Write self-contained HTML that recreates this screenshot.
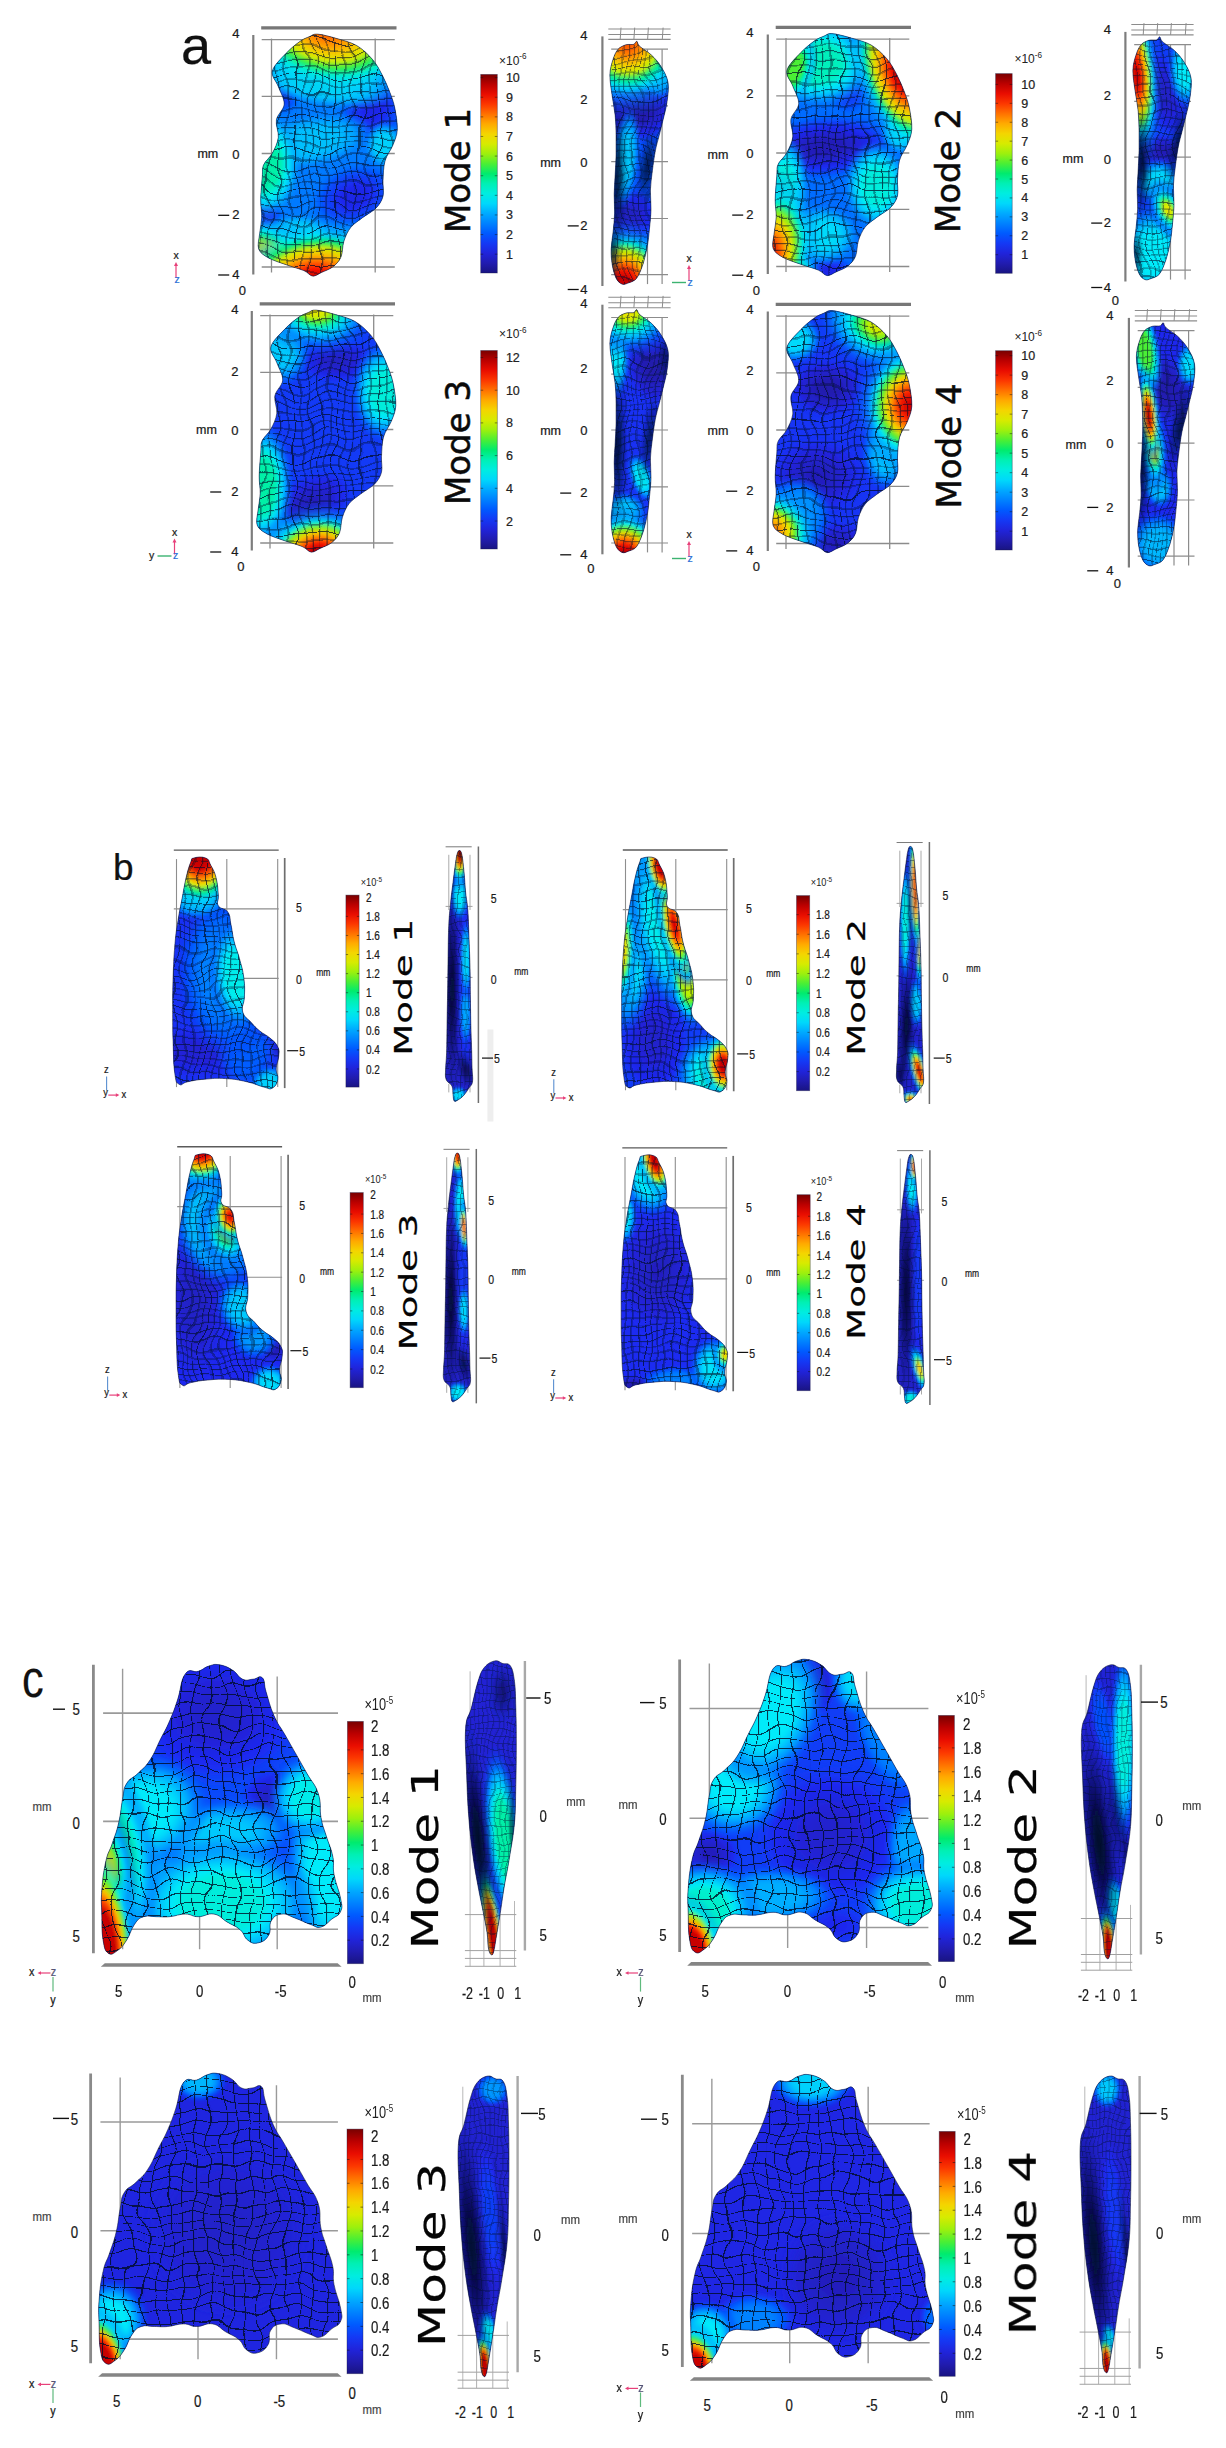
<!DOCTYPE html>
<html><head><meta charset="utf-8"><title>Mode shapes</title>
<style>
html,body{margin:0;padding:0;background:#fff}
svg{display:block}
.ls{font-family:"Liberation Sans",sans-serif}
.dv{font-family:"DejaVu Sans","Liberation Sans",sans-serif}
</style></head><body>
<svg width="1226" height="2448" viewBox="0 0 1226 2448">
<defs>
<linearGradient id="jet" x1="0" y1="0" x2="0" y2="1"><stop offset="0.000" stop-color="#780000"/><stop offset="0.050" stop-color="#bb0000"/><stop offset="0.100" stop-color="#e90d00"/><stop offset="0.150" stop-color="#fc3700"/><stop offset="0.200" stop-color="#ff7100"/><stop offset="0.250" stop-color="#ffaa00"/><stop offset="0.300" stop-color="#f4d500"/><stop offset="0.350" stop-color="#d7eb00"/><stop offset="0.400" stop-color="#9df00d"/><stop offset="0.450" stop-color="#4bef34"/><stop offset="0.500" stop-color="#00eb6e"/><stop offset="0.550" stop-color="#00f0b4"/><stop offset="0.600" stop-color="#00ede0"/><stop offset="0.650" stop-color="#00d8fb"/><stop offset="0.700" stop-color="#00aaff"/><stop offset="0.750" stop-color="#0082ff"/><stop offset="0.800" stop-color="#005aff"/><stop offset="0.850" stop-color="#1439f5"/><stop offset="0.900" stop-color="#2024db"/><stop offset="0.950" stop-color="#211cb0"/><stop offset="1.000" stop-color="#191482"/></linearGradient>
<pattern id="m1" width="8.4" height="7.6" patternUnits="userSpaceOnUse"><path d="M0 0.5H8.4M0.5 0V7.6" stroke="#050c28" stroke-width="1.0" fill="none"/></pattern>
<pattern id="m2" width="5.6" height="6.6" patternUnits="userSpaceOnUse"><path d="M0 0.5H5.6M0.5 0V6.6" stroke="#06102c" stroke-width="0.8" fill="none"/></pattern>
<pattern id="m3" width="13" height="11" patternUnits="userSpaceOnUse"><path d="M0 0.5H13M0.5 0V11" stroke="#050c28" stroke-width="1.1" fill="none"/></pattern>
<filter id="wf" x="-5%" y="-5%" width="110%" height="110%"><feTurbulence type="fractalNoise" baseFrequency="0.022" numOctaves="2" seed="7" result="n"/><feDisplacementMap in="SourceGraphic" in2="n" scale="26" xChannelSelector="R" yChannelSelector="G"/><feGaussianBlur stdDeviation="0.35"/></filter>
<pattern id="m5" width="6.8" height="7.2" patternUnits="userSpaceOnUse"><path d="M0 0.5H6.8M0.5 0V7.2" stroke="#050c28" stroke-width="0.9" fill="none"/></pattern>
<pattern id="m4" width="4.6" height="7" patternUnits="userSpaceOnUse"><path d="M0 0.5H4.6M0.5 0V7" stroke="#06102c" stroke-width="0.7" fill="none"/></pattern>
<filter id="wf2" x="-5%" y="-5%" width="110%" height="110%"><feTurbulence type="fractalNoise" baseFrequency="0.03" numOctaves="2" seed="3" result="n"/><feDisplacementMap in="SourceGraphic" in2="n" scale="16" xChannelSelector="R" yChannelSelector="G"/><feGaussianBlur stdDeviation="0.35"/></filter>
<filter id="bl" x="-10%" y="-10%" width="120%" height="120%"><feGaussianBlur stdDeviation="1.5"/></filter>
<clipPath id="c1"><path d="M317.5 34.1C322.1 34.4 330.5 36.7 337.0 38.6C343.5 40.5 350.7 42.1 356.6 45.5C362.5 48.9 368.1 54.3 372.3 59.2C376.6 64.1 379.2 69.3 382.1 74.8C385.0 80.3 387.8 86.9 389.9 92.4C392.0 98.0 393.6 101.9 394.8 108.1C396.0 114.3 397.6 123.4 397.3 129.6C397.0 135.8 394.9 140.1 392.8 145.3C390.8 150.5 386.6 155.1 385.0 161.0C383.4 166.9 383.3 174.6 383.0 180.5C382.7 186.4 384.1 191.6 383.0 196.2C381.9 200.8 379.6 204.3 376.2 207.9C372.8 211.5 366.8 214.4 362.5 217.7C358.2 221.0 353.8 223.6 350.7 227.5C347.6 231.4 345.5 236.3 343.9 241.2C342.3 246.1 342.8 252.6 341.0 256.9C339.2 261.1 336.4 264.1 333.1 266.7C329.8 269.3 324.8 270.9 321.4 272.5C318.0 274.1 315.5 276.4 312.6 276.1C309.7 275.8 308.2 272.5 303.8 270.6C299.4 268.7 292.0 266.8 286.1 264.7C280.2 262.6 273.1 260.5 268.5 257.9C263.9 255.3 260.2 253.2 258.7 249.1C257.2 245.0 259.2 238.6 259.7 233.4C260.2 228.2 261.5 223.2 261.7 217.7C261.9 212.1 260.6 206.9 260.7 200.1C260.8 193.2 261.8 182.5 262.3 176.6C262.8 170.7 261.9 168.8 263.6 164.9C265.3 161.0 269.9 157.7 272.4 153.1C274.8 148.5 277.6 143.1 278.3 137.5C279.0 131.9 275.4 125.3 276.4 119.8C277.4 114.2 283.9 109.7 284.2 104.2C284.5 98.7 280.3 92.1 278.3 86.6C276.3 81.0 271.1 76.5 272.4 70.9C273.7 65.4 281.5 58.2 286.1 53.3C290.7 48.4 295.9 44.3 299.8 41.5C303.7 38.7 306.7 37.8 309.6 36.6C312.6 35.4 312.9 33.8 317.5 34.1Z"/></clipPath>
<radialGradient id="g2"><stop offset="0.00" stop-color="#1f26e4" stop-opacity="1.00"/><stop offset="0.10" stop-color="#1f26e4" stop-opacity="1.00"/><stop offset="0.20" stop-color="#1f26e7" stop-opacity="1.00"/><stop offset="0.30" stop-color="#1e28ee" stop-opacity="1.00"/><stop offset="0.40" stop-color="#1a2ff2" stop-opacity="1.00"/><stop offset="0.50" stop-color="#133af5" stop-opacity="1.00"/><stop offset="0.60" stop-color="#0d45f9" stop-opacity="1.00"/><stop offset="0.70" stop-color="#0650fc" stop-opacity="1.00"/><stop offset="0.80" stop-color="#005aff" stop-opacity="0.71"/><stop offset="0.90" stop-color="#0063ff" stop-opacity="0.36"/><stop offset="1.00" stop-color="#006bff" stop-opacity="0.00"/></radialGradient>
<radialGradient id="g3"><stop offset="0.00" stop-color="#00c0fd" stop-opacity="1.00"/><stop offset="0.10" stop-color="#00c0fd" stop-opacity="1.00"/><stop offset="0.20" stop-color="#00c0fd" stop-opacity="1.00"/><stop offset="0.30" stop-color="#00c0fd" stop-opacity="1.00"/><stop offset="0.40" stop-color="#00bffd" stop-opacity="1.00"/><stop offset="0.50" stop-color="#00b9fe" stop-opacity="1.00"/><stop offset="0.60" stop-color="#00adff" stop-opacity="1.00"/><stop offset="0.70" stop-color="#00a1ff" stop-opacity="1.00"/><stop offset="0.80" stop-color="#0095ff" stop-opacity="0.71"/><stop offset="0.90" stop-color="#008bff" stop-opacity="0.36"/><stop offset="1.00" stop-color="#0084ff" stop-opacity="0.00"/></radialGradient>
<radialGradient id="g4"><stop offset="0.00" stop-color="#00d1fc" stop-opacity="1.00"/><stop offset="0.10" stop-color="#00d1fc" stop-opacity="1.00"/><stop offset="0.20" stop-color="#00d1fc" stop-opacity="1.00"/><stop offset="0.30" stop-color="#00d1fc" stop-opacity="1.00"/><stop offset="0.40" stop-color="#00d0fc" stop-opacity="1.00"/><stop offset="0.50" stop-color="#00c8fd" stop-opacity="1.00"/><stop offset="0.60" stop-color="#00bafe" stop-opacity="1.00"/><stop offset="0.70" stop-color="#00a9ff" stop-opacity="1.00"/><stop offset="0.80" stop-color="#009bff" stop-opacity="0.71"/><stop offset="0.90" stop-color="#008fff" stop-opacity="0.36"/><stop offset="1.00" stop-color="#0087ff" stop-opacity="0.00"/></radialGradient>
<radialGradient id="g5"><stop offset="0.00" stop-color="#00dafb" stop-opacity="1.00"/><stop offset="0.10" stop-color="#00dafb" stop-opacity="1.00"/><stop offset="0.20" stop-color="#00dafb" stop-opacity="1.00"/><stop offset="0.30" stop-color="#00dafb" stop-opacity="1.00"/><stop offset="0.40" stop-color="#00d9fb" stop-opacity="1.00"/><stop offset="0.50" stop-color="#00d0fc" stop-opacity="1.00"/><stop offset="0.60" stop-color="#00c1fd" stop-opacity="1.00"/><stop offset="0.70" stop-color="#00aeff" stop-opacity="1.00"/><stop offset="0.80" stop-color="#009eff" stop-opacity="0.71"/><stop offset="0.90" stop-color="#0091ff" stop-opacity="0.36"/><stop offset="1.00" stop-color="#0088ff" stop-opacity="0.00"/></radialGradient>
<radialGradient id="g6"><stop offset="0.00" stop-color="#00ecea" stop-opacity="1.00"/><stop offset="0.10" stop-color="#00ecea" stop-opacity="1.00"/><stop offset="0.20" stop-color="#00ecea" stop-opacity="1.00"/><stop offset="0.30" stop-color="#00ecea" stop-opacity="1.00"/><stop offset="0.40" stop-color="#00eced" stop-opacity="1.00"/><stop offset="0.50" stop-color="#00e7fa" stop-opacity="1.00"/><stop offset="0.60" stop-color="#00d4fc" stop-opacity="1.00"/><stop offset="0.70" stop-color="#00bdfe" stop-opacity="1.00"/><stop offset="0.80" stop-color="#00a7ff" stop-opacity="0.71"/><stop offset="0.90" stop-color="#0097ff" stop-opacity="0.36"/><stop offset="1.00" stop-color="#008bff" stop-opacity="0.00"/></radialGradient>
<radialGradient id="g7"><stop offset="0.00" stop-color="#00efa6" stop-opacity="1.00"/><stop offset="0.10" stop-color="#00efa6" stop-opacity="1.00"/><stop offset="0.20" stop-color="#00efa6" stop-opacity="1.00"/><stop offset="0.30" stop-color="#00efa6" stop-opacity="1.00"/><stop offset="0.40" stop-color="#00efab" stop-opacity="1.00"/><stop offset="0.50" stop-color="#00efc8" stop-opacity="1.00"/><stop offset="0.60" stop-color="#00ebf5" stop-opacity="1.00"/><stop offset="0.70" stop-color="#00d1fc" stop-opacity="1.00"/><stop offset="0.80" stop-color="#00b4fe" stop-opacity="0.71"/><stop offset="0.90" stop-color="#009eff" stop-opacity="0.36"/><stop offset="1.00" stop-color="#008fff" stop-opacity="0.00"/></radialGradient>
<radialGradient id="g8"><stop offset="0.00" stop-color="#ff9f00" stop-opacity="1.00"/><stop offset="0.10" stop-color="#ffab00" stop-opacity="1.00"/><stop offset="0.20" stop-color="#f8c600" stop-opacity="1.00"/><stop offset="0.30" stop-color="#e9e700" stop-opacity="1.00"/><stop offset="0.40" stop-color="#90f012" stop-opacity="1.00"/><stop offset="0.50" stop-color="#00ee93" stop-opacity="1.00"/><stop offset="0.60" stop-color="#00eafa" stop-opacity="0.99"/><stop offset="0.70" stop-color="#00c2fd" stop-opacity="0.65"/><stop offset="0.80" stop-color="#00a4ff" stop-opacity="0.40"/><stop offset="0.90" stop-color="#0093ff" stop-opacity="0.16"/><stop offset="1.00" stop-color="#0088ff" stop-opacity="0.00"/></radialGradient>
<radialGradient id="g9"><stop offset="0.00" stop-color="#ff5f00" stop-opacity="1.00"/><stop offset="0.10" stop-color="#ff6d00" stop-opacity="1.00"/><stop offset="0.20" stop-color="#ff9700" stop-opacity="1.00"/><stop offset="0.30" stop-color="#f7c900" stop-opacity="1.00"/><stop offset="0.40" stop-color="#d9eb00" stop-opacity="1.00"/><stop offset="0.50" stop-color="#2eee4a" stop-opacity="1.00"/><stop offset="0.60" stop-color="#00edd9" stop-opacity="0.99"/><stop offset="0.70" stop-color="#00cefc" stop-opacity="0.65"/><stop offset="0.80" stop-color="#00abff" stop-opacity="0.40"/><stop offset="0.90" stop-color="#0097ff" stop-opacity="0.16"/><stop offset="1.00" stop-color="#008aff" stop-opacity="0.00"/></radialGradient>
<radialGradient id="g10"><stop offset="0.00" stop-color="#c80000" stop-opacity="1.00"/><stop offset="0.10" stop-color="#d30400" stop-opacity="1.00"/><stop offset="0.20" stop-color="#fa1400" stop-opacity="1.00"/><stop offset="0.30" stop-color="#ff6600" stop-opacity="1.00"/><stop offset="0.40" stop-color="#fbbc00" stop-opacity="1.00"/><stop offset="0.50" stop-color="#d6eb00" stop-opacity="1.00"/><stop offset="0.60" stop-color="#00eb6f" stop-opacity="0.99"/><stop offset="0.70" stop-color="#00ebfa" stop-opacity="0.65"/><stop offset="0.80" stop-color="#00bdfe" stop-opacity="0.40"/><stop offset="0.90" stop-color="#00a0ff" stop-opacity="0.16"/><stop offset="1.00" stop-color="#008fff" stop-opacity="0.00"/></radialGradient>
<clipPath id="c11"><path d="M832.0 33.6C836.6 33.9 845.0 36.2 851.5 38.1C858.0 40.0 865.2 41.6 871.1 45.0C877.0 48.4 882.5 53.8 886.8 58.7C891.0 63.6 893.7 68.8 896.6 74.3C899.5 79.8 902.3 86.4 904.4 91.9C906.5 97.5 908.1 101.4 909.3 107.6C910.5 113.8 912.1 122.9 911.8 129.1C911.5 135.3 909.3 139.6 907.3 144.8C905.2 150.0 901.1 154.6 899.5 160.5C897.9 166.4 897.8 174.1 897.5 180.0C897.2 185.9 898.6 191.1 897.5 195.7C896.4 200.3 894.1 203.8 890.7 207.4C887.3 211.0 881.2 213.9 877.0 217.2C872.8 220.5 868.3 223.1 865.2 227.0C862.1 230.9 860.0 235.8 858.4 240.7C856.8 245.6 857.3 252.1 855.5 256.4C853.7 260.6 850.9 263.6 847.6 266.2C844.3 268.8 839.3 270.4 835.9 272.0C832.5 273.6 830.0 275.9 827.1 275.6C824.2 275.3 822.7 272.0 818.3 270.1C813.9 268.2 806.5 266.3 800.6 264.2C794.7 262.1 787.6 260.0 783.0 257.4C778.4 254.8 774.7 252.7 773.2 248.6C771.7 244.5 773.7 238.1 774.2 232.9C774.7 227.7 776.0 222.8 776.2 217.2C776.4 211.6 775.1 206.4 775.2 199.6C775.3 192.8 776.3 182.0 776.8 176.1C777.3 170.2 776.4 168.3 778.1 164.4C779.8 160.5 784.5 157.2 786.9 152.6C789.3 148.0 792.1 142.6 792.8 137.0C793.5 131.4 789.9 124.8 790.9 119.3C791.9 113.8 798.4 109.2 798.7 103.7C799.0 98.2 794.8 91.6 792.8 86.1C790.8 80.5 785.6 76.0 786.9 70.4C788.2 64.9 796.0 57.7 800.6 52.8C805.2 47.9 810.4 43.8 814.3 41.0C818.2 38.2 821.1 37.3 824.1 36.1C827.1 34.9 827.4 33.3 832.0 33.6Z"/></clipPath>
<radialGradient id="g12"><stop offset="0.00" stop-color="#221db5" stop-opacity="1.00"/><stop offset="0.10" stop-color="#221db5" stop-opacity="1.00"/><stop offset="0.20" stop-color="#231eb8" stop-opacity="1.00"/><stop offset="0.30" stop-color="#2220c2" stop-opacity="1.00"/><stop offset="0.40" stop-color="#2122d0" stop-opacity="1.00"/><stop offset="0.50" stop-color="#1f25e1" stop-opacity="1.00"/><stop offset="0.60" stop-color="#1c2bf1" stop-opacity="1.00"/><stop offset="0.70" stop-color="#1439f5" stop-opacity="1.00"/><stop offset="0.80" stop-color="#0c45f9" stop-opacity="0.71"/><stop offset="0.90" stop-color="#0650fc" stop-opacity="0.36"/><stop offset="1.00" stop-color="#0158fe" stop-opacity="0.00"/></radialGradient>
<radialGradient id="g13"><stop offset="0.00" stop-color="#1f26e4" stop-opacity="1.00"/><stop offset="0.10" stop-color="#1f26e4" stop-opacity="1.00"/><stop offset="0.20" stop-color="#1f26e6" stop-opacity="1.00"/><stop offset="0.30" stop-color="#1e27ed" stop-opacity="1.00"/><stop offset="0.40" stop-color="#1b2df1" stop-opacity="1.00"/><stop offset="0.50" stop-color="#1636f4" stop-opacity="1.00"/><stop offset="0.60" stop-color="#103ff7" stop-opacity="1.00"/><stop offset="0.70" stop-color="#0a49fa" stop-opacity="1.00"/><stop offset="0.80" stop-color="#0551fc" stop-opacity="0.71"/><stop offset="0.90" stop-color="#0158fe" stop-opacity="0.36"/><stop offset="1.00" stop-color="#005eff" stop-opacity="0.00"/></radialGradient>
<radialGradient id="g14"><stop offset="0.00" stop-color="#1537f5" stop-opacity="1.00"/><stop offset="0.10" stop-color="#1537f5" stop-opacity="1.00"/><stop offset="0.20" stop-color="#1438f5" stop-opacity="1.00"/><stop offset="0.30" stop-color="#123cf6" stop-opacity="1.00"/><stop offset="0.40" stop-color="#0f41f7" stop-opacity="1.00"/><stop offset="0.50" stop-color="#0c47f9" stop-opacity="1.00"/><stop offset="0.60" stop-color="#084dfb" stop-opacity="1.00"/><stop offset="0.70" stop-color="#0453fd" stop-opacity="1.00"/><stop offset="0.80" stop-color="#0159ff" stop-opacity="0.71"/><stop offset="0.90" stop-color="#005eff" stop-opacity="0.36"/><stop offset="1.00" stop-color="#0063ff" stop-opacity="0.00"/></radialGradient>
<radialGradient id="g15"><stop offset="0.00" stop-color="#00dafb" stop-opacity="1.00"/><stop offset="0.10" stop-color="#00dafb" stop-opacity="1.00"/><stop offset="0.20" stop-color="#00dafb" stop-opacity="1.00"/><stop offset="0.30" stop-color="#00dafb" stop-opacity="1.00"/><stop offset="0.40" stop-color="#00d8fb" stop-opacity="1.00"/><stop offset="0.50" stop-color="#00cefc" stop-opacity="1.00"/><stop offset="0.60" stop-color="#00bcfe" stop-opacity="1.00"/><stop offset="0.70" stop-color="#00a7ff" stop-opacity="1.00"/><stop offset="0.80" stop-color="#0095ff" stop-opacity="0.71"/><stop offset="0.90" stop-color="#0086ff" stop-opacity="0.36"/><stop offset="1.00" stop-color="#007bff" stop-opacity="0.00"/></radialGradient>
<radialGradient id="g16"><stop offset="0.00" stop-color="#00ebfa" stop-opacity="1.00"/><stop offset="0.10" stop-color="#00ebfa" stop-opacity="1.00"/><stop offset="0.20" stop-color="#00ebfa" stop-opacity="1.00"/><stop offset="0.30" stop-color="#00ebfa" stop-opacity="1.00"/><stop offset="0.40" stop-color="#00e9fa" stop-opacity="1.00"/><stop offset="0.50" stop-color="#00defb" stop-opacity="1.00"/><stop offset="0.60" stop-color="#00c9fd" stop-opacity="1.00"/><stop offset="0.70" stop-color="#00b1fe" stop-opacity="1.00"/><stop offset="0.80" stop-color="#009bff" stop-opacity="0.71"/><stop offset="0.90" stop-color="#008aff" stop-opacity="0.36"/><stop offset="1.00" stop-color="#007dff" stop-opacity="0.00"/></radialGradient>
<radialGradient id="g17"><stop offset="0.00" stop-color="#00eddb" stop-opacity="1.00"/><stop offset="0.10" stop-color="#00eddb" stop-opacity="1.00"/><stop offset="0.20" stop-color="#00eddb" stop-opacity="1.00"/><stop offset="0.30" stop-color="#00eddb" stop-opacity="1.00"/><stop offset="0.40" stop-color="#00edde" stop-opacity="1.00"/><stop offset="0.50" stop-color="#00ebf6" stop-opacity="1.00"/><stop offset="0.60" stop-color="#00d6fc" stop-opacity="1.00"/><stop offset="0.70" stop-color="#00bbfe" stop-opacity="1.00"/><stop offset="0.80" stop-color="#00a1ff" stop-opacity="0.71"/><stop offset="0.90" stop-color="#008eff" stop-opacity="0.36"/><stop offset="1.00" stop-color="#0080ff" stop-opacity="0.00"/></radialGradient>
<radialGradient id="g18"><stop offset="0.00" stop-color="#00f0bb" stop-opacity="1.00"/><stop offset="0.10" stop-color="#00f0bb" stop-opacity="1.00"/><stop offset="0.20" stop-color="#00f0bb" stop-opacity="1.00"/><stop offset="0.30" stop-color="#00f0bb" stop-opacity="1.00"/><stop offset="0.40" stop-color="#00efbf" stop-opacity="1.00"/><stop offset="0.50" stop-color="#00edd9" stop-opacity="1.00"/><stop offset="0.60" stop-color="#00e3fb" stop-opacity="1.00"/><stop offset="0.70" stop-color="#00c5fd" stop-opacity="1.00"/><stop offset="0.80" stop-color="#00a7ff" stop-opacity="0.71"/><stop offset="0.90" stop-color="#0092ff" stop-opacity="0.36"/><stop offset="1.00" stop-color="#0082ff" stop-opacity="0.00"/></radialGradient>
<radialGradient id="g19"><stop offset="0.00" stop-color="#4bef34" stop-opacity="1.00"/><stop offset="0.10" stop-color="#4bef34" stop-opacity="1.00"/><stop offset="0.20" stop-color="#4bef34" stop-opacity="1.00"/><stop offset="0.30" stop-color="#4bef34" stop-opacity="1.00"/><stop offset="0.40" stop-color="#43ef3a" stop-opacity="1.00"/><stop offset="0.50" stop-color="#07eb68" stop-opacity="1.00"/><stop offset="0.60" stop-color="#00efc1" stop-opacity="1.00"/><stop offset="0.70" stop-color="#00e2fb" stop-opacity="1.00"/><stop offset="0.80" stop-color="#00bbfe" stop-opacity="0.71"/><stop offset="0.90" stop-color="#009dff" stop-opacity="0.36"/><stop offset="1.00" stop-color="#0088ff" stop-opacity="0.00"/></radialGradient>
<radialGradient id="g20"><stop offset="0.00" stop-color="#f3d800" stop-opacity="1.00"/><stop offset="0.10" stop-color="#f1e000" stop-opacity="1.00"/><stop offset="0.20" stop-color="#dfe900" stop-opacity="1.00"/><stop offset="0.30" stop-color="#94f011" stop-opacity="1.00"/><stop offset="0.40" stop-color="#00ec79" stop-opacity="1.00"/><stop offset="0.50" stop-color="#00ece9" stop-opacity="1.00"/><stop offset="0.60" stop-color="#00c9fd" stop-opacity="0.99"/><stop offset="0.70" stop-color="#00a6ff" stop-opacity="0.65"/><stop offset="0.80" stop-color="#0090ff" stop-opacity="0.40"/><stop offset="0.90" stop-color="#0081ff" stop-opacity="0.16"/><stop offset="1.00" stop-color="#0077ff" stop-opacity="0.00"/></radialGradient>
<radialGradient id="g21"><stop offset="0.00" stop-color="#f31100" stop-opacity="1.00"/><stop offset="0.10" stop-color="#fb1d00" stop-opacity="1.00"/><stop offset="0.20" stop-color="#fe5000" stop-opacity="1.00"/><stop offset="0.30" stop-color="#ff9a00" stop-opacity="1.00"/><stop offset="0.40" stop-color="#f2de00" stop-opacity="1.00"/><stop offset="0.50" stop-color="#81f018" stop-opacity="1.00"/><stop offset="0.60" stop-color="#00efc1" stop-opacity="0.99"/><stop offset="0.70" stop-color="#00d1fc" stop-opacity="0.65"/><stop offset="0.80" stop-color="#00a7ff" stop-opacity="0.40"/><stop offset="0.90" stop-color="#008eff" stop-opacity="0.16"/><stop offset="1.00" stop-color="#007eff" stop-opacity="0.00"/></radialGradient>
<radialGradient id="g22"><stop offset="0.00" stop-color="#c80000" stop-opacity="1.00"/><stop offset="0.10" stop-color="#d30400" stop-opacity="1.00"/><stop offset="0.20" stop-color="#fa1700" stop-opacity="1.00"/><stop offset="0.30" stop-color="#ff6a00" stop-opacity="1.00"/><stop offset="0.40" stop-color="#f9c100" stop-opacity="1.00"/><stop offset="0.50" stop-color="#cfed00" stop-opacity="1.00"/><stop offset="0.60" stop-color="#00ee92" stop-opacity="0.99"/><stop offset="0.70" stop-color="#00ddfb" stop-opacity="0.65"/><stop offset="0.80" stop-color="#00aeff" stop-opacity="0.40"/><stop offset="0.90" stop-color="#0092ff" stop-opacity="0.16"/><stop offset="1.00" stop-color="#0080ff" stop-opacity="0.00"/></radialGradient>
<clipPath id="c23"><path d="M316.0 310.1C320.6 310.4 329.0 312.7 335.5 314.6C342.0 316.5 349.2 318.1 355.1 321.5C361.0 324.9 366.6 330.3 370.8 335.2C375.1 340.1 377.7 345.3 380.6 350.8C383.5 356.3 386.3 362.8 388.4 368.4C390.5 373.9 392.1 377.9 393.3 384.1C394.5 390.3 396.1 399.4 395.8 405.6C395.5 411.8 393.4 416.1 391.3 421.3C389.2 426.5 385.1 431.1 383.5 437.0C381.9 442.9 381.8 450.6 381.5 456.5C381.2 462.4 382.6 467.6 381.5 472.2C380.4 476.8 378.1 480.3 374.7 483.9C371.3 487.5 365.2 490.4 361.0 493.7C356.8 497.0 352.3 499.6 349.2 503.5C346.1 507.4 344.0 512.3 342.4 517.2C340.8 522.1 341.3 528.6 339.5 532.9C337.7 537.1 334.9 540.1 331.6 542.7C328.3 545.3 323.3 546.9 319.9 548.5C316.5 550.1 314.0 552.4 311.1 552.1C308.2 551.8 306.7 548.5 302.3 546.6C297.9 544.7 290.5 542.8 284.6 540.7C278.7 538.6 271.6 536.5 267.0 533.9C262.4 531.3 258.7 529.2 257.2 525.1C255.7 521.0 257.7 514.6 258.2 509.4C258.7 504.2 260.0 499.2 260.2 493.7C260.4 488.1 259.1 483.0 259.2 476.1C259.3 469.2 260.3 458.5 260.8 452.6C261.3 446.7 260.4 444.8 262.1 440.9C263.8 437.0 268.4 433.7 270.9 429.1C273.3 424.5 276.1 419.1 276.8 413.5C277.5 407.9 273.9 401.4 274.9 395.8C275.9 390.2 282.4 385.7 282.7 380.2C283.0 374.7 278.8 368.2 276.8 362.6C274.8 357.1 269.6 352.4 270.9 346.9C272.2 341.3 280.0 334.2 284.6 329.3C289.2 324.4 294.4 320.3 298.3 317.5C302.2 314.7 305.2 313.8 308.1 312.6C311.1 311.4 311.4 309.8 316.0 310.1Z"/></clipPath>
<radialGradient id="g24"><stop offset="0.00" stop-color="#231fbd" stop-opacity="1.00"/><stop offset="0.10" stop-color="#231fbd" stop-opacity="1.00"/><stop offset="0.20" stop-color="#221fbf" stop-opacity="1.00"/><stop offset="0.30" stop-color="#2220c4" stop-opacity="1.00"/><stop offset="0.40" stop-color="#2121cb" stop-opacity="1.00"/><stop offset="0.50" stop-color="#2123d4" stop-opacity="1.00"/><stop offset="0.60" stop-color="#2025de" stop-opacity="1.00"/><stop offset="0.70" stop-color="#1f26e7" stop-opacity="1.00"/><stop offset="0.80" stop-color="#1e28f0" stop-opacity="0.71"/><stop offset="0.90" stop-color="#1b2df2" stop-opacity="0.36"/><stop offset="1.00" stop-color="#1832f3" stop-opacity="0.00"/></radialGradient>
<radialGradient id="g25"><stop offset="0.00" stop-color="#2220c5" stop-opacity="1.00"/><stop offset="0.10" stop-color="#2220c5" stop-opacity="1.00"/><stop offset="0.20" stop-color="#2220c6" stop-opacity="1.00"/><stop offset="0.30" stop-color="#2121cb" stop-opacity="1.00"/><stop offset="0.40" stop-color="#2122d2" stop-opacity="1.00"/><stop offset="0.50" stop-color="#2024da" stop-opacity="1.00"/><stop offset="0.60" stop-color="#1f26e2" stop-opacity="1.00"/><stop offset="0.70" stop-color="#1e27eb" stop-opacity="1.00"/><stop offset="0.80" stop-color="#1d2af1" stop-opacity="0.71"/><stop offset="0.90" stop-color="#1a2ff2" stop-opacity="0.36"/><stop offset="1.00" stop-color="#1833f3" stop-opacity="0.00"/></radialGradient>
<radialGradient id="g26"><stop offset="0.00" stop-color="#00c9fd" stop-opacity="1.00"/><stop offset="0.10" stop-color="#00c9fd" stop-opacity="1.00"/><stop offset="0.20" stop-color="#00c9fd" stop-opacity="1.00"/><stop offset="0.30" stop-color="#00c9fd" stop-opacity="1.00"/><stop offset="0.40" stop-color="#00c7fd" stop-opacity="1.00"/><stop offset="0.50" stop-color="#00b9fe" stop-opacity="1.00"/><stop offset="0.60" stop-color="#00a1ff" stop-opacity="1.00"/><stop offset="0.70" stop-color="#0087ff" stop-opacity="1.00"/><stop offset="0.80" stop-color="#006eff" stop-opacity="0.71"/><stop offset="0.90" stop-color="#0059ff" stop-opacity="0.36"/><stop offset="1.00" stop-color="#084cfb" stop-opacity="0.00"/></radialGradient>
<radialGradient id="g27"><stop offset="0.00" stop-color="#00ebfa" stop-opacity="1.00"/><stop offset="0.10" stop-color="#00ebfa" stop-opacity="1.00"/><stop offset="0.20" stop-color="#00ebfa" stop-opacity="1.00"/><stop offset="0.30" stop-color="#00ebfa" stop-opacity="1.00"/><stop offset="0.40" stop-color="#00e9fa" stop-opacity="1.00"/><stop offset="0.50" stop-color="#00d8fb" stop-opacity="1.00"/><stop offset="0.60" stop-color="#00bafe" stop-opacity="1.00"/><stop offset="0.70" stop-color="#0098ff" stop-opacity="1.00"/><stop offset="0.80" stop-color="#007aff" stop-opacity="0.71"/><stop offset="0.90" stop-color="#0061ff" stop-opacity="0.36"/><stop offset="1.00" stop-color="#0650fc" stop-opacity="0.00"/></radialGradient>
<radialGradient id="g28"><stop offset="0.00" stop-color="#00edda" stop-opacity="1.00"/><stop offset="0.10" stop-color="#00edda" stop-opacity="1.00"/><stop offset="0.20" stop-color="#00edda" stop-opacity="1.00"/><stop offset="0.30" stop-color="#00edda" stop-opacity="1.00"/><stop offset="0.40" stop-color="#00eddf" stop-opacity="1.00"/><stop offset="0.50" stop-color="#00e7fa" stop-opacity="1.00"/><stop offset="0.60" stop-color="#00c7fd" stop-opacity="1.00"/><stop offset="0.70" stop-color="#00a1ff" stop-opacity="1.00"/><stop offset="0.80" stop-color="#0080ff" stop-opacity="0.71"/><stop offset="0.90" stop-color="#0065ff" stop-opacity="0.36"/><stop offset="1.00" stop-color="#0552fd" stop-opacity="0.00"/></radialGradient>
<radialGradient id="g29"><stop offset="0.00" stop-color="#00efa6" stop-opacity="1.00"/><stop offset="0.10" stop-color="#00efa6" stop-opacity="1.00"/><stop offset="0.20" stop-color="#00efa6" stop-opacity="1.00"/><stop offset="0.30" stop-color="#00efa6" stop-opacity="1.00"/><stop offset="0.40" stop-color="#00f0ae" stop-opacity="1.00"/><stop offset="0.50" stop-color="#00eed6" stop-opacity="1.00"/><stop offset="0.60" stop-color="#00dafb" stop-opacity="1.00"/><stop offset="0.70" stop-color="#00aeff" stop-opacity="1.00"/><stop offset="0.80" stop-color="#0089ff" stop-opacity="0.71"/><stop offset="0.90" stop-color="#006aff" stop-opacity="0.36"/><stop offset="1.00" stop-color="#0355fd" stop-opacity="0.00"/></radialGradient>
<radialGradient id="g30"><stop offset="0.00" stop-color="#f0e600" stop-opacity="1.00"/><stop offset="0.10" stop-color="#e7e800" stop-opacity="1.00"/><stop offset="0.20" stop-color="#cbed00" stop-opacity="1.00"/><stop offset="0.30" stop-color="#33ee46" stop-opacity="1.00"/><stop offset="0.40" stop-color="#00eed2" stop-opacity="1.00"/><stop offset="0.50" stop-color="#00c9fd" stop-opacity="1.00"/><stop offset="0.60" stop-color="#009aff" stop-opacity="0.99"/><stop offset="0.70" stop-color="#0077ff" stop-opacity="0.65"/><stop offset="0.80" stop-color="#005eff" stop-opacity="0.40"/><stop offset="0.90" stop-color="#074ffc" stop-opacity="0.16"/><stop offset="1.00" stop-color="#0c45f9" stop-opacity="0.00"/></radialGradient>
<radialGradient id="g31"><stop offset="0.00" stop-color="#c80000" stop-opacity="1.00"/><stop offset="0.10" stop-color="#c80000" stop-opacity="1.00"/><stop offset="0.20" stop-color="#f61200" stop-opacity="1.00"/><stop offset="0.30" stop-color="#ff6e00" stop-opacity="1.00"/><stop offset="0.40" stop-color="#f6ce00" stop-opacity="1.00"/><stop offset="0.50" stop-color="#7ff019" stop-opacity="1.00"/><stop offset="0.60" stop-color="#00ece5" stop-opacity="0.99"/><stop offset="0.70" stop-color="#00aeff" stop-opacity="0.65"/><stop offset="0.80" stop-color="#007fff" stop-opacity="0.40"/><stop offset="0.90" stop-color="#0060ff" stop-opacity="0.16"/><stop offset="1.00" stop-color="#074efb" stop-opacity="0.00"/></radialGradient>
<clipPath id="c32"><path d="M832.0 310.6C836.6 310.9 845.0 313.2 851.5 315.1C858.0 317.0 865.2 318.6 871.1 322.0C877.0 325.4 882.5 330.8 886.8 335.7C891.0 340.6 893.7 345.8 896.6 351.3C899.5 356.8 902.3 363.3 904.4 368.9C906.5 374.4 908.1 378.4 909.3 384.6C910.5 390.8 912.1 399.9 911.8 406.1C911.5 412.3 909.3 416.6 907.3 421.8C905.2 427.0 901.1 431.6 899.5 437.5C897.9 443.4 897.8 451.1 897.5 457.0C897.2 462.9 898.6 468.1 897.5 472.7C896.4 477.3 894.1 480.8 890.7 484.4C887.3 488.0 881.2 490.9 877.0 494.2C872.8 497.5 868.3 500.1 865.2 504.0C862.1 507.9 860.0 512.8 858.4 517.7C856.8 522.6 857.3 529.1 855.5 533.4C853.7 537.6 850.9 540.6 847.6 543.2C844.3 545.8 839.3 547.4 835.9 549.0C832.5 550.6 830.0 552.9 827.1 552.6C824.2 552.3 822.7 549.0 818.3 547.1C813.9 545.2 806.5 543.3 800.6 541.2C794.7 539.1 787.6 537.0 783.0 534.4C778.4 531.8 774.7 529.7 773.2 525.6C771.7 521.5 773.7 515.1 774.2 509.9C774.7 504.7 776.0 499.8 776.2 494.2C776.4 488.6 775.1 483.5 775.2 476.6C775.3 469.8 776.3 459.0 776.8 453.1C777.3 447.2 776.4 445.3 778.1 441.4C779.8 437.5 784.5 434.2 786.9 429.6C789.3 425.0 792.1 419.6 792.8 414.0C793.5 408.4 789.9 401.9 790.9 396.3C791.9 390.8 798.4 386.2 798.7 380.7C799.0 375.2 794.8 368.7 792.8 363.1C790.8 357.6 785.6 352.9 786.9 347.4C788.2 341.8 796.0 334.7 800.6 329.8C805.2 324.9 810.4 320.8 814.3 318.0C818.2 315.2 821.1 314.3 824.1 313.1C827.1 311.9 827.4 310.3 832.0 310.6Z"/></clipPath>
<radialGradient id="g33"><stop offset="0.00" stop-color="#211cac" stop-opacity="1.00"/><stop offset="0.10" stop-color="#211cac" stop-opacity="1.00"/><stop offset="0.20" stop-color="#211cae" stop-opacity="1.00"/><stop offset="0.30" stop-color="#221db4" stop-opacity="1.00"/><stop offset="0.40" stop-color="#231fbd" stop-opacity="1.00"/><stop offset="0.50" stop-color="#2221c7" stop-opacity="1.00"/><stop offset="0.60" stop-color="#2123d2" stop-opacity="1.00"/><stop offset="0.70" stop-color="#2024dc" stop-opacity="1.00"/><stop offset="0.80" stop-color="#1f26e6" stop-opacity="0.71"/><stop offset="0.90" stop-color="#1e27ed" stop-opacity="0.36"/><stop offset="1.00" stop-color="#1c2bf1" stop-opacity="0.00"/></radialGradient>
<radialGradient id="g34"><stop offset="0.00" stop-color="#231fbd" stop-opacity="1.00"/><stop offset="0.10" stop-color="#231fbd" stop-opacity="1.00"/><stop offset="0.20" stop-color="#221fbf" stop-opacity="1.00"/><stop offset="0.30" stop-color="#2220c3" stop-opacity="1.00"/><stop offset="0.40" stop-color="#2121ca" stop-opacity="1.00"/><stop offset="0.50" stop-color="#2123d2" stop-opacity="1.00"/><stop offset="0.60" stop-color="#2024db" stop-opacity="1.00"/><stop offset="0.70" stop-color="#1f26e3" stop-opacity="1.00"/><stop offset="0.80" stop-color="#1f27ea" stop-opacity="0.71"/><stop offset="0.90" stop-color="#1e29f0" stop-opacity="0.36"/><stop offset="1.00" stop-color="#1b2cf1" stop-opacity="0.00"/></radialGradient>
<radialGradient id="g35"><stop offset="0.00" stop-color="#00afff" stop-opacity="1.00"/><stop offset="0.10" stop-color="#00afff" stop-opacity="1.00"/><stop offset="0.20" stop-color="#00afff" stop-opacity="1.00"/><stop offset="0.30" stop-color="#00afff" stop-opacity="1.00"/><stop offset="0.40" stop-color="#00adff" stop-opacity="1.00"/><stop offset="0.50" stop-color="#00a2ff" stop-opacity="1.00"/><stop offset="0.60" stop-color="#008eff" stop-opacity="1.00"/><stop offset="0.70" stop-color="#0077ff" stop-opacity="1.00"/><stop offset="0.80" stop-color="#0061ff" stop-opacity="0.71"/><stop offset="0.90" stop-color="#0650fc" stop-opacity="0.36"/><stop offset="1.00" stop-color="#0d44f9" stop-opacity="0.00"/></radialGradient>
<radialGradient id="g36"><stop offset="0.00" stop-color="#00c9fd" stop-opacity="1.00"/><stop offset="0.10" stop-color="#00c9fd" stop-opacity="1.00"/><stop offset="0.20" stop-color="#00c9fd" stop-opacity="1.00"/><stop offset="0.30" stop-color="#00c9fd" stop-opacity="1.00"/><stop offset="0.40" stop-color="#00c7fd" stop-opacity="1.00"/><stop offset="0.50" stop-color="#00b8fe" stop-opacity="1.00"/><stop offset="0.60" stop-color="#009fff" stop-opacity="1.00"/><stop offset="0.70" stop-color="#0084ff" stop-opacity="1.00"/><stop offset="0.80" stop-color="#006aff" stop-opacity="0.71"/><stop offset="0.90" stop-color="#0355fd" stop-opacity="0.36"/><stop offset="1.00" stop-color="#0b47f9" stop-opacity="0.00"/></radialGradient>
<radialGradient id="g37"><stop offset="0.00" stop-color="#00dafb" stop-opacity="1.00"/><stop offset="0.10" stop-color="#00dafb" stop-opacity="1.00"/><stop offset="0.20" stop-color="#00dafb" stop-opacity="1.00"/><stop offset="0.30" stop-color="#00dafb" stop-opacity="1.00"/><stop offset="0.40" stop-color="#00d8fb" stop-opacity="1.00"/><stop offset="0.50" stop-color="#00c7fd" stop-opacity="1.00"/><stop offset="0.60" stop-color="#00aaff" stop-opacity="1.00"/><stop offset="0.70" stop-color="#008dff" stop-opacity="1.00"/><stop offset="0.80" stop-color="#0070ff" stop-opacity="0.71"/><stop offset="0.90" stop-color="#0158fe" stop-opacity="0.36"/><stop offset="1.00" stop-color="#0a49fa" stop-opacity="0.00"/></radialGradient>
<radialGradient id="g38"><stop offset="0.00" stop-color="#d5eb00" stop-opacity="1.00"/><stop offset="0.10" stop-color="#cbed00" stop-opacity="1.00"/><stop offset="0.20" stop-color="#6bf021" stop-opacity="1.00"/><stop offset="0.30" stop-color="#00ed90" stop-opacity="1.00"/><stop offset="0.40" stop-color="#00e9fa" stop-opacity="1.00"/><stop offset="0.50" stop-color="#00b5fe" stop-opacity="1.00"/><stop offset="0.60" stop-color="#008bff" stop-opacity="0.99"/><stop offset="0.70" stop-color="#006bff" stop-opacity="0.65"/><stop offset="0.80" stop-color="#0354fd" stop-opacity="0.40"/><stop offset="0.90" stop-color="#0b47f9" stop-opacity="0.16"/><stop offset="1.00" stop-color="#113ef7" stop-opacity="0.00"/></radialGradient>
<radialGradient id="g39"><stop offset="0.00" stop-color="#ff7a00" stop-opacity="1.00"/><stop offset="0.10" stop-color="#ff8b00" stop-opacity="1.00"/><stop offset="0.20" stop-color="#fcb600" stop-opacity="1.00"/><stop offset="0.30" stop-color="#ece700" stop-opacity="1.00"/><stop offset="0.40" stop-color="#5af028" stop-opacity="1.00"/><stop offset="0.50" stop-color="#00edde" stop-opacity="1.00"/><stop offset="0.60" stop-color="#00b7fe" stop-opacity="0.99"/><stop offset="0.70" stop-color="#0087ff" stop-opacity="0.65"/><stop offset="0.80" stop-color="#0065ff" stop-opacity="0.40"/><stop offset="0.90" stop-color="#064ffc" stop-opacity="0.16"/><stop offset="1.00" stop-color="#0e43f8" stop-opacity="0.00"/></radialGradient>
<radialGradient id="g40"><stop offset="0.00" stop-color="#cb0100" stop-opacity="1.00"/><stop offset="0.10" stop-color="#db0800" stop-opacity="1.00"/><stop offset="0.20" stop-color="#fb2800" stop-opacity="1.00"/><stop offset="0.30" stop-color="#ff8400" stop-opacity="1.00"/><stop offset="0.40" stop-color="#f2dd00" stop-opacity="1.00"/><stop offset="0.50" stop-color="#48ef36" stop-opacity="1.00"/><stop offset="0.60" stop-color="#00e8fa" stop-opacity="0.99"/><stop offset="0.70" stop-color="#00a3ff" stop-opacity="0.65"/><stop offset="0.80" stop-color="#0076ff" stop-opacity="0.40"/><stop offset="0.90" stop-color="#0158fe" stop-opacity="0.16"/><stop offset="1.00" stop-color="#0b47f9" stop-opacity="0.00"/></radialGradient>
<clipPath id="c41"><path d="M636.7 41.3C637.7 41.6 637.2 43.9 639.6 46.2C642.0 48.5 647.8 51.6 651.4 55.0C655.0 58.4 658.4 62.2 661.2 66.8C664.0 71.4 667.0 76.5 668.0 82.4C669.0 88.3 667.8 95.8 667.0 102.0C666.2 108.2 664.4 114.0 663.1 119.6C661.8 125.1 660.5 130.1 659.2 135.3C657.9 140.5 656.4 145.1 655.3 151.0C654.2 156.9 653.2 164.0 652.4 170.5C651.6 177.0 650.6 183.6 650.4 190.1C650.2 196.6 651.2 203.2 651.0 209.7C650.8 216.2 650.0 223.4 649.4 229.3C648.8 235.2 648.5 239.4 647.5 244.9C646.5 250.4 645.3 256.9 643.5 262.5C641.7 268.1 639.3 274.8 636.7 278.2C634.1 281.6 630.4 282.1 627.9 283.1C625.4 284.1 624.0 284.9 622.0 284.1C620.0 283.3 617.7 281.5 616.1 278.2C614.5 274.9 613.0 269.4 612.2 264.5C611.4 259.6 611.0 254.4 611.2 248.8C611.4 243.2 612.6 237.1 613.2 231.2C613.8 225.3 614.4 219.8 614.6 213.6C614.8 207.4 614.1 200.5 614.2 194.0C614.3 187.5 614.9 180.9 615.2 174.4C615.5 167.9 616.0 161.4 616.1 154.9C616.2 148.4 616.2 141.8 616.1 135.3C616.0 128.8 615.9 122.2 615.2 115.7C614.6 109.2 613.1 102.9 612.2 96.1C611.3 89.2 609.7 80.8 609.9 74.6C610.1 68.4 611.8 63.1 613.2 58.9C614.6 54.7 616.0 51.6 618.1 49.2C620.2 46.9 623.3 45.6 625.9 44.8C628.5 44.0 632.0 44.9 633.8 44.3C635.6 43.7 635.7 41.0 636.7 41.3Z"/></clipPath>
<radialGradient id="g42"><stop offset="0.00" stop-color="#211cac" stop-opacity="1.00"/><stop offset="0.10" stop-color="#211cac" stop-opacity="1.00"/><stop offset="0.20" stop-color="#211caf" stop-opacity="1.00"/><stop offset="0.30" stop-color="#231eb8" stop-opacity="1.00"/><stop offset="0.40" stop-color="#2220c4" stop-opacity="1.00"/><stop offset="0.50" stop-color="#2123d2" stop-opacity="1.00"/><stop offset="0.60" stop-color="#1f25e1" stop-opacity="1.00"/><stop offset="0.70" stop-color="#1e28f0" stop-opacity="1.00"/><stop offset="0.80" stop-color="#1833f3" stop-opacity="0.71"/><stop offset="0.90" stop-color="#123bf6" stop-opacity="0.36"/><stop offset="1.00" stop-color="#0e42f8" stop-opacity="0.00"/></radialGradient>
<radialGradient id="g43"><stop offset="0.00" stop-color="#2220c5" stop-opacity="1.00"/><stop offset="0.10" stop-color="#2220c5" stop-opacity="1.00"/><stop offset="0.20" stop-color="#2221c7" stop-opacity="1.00"/><stop offset="0.30" stop-color="#2122cd" stop-opacity="1.00"/><stop offset="0.40" stop-color="#2023d7" stop-opacity="1.00"/><stop offset="0.50" stop-color="#1f25e2" stop-opacity="1.00"/><stop offset="0.60" stop-color="#1e28ef" stop-opacity="1.00"/><stop offset="0.70" stop-color="#1930f2" stop-opacity="1.00"/><stop offset="0.80" stop-color="#1439f5" stop-opacity="0.71"/><stop offset="0.90" stop-color="#1040f7" stop-opacity="0.36"/><stop offset="1.00" stop-color="#0d45f9" stop-opacity="0.00"/></radialGradient>
<radialGradient id="g44"><stop offset="0.00" stop-color="#00c9fd" stop-opacity="1.00"/><stop offset="0.10" stop-color="#00c9fd" stop-opacity="1.00"/><stop offset="0.20" stop-color="#00c9fd" stop-opacity="1.00"/><stop offset="0.30" stop-color="#00c9fd" stop-opacity="1.00"/><stop offset="0.40" stop-color="#00c7fd" stop-opacity="1.00"/><stop offset="0.50" stop-color="#00bbfe" stop-opacity="1.00"/><stop offset="0.60" stop-color="#00a7ff" stop-opacity="1.00"/><stop offset="0.70" stop-color="#0092ff" stop-opacity="1.00"/><stop offset="0.80" stop-color="#007eff" stop-opacity="0.71"/><stop offset="0.90" stop-color="#006cff" stop-opacity="0.36"/><stop offset="1.00" stop-color="#0060ff" stop-opacity="0.00"/></radialGradient>
<radialGradient id="g45"><stop offset="0.00" stop-color="#00d1fc" stop-opacity="1.00"/><stop offset="0.10" stop-color="#00d1fc" stop-opacity="1.00"/><stop offset="0.20" stop-color="#00d1fc" stop-opacity="1.00"/><stop offset="0.30" stop-color="#00d1fc" stop-opacity="1.00"/><stop offset="0.40" stop-color="#00d0fc" stop-opacity="1.00"/><stop offset="0.50" stop-color="#00c3fd" stop-opacity="1.00"/><stop offset="0.60" stop-color="#00adff" stop-opacity="1.00"/><stop offset="0.70" stop-color="#0097ff" stop-opacity="1.00"/><stop offset="0.80" stop-color="#0081ff" stop-opacity="0.71"/><stop offset="0.90" stop-color="#006eff" stop-opacity="0.36"/><stop offset="1.00" stop-color="#0061ff" stop-opacity="0.00"/></radialGradient>
<radialGradient id="g46"><stop offset="0.00" stop-color="#ff5500" stop-opacity="1.00"/><stop offset="0.10" stop-color="#ff6600" stop-opacity="1.00"/><stop offset="0.20" stop-color="#ff9500" stop-opacity="1.00"/><stop offset="0.30" stop-color="#f6ce00" stop-opacity="1.00"/><stop offset="0.40" stop-color="#cbed00" stop-opacity="1.00"/><stop offset="0.50" stop-color="#00ed8b" stop-opacity="1.00"/><stop offset="0.60" stop-color="#00ddfb" stop-opacity="0.99"/><stop offset="0.70" stop-color="#00a7ff" stop-opacity="0.65"/><stop offset="0.80" stop-color="#0085ff" stop-opacity="0.40"/><stop offset="0.90" stop-color="#006eff" stop-opacity="0.16"/><stop offset="1.00" stop-color="#005fff" stop-opacity="0.00"/></radialGradient>
<radialGradient id="g47"><stop offset="0.00" stop-color="#c80000" stop-opacity="1.00"/><stop offset="0.10" stop-color="#c80000" stop-opacity="1.00"/><stop offset="0.20" stop-color="#f31100" stop-opacity="1.00"/><stop offset="0.30" stop-color="#ff6600" stop-opacity="1.00"/><stop offset="0.40" stop-color="#f8c400" stop-opacity="1.00"/><stop offset="0.50" stop-color="#b8f002" stop-opacity="1.00"/><stop offset="0.60" stop-color="#00efc0" stop-opacity="0.99"/><stop offset="0.70" stop-color="#00c6fd" stop-opacity="0.65"/><stop offset="0.80" stop-color="#0096ff" stop-opacity="0.40"/><stop offset="0.90" stop-color="#0078ff" stop-opacity="0.16"/><stop offset="1.00" stop-color="#0065ff" stop-opacity="0.00"/></radialGradient>
<radialGradient id="g48"><stop offset="0.00" stop-color="#04103a" stop-opacity="0.95"/><stop offset="0.20" stop-color="#04103a" stop-opacity="0.84"/><stop offset="0.40" stop-color="#04103a" stop-opacity="0.59"/><stop offset="0.60" stop-color="#04103a" stop-opacity="0.32"/><stop offset="0.80" stop-color="#04103a" stop-opacity="0.09"/><stop offset="1.00" stop-color="#04103a" stop-opacity="0.00"/></radialGradient>
<radialGradient id="g49"><stop offset="0.00" stop-color="#04103a" stop-opacity="0.85"/><stop offset="0.20" stop-color="#04103a" stop-opacity="0.75"/><stop offset="0.40" stop-color="#04103a" stop-opacity="0.53"/><stop offset="0.60" stop-color="#04103a" stop-opacity="0.29"/><stop offset="0.80" stop-color="#04103a" stop-opacity="0.08"/><stop offset="1.00" stop-color="#04103a" stop-opacity="0.00"/></radialGradient>
<radialGradient id="g50"><stop offset="0.00" stop-color="#04103a" stop-opacity="0.80"/><stop offset="0.20" stop-color="#04103a" stop-opacity="0.71"/><stop offset="0.40" stop-color="#04103a" stop-opacity="0.50"/><stop offset="0.60" stop-color="#04103a" stop-opacity="0.27"/><stop offset="0.80" stop-color="#04103a" stop-opacity="0.08"/><stop offset="1.00" stop-color="#04103a" stop-opacity="0.00"/></radialGradient>
<clipPath id="c51"><path d="M1159.7 36.8C1160.7 37.1 1160.1 39.4 1162.6 41.7C1165.0 44.0 1170.8 47.1 1174.4 50.5C1178.0 53.9 1181.4 57.7 1184.2 62.3C1187.0 66.9 1190.0 72.0 1191.0 77.9C1192.0 83.8 1190.8 91.3 1190.0 97.5C1189.2 103.7 1187.4 109.5 1186.1 115.1C1184.8 120.6 1183.5 125.6 1182.2 130.8C1180.9 136.0 1179.4 140.6 1178.3 146.5C1177.2 152.4 1176.2 159.5 1175.4 166.0C1174.6 172.5 1173.6 179.1 1173.4 185.6C1173.2 192.1 1174.2 198.7 1174.0 205.2C1173.8 211.7 1173.0 218.9 1172.4 224.8C1171.8 230.7 1171.5 234.9 1170.5 240.4C1169.5 245.9 1168.3 252.4 1166.5 258.0C1164.7 263.6 1162.3 270.3 1159.7 273.7C1157.1 277.1 1153.4 277.6 1150.9 278.6C1148.5 279.6 1147.0 280.4 1145.0 279.6C1143.0 278.8 1140.7 277.0 1139.1 273.7C1137.5 270.4 1136.0 264.9 1135.2 260.0C1134.4 255.1 1134.0 249.9 1134.2 244.3C1134.4 238.8 1135.6 232.6 1136.2 226.7C1136.8 220.8 1137.4 215.3 1137.6 209.1C1137.8 202.9 1137.1 196.0 1137.2 189.5C1137.3 183.0 1137.9 176.4 1138.2 169.9C1138.5 163.4 1138.9 156.9 1139.1 150.4C1139.2 143.9 1139.2 137.3 1139.1 130.8C1138.9 124.3 1138.8 117.7 1138.2 111.2C1137.6 104.7 1136.1 98.4 1135.2 91.6C1134.3 84.8 1132.7 76.3 1132.9 70.1C1133.1 63.9 1134.8 58.6 1136.2 54.4C1137.6 50.2 1139.0 47.1 1141.1 44.7C1143.2 42.4 1146.3 41.1 1148.9 40.3C1151.5 39.5 1155.0 40.4 1156.8 39.8C1158.6 39.2 1158.7 36.5 1159.7 36.8Z"/></clipPath>
<radialGradient id="g52"><stop offset="0.00" stop-color="#221db5" stop-opacity="1.00"/><stop offset="0.10" stop-color="#221db5" stop-opacity="1.00"/><stop offset="0.20" stop-color="#231eb7" stop-opacity="1.00"/><stop offset="0.30" stop-color="#231fbd" stop-opacity="1.00"/><stop offset="0.40" stop-color="#2220c6" stop-opacity="1.00"/><stop offset="0.50" stop-color="#2122d0" stop-opacity="1.00"/><stop offset="0.60" stop-color="#2024db" stop-opacity="1.00"/><stop offset="0.70" stop-color="#1f26e6" stop-opacity="1.00"/><stop offset="0.80" stop-color="#1e28f0" stop-opacity="0.71"/><stop offset="0.90" stop-color="#1a2ef2" stop-opacity="0.36"/><stop offset="1.00" stop-color="#1733f3" stop-opacity="0.00"/></radialGradient>
<radialGradient id="g53"><stop offset="0.00" stop-color="#00dafb" stop-opacity="1.00"/><stop offset="0.10" stop-color="#00dafb" stop-opacity="1.00"/><stop offset="0.20" stop-color="#00dafb" stop-opacity="1.00"/><stop offset="0.30" stop-color="#00dafb" stop-opacity="1.00"/><stop offset="0.40" stop-color="#00d8fb" stop-opacity="1.00"/><stop offset="0.50" stop-color="#00c8fd" stop-opacity="1.00"/><stop offset="0.60" stop-color="#00aeff" stop-opacity="1.00"/><stop offset="0.70" stop-color="#0091ff" stop-opacity="1.00"/><stop offset="0.80" stop-color="#0076ff" stop-opacity="0.71"/><stop offset="0.90" stop-color="#0060ff" stop-opacity="0.36"/><stop offset="1.00" stop-color="#0551fc" stop-opacity="0.00"/></radialGradient>
<radialGradient id="g54"><stop offset="0.00" stop-color="#c80000" stop-opacity="1.00"/><stop offset="0.10" stop-color="#d50500" stop-opacity="1.00"/><stop offset="0.20" stop-color="#fb1f00" stop-opacity="1.00"/><stop offset="0.30" stop-color="#ff7a00" stop-opacity="1.00"/><stop offset="0.40" stop-color="#f4d500" stop-opacity="1.00"/><stop offset="0.50" stop-color="#6cf021" stop-opacity="1.00"/><stop offset="0.60" stop-color="#00ecea" stop-opacity="0.99"/><stop offset="0.70" stop-color="#00aeff" stop-opacity="0.65"/><stop offset="0.80" stop-color="#0080ff" stop-opacity="0.40"/><stop offset="0.90" stop-color="#0062ff" stop-opacity="0.16"/><stop offset="1.00" stop-color="#0651fc" stop-opacity="0.00"/></radialGradient>
<radialGradient id="g55"><stop offset="0.00" stop-color="#04103a" stop-opacity="0.90"/><stop offset="0.20" stop-color="#04103a" stop-opacity="0.80"/><stop offset="0.40" stop-color="#04103a" stop-opacity="0.56"/><stop offset="0.60" stop-color="#04103a" stop-opacity="0.31"/><stop offset="0.80" stop-color="#04103a" stop-opacity="0.09"/><stop offset="1.00" stop-color="#04103a" stop-opacity="0.00"/></radialGradient>
<clipPath id="c56"><path d="M636.7 309.6C637.7 309.9 637.2 312.2 639.6 314.5C642.0 316.8 647.8 319.9 651.4 323.3C655.0 326.7 658.4 330.5 661.2 335.1C664.0 339.7 667.0 344.8 668.0 350.7C669.0 356.6 667.8 364.1 667.0 370.3C666.2 376.5 664.4 382.3 663.1 387.9C661.8 393.4 660.5 398.4 659.2 403.6C657.9 408.8 656.4 413.4 655.3 419.3C654.2 425.2 653.2 432.3 652.4 438.8C651.6 445.3 650.6 451.9 650.4 458.4C650.2 464.9 651.2 471.5 651.0 478.0C650.8 484.5 650.0 491.7 649.4 497.6C648.8 503.5 648.5 507.7 647.5 513.2C646.5 518.7 645.3 525.2 643.5 530.8C641.7 536.3 639.3 543.1 636.7 546.5C634.1 549.9 630.4 550.4 627.9 551.4C625.4 552.4 624.0 553.2 622.0 552.4C620.0 551.6 617.7 549.8 616.1 546.5C614.5 543.2 613.0 537.7 612.2 532.8C611.4 527.9 611.0 522.6 611.2 517.1C611.4 511.6 612.6 505.4 613.2 499.5C613.8 493.6 614.4 488.1 614.6 481.9C614.8 475.7 614.1 468.8 614.2 462.3C614.3 455.8 614.9 449.2 615.2 442.7C615.5 436.2 616.0 429.7 616.1 423.2C616.2 416.7 616.2 410.1 616.1 403.6C616.0 397.1 615.9 390.5 615.2 384.0C614.6 377.5 613.1 371.2 612.2 364.4C611.3 357.5 609.7 349.1 609.9 342.9C610.1 336.7 611.8 331.4 613.2 327.2C614.6 323.0 616.0 319.9 618.1 317.5C620.2 315.1 623.3 313.9 625.9 313.1C628.5 312.3 632.0 313.2 633.8 312.6C635.6 312.0 635.7 309.3 636.7 309.6Z"/></clipPath>
<radialGradient id="g57"><stop offset="0.00" stop-color="#00ebfa" stop-opacity="1.00"/><stop offset="0.10" stop-color="#00ebfa" stop-opacity="1.00"/><stop offset="0.20" stop-color="#00ebfa" stop-opacity="1.00"/><stop offset="0.30" stop-color="#00ebfa" stop-opacity="1.00"/><stop offset="0.40" stop-color="#00e9fa" stop-opacity="1.00"/><stop offset="0.50" stop-color="#00d6fc" stop-opacity="1.00"/><stop offset="0.60" stop-color="#00b6fe" stop-opacity="1.00"/><stop offset="0.70" stop-color="#0094ff" stop-opacity="1.00"/><stop offset="0.80" stop-color="#0073ff" stop-opacity="0.71"/><stop offset="0.90" stop-color="#0159ff" stop-opacity="0.36"/><stop offset="1.00" stop-color="#0b48fa" stop-opacity="0.00"/></radialGradient>
<radialGradient id="g58"><stop offset="0.00" stop-color="#f0e600" stop-opacity="1.00"/><stop offset="0.10" stop-color="#e7e800" stop-opacity="1.00"/><stop offset="0.20" stop-color="#c9ee00" stop-opacity="1.00"/><stop offset="0.30" stop-color="#29ed4e" stop-opacity="1.00"/><stop offset="0.40" stop-color="#00eddb" stop-opacity="1.00"/><stop offset="0.50" stop-color="#00c2fd" stop-opacity="1.00"/><stop offset="0.60" stop-color="#0092ff" stop-opacity="0.99"/><stop offset="0.70" stop-color="#006eff" stop-opacity="0.65"/><stop offset="0.80" stop-color="#0355fd" stop-opacity="0.40"/><stop offset="0.90" stop-color="#0c46f9" stop-opacity="0.16"/><stop offset="1.00" stop-color="#123cf6" stop-opacity="0.00"/></radialGradient>
<radialGradient id="g59"><stop offset="0.00" stop-color="#c80000" stop-opacity="1.00"/><stop offset="0.10" stop-color="#c80000" stop-opacity="1.00"/><stop offset="0.20" stop-color="#f71300" stop-opacity="1.00"/><stop offset="0.30" stop-color="#ff7100" stop-opacity="1.00"/><stop offset="0.40" stop-color="#f5d200" stop-opacity="1.00"/><stop offset="0.50" stop-color="#66f023" stop-opacity="1.00"/><stop offset="0.60" stop-color="#00ebf6" stop-opacity="0.99"/><stop offset="0.70" stop-color="#00a4ff" stop-opacity="0.65"/><stop offset="0.80" stop-color="#0075ff" stop-opacity="0.40"/><stop offset="0.90" stop-color="#0256fe" stop-opacity="0.16"/><stop offset="1.00" stop-color="#0c45f9" stop-opacity="0.00"/></radialGradient>
<radialGradient id="g60"><stop offset="0.00" stop-color="#04103a" stop-opacity="0.70"/><stop offset="0.20" stop-color="#04103a" stop-opacity="0.62"/><stop offset="0.40" stop-color="#04103a" stop-opacity="0.43"/><stop offset="0.60" stop-color="#04103a" stop-opacity="0.24"/><stop offset="0.80" stop-color="#04103a" stop-opacity="0.07"/><stop offset="1.00" stop-color="#04103a" stop-opacity="0.00"/></radialGradient>
<radialGradient id="g61"><stop offset="0.00" stop-color="#04103a" stop-opacity="0.75"/><stop offset="0.20" stop-color="#04103a" stop-opacity="0.67"/><stop offset="0.40" stop-color="#04103a" stop-opacity="0.46"/><stop offset="0.60" stop-color="#04103a" stop-opacity="0.25"/><stop offset="0.80" stop-color="#04103a" stop-opacity="0.07"/><stop offset="1.00" stop-color="#04103a" stop-opacity="0.00"/></radialGradient>
<clipPath id="c62"><path d="M1163.2 322.8C1164.2 323.1 1163.6 325.4 1166.1 327.7C1168.5 330.0 1174.3 333.1 1177.9 336.5C1181.5 339.9 1184.9 343.7 1187.7 348.3C1190.5 352.9 1193.5 358.0 1194.5 363.9C1195.5 369.8 1194.3 377.3 1193.5 383.5C1192.7 389.7 1190.9 395.6 1189.6 401.1C1188.3 406.7 1187.0 411.6 1185.7 416.8C1184.4 422.0 1182.9 426.6 1181.8 432.5C1180.7 438.4 1179.7 445.5 1178.9 452.0C1178.1 458.5 1177.1 465.1 1176.9 471.6C1176.7 478.1 1177.7 484.7 1177.5 491.2C1177.3 497.7 1176.5 504.9 1175.9 510.8C1175.3 516.7 1175.0 520.9 1174.0 526.4C1173.0 531.9 1171.8 538.5 1170.0 544.0C1168.2 549.5 1165.8 556.3 1163.2 559.7C1160.6 563.1 1156.9 563.6 1154.4 564.6C1152.0 565.6 1150.5 566.4 1148.5 565.6C1146.5 564.8 1144.2 563.0 1142.6 559.7C1141.0 556.4 1139.5 550.9 1138.7 546.0C1137.9 541.1 1137.5 535.8 1137.7 530.3C1137.9 524.8 1139.1 518.6 1139.7 512.7C1140.3 506.8 1140.9 501.3 1141.1 495.1C1141.3 488.9 1140.6 482.0 1140.7 475.5C1140.8 469.0 1141.4 462.4 1141.7 455.9C1142.0 449.4 1142.4 442.9 1142.6 436.4C1142.8 429.9 1142.8 423.3 1142.6 416.8C1142.4 410.3 1142.3 403.7 1141.7 397.2C1141.1 390.7 1139.6 384.5 1138.7 377.6C1137.8 370.8 1136.2 362.3 1136.4 356.1C1136.6 349.9 1138.3 344.6 1139.7 340.4C1141.1 336.2 1142.5 333.0 1144.6 330.7C1146.7 328.4 1149.8 327.1 1152.4 326.3C1155.0 325.5 1158.5 326.4 1160.3 325.8C1162.1 325.2 1162.2 322.5 1163.2 322.8Z"/></clipPath>
<radialGradient id="g63"><stop offset="0.00" stop-color="#211cac" stop-opacity="1.00"/><stop offset="0.10" stop-color="#211cac" stop-opacity="1.00"/><stop offset="0.20" stop-color="#211cae" stop-opacity="1.00"/><stop offset="0.30" stop-color="#221db2" stop-opacity="1.00"/><stop offset="0.40" stop-color="#231eb9" stop-opacity="1.00"/><stop offset="0.50" stop-color="#221fc1" stop-opacity="1.00"/><stop offset="0.60" stop-color="#2221c9" stop-opacity="1.00"/><stop offset="0.70" stop-color="#2122d1" stop-opacity="1.00"/><stop offset="0.80" stop-color="#2024d8" stop-opacity="0.71"/><stop offset="0.90" stop-color="#2025de" stop-opacity="0.36"/><stop offset="1.00" stop-color="#1f26e3" stop-opacity="0.00"/></radialGradient>
<radialGradient id="g64"><stop offset="0.00" stop-color="#00b7fe" stop-opacity="1.00"/><stop offset="0.10" stop-color="#00b7fe" stop-opacity="1.00"/><stop offset="0.20" stop-color="#00b7fe" stop-opacity="1.00"/><stop offset="0.30" stop-color="#00b7fe" stop-opacity="1.00"/><stop offset="0.40" stop-color="#00b5fe" stop-opacity="1.00"/><stop offset="0.50" stop-color="#00a7ff" stop-opacity="1.00"/><stop offset="0.60" stop-color="#0090ff" stop-opacity="1.00"/><stop offset="0.70" stop-color="#0074ff" stop-opacity="1.00"/><stop offset="0.80" stop-color="#0159ff" stop-opacity="0.71"/><stop offset="0.90" stop-color="#0c46f9" stop-opacity="0.36"/><stop offset="1.00" stop-color="#1438f5" stop-opacity="0.00"/></radialGradient>
<radialGradient id="g65"><stop offset="0.00" stop-color="#00c9fd" stop-opacity="1.00"/><stop offset="0.10" stop-color="#00c9fd" stop-opacity="1.00"/><stop offset="0.20" stop-color="#00c9fd" stop-opacity="1.00"/><stop offset="0.30" stop-color="#00c9fd" stop-opacity="1.00"/><stop offset="0.40" stop-color="#00c6fd" stop-opacity="1.00"/><stop offset="0.50" stop-color="#00b6fe" stop-opacity="1.00"/><stop offset="0.60" stop-color="#009bff" stop-opacity="1.00"/><stop offset="0.70" stop-color="#007cff" stop-opacity="1.00"/><stop offset="0.80" stop-color="#005fff" stop-opacity="0.71"/><stop offset="0.90" stop-color="#0a49fa" stop-opacity="0.36"/><stop offset="1.00" stop-color="#133af5" stop-opacity="0.00"/></radialGradient>
<radialGradient id="g66"><stop offset="0.00" stop-color="#00dafb" stop-opacity="1.00"/><stop offset="0.10" stop-color="#00dafb" stop-opacity="1.00"/><stop offset="0.20" stop-color="#00dafb" stop-opacity="1.00"/><stop offset="0.30" stop-color="#00dafb" stop-opacity="1.00"/><stop offset="0.40" stop-color="#00d7fc" stop-opacity="1.00"/><stop offset="0.50" stop-color="#00c5fd" stop-opacity="1.00"/><stop offset="0.60" stop-color="#00a6ff" stop-opacity="1.00"/><stop offset="0.70" stop-color="#0085ff" stop-opacity="1.00"/><stop offset="0.80" stop-color="#0065ff" stop-opacity="0.71"/><stop offset="0.90" stop-color="#084cfb" stop-opacity="0.36"/><stop offset="1.00" stop-color="#123cf6" stop-opacity="0.00"/></radialGradient>
<radialGradient id="g67"><stop offset="0.00" stop-color="#4bef34" stop-opacity="1.00"/><stop offset="0.10" stop-color="#4bef34" stop-opacity="1.00"/><stop offset="0.20" stop-color="#4bef34" stop-opacity="1.00"/><stop offset="0.30" stop-color="#4bef34" stop-opacity="1.00"/><stop offset="0.40" stop-color="#40ef3c" stop-opacity="1.00"/><stop offset="0.50" stop-color="#00ec82" stop-opacity="1.00"/><stop offset="0.60" stop-color="#00eceb" stop-opacity="1.00"/><stop offset="0.70" stop-color="#00bafe" stop-opacity="1.00"/><stop offset="0.80" stop-color="#0088ff" stop-opacity="0.71"/><stop offset="0.90" stop-color="#0060ff" stop-opacity="0.36"/><stop offset="1.00" stop-color="#0b47f9" stop-opacity="0.00"/></radialGradient>
<radialGradient id="g68"><stop offset="0.00" stop-color="#fabd00" stop-opacity="1.00"/><stop offset="0.10" stop-color="#f7c800" stop-opacity="1.00"/><stop offset="0.20" stop-color="#eee600" stop-opacity="1.00"/><stop offset="0.30" stop-color="#9bf00e" stop-opacity="1.00"/><stop offset="0.40" stop-color="#00efac" stop-opacity="1.00"/><stop offset="0.50" stop-color="#00d0fc" stop-opacity="1.00"/><stop offset="0.60" stop-color="#0096ff" stop-opacity="0.99"/><stop offset="0.70" stop-color="#006cff" stop-opacity="0.65"/><stop offset="0.80" stop-color="#074ffc" stop-opacity="0.40"/><stop offset="0.90" stop-color="#113df6" stop-opacity="0.16"/><stop offset="1.00" stop-color="#1832f3" stop-opacity="0.00"/></radialGradient>
<radialGradient id="g69"><stop offset="0.00" stop-color="#c80000" stop-opacity="1.00"/><stop offset="0.10" stop-color="#c80000" stop-opacity="1.00"/><stop offset="0.20" stop-color="#ed0f00" stop-opacity="1.00"/><stop offset="0.30" stop-color="#ff6800" stop-opacity="1.00"/><stop offset="0.40" stop-color="#f6cf00" stop-opacity="1.00"/><stop offset="0.50" stop-color="#60f026" stop-opacity="1.00"/><stop offset="0.60" stop-color="#00e7fa" stop-opacity="0.99"/><stop offset="0.70" stop-color="#009cff" stop-opacity="0.65"/><stop offset="0.80" stop-color="#006aff" stop-opacity="0.40"/><stop offset="0.90" stop-color="#094cfb" stop-opacity="0.16"/><stop offset="1.00" stop-color="#133af5" stop-opacity="0.00"/></radialGradient>
<clipPath id="c70"><path d="M193.9 858.0C197.4 857.0 201.6 856.3 205.6 858.0C209.6 859.7 208.4 860.7 210.9 865.4C213.4 870.1 214.5 871.3 216.2 878.2C217.9 885.1 217.8 888.7 218.3 895.1C218.8 901.5 216.1 901.7 218.3 905.7C220.5 909.7 224.8 907.6 227.8 912.1C230.8 916.6 229.5 917.9 231.0 924.8C232.5 931.7 232.2 933.9 234.2 941.8C236.2 949.7 237.3 950.4 239.5 958.8C241.7 967.2 242.7 968.9 243.8 977.8C244.9 986.7 244.7 989.0 244.4 996.9C244.1 1004.8 241.1 1005.8 242.7 1011.8C244.3 1017.8 247.2 1017.9 251.2 1022.4C255.2 1026.9 255.2 1027.2 259.7 1030.9C264.2 1034.6 266.1 1034.6 270.3 1038.3C274.5 1042.0 275.7 1042.6 277.7 1046.8C279.7 1051.0 279.1 1051.1 278.7 1056.3C278.3 1061.5 276.4 1063.6 276.2 1069.0C276.0 1074.4 278.6 1075.1 277.7 1079.6C276.8 1084.1 275.6 1086.3 272.4 1088.1C269.2 1089.8 269.8 1088.6 263.9 1087.1C257.9 1085.6 255.8 1083.8 246.9 1081.8C238.0 1079.8 235.6 1079.2 225.7 1078.6C215.8 1078.0 213.4 1078.5 204.5 1079.2C195.6 1079.9 193.5 1080.6 187.6 1081.8C181.7 1083.0 182.1 1086.3 179.1 1084.3C176.1 1082.3 176.2 1083.3 174.8 1073.3C173.4 1063.3 173.6 1056.3 173.1 1041.5C172.6 1026.7 172.7 1024.6 172.7 1009.7C172.7 994.8 172.6 992.7 173.1 977.8C173.6 962.9 173.7 959.3 174.8 946.0C175.9 932.7 176.2 932.0 178.0 920.6C179.8 909.2 180.3 907.7 182.3 897.3C184.3 886.9 184.5 884.3 186.5 876.1C188.5 867.9 189.0 866.5 190.7 862.3C192.4 858.1 190.4 859.0 193.9 858.0Z"/></clipPath>
<radialGradient id="g71"><stop offset="0.00" stop-color="#221db5" stop-opacity="1.00"/><stop offset="0.10" stop-color="#221db5" stop-opacity="1.00"/><stop offset="0.20" stop-color="#231eb7" stop-opacity="1.00"/><stop offset="0.30" stop-color="#231ebc" stop-opacity="1.00"/><stop offset="0.40" stop-color="#2220c3" stop-opacity="1.00"/><stop offset="0.50" stop-color="#2121cb" stop-opacity="1.00"/><stop offset="0.60" stop-color="#2123d4" stop-opacity="1.00"/><stop offset="0.70" stop-color="#2025dd" stop-opacity="1.00"/><stop offset="0.80" stop-color="#1f26e5" stop-opacity="0.71"/><stop offset="0.90" stop-color="#1e27ec" stop-opacity="0.36"/><stop offset="1.00" stop-color="#1d29f0" stop-opacity="0.00"/></radialGradient>
<radialGradient id="g72"><stop offset="0.00" stop-color="#2023d4" stop-opacity="1.00"/><stop offset="0.10" stop-color="#2023d4" stop-opacity="1.00"/><stop offset="0.20" stop-color="#2023d5" stop-opacity="1.00"/><stop offset="0.30" stop-color="#2024d8" stop-opacity="1.00"/><stop offset="0.40" stop-color="#2024dc" stop-opacity="1.00"/><stop offset="0.50" stop-color="#1f25e1" stop-opacity="1.00"/><stop offset="0.60" stop-color="#1f26e6" stop-opacity="1.00"/><stop offset="0.70" stop-color="#1e27eb" stop-opacity="1.00"/><stop offset="0.80" stop-color="#1e28ef" stop-opacity="0.71"/><stop offset="0.90" stop-color="#1d2af1" stop-opacity="0.36"/><stop offset="1.00" stop-color="#1b2df1" stop-opacity="0.00"/></radialGradient>
<radialGradient id="g73"><stop offset="0.00" stop-color="#005dff" stop-opacity="1.00"/><stop offset="0.10" stop-color="#005dff" stop-opacity="1.00"/><stop offset="0.20" stop-color="#005dff" stop-opacity="1.00"/><stop offset="0.30" stop-color="#005dff" stop-opacity="1.00"/><stop offset="0.40" stop-color="#005cff" stop-opacity="1.00"/><stop offset="0.50" stop-color="#0158fe" stop-opacity="1.00"/><stop offset="0.60" stop-color="#0552fd" stop-opacity="1.00"/><stop offset="0.70" stop-color="#0a4afa" stop-opacity="1.00"/><stop offset="0.80" stop-color="#0e43f8" stop-opacity="0.71"/><stop offset="0.90" stop-color="#123cf6" stop-opacity="0.36"/><stop offset="1.00" stop-color="#1538f5" stop-opacity="0.00"/></radialGradient>
<radialGradient id="g74"><stop offset="0.00" stop-color="#0082ff" stop-opacity="1.00"/><stop offset="0.10" stop-color="#0082ff" stop-opacity="1.00"/><stop offset="0.20" stop-color="#0082ff" stop-opacity="1.00"/><stop offset="0.30" stop-color="#0082ff" stop-opacity="1.00"/><stop offset="0.40" stop-color="#0081ff" stop-opacity="1.00"/><stop offset="0.50" stop-color="#0079ff" stop-opacity="1.00"/><stop offset="0.60" stop-color="#006cff" stop-opacity="1.00"/><stop offset="0.70" stop-color="#005cff" stop-opacity="1.00"/><stop offset="0.80" stop-color="#074ffc" stop-opacity="0.71"/><stop offset="0.90" stop-color="#0d44f8" stop-opacity="0.36"/><stop offset="1.00" stop-color="#123cf6" stop-opacity="0.00"/></radialGradient>
<radialGradient id="g75"><stop offset="0.00" stop-color="#00d1fc" stop-opacity="1.00"/><stop offset="0.10" stop-color="#00d1fc" stop-opacity="1.00"/><stop offset="0.20" stop-color="#00d1fc" stop-opacity="1.00"/><stop offset="0.30" stop-color="#00d1fc" stop-opacity="1.00"/><stop offset="0.40" stop-color="#00cffc" stop-opacity="1.00"/><stop offset="0.50" stop-color="#00bffd" stop-opacity="1.00"/><stop offset="0.60" stop-color="#00a4ff" stop-opacity="1.00"/><stop offset="0.70" stop-color="#0087ff" stop-opacity="1.00"/><stop offset="0.80" stop-color="#006aff" stop-opacity="0.71"/><stop offset="0.90" stop-color="#0454fd" stop-opacity="0.36"/><stop offset="1.00" stop-color="#0c45f9" stop-opacity="0.00"/></radialGradient>
<radialGradient id="g76"><stop offset="0.00" stop-color="#00ecea" stop-opacity="1.00"/><stop offset="0.10" stop-color="#00ecea" stop-opacity="1.00"/><stop offset="0.20" stop-color="#00ecea" stop-opacity="1.00"/><stop offset="0.30" stop-color="#00ecea" stop-opacity="1.00"/><stop offset="0.40" stop-color="#00ecef" stop-opacity="1.00"/><stop offset="0.50" stop-color="#00defb" stop-opacity="1.00"/><stop offset="0.60" stop-color="#00bdfe" stop-opacity="1.00"/><stop offset="0.70" stop-color="#0098ff" stop-opacity="1.00"/><stop offset="0.80" stop-color="#0076ff" stop-opacity="0.71"/><stop offset="0.90" stop-color="#005aff" stop-opacity="0.36"/><stop offset="1.00" stop-color="#0a49fa" stop-opacity="0.00"/></radialGradient>
<radialGradient id="g77"><stop offset="0.00" stop-color="#c80000" stop-opacity="1.00"/><stop offset="0.10" stop-color="#c80000" stop-opacity="1.00"/><stop offset="0.20" stop-color="#c80000" stop-opacity="1.00"/><stop offset="0.30" stop-color="#d90700" stop-opacity="1.00"/><stop offset="0.40" stop-color="#ff7200" stop-opacity="1.00"/><stop offset="0.50" stop-color="#f0e600" stop-opacity="1.00"/><stop offset="0.60" stop-color="#00ec7e" stop-opacity="0.99"/><stop offset="0.70" stop-color="#00c7fd" stop-opacity="0.65"/><stop offset="0.80" stop-color="#0088ff" stop-opacity="0.40"/><stop offset="0.90" stop-color="#0060ff" stop-opacity="0.16"/><stop offset="1.00" stop-color="#094afa" stop-opacity="0.00"/></radialGradient>
<clipPath id="c78"><path d="M642.9 858.0C646.4 857.0 650.6 856.2 654.6 858.0C658.6 859.8 657.4 860.7 659.9 865.5C662.4 870.3 663.5 871.5 665.2 878.5C666.9 885.5 666.8 889.1 667.3 895.6C667.8 902.1 665.1 902.4 667.3 906.4C669.5 910.4 673.8 908.3 676.8 912.8C679.8 917.3 678.5 918.7 680.0 925.7C681.5 932.7 681.2 935.0 683.2 943.0C685.2 951.0 686.3 951.7 688.5 960.2C690.7 968.7 691.7 970.5 692.8 979.5C693.9 988.5 693.7 990.8 693.4 998.8C693.1 1006.8 690.1 1007.9 691.7 1013.9C693.3 1019.9 696.2 1020.2 700.2 1024.7C704.2 1029.2 704.2 1029.5 708.7 1033.3C713.2 1037.1 715.1 1037.0 719.3 1040.8C723.5 1044.6 724.7 1045.2 726.7 1049.4C728.7 1053.6 728.1 1053.8 727.7 1059.0C727.4 1064.2 725.4 1066.4 725.2 1071.9C725.0 1077.4 727.6 1078.2 726.7 1082.7C725.8 1087.2 724.6 1089.5 721.4 1091.3C718.2 1093.1 718.9 1091.8 712.9 1090.3C706.9 1088.8 704.8 1086.9 695.9 1084.9C687.0 1082.9 684.6 1082.2 674.7 1081.6C664.8 1081.0 662.4 1081.5 653.5 1082.3C644.6 1083.1 642.5 1083.7 636.6 1084.9C630.7 1086.1 631.1 1089.4 628.1 1087.4C625.1 1085.4 625.2 1086.4 623.8 1076.3C622.4 1066.2 622.6 1059.0 622.1 1044.0C621.6 1029.0 621.7 1026.8 621.7 1011.8C621.7 996.8 621.6 994.6 622.1 979.5C622.6 964.4 622.7 960.7 623.8 947.2C624.9 933.7 625.2 933.0 627.0 921.5C628.8 910.0 629.3 908.3 631.3 897.8C633.3 887.3 633.5 884.6 635.5 876.3C637.5 868.0 638.0 866.7 639.7 862.4C641.4 858.1 639.4 859.0 642.9 858.0Z"/></clipPath>
<radialGradient id="g79"><stop offset="0.00" stop-color="#2122cd" stop-opacity="1.00"/><stop offset="0.10" stop-color="#2122cd" stop-opacity="1.00"/><stop offset="0.20" stop-color="#2122ce" stop-opacity="1.00"/><stop offset="0.30" stop-color="#2123d2" stop-opacity="1.00"/><stop offset="0.40" stop-color="#2024d9" stop-opacity="1.00"/><stop offset="0.50" stop-color="#1f25e0" stop-opacity="1.00"/><stop offset="0.60" stop-color="#1f27e8" stop-opacity="1.00"/><stop offset="0.70" stop-color="#1e28f0" stop-opacity="1.00"/><stop offset="0.80" stop-color="#1a2ef2" stop-opacity="0.71"/><stop offset="0.90" stop-color="#1833f3" stop-opacity="0.36"/><stop offset="1.00" stop-color="#1636f4" stop-opacity="0.00"/></radialGradient>
<radialGradient id="g80"><stop offset="0.00" stop-color="#00ecea" stop-opacity="1.00"/><stop offset="0.10" stop-color="#00ecea" stop-opacity="1.00"/><stop offset="0.20" stop-color="#00ecea" stop-opacity="1.00"/><stop offset="0.30" stop-color="#00ecea" stop-opacity="1.00"/><stop offset="0.40" stop-color="#00ecee" stop-opacity="1.00"/><stop offset="0.50" stop-color="#00e0fb" stop-opacity="1.00"/><stop offset="0.60" stop-color="#00c1fd" stop-opacity="1.00"/><stop offset="0.70" stop-color="#009eff" stop-opacity="1.00"/><stop offset="0.80" stop-color="#007fff" stop-opacity="0.71"/><stop offset="0.90" stop-color="#0065ff" stop-opacity="0.36"/><stop offset="1.00" stop-color="#0454fd" stop-opacity="0.00"/></radialGradient>
<radialGradient id="g81"><stop offset="0.00" stop-color="#c0f000" stop-opacity="1.00"/><stop offset="0.10" stop-color="#c0f000" stop-opacity="1.00"/><stop offset="0.20" stop-color="#c0f000" stop-opacity="1.00"/><stop offset="0.30" stop-color="#c0f000" stop-opacity="1.00"/><stop offset="0.40" stop-color="#b5f004" stop-opacity="1.00"/><stop offset="0.50" stop-color="#57f02a" stop-opacity="1.00"/><stop offset="0.60" stop-color="#00efa8" stop-opacity="1.00"/><stop offset="0.70" stop-color="#00ddfb" stop-opacity="1.00"/><stop offset="0.80" stop-color="#00a6ff" stop-opacity="0.71"/><stop offset="0.90" stop-color="#007eff" stop-opacity="0.36"/><stop offset="1.00" stop-color="#0061ff" stop-opacity="0.00"/></radialGradient>
<radialGradient id="g82"><stop offset="0.00" stop-color="#f7cb00" stop-opacity="1.00"/><stop offset="0.10" stop-color="#f4d500" stop-opacity="1.00"/><stop offset="0.20" stop-color="#e5e800" stop-opacity="1.00"/><stop offset="0.30" stop-color="#8cf014" stop-opacity="1.00"/><stop offset="0.40" stop-color="#00efa2" stop-opacity="1.00"/><stop offset="0.50" stop-color="#00dbfb" stop-opacity="1.00"/><stop offset="0.60" stop-color="#00a6ff" stop-opacity="0.99"/><stop offset="0.70" stop-color="#0080ff" stop-opacity="0.65"/><stop offset="0.80" stop-color="#0065ff" stop-opacity="0.40"/><stop offset="0.90" stop-color="#0453fd" stop-opacity="0.16"/><stop offset="1.00" stop-color="#0a49fa" stop-opacity="0.00"/></radialGradient>
<radialGradient id="g83"><stop offset="0.00" stop-color="#ff7a00" stop-opacity="1.00"/><stop offset="0.10" stop-color="#ff8a00" stop-opacity="1.00"/><stop offset="0.20" stop-color="#fcb500" stop-opacity="1.00"/><stop offset="0.30" stop-color="#eee600" stop-opacity="1.00"/><stop offset="0.40" stop-color="#6cf021" stop-opacity="1.00"/><stop offset="0.50" stop-color="#00eed1" stop-opacity="1.00"/><stop offset="0.60" stop-color="#00c0fd" stop-opacity="0.99"/><stop offset="0.70" stop-color="#0090ff" stop-opacity="0.65"/><stop offset="0.80" stop-color="#006eff" stop-opacity="0.40"/><stop offset="0.90" stop-color="#0158fe" stop-opacity="0.16"/><stop offset="1.00" stop-color="#094cfb" stop-opacity="0.00"/></radialGradient>
<radialGradient id="g84"><stop offset="0.00" stop-color="#e60c00" stop-opacity="1.00"/><stop offset="0.10" stop-color="#f51200" stop-opacity="1.00"/><stop offset="0.20" stop-color="#fe4800" stop-opacity="1.00"/><stop offset="0.30" stop-color="#ff9c00" stop-opacity="1.00"/><stop offset="0.40" stop-color="#ede700" stop-opacity="1.00"/><stop offset="0.50" stop-color="#2dee4b" stop-opacity="1.00"/><stop offset="0.60" stop-color="#00e6fa" stop-opacity="0.99"/><stop offset="0.70" stop-color="#00a5ff" stop-opacity="0.65"/><stop offset="0.80" stop-color="#007cff" stop-opacity="0.40"/><stop offset="0.90" stop-color="#005fff" stop-opacity="0.16"/><stop offset="1.00" stop-color="#064ffc" stop-opacity="0.00"/></radialGradient>
<radialGradient id="g85"><stop offset="0.00" stop-color="#cb0100" stop-opacity="1.00"/><stop offset="0.10" stop-color="#db0800" stop-opacity="1.00"/><stop offset="0.20" stop-color="#fb2700" stop-opacity="1.00"/><stop offset="0.30" stop-color="#ff8100" stop-opacity="1.00"/><stop offset="0.40" stop-color="#f3d900" stop-opacity="1.00"/><stop offset="0.50" stop-color="#5ef026" stop-opacity="1.00"/><stop offset="0.60" stop-color="#00ecef" stop-opacity="0.99"/><stop offset="0.70" stop-color="#00acff" stop-opacity="0.65"/><stop offset="0.80" stop-color="#007fff" stop-opacity="0.40"/><stop offset="0.90" stop-color="#0061ff" stop-opacity="0.16"/><stop offset="1.00" stop-color="#0650fc" stop-opacity="0.00"/></radialGradient>
<radialGradient id="g86"><stop offset="0.00" stop-color="#c80000" stop-opacity="1.00"/><stop offset="0.10" stop-color="#c80000" stop-opacity="1.00"/><stop offset="0.20" stop-color="#d80700" stop-opacity="1.00"/><stop offset="0.30" stop-color="#fe4a00" stop-opacity="1.00"/><stop offset="0.40" stop-color="#fcb800" stop-opacity="1.00"/><stop offset="0.50" stop-color="#c4ef00" stop-opacity="1.00"/><stop offset="0.60" stop-color="#00efc7" stop-opacity="0.99"/><stop offset="0.70" stop-color="#00bafe" stop-opacity="0.65"/><stop offset="0.80" stop-color="#0087ff" stop-opacity="0.40"/><stop offset="0.90" stop-color="#0066ff" stop-opacity="0.16"/><stop offset="1.00" stop-color="#0552fd" stop-opacity="0.00"/></radialGradient>
<clipPath id="c87"><path d="M197.3 1154.8C200.8 1153.8 205.0 1153.0 209.0 1154.8C213.0 1156.5 211.8 1157.5 214.3 1162.3C216.8 1167.1 217.9 1168.3 219.6 1175.4C221.3 1182.5 221.2 1186.1 221.7 1192.6C222.2 1199.1 219.5 1199.4 221.7 1203.4C223.9 1207.4 228.2 1205.4 231.2 1209.9C234.2 1214.4 232.9 1215.8 234.4 1222.8C235.9 1229.8 235.6 1232.0 237.6 1240.1C239.6 1248.2 240.7 1248.8 242.9 1257.4C245.1 1266.0 246.1 1267.7 247.2 1276.8C248.3 1285.9 248.1 1288.1 247.8 1296.2C247.5 1304.3 244.5 1305.3 246.1 1311.4C247.7 1317.5 250.6 1317.7 254.6 1322.2C258.6 1326.7 258.6 1327.0 263.1 1330.8C267.6 1334.6 269.5 1334.5 273.7 1338.3C277.9 1342.1 279.1 1342.7 281.1 1347.0C283.1 1351.3 282.5 1351.4 282.1 1356.7C281.8 1362.0 279.8 1364.1 279.6 1369.6C279.4 1375.1 282.0 1375.9 281.1 1380.4C280.2 1384.9 279.0 1387.2 275.8 1389.0C272.6 1390.8 273.2 1389.5 267.3 1388.0C261.4 1386.5 259.2 1384.6 250.3 1382.6C241.4 1380.6 239.0 1380.0 229.1 1379.4C219.2 1378.8 216.8 1379.3 207.9 1380.0C199.0 1380.7 196.9 1381.4 191.0 1382.6C185.1 1383.8 185.5 1387.2 182.5 1385.2C179.5 1383.2 179.6 1384.2 178.2 1374.0C176.8 1363.8 177.0 1356.7 176.5 1341.6C176.0 1326.5 176.1 1324.3 176.1 1309.2C176.1 1294.1 176.0 1291.9 176.5 1276.8C177.0 1261.7 177.1 1258.0 178.2 1244.4C179.3 1230.8 179.7 1230.1 181.4 1218.5C183.2 1206.9 183.7 1205.4 185.7 1194.8C187.7 1184.2 187.9 1181.5 189.9 1173.2C191.9 1164.9 192.4 1163.5 194.1 1159.2C195.8 1154.9 193.8 1155.8 197.3 1154.8Z"/></clipPath>
<radialGradient id="g88"><stop offset="0.00" stop-color="#221db5" stop-opacity="1.00"/><stop offset="0.10" stop-color="#221db5" stop-opacity="1.00"/><stop offset="0.20" stop-color="#231eb6" stop-opacity="1.00"/><stop offset="0.30" stop-color="#231eba" stop-opacity="1.00"/><stop offset="0.40" stop-color="#221fc0" stop-opacity="1.00"/><stop offset="0.50" stop-color="#2221c8" stop-opacity="1.00"/><stop offset="0.60" stop-color="#2122cf" stop-opacity="1.00"/><stop offset="0.70" stop-color="#2023d7" stop-opacity="1.00"/><stop offset="0.80" stop-color="#2025dd" stop-opacity="0.71"/><stop offset="0.90" stop-color="#1f26e3" stop-opacity="0.36"/><stop offset="1.00" stop-color="#1f26e7" stop-opacity="0.00"/></radialGradient>
<radialGradient id="g89"><stop offset="0.00" stop-color="#2220c5" stop-opacity="1.00"/><stop offset="0.10" stop-color="#2220c5" stop-opacity="1.00"/><stop offset="0.20" stop-color="#2220c6" stop-opacity="1.00"/><stop offset="0.30" stop-color="#2221c9" stop-opacity="1.00"/><stop offset="0.40" stop-color="#2122cd" stop-opacity="1.00"/><stop offset="0.50" stop-color="#2123d2" stop-opacity="1.00"/><stop offset="0.60" stop-color="#2024d8" stop-opacity="1.00"/><stop offset="0.70" stop-color="#2025dd" stop-opacity="1.00"/><stop offset="0.80" stop-color="#1f26e2" stop-opacity="0.71"/><stop offset="0.90" stop-color="#1f26e6" stop-opacity="0.36"/><stop offset="1.00" stop-color="#1f27e9" stop-opacity="0.00"/></radialGradient>
<radialGradient id="g90"><stop offset="0.00" stop-color="#0098ff" stop-opacity="1.00"/><stop offset="0.10" stop-color="#0098ff" stop-opacity="1.00"/><stop offset="0.20" stop-color="#0098ff" stop-opacity="1.00"/><stop offset="0.30" stop-color="#0098ff" stop-opacity="1.00"/><stop offset="0.40" stop-color="#0097ff" stop-opacity="1.00"/><stop offset="0.50" stop-color="#008cff" stop-opacity="1.00"/><stop offset="0.60" stop-color="#007aff" stop-opacity="1.00"/><stop offset="0.70" stop-color="#0064ff" stop-opacity="1.00"/><stop offset="0.80" stop-color="#0551fc" stop-opacity="0.71"/><stop offset="0.90" stop-color="#0e42f8" stop-opacity="0.36"/><stop offset="1.00" stop-color="#1537f5" stop-opacity="0.00"/></radialGradient>
<radialGradient id="g91"><stop offset="0.00" stop-color="#00c9fd" stop-opacity="1.00"/><stop offset="0.10" stop-color="#00c9fd" stop-opacity="1.00"/><stop offset="0.20" stop-color="#00c9fd" stop-opacity="1.00"/><stop offset="0.30" stop-color="#00c9fd" stop-opacity="1.00"/><stop offset="0.40" stop-color="#00c6fd" stop-opacity="1.00"/><stop offset="0.50" stop-color="#00b6fe" stop-opacity="1.00"/><stop offset="0.60" stop-color="#009cff" stop-opacity="1.00"/><stop offset="0.70" stop-color="#007eff" stop-opacity="1.00"/><stop offset="0.80" stop-color="#0061ff" stop-opacity="0.71"/><stop offset="0.90" stop-color="#094cfb" stop-opacity="0.36"/><stop offset="1.00" stop-color="#123df6" stop-opacity="0.00"/></radialGradient>
<radialGradient id="g92"><stop offset="0.00" stop-color="#00dafb" stop-opacity="1.00"/><stop offset="0.10" stop-color="#00dafb" stop-opacity="1.00"/><stop offset="0.20" stop-color="#00dafb" stop-opacity="1.00"/><stop offset="0.30" stop-color="#00dafb" stop-opacity="1.00"/><stop offset="0.40" stop-color="#00d7fc" stop-opacity="1.00"/><stop offset="0.50" stop-color="#00c6fd" stop-opacity="1.00"/><stop offset="0.60" stop-color="#00a7ff" stop-opacity="1.00"/><stop offset="0.70" stop-color="#0086ff" stop-opacity="1.00"/><stop offset="0.80" stop-color="#0067ff" stop-opacity="0.71"/><stop offset="0.90" stop-color="#074ffc" stop-opacity="0.36"/><stop offset="1.00" stop-color="#103ff7" stop-opacity="0.00"/></radialGradient>
<radialGradient id="g93"><stop offset="0.00" stop-color="#00ebfa" stop-opacity="1.00"/><stop offset="0.10" stop-color="#00ebfa" stop-opacity="1.00"/><stop offset="0.20" stop-color="#00ebfa" stop-opacity="1.00"/><stop offset="0.30" stop-color="#00ebfa" stop-opacity="1.00"/><stop offset="0.40" stop-color="#00e8fa" stop-opacity="1.00"/><stop offset="0.50" stop-color="#00d5fc" stop-opacity="1.00"/><stop offset="0.60" stop-color="#00b3fe" stop-opacity="1.00"/><stop offset="0.70" stop-color="#008fff" stop-opacity="1.00"/><stop offset="0.80" stop-color="#006dff" stop-opacity="0.71"/><stop offset="0.90" stop-color="#0552fd" stop-opacity="0.36"/><stop offset="1.00" stop-color="#0f40f7" stop-opacity="0.00"/></radialGradient>
<radialGradient id="g94"><stop offset="0.00" stop-color="#cfed00" stop-opacity="1.00"/><stop offset="0.10" stop-color="#b8f002" stop-opacity="1.00"/><stop offset="0.20" stop-color="#4bef33" stop-opacity="1.00"/><stop offset="0.30" stop-color="#00f0b0" stop-opacity="1.00"/><stop offset="0.40" stop-color="#00ddfb" stop-opacity="1.00"/><stop offset="0.50" stop-color="#00a8ff" stop-opacity="1.00"/><stop offset="0.60" stop-color="#007fff" stop-opacity="0.99"/><stop offset="0.70" stop-color="#005eff" stop-opacity="0.65"/><stop offset="0.80" stop-color="#0a49fa" stop-opacity="0.40"/><stop offset="0.90" stop-color="#133bf6" stop-opacity="0.16"/><stop offset="1.00" stop-color="#1832f3" stop-opacity="0.00"/></radialGradient>
<radialGradient id="g95"><stop offset="0.00" stop-color="#d90700" stop-opacity="1.00"/><stop offset="0.10" stop-color="#e90d00" stop-opacity="1.00"/><stop offset="0.20" stop-color="#fd3b00" stop-opacity="1.00"/><stop offset="0.30" stop-color="#ff9700" stop-opacity="1.00"/><stop offset="0.40" stop-color="#ece700" stop-opacity="1.00"/><stop offset="0.50" stop-color="#12ec60" stop-opacity="1.00"/><stop offset="0.60" stop-color="#00d7fc" stop-opacity="0.99"/><stop offset="0.70" stop-color="#0094ff" stop-opacity="0.65"/><stop offset="0.80" stop-color="#0067ff" stop-opacity="0.40"/><stop offset="0.90" stop-color="#094bfb" stop-opacity="0.16"/><stop offset="1.00" stop-color="#133bf6" stop-opacity="0.00"/></radialGradient>
<radialGradient id="g96"><stop offset="0.00" stop-color="#c80000" stop-opacity="1.00"/><stop offset="0.10" stop-color="#c80000" stop-opacity="1.00"/><stop offset="0.20" stop-color="#c80000" stop-opacity="1.00"/><stop offset="0.30" stop-color="#f41200" stop-opacity="1.00"/><stop offset="0.40" stop-color="#ff9200" stop-opacity="1.00"/><stop offset="0.50" stop-color="#dbea00" stop-opacity="1.00"/><stop offset="0.60" stop-color="#00efbb" stop-opacity="0.99"/><stop offset="0.70" stop-color="#00b4fe" stop-opacity="0.65"/><stop offset="0.80" stop-color="#007aff" stop-opacity="0.40"/><stop offset="0.90" stop-color="#0354fd" stop-opacity="0.16"/><stop offset="1.00" stop-color="#0f40f7" stop-opacity="0.00"/></radialGradient>
<clipPath id="c97"><path d="M642.4 1155.9C645.9 1154.9 650.1 1154.1 654.1 1155.9C658.1 1157.7 656.9 1158.7 659.4 1163.5C661.9 1168.3 663.0 1169.5 664.7 1176.6C666.4 1183.7 666.3 1187.3 666.8 1193.9C667.3 1200.5 664.6 1200.7 666.8 1204.7C669.0 1208.7 673.3 1206.7 676.3 1211.2C679.3 1215.8 678.0 1217.1 679.5 1224.2C681.0 1231.3 680.7 1233.5 682.7 1241.6C684.7 1249.7 685.8 1250.4 688.0 1259.0C690.2 1267.6 691.2 1269.4 692.3 1278.5C693.4 1287.6 693.2 1289.9 692.9 1298.0C692.6 1306.1 689.6 1307.1 691.2 1313.2C692.8 1319.3 695.7 1319.5 699.7 1324.1C703.7 1328.7 703.7 1329.0 708.2 1332.8C712.7 1336.6 714.6 1336.5 718.8 1340.3C723.0 1344.1 724.2 1344.7 726.2 1349.0C728.2 1353.3 727.6 1353.5 727.2 1358.8C726.9 1364.1 724.9 1366.2 724.7 1371.8C724.5 1377.4 727.1 1378.0 726.2 1382.6C725.3 1387.1 724.1 1389.5 720.9 1391.3C717.7 1393.1 718.4 1391.8 712.4 1390.3C706.4 1388.8 704.3 1386.8 695.4 1384.8C686.5 1382.8 684.1 1382.2 674.2 1381.6C664.3 1381.0 661.9 1381.5 653.0 1382.2C644.1 1382.9 642.0 1383.6 636.1 1384.8C630.2 1386.0 630.6 1389.4 627.6 1387.4C624.6 1385.4 624.7 1386.4 623.3 1376.2C621.9 1366.0 622.1 1358.8 621.6 1343.6C621.1 1328.4 621.2 1326.3 621.2 1311.1C621.2 1295.9 621.1 1293.7 621.6 1278.5C622.1 1263.3 622.2 1259.6 623.3 1245.9C624.4 1232.2 624.8 1231.5 626.5 1219.9C628.2 1208.3 628.8 1206.7 630.8 1196.1C632.8 1185.5 633.0 1182.8 635.0 1174.4C637.0 1166.0 637.5 1164.6 639.2 1160.3C640.9 1156.0 638.9 1156.9 642.4 1155.9Z"/></clipPath>
<radialGradient id="g98"><stop offset="0.00" stop-color="#211cac" stop-opacity="1.00"/><stop offset="0.10" stop-color="#211cac" stop-opacity="1.00"/><stop offset="0.20" stop-color="#211cae" stop-opacity="1.00"/><stop offset="0.30" stop-color="#221db3" stop-opacity="1.00"/><stop offset="0.40" stop-color="#231ebb" stop-opacity="1.00"/><stop offset="0.50" stop-color="#2220c3" stop-opacity="1.00"/><stop offset="0.60" stop-color="#2122cd" stop-opacity="1.00"/><stop offset="0.70" stop-color="#2023d6" stop-opacity="1.00"/><stop offset="0.80" stop-color="#2025dd" stop-opacity="0.71"/><stop offset="0.90" stop-color="#1f26e4" stop-opacity="0.36"/><stop offset="1.00" stop-color="#1f27e9" stop-opacity="0.00"/></radialGradient>
<radialGradient id="g99"><stop offset="0.00" stop-color="#221fc1" stop-opacity="1.00"/><stop offset="0.10" stop-color="#221fc1" stop-opacity="1.00"/><stop offset="0.20" stop-color="#2220c2" stop-opacity="1.00"/><stop offset="0.30" stop-color="#2220c5" stop-opacity="1.00"/><stop offset="0.40" stop-color="#2121cb" stop-opacity="1.00"/><stop offset="0.50" stop-color="#2122d1" stop-opacity="1.00"/><stop offset="0.60" stop-color="#2024d8" stop-opacity="1.00"/><stop offset="0.70" stop-color="#2025de" stop-opacity="1.00"/><stop offset="0.80" stop-color="#1f26e4" stop-opacity="0.71"/><stop offset="0.90" stop-color="#1f27e8" stop-opacity="0.36"/><stop offset="1.00" stop-color="#1e27ec" stop-opacity="0.00"/></radialGradient>
<radialGradient id="g100"><stop offset="0.00" stop-color="#0082ff" stop-opacity="1.00"/><stop offset="0.10" stop-color="#0082ff" stop-opacity="1.00"/><stop offset="0.20" stop-color="#0082ff" stop-opacity="1.00"/><stop offset="0.30" stop-color="#0082ff" stop-opacity="1.00"/><stop offset="0.40" stop-color="#0081ff" stop-opacity="1.00"/><stop offset="0.50" stop-color="#0079ff" stop-opacity="1.00"/><stop offset="0.60" stop-color="#006aff" stop-opacity="1.00"/><stop offset="0.70" stop-color="#0059ff" stop-opacity="1.00"/><stop offset="0.80" stop-color="#094bfb" stop-opacity="0.71"/><stop offset="0.90" stop-color="#1040f7" stop-opacity="0.36"/><stop offset="1.00" stop-color="#1537f4" stop-opacity="0.00"/></radialGradient>
<radialGradient id="g101"><stop offset="0.00" stop-color="#00e2fb" stop-opacity="1.00"/><stop offset="0.10" stop-color="#00e2fb" stop-opacity="1.00"/><stop offset="0.20" stop-color="#00e2fb" stop-opacity="1.00"/><stop offset="0.30" stop-color="#00e2fb" stop-opacity="1.00"/><stop offset="0.40" stop-color="#00e0fb" stop-opacity="1.00"/><stop offset="0.50" stop-color="#00cefc" stop-opacity="1.00"/><stop offset="0.60" stop-color="#00aeff" stop-opacity="1.00"/><stop offset="0.70" stop-color="#008cff" stop-opacity="1.00"/><stop offset="0.80" stop-color="#006cff" stop-opacity="0.71"/><stop offset="0.90" stop-color="#0453fd" stop-opacity="0.36"/><stop offset="1.00" stop-color="#0e42f8" stop-opacity="0.00"/></radialGradient>
<radialGradient id="g102"><stop offset="0.00" stop-color="#f7cb00" stop-opacity="1.00"/><stop offset="0.10" stop-color="#f4d500" stop-opacity="1.00"/><stop offset="0.20" stop-color="#e3e900" stop-opacity="1.00"/><stop offset="0.30" stop-color="#76f01d" stop-opacity="1.00"/><stop offset="0.40" stop-color="#00efbc" stop-opacity="1.00"/><stop offset="0.50" stop-color="#00cdfc" stop-opacity="1.00"/><stop offset="0.60" stop-color="#0097ff" stop-opacity="0.99"/><stop offset="0.70" stop-color="#006fff" stop-opacity="0.65"/><stop offset="0.80" stop-color="#0453fd" stop-opacity="0.40"/><stop offset="0.90" stop-color="#0e42f8" stop-opacity="0.16"/><stop offset="1.00" stop-color="#1538f5" stop-opacity="0.00"/></radialGradient>
<radialGradient id="g103"><stop offset="0.00" stop-color="#c80000" stop-opacity="1.00"/><stop offset="0.10" stop-color="#c80000" stop-opacity="1.00"/><stop offset="0.20" stop-color="#db0800" stop-opacity="1.00"/><stop offset="0.30" stop-color="#fe5100" stop-opacity="1.00"/><stop offset="0.40" stop-color="#f9c000" stop-opacity="1.00"/><stop offset="0.50" stop-color="#99f00f" stop-opacity="1.00"/><stop offset="0.60" stop-color="#00ece7" stop-opacity="0.99"/><stop offset="0.70" stop-color="#00a6ff" stop-opacity="0.65"/><stop offset="0.80" stop-color="#0074ff" stop-opacity="0.40"/><stop offset="0.90" stop-color="#0453fd" stop-opacity="0.16"/><stop offset="1.00" stop-color="#0f41f7" stop-opacity="0.00"/></radialGradient>
<clipPath id="c104"><path d="M459.4 850.6C460.3 850.8 461.0 850.6 461.9 854.8C462.8 859.0 463.2 864.2 464.0 871.8C464.8 879.4 464.9 885.4 465.7 893.0C466.5 900.6 467.2 901.5 467.8 910.0C468.4 918.5 468.5 924.0 468.9 935.4C469.3 946.8 469.7 954.5 470.0 967.2C470.3 979.9 470.2 986.4 470.4 999.1C470.6 1011.8 470.7 1020.3 471.0 1030.9C471.3 1041.5 471.5 1044.5 471.7 1052.1C471.9 1059.7 471.9 1063.1 472.1 1069.0C472.3 1074.9 473.1 1078.0 472.5 1081.8C471.9 1085.6 470.7 1085.4 468.9 1088.1C467.1 1090.8 465.9 1093.0 463.6 1095.5C461.3 1098.0 459.1 1099.3 457.2 1100.4C455.3 1101.5 454.9 1102.0 454.1 1100.8C453.3 1099.6 453.4 1097.5 453.0 1094.5C452.6 1091.5 453.3 1089.0 451.9 1086.0C450.5 1083.0 447.5 1083.0 446.2 1079.6C444.9 1076.2 445.5 1074.5 445.6 1069.0C445.7 1063.5 446.3 1061.8 446.6 1052.1C446.9 1042.4 446.9 1033.0 447.1 1020.3C447.3 1007.6 447.5 1001.1 447.7 988.4C447.9 975.7 447.9 969.3 448.1 956.6C448.3 943.9 448.3 935.4 448.8 924.8C449.3 914.2 449.7 912.1 450.5 903.6C451.3 895.1 452.0 890.5 453.0 882.4C454.0 874.3 454.7 869.0 455.5 863.3C456.3 857.6 456.4 856.3 457.2 853.8C458.0 851.3 458.5 850.4 459.4 850.6Z"/></clipPath>
<radialGradient id="g105"><stop offset="0.00" stop-color="#113df6" stop-opacity="1.00"/><stop offset="0.10" stop-color="#113df6" stop-opacity="1.00"/><stop offset="0.20" stop-color="#113df6" stop-opacity="1.00"/><stop offset="0.30" stop-color="#113df6" stop-opacity="1.00"/><stop offset="0.40" stop-color="#113df6" stop-opacity="1.00"/><stop offset="0.50" stop-color="#1438f5" stop-opacity="1.00"/><stop offset="0.60" stop-color="#1931f3" stop-opacity="1.00"/><stop offset="0.70" stop-color="#1e28ef" stop-opacity="1.00"/><stop offset="0.80" stop-color="#1f26e4" stop-opacity="0.71"/><stop offset="0.90" stop-color="#2024da" stop-opacity="0.36"/><stop offset="1.00" stop-color="#2123d3" stop-opacity="0.00"/></radialGradient>
<radialGradient id="g106"><stop offset="0.00" stop-color="#00a7ff" stop-opacity="1.00"/><stop offset="0.10" stop-color="#00a7ff" stop-opacity="1.00"/><stop offset="0.20" stop-color="#00a7ff" stop-opacity="1.00"/><stop offset="0.30" stop-color="#00a7ff" stop-opacity="1.00"/><stop offset="0.40" stop-color="#00a5ff" stop-opacity="1.00"/><stop offset="0.50" stop-color="#0096ff" stop-opacity="1.00"/><stop offset="0.60" stop-color="#007cff" stop-opacity="1.00"/><stop offset="0.70" stop-color="#005dff" stop-opacity="1.00"/><stop offset="0.80" stop-color="#0e43f8" stop-opacity="0.71"/><stop offset="0.90" stop-color="#1a2ef2" stop-opacity="0.36"/><stop offset="1.00" stop-color="#1f26e4" stop-opacity="0.00"/></radialGradient>
<radialGradient id="g107"><stop offset="0.00" stop-color="#00dafb" stop-opacity="1.00"/><stop offset="0.10" stop-color="#00dafb" stop-opacity="1.00"/><stop offset="0.20" stop-color="#00dafb" stop-opacity="1.00"/><stop offset="0.30" stop-color="#00dafb" stop-opacity="1.00"/><stop offset="0.40" stop-color="#00d7fc" stop-opacity="1.00"/><stop offset="0.50" stop-color="#00c1fd" stop-opacity="1.00"/><stop offset="0.60" stop-color="#009eff" stop-opacity="1.00"/><stop offset="0.70" stop-color="#0077ff" stop-opacity="1.00"/><stop offset="0.80" stop-color="#0552fd" stop-opacity="0.71"/><stop offset="0.90" stop-color="#1538f5" stop-opacity="0.36"/><stop offset="1.00" stop-color="#1e27eb" stop-opacity="0.00"/></radialGradient>
<radialGradient id="g108"><stop offset="0.00" stop-color="#00ebfa" stop-opacity="1.00"/><stop offset="0.10" stop-color="#00ebfa" stop-opacity="1.00"/><stop offset="0.20" stop-color="#00ebfa" stop-opacity="1.00"/><stop offset="0.30" stop-color="#00ebfa" stop-opacity="1.00"/><stop offset="0.40" stop-color="#00e8fa" stop-opacity="1.00"/><stop offset="0.50" stop-color="#00d1fc" stop-opacity="1.00"/><stop offset="0.60" stop-color="#00a9ff" stop-opacity="1.00"/><stop offset="0.70" stop-color="#007fff" stop-opacity="1.00"/><stop offset="0.80" stop-color="#0257fe" stop-opacity="0.71"/><stop offset="0.90" stop-color="#133bf6" stop-opacity="0.36"/><stop offset="1.00" stop-color="#1e28ee" stop-opacity="0.00"/></radialGradient>
<radialGradient id="g109"><stop offset="0.00" stop-color="#c80000" stop-opacity="1.00"/><stop offset="0.10" stop-color="#c80000" stop-opacity="1.00"/><stop offset="0.20" stop-color="#f11000" stop-opacity="1.00"/><stop offset="0.30" stop-color="#ff7200" stop-opacity="1.00"/><stop offset="0.40" stop-color="#f3db00" stop-opacity="1.00"/><stop offset="0.50" stop-color="#1ced58" stop-opacity="1.00"/><stop offset="0.60" stop-color="#00cdfc" stop-opacity="0.99"/><stop offset="0.70" stop-color="#0081ff" stop-opacity="0.65"/><stop offset="0.80" stop-color="#064ffc" stop-opacity="0.40"/><stop offset="0.90" stop-color="#1832f3" stop-opacity="0.16"/><stop offset="1.00" stop-color="#1f26e5" stop-opacity="0.00"/></radialGradient>
<radialGradient id="g110"><stop offset="0.00" stop-color="#030828" stop-opacity="0.90"/><stop offset="0.20" stop-color="#030828" stop-opacity="0.80"/><stop offset="0.40" stop-color="#030828" stop-opacity="0.56"/><stop offset="0.60" stop-color="#030828" stop-opacity="0.31"/><stop offset="0.80" stop-color="#030828" stop-opacity="0.09"/><stop offset="1.00" stop-color="#030828" stop-opacity="0.00"/></radialGradient>
<radialGradient id="g111"><stop offset="0.00" stop-color="#030828" stop-opacity="0.75"/><stop offset="0.20" stop-color="#030828" stop-opacity="0.67"/><stop offset="0.40" stop-color="#030828" stop-opacity="0.46"/><stop offset="0.60" stop-color="#030828" stop-opacity="0.25"/><stop offset="0.80" stop-color="#030828" stop-opacity="0.07"/><stop offset="1.00" stop-color="#030828" stop-opacity="0.00"/></radialGradient>
<radialGradient id="g112"><stop offset="0.00" stop-color="#300000" stop-opacity="0.45"/><stop offset="0.20" stop-color="#300000" stop-opacity="0.40"/><stop offset="0.40" stop-color="#300000" stop-opacity="0.28"/><stop offset="0.60" stop-color="#300000" stop-opacity="0.15"/><stop offset="0.80" stop-color="#300000" stop-opacity="0.04"/><stop offset="1.00" stop-color="#300000" stop-opacity="0.00"/></radialGradient>
<clipPath id="c113"><path d="M910.4 846.4C911.3 846.6 912.0 846.4 912.9 850.7C913.8 855.0 914.2 860.2 915.0 868.0C915.8 875.8 915.9 881.9 916.7 889.7C917.5 897.5 918.2 898.3 918.8 907.0C919.4 915.7 919.5 921.3 919.9 933.0C920.3 944.7 920.7 952.4 921.0 965.4C921.3 978.4 921.2 985.0 921.4 998.0C921.6 1011.0 921.7 1019.7 922.0 1030.5C922.3 1041.3 922.5 1044.3 922.7 1052.1C922.9 1059.9 922.9 1063.3 923.1 1069.4C923.3 1075.5 924.1 1078.6 923.5 1082.5C922.9 1086.4 921.7 1086.1 919.9 1088.9C918.1 1091.7 916.9 1093.9 914.6 1096.4C912.3 1098.9 910.1 1100.3 908.2 1101.4C906.3 1102.5 905.9 1103.1 905.1 1101.9C904.3 1100.7 904.4 1098.4 904.0 1095.4C903.6 1092.4 904.3 1089.7 902.9 1086.7C901.5 1083.7 898.5 1083.7 897.2 1080.2C895.9 1076.7 896.5 1075.0 896.6 1069.4C896.7 1063.8 897.3 1062.0 897.6 1052.1C897.9 1042.2 897.9 1032.7 898.1 1019.7C898.3 1006.7 898.5 1000.1 898.7 987.1C898.9 974.1 898.9 967.6 899.1 954.6C899.3 941.6 899.3 933.0 899.8 922.2C900.3 911.4 900.7 909.2 901.5 900.5C902.3 891.8 903.0 887.1 904.0 878.9C905.0 870.7 905.7 865.2 906.5 859.4C907.3 853.6 907.4 852.3 908.2 849.7C909.0 847.1 909.5 846.2 910.4 846.4Z"/></clipPath>
<radialGradient id="g114"><stop offset="0.00" stop-color="#00c9fd" stop-opacity="1.00"/><stop offset="0.10" stop-color="#00c9fd" stop-opacity="1.00"/><stop offset="0.20" stop-color="#00c9fd" stop-opacity="1.00"/><stop offset="0.30" stop-color="#00c9fd" stop-opacity="1.00"/><stop offset="0.40" stop-color="#00c6fd" stop-opacity="1.00"/><stop offset="0.50" stop-color="#00b2fe" stop-opacity="1.00"/><stop offset="0.60" stop-color="#0093ff" stop-opacity="1.00"/><stop offset="0.70" stop-color="#0070ff" stop-opacity="1.00"/><stop offset="0.80" stop-color="#074ffc" stop-opacity="0.71"/><stop offset="0.90" stop-color="#1537f4" stop-opacity="0.36"/><stop offset="1.00" stop-color="#1e27ec" stop-opacity="0.00"/></radialGradient>
<radialGradient id="g115"><stop offset="0.00" stop-color="#00eddb" stop-opacity="1.00"/><stop offset="0.10" stop-color="#00eddb" stop-opacity="1.00"/><stop offset="0.20" stop-color="#00eddb" stop-opacity="1.00"/><stop offset="0.30" stop-color="#00eddb" stop-opacity="1.00"/><stop offset="0.40" stop-color="#00ede0" stop-opacity="1.00"/><stop offset="0.50" stop-color="#00e1fb" stop-opacity="1.00"/><stop offset="0.60" stop-color="#00b7fe" stop-opacity="1.00"/><stop offset="0.70" stop-color="#0089ff" stop-opacity="1.00"/><stop offset="0.80" stop-color="#005fff" stop-opacity="0.71"/><stop offset="0.90" stop-color="#0f40f7" stop-opacity="0.36"/><stop offset="1.00" stop-color="#1c2bf1" stop-opacity="0.00"/></radialGradient>
<radialGradient id="g116"><stop offset="0.00" stop-color="#ff8c00" stop-opacity="1.00"/><stop offset="0.10" stop-color="#ff9e00" stop-opacity="1.00"/><stop offset="0.20" stop-color="#f8c800" stop-opacity="1.00"/><stop offset="0.30" stop-color="#d7eb00" stop-opacity="1.00"/><stop offset="0.40" stop-color="#00ec7a" stop-opacity="1.00"/><stop offset="0.50" stop-color="#00d4fc" stop-opacity="1.00"/><stop offset="0.60" stop-color="#0090ff" stop-opacity="0.99"/><stop offset="0.70" stop-color="#005eff" stop-opacity="0.65"/><stop offset="0.80" stop-color="#113ef7" stop-opacity="0.40"/><stop offset="0.90" stop-color="#1d29f0" stop-opacity="0.16"/><stop offset="1.00" stop-color="#1f25e1" stop-opacity="0.00"/></radialGradient>
<radialGradient id="g117"><stop offset="0.00" stop-color="#ff5500" stop-opacity="1.00"/><stop offset="0.10" stop-color="#ff6900" stop-opacity="1.00"/><stop offset="0.20" stop-color="#ffa100" stop-opacity="1.00"/><stop offset="0.30" stop-color="#f1e100" stop-opacity="1.00"/><stop offset="0.40" stop-color="#54f02c" stop-opacity="1.00"/><stop offset="0.50" stop-color="#00ebfa" stop-opacity="1.00"/><stop offset="0.60" stop-color="#009eff" stop-opacity="0.99"/><stop offset="0.70" stop-color="#0067ff" stop-opacity="0.65"/><stop offset="0.80" stop-color="#0e43f8" stop-opacity="0.40"/><stop offset="0.90" stop-color="#1c2cf1" stop-opacity="0.16"/><stop offset="1.00" stop-color="#1f26e3" stop-opacity="0.00"/></radialGradient>
<radialGradient id="g118"><stop offset="0.00" stop-color="#c80000" stop-opacity="1.00"/><stop offset="0.10" stop-color="#c90100" stop-opacity="1.00"/><stop offset="0.20" stop-color="#fa1700" stop-opacity="1.00"/><stop offset="0.30" stop-color="#ff7f00" stop-opacity="1.00"/><stop offset="0.40" stop-color="#f1e200" stop-opacity="1.00"/><stop offset="0.50" stop-color="#0bec65" stop-opacity="1.00"/><stop offset="0.60" stop-color="#00cafd" stop-opacity="0.99"/><stop offset="0.70" stop-color="#0081ff" stop-opacity="0.65"/><stop offset="0.80" stop-color="#0651fc" stop-opacity="0.40"/><stop offset="0.90" stop-color="#1734f4" stop-opacity="0.16"/><stop offset="1.00" stop-color="#1f27e8" stop-opacity="0.00"/></radialGradient>
<radialGradient id="g119"><stop offset="0.00" stop-color="#030828" stop-opacity="0.70"/><stop offset="0.20" stop-color="#030828" stop-opacity="0.62"/><stop offset="0.40" stop-color="#030828" stop-opacity="0.43"/><stop offset="0.60" stop-color="#030828" stop-opacity="0.24"/><stop offset="0.80" stop-color="#030828" stop-opacity="0.07"/><stop offset="1.00" stop-color="#030828" stop-opacity="0.00"/></radialGradient>
<clipPath id="c120"><path d="M457.3 1153.1C458.2 1153.3 458.9 1153.1 459.8 1157.3C460.7 1161.5 461.1 1166.5 461.9 1174.1C462.7 1181.7 462.8 1187.5 463.6 1195.1C464.4 1202.7 465.1 1203.6 465.7 1212.0C466.3 1220.4 466.4 1225.9 466.8 1237.2C467.2 1248.5 467.6 1256.1 467.9 1268.7C468.2 1281.3 468.1 1287.7 468.3 1300.3C468.5 1312.9 468.6 1321.4 468.9 1331.9C469.2 1342.4 469.4 1345.4 469.6 1352.9C469.8 1360.4 469.8 1363.7 470.0 1369.6C470.2 1375.5 471.0 1378.5 470.4 1382.3C469.8 1386.1 468.6 1385.9 466.8 1388.6C465.0 1391.3 463.8 1393.5 461.5 1395.9C459.2 1398.3 457.0 1399.7 455.1 1400.8C453.2 1401.9 452.8 1402.4 452.0 1401.2C451.2 1400.0 451.3 1397.8 450.9 1394.9C450.5 1392.0 451.2 1389.4 449.8 1386.5C448.4 1383.6 445.4 1383.6 444.1 1380.2C442.8 1376.8 443.4 1375.1 443.5 1369.6C443.6 1364.1 444.2 1362.5 444.5 1352.9C444.8 1343.3 444.8 1334.0 445.0 1321.4C445.2 1308.8 445.4 1302.3 445.6 1289.7C445.8 1277.1 445.8 1270.8 446.0 1258.2C446.2 1245.6 446.2 1237.2 446.7 1226.7C447.2 1216.2 447.6 1214.0 448.4 1205.6C449.2 1197.2 449.9 1192.6 450.9 1184.6C451.9 1176.6 452.6 1171.4 453.4 1165.7C454.2 1160.0 454.3 1158.8 455.1 1156.3C455.9 1153.8 456.4 1152.9 457.3 1153.1Z"/></clipPath>
<radialGradient id="g121"><stop offset="0.00" stop-color="#1537f5" stop-opacity="1.00"/><stop offset="0.10" stop-color="#1537f5" stop-opacity="1.00"/><stop offset="0.20" stop-color="#1537f5" stop-opacity="1.00"/><stop offset="0.30" stop-color="#1537f5" stop-opacity="1.00"/><stop offset="0.40" stop-color="#1537f4" stop-opacity="1.00"/><stop offset="0.50" stop-color="#1733f3" stop-opacity="1.00"/><stop offset="0.60" stop-color="#1c2cf1" stop-opacity="1.00"/><stop offset="0.70" stop-color="#1e27eb" stop-opacity="1.00"/><stop offset="0.80" stop-color="#1f25e0" stop-opacity="0.71"/><stop offset="0.90" stop-color="#2024d8" stop-opacity="0.36"/><stop offset="1.00" stop-color="#2122d2" stop-opacity="0.00"/></radialGradient>
<radialGradient id="g122"><stop offset="0.00" stop-color="#e60c00" stop-opacity="1.00"/><stop offset="0.10" stop-color="#f71300" stop-opacity="1.00"/><stop offset="0.20" stop-color="#fe5100" stop-opacity="1.00"/><stop offset="0.30" stop-color="#feae00" stop-opacity="1.00"/><stop offset="0.40" stop-color="#d6eb00" stop-opacity="1.00"/><stop offset="0.50" stop-color="#00f0b8" stop-opacity="1.00"/><stop offset="0.60" stop-color="#00b4fe" stop-opacity="0.99"/><stop offset="0.70" stop-color="#0074ff" stop-opacity="0.65"/><stop offset="0.80" stop-color="#0b48fa" stop-opacity="0.40"/><stop offset="0.90" stop-color="#1b2ef2" stop-opacity="0.16"/><stop offset="1.00" stop-color="#1f25e2" stop-opacity="0.00"/></radialGradient>
<clipPath id="c123"><path d="M910.9 1154.4C911.8 1154.6 912.5 1154.4 913.4 1158.6C914.3 1162.8 914.7 1167.9 915.5 1175.5C916.3 1183.1 916.4 1188.9 917.2 1196.5C918.0 1204.1 918.7 1205.0 919.3 1213.4C919.9 1221.8 920.0 1227.2 920.4 1238.6C920.8 1250.0 921.2 1257.5 921.5 1270.2C921.8 1282.9 921.7 1289.3 921.9 1301.9C922.1 1314.5 922.2 1322.9 922.5 1333.4C922.8 1343.9 923.0 1346.9 923.2 1354.5C923.4 1362.1 923.4 1365.4 923.6 1371.3C923.8 1377.2 924.6 1380.2 924.0 1384.0C923.4 1387.8 922.2 1387.5 920.4 1390.2C918.6 1392.9 917.4 1395.1 915.1 1397.6C912.8 1400.1 910.6 1401.5 908.7 1402.5C906.8 1403.5 906.4 1404.0 905.6 1402.8C904.8 1401.6 904.9 1399.5 904.5 1396.6C904.1 1393.7 904.8 1391.2 903.4 1388.2C902.0 1385.2 899.0 1385.2 897.7 1381.8C896.4 1378.4 897.0 1376.8 897.1 1371.3C897.2 1365.8 897.8 1364.2 898.1 1354.5C898.4 1344.8 898.4 1335.6 898.6 1322.9C898.8 1310.2 899.0 1303.8 899.2 1291.2C899.4 1278.6 899.4 1272.3 899.6 1259.7C899.8 1247.1 899.8 1238.6 900.3 1228.1C900.8 1217.6 901.2 1215.4 902.0 1207.0C902.8 1198.6 903.5 1194.0 904.5 1186.0C905.5 1178.0 906.2 1172.7 907.0 1167.0C907.8 1161.3 907.9 1160.1 908.7 1157.6C909.5 1155.1 910.0 1154.2 910.9 1154.4Z"/></clipPath>
<radialGradient id="g124"><stop offset="0.00" stop-color="#feaf00" stop-opacity="1.00"/><stop offset="0.10" stop-color="#fbbc00" stop-opacity="1.00"/><stop offset="0.20" stop-color="#f1e000" stop-opacity="1.00"/><stop offset="0.30" stop-color="#a7f009" stop-opacity="1.00"/><stop offset="0.40" stop-color="#00f0b9" stop-opacity="1.00"/><stop offset="0.50" stop-color="#00c2fd" stop-opacity="1.00"/><stop offset="0.60" stop-color="#0084ff" stop-opacity="0.99"/><stop offset="0.70" stop-color="#0356fe" stop-opacity="0.65"/><stop offset="0.80" stop-color="#1438f5" stop-opacity="0.40"/><stop offset="0.90" stop-color="#1e27ec" stop-opacity="0.16"/><stop offset="1.00" stop-color="#2024dc" stop-opacity="0.00"/></radialGradient>
<radialGradient id="g125"><stop offset="0.00" stop-color="#cb0100" stop-opacity="1.00"/><stop offset="0.10" stop-color="#dd0800" stop-opacity="1.00"/><stop offset="0.20" stop-color="#fc3000" stop-opacity="1.00"/><stop offset="0.30" stop-color="#ff9400" stop-opacity="1.00"/><stop offset="0.40" stop-color="#e6e800" stop-opacity="1.00"/><stop offset="0.50" stop-color="#00ed8c" stop-opacity="1.00"/><stop offset="0.60" stop-color="#00bffd" stop-opacity="0.99"/><stop offset="0.70" stop-color="#007aff" stop-opacity="0.65"/><stop offset="0.80" stop-color="#094cfb" stop-opacity="0.40"/><stop offset="0.90" stop-color="#1930f2" stop-opacity="0.16"/><stop offset="1.00" stop-color="#1f26e3" stop-opacity="0.00"/></radialGradient>
<radialGradient id="g126"><stop offset="0.00" stop-color="#030828" stop-opacity="0.85"/><stop offset="0.20" stop-color="#030828" stop-opacity="0.75"/><stop offset="0.40" stop-color="#030828" stop-opacity="0.53"/><stop offset="0.60" stop-color="#030828" stop-opacity="0.29"/><stop offset="0.80" stop-color="#030828" stop-opacity="0.08"/><stop offset="1.00" stop-color="#030828" stop-opacity="0.00"/></radialGradient>
<clipPath id="c127"><path d="M219.2 1664.8C224.7 1665.7 226.8 1666.6 232.3 1670.0C237.8 1673.4 237.8 1677.1 242.7 1679.2C247.6 1681.3 248.5 1679.5 253.1 1679.2C257.7 1678.9 259.2 1674.8 262.3 1677.8C265.4 1680.8 263.5 1683.4 266.2 1692.2C268.9 1701.0 269.7 1705.9 274.0 1715.7C278.3 1725.5 279.6 1725.5 284.5 1734.0C289.4 1742.5 289.7 1743.1 294.9 1752.2C300.1 1761.3 301.2 1763.3 306.7 1773.1C312.2 1782.9 315.1 1783.6 318.4 1794.0C321.7 1804.4 319.2 1807.7 321.0 1817.5C322.8 1827.3 323.4 1826.7 326.2 1835.8C329.0 1844.9 331.0 1847.5 332.8 1856.6C334.6 1865.7 332.3 1865.1 334.1 1874.9C335.9 1884.7 339.1 1889.9 340.6 1898.4C342.1 1906.9 342.7 1906.6 340.6 1911.5C338.5 1916.4 336.1 1915.7 331.5 1919.3C326.9 1922.9 325.9 1925.9 321.0 1927.1C316.1 1928.3 316.7 1926.6 310.6 1924.5C304.5 1922.4 301.6 1920.4 294.9 1918.0C288.2 1915.6 287.4 1913.5 281.9 1914.1C276.4 1914.7 274.5 1915.7 271.4 1920.6C268.3 1925.5 271.8 1929.7 268.8 1934.9C265.8 1940.1 263.3 1941.6 258.4 1942.8C253.5 1944.0 252.2 1943.3 247.9 1940.2C243.6 1937.1 245.0 1934.0 240.1 1929.7C235.2 1925.4 233.1 1925.5 227.0 1921.9C220.9 1918.3 220.7 1915.3 214.0 1914.1C207.3 1912.9 205.0 1916.7 198.3 1916.7C191.6 1916.7 192.0 1914.1 185.3 1914.1C178.6 1914.1 176.3 1916.1 169.6 1916.7C162.9 1917.3 162.7 1916.7 156.6 1916.7C150.5 1916.7 148.7 1914.9 143.5 1916.7C138.3 1918.5 138.3 1919.0 134.4 1924.5C130.5 1930.0 130.6 1934.1 126.6 1940.2C122.6 1946.3 121.7 1947.6 117.4 1950.6C113.1 1953.6 111.6 1955.6 108.3 1953.2C105.0 1950.8 104.6 1949.3 103.1 1940.2C101.6 1931.1 102.1 1925.7 101.8 1914.1C101.5 1902.5 100.9 1902.8 101.8 1890.6C102.7 1878.4 103.3 1872.9 105.7 1861.9C108.1 1850.9 109.2 1852.7 112.2 1843.6C115.2 1834.5 116.3 1833.1 118.7 1822.7C121.1 1812.3 120.8 1808.3 122.6 1799.2C124.4 1790.1 122.9 1789.7 126.6 1783.6C130.3 1777.5 132.8 1778.6 138.3 1773.1C143.8 1767.6 144.8 1768.0 150.0 1760.1C155.2 1752.2 155.9 1748.3 160.5 1739.2C165.1 1730.1 165.6 1730.0 169.6 1720.9C173.6 1711.8 173.8 1711.0 177.5 1700.0C181.2 1689.0 180.4 1680.6 185.3 1673.9C190.2 1667.2 192.8 1673.1 198.3 1671.3C203.8 1669.5 203.9 1667.6 208.8 1666.1C213.7 1664.6 213.7 1663.9 219.2 1664.8Z"/></clipPath>
<radialGradient id="g128"><stop offset="0.00" stop-color="#2220c5" stop-opacity="1.00"/><stop offset="0.10" stop-color="#2220c5" stop-opacity="1.00"/><stop offset="0.20" stop-color="#2221c7" stop-opacity="1.00"/><stop offset="0.30" stop-color="#2122cd" stop-opacity="1.00"/><stop offset="0.40" stop-color="#2023d5" stop-opacity="1.00"/><stop offset="0.50" stop-color="#1f25e0" stop-opacity="1.00"/><stop offset="0.60" stop-color="#1e27eb" stop-opacity="1.00"/><stop offset="0.70" stop-color="#1b2df1" stop-opacity="1.00"/><stop offset="0.80" stop-color="#1734f4" stop-opacity="0.71"/><stop offset="0.90" stop-color="#133bf6" stop-opacity="0.36"/><stop offset="1.00" stop-color="#1040f7" stop-opacity="0.00"/></radialGradient>
<radialGradient id="g129"><stop offset="0.00" stop-color="#2122cd" stop-opacity="1.00"/><stop offset="0.10" stop-color="#2122cd" stop-opacity="1.00"/><stop offset="0.20" stop-color="#2122ce" stop-opacity="1.00"/><stop offset="0.30" stop-color="#2123d4" stop-opacity="1.00"/><stop offset="0.40" stop-color="#2024dc" stop-opacity="1.00"/><stop offset="0.50" stop-color="#1f26e5" stop-opacity="1.00"/><stop offset="0.60" stop-color="#1e28ef" stop-opacity="1.00"/><stop offset="0.70" stop-color="#1a2ff2" stop-opacity="1.00"/><stop offset="0.80" stop-color="#1536f4" stop-opacity="0.71"/><stop offset="0.90" stop-color="#123cf6" stop-opacity="0.36"/><stop offset="1.00" stop-color="#0f41f7" stop-opacity="0.00"/></radialGradient>
<radialGradient id="g130"><stop offset="0.00" stop-color="#1e27ec" stop-opacity="1.00"/><stop offset="0.10" stop-color="#1e27ec" stop-opacity="1.00"/><stop offset="0.20" stop-color="#1e27ed" stop-opacity="1.00"/><stop offset="0.30" stop-color="#1e28f0" stop-opacity="1.00"/><stop offset="0.40" stop-color="#1c2cf1" stop-opacity="1.00"/><stop offset="0.50" stop-color="#1930f3" stop-opacity="1.00"/><stop offset="0.60" stop-color="#1635f4" stop-opacity="1.00"/><stop offset="0.70" stop-color="#133af5" stop-opacity="1.00"/><stop offset="0.80" stop-color="#113ef7" stop-opacity="0.71"/><stop offset="0.90" stop-color="#0f42f8" stop-opacity="0.36"/><stop offset="1.00" stop-color="#0d44f8" stop-opacity="0.00"/></radialGradient>
<radialGradient id="g131"><stop offset="0.00" stop-color="#1c2bf1" stop-opacity="1.00"/><stop offset="0.10" stop-color="#1c2bf1" stop-opacity="1.00"/><stop offset="0.20" stop-color="#1c2cf1" stop-opacity="1.00"/><stop offset="0.30" stop-color="#1b2ef2" stop-opacity="1.00"/><stop offset="0.40" stop-color="#1931f3" stop-opacity="1.00"/><stop offset="0.50" stop-color="#1635f4" stop-opacity="1.00"/><stop offset="0.60" stop-color="#1439f5" stop-opacity="1.00"/><stop offset="0.70" stop-color="#123df6" stop-opacity="1.00"/><stop offset="0.80" stop-color="#1040f7" stop-opacity="0.71"/><stop offset="0.90" stop-color="#0e43f8" stop-opacity="0.36"/><stop offset="1.00" stop-color="#0c45f9" stop-opacity="0.00"/></radialGradient>
<radialGradient id="g132"><stop offset="0.00" stop-color="#00c9fd" stop-opacity="1.00"/><stop offset="0.10" stop-color="#00c9fd" stop-opacity="1.00"/><stop offset="0.20" stop-color="#00c9fd" stop-opacity="1.00"/><stop offset="0.30" stop-color="#00c9fd" stop-opacity="1.00"/><stop offset="0.40" stop-color="#00c7fd" stop-opacity="1.00"/><stop offset="0.50" stop-color="#00bbfe" stop-opacity="1.00"/><stop offset="0.60" stop-color="#00a6ff" stop-opacity="1.00"/><stop offset="0.70" stop-color="#008fff" stop-opacity="1.00"/><stop offset="0.80" stop-color="#0079ff" stop-opacity="0.71"/><stop offset="0.90" stop-color="#0067ff" stop-opacity="0.36"/><stop offset="1.00" stop-color="#005aff" stop-opacity="0.00"/></radialGradient>
<radialGradient id="g133"><stop offset="0.00" stop-color="#00dafb" stop-opacity="1.00"/><stop offset="0.10" stop-color="#00dafb" stop-opacity="1.00"/><stop offset="0.20" stop-color="#00dafb" stop-opacity="1.00"/><stop offset="0.30" stop-color="#00dafb" stop-opacity="1.00"/><stop offset="0.40" stop-color="#00d8fb" stop-opacity="1.00"/><stop offset="0.50" stop-color="#00cafd" stop-opacity="1.00"/><stop offset="0.60" stop-color="#00b2fe" stop-opacity="1.00"/><stop offset="0.70" stop-color="#0098ff" stop-opacity="1.00"/><stop offset="0.80" stop-color="#007fff" stop-opacity="0.71"/><stop offset="0.90" stop-color="#006bff" stop-opacity="0.36"/><stop offset="1.00" stop-color="#005cff" stop-opacity="0.00"/></radialGradient>
<radialGradient id="g134"><stop offset="0.00" stop-color="#00ebfa" stop-opacity="1.00"/><stop offset="0.10" stop-color="#00ebfa" stop-opacity="1.00"/><stop offset="0.20" stop-color="#00ebfa" stop-opacity="1.00"/><stop offset="0.30" stop-color="#00ebfa" stop-opacity="1.00"/><stop offset="0.40" stop-color="#00e9fa" stop-opacity="1.00"/><stop offset="0.50" stop-color="#00dafb" stop-opacity="1.00"/><stop offset="0.60" stop-color="#00bffd" stop-opacity="1.00"/><stop offset="0.70" stop-color="#00a0ff" stop-opacity="1.00"/><stop offset="0.80" stop-color="#0085ff" stop-opacity="0.71"/><stop offset="0.90" stop-color="#006eff" stop-opacity="0.36"/><stop offset="1.00" stop-color="#005eff" stop-opacity="0.00"/></radialGradient>
<radialGradient id="g135"><stop offset="0.00" stop-color="#00ecea" stop-opacity="1.00"/><stop offset="0.10" stop-color="#00ecea" stop-opacity="1.00"/><stop offset="0.20" stop-color="#00ecea" stop-opacity="1.00"/><stop offset="0.30" stop-color="#00ecea" stop-opacity="1.00"/><stop offset="0.40" stop-color="#00ecee" stop-opacity="1.00"/><stop offset="0.50" stop-color="#00e1fb" stop-opacity="1.00"/><stop offset="0.60" stop-color="#00c5fd" stop-opacity="1.00"/><stop offset="0.70" stop-color="#00a4ff" stop-opacity="1.00"/><stop offset="0.80" stop-color="#0088ff" stop-opacity="0.71"/><stop offset="0.90" stop-color="#0070ff" stop-opacity="0.36"/><stop offset="1.00" stop-color="#005fff" stop-opacity="0.00"/></radialGradient>
<radialGradient id="g136"><stop offset="0.00" stop-color="#00eddb" stop-opacity="1.00"/><stop offset="0.10" stop-color="#00eddb" stop-opacity="1.00"/><stop offset="0.20" stop-color="#00eddb" stop-opacity="1.00"/><stop offset="0.30" stop-color="#00eddb" stop-opacity="1.00"/><stop offset="0.40" stop-color="#00eddf" stop-opacity="1.00"/><stop offset="0.50" stop-color="#00e9fa" stop-opacity="1.00"/><stop offset="0.60" stop-color="#00ccfc" stop-opacity="1.00"/><stop offset="0.70" stop-color="#00a9ff" stop-opacity="1.00"/><stop offset="0.80" stop-color="#008bff" stop-opacity="0.71"/><stop offset="0.90" stop-color="#0072ff" stop-opacity="0.36"/><stop offset="1.00" stop-color="#0060ff" stop-opacity="0.00"/></radialGradient>
<radialGradient id="g137"><stop offset="0.00" stop-color="#00ed8d" stop-opacity="1.00"/><stop offset="0.10" stop-color="#00ed8d" stop-opacity="1.00"/><stop offset="0.20" stop-color="#00ed8d" stop-opacity="1.00"/><stop offset="0.30" stop-color="#00ed8d" stop-opacity="1.00"/><stop offset="0.40" stop-color="#00ee94" stop-opacity="1.00"/><stop offset="0.50" stop-color="#00efc4" stop-opacity="1.00"/><stop offset="0.60" stop-color="#00e6fa" stop-opacity="1.00"/><stop offset="0.70" stop-color="#00bcfe" stop-opacity="1.00"/><stop offset="0.80" stop-color="#0097ff" stop-opacity="0.71"/><stop offset="0.90" stop-color="#007aff" stop-opacity="0.36"/><stop offset="1.00" stop-color="#0064ff" stop-opacity="0.00"/></radialGradient>
<radialGradient id="g138"><stop offset="0.00" stop-color="#e3e900" stop-opacity="1.00"/><stop offset="0.10" stop-color="#daea00" stop-opacity="1.00"/><stop offset="0.20" stop-color="#adf007" stop-opacity="1.00"/><stop offset="0.30" stop-color="#1bed59" stop-opacity="1.00"/><stop offset="0.40" stop-color="#00eed5" stop-opacity="1.00"/><stop offset="0.50" stop-color="#00cdfc" stop-opacity="1.00"/><stop offset="0.60" stop-color="#00a2ff" stop-opacity="0.99"/><stop offset="0.70" stop-color="#0083ff" stop-opacity="0.65"/><stop offset="0.80" stop-color="#006cff" stop-opacity="0.40"/><stop offset="0.90" stop-color="#005cff" stop-opacity="0.16"/><stop offset="1.00" stop-color="#0454fd" stop-opacity="0.00"/></radialGradient>
<radialGradient id="g139"><stop offset="0.00" stop-color="#c80000" stop-opacity="1.00"/><stop offset="0.10" stop-color="#c80000" stop-opacity="1.00"/><stop offset="0.20" stop-color="#c80000" stop-opacity="1.00"/><stop offset="0.30" stop-color="#c80000" stop-opacity="1.00"/><stop offset="0.40" stop-color="#fe4700" stop-opacity="1.00"/><stop offset="0.50" stop-color="#f8c800" stop-opacity="1.00"/><stop offset="0.60" stop-color="#65f024" stop-opacity="0.99"/><stop offset="0.70" stop-color="#00ebf9" stop-opacity="0.65"/><stop offset="0.80" stop-color="#00a7ff" stop-opacity="0.40"/><stop offset="0.90" stop-color="#007fff" stop-opacity="0.16"/><stop offset="1.00" stop-color="#0065ff" stop-opacity="0.00"/></radialGradient>
<clipPath id="c140"><path d="M807.6 1659.6C813.2 1660.5 815.3 1661.4 820.9 1664.8C826.5 1668.2 826.6 1672.0 831.5 1674.2C836.4 1676.4 837.5 1674.5 842.1 1674.2C846.7 1673.9 848.3 1669.7 851.4 1672.8C854.5 1675.9 852.6 1678.4 855.4 1687.4C858.2 1696.4 859.0 1701.3 863.3 1711.2C867.6 1721.1 869.0 1721.1 874.0 1729.7C879.0 1738.3 879.3 1738.9 884.6 1748.2C889.9 1757.5 891.0 1759.5 896.6 1769.4C902.2 1779.3 905.1 1780.0 908.5 1790.5C911.9 1801.0 909.3 1804.5 911.1 1814.4C912.9 1824.3 913.6 1823.7 916.4 1832.9C919.2 1842.1 921.2 1844.8 923.1 1854.0C925.0 1863.2 922.6 1862.6 924.4 1872.5C926.2 1882.4 929.5 1887.7 931.0 1896.4C932.5 1905.1 933.1 1904.7 931.0 1909.6C928.9 1914.5 926.4 1913.8 921.8 1917.5C917.2 1921.2 916.1 1924.2 911.1 1925.4C906.1 1926.6 906.7 1924.9 900.5 1922.8C894.3 1920.7 891.4 1918.7 884.6 1916.2C877.8 1913.8 877.0 1911.7 871.4 1912.3C865.8 1912.9 863.8 1914.0 860.7 1918.9C857.6 1923.8 861.1 1928.2 858.0 1933.4C854.9 1938.7 852.4 1940.2 847.5 1941.4C842.6 1942.6 841.2 1941.8 836.8 1938.7C832.4 1935.6 833.8 1932.4 828.8 1928.1C823.8 1923.8 821.7 1923.9 815.5 1920.2C809.3 1916.5 809.1 1913.5 802.3 1912.3C795.5 1911.1 793.1 1914.9 786.3 1914.9C779.5 1914.9 779.9 1912.3 773.1 1912.3C766.3 1912.3 763.9 1914.3 757.1 1914.9C750.3 1915.5 750.1 1914.9 743.9 1914.9C737.7 1914.9 735.9 1913.1 730.6 1914.9C725.3 1916.7 725.3 1917.2 721.3 1922.8C717.3 1928.4 717.4 1932.5 713.4 1938.7C709.4 1944.9 708.4 1946.2 704.1 1949.3C699.8 1952.4 698.2 1954.4 694.8 1951.9C691.4 1949.4 691.0 1947.9 689.5 1938.7C688.0 1929.5 688.5 1924.0 688.2 1912.3C687.9 1900.6 687.3 1900.7 688.2 1888.4C689.1 1876.1 689.7 1870.5 692.2 1859.4C694.7 1848.3 695.7 1850.1 698.8 1840.8C701.9 1831.5 702.9 1830.1 705.4 1819.6C707.9 1809.1 707.4 1805.0 709.3 1795.8C711.2 1786.6 709.7 1786.2 713.4 1780.0C717.1 1773.8 719.7 1775.0 725.3 1769.4C730.9 1763.8 731.9 1764.2 737.2 1756.2C742.5 1748.2 743.3 1744.3 747.9 1735.0C752.5 1725.7 753.1 1725.7 757.1 1716.4C761.1 1707.1 761.5 1706.4 765.2 1695.3C768.9 1684.2 768.2 1675.6 773.1 1668.8C778.0 1662.0 780.7 1668.0 786.3 1666.2C791.9 1664.4 792.0 1662.4 797.0 1660.9C802.0 1659.4 802.0 1658.7 807.6 1659.6Z"/></clipPath>
<radialGradient id="g141"><stop offset="0.00" stop-color="#1e27ec" stop-opacity="1.00"/><stop offset="0.10" stop-color="#1e27ec" stop-opacity="1.00"/><stop offset="0.20" stop-color="#1e27ed" stop-opacity="1.00"/><stop offset="0.30" stop-color="#1e28ef" stop-opacity="1.00"/><stop offset="0.40" stop-color="#1d2af0" stop-opacity="1.00"/><stop offset="0.50" stop-color="#1b2df1" stop-opacity="1.00"/><stop offset="0.60" stop-color="#1930f2" stop-opacity="1.00"/><stop offset="0.70" stop-color="#1733f3" stop-opacity="1.00"/><stop offset="0.80" stop-color="#1636f4" stop-opacity="0.71"/><stop offset="0.90" stop-color="#1438f5" stop-opacity="0.36"/><stop offset="1.00" stop-color="#133af5" stop-opacity="0.00"/></radialGradient>
<radialGradient id="g142"><stop offset="0.00" stop-color="#0082ff" stop-opacity="1.00"/><stop offset="0.10" stop-color="#0082ff" stop-opacity="1.00"/><stop offset="0.20" stop-color="#0082ff" stop-opacity="1.00"/><stop offset="0.30" stop-color="#0082ff" stop-opacity="1.00"/><stop offset="0.40" stop-color="#0081ff" stop-opacity="1.00"/><stop offset="0.50" stop-color="#007bff" stop-opacity="1.00"/><stop offset="0.60" stop-color="#0070ff" stop-opacity="1.00"/><stop offset="0.70" stop-color="#0062ff" stop-opacity="1.00"/><stop offset="0.80" stop-color="#0256fe" stop-opacity="0.71"/><stop offset="0.90" stop-color="#084dfb" stop-opacity="0.36"/><stop offset="1.00" stop-color="#0c47f9" stop-opacity="0.00"/></radialGradient>
<radialGradient id="g143"><stop offset="0.00" stop-color="#00a7ff" stop-opacity="1.00"/><stop offset="0.10" stop-color="#00a7ff" stop-opacity="1.00"/><stop offset="0.20" stop-color="#00a7ff" stop-opacity="1.00"/><stop offset="0.30" stop-color="#00a7ff" stop-opacity="1.00"/><stop offset="0.40" stop-color="#00a6ff" stop-opacity="1.00"/><stop offset="0.50" stop-color="#009cff" stop-opacity="1.00"/><stop offset="0.60" stop-color="#008cff" stop-opacity="1.00"/><stop offset="0.70" stop-color="#0078ff" stop-opacity="1.00"/><stop offset="0.80" stop-color="#0064ff" stop-opacity="0.71"/><stop offset="0.90" stop-color="#0355fe" stop-opacity="0.36"/><stop offset="1.00" stop-color="#094bfb" stop-opacity="0.00"/></radialGradient>
<radialGradient id="g144"><stop offset="0.00" stop-color="#00afff" stop-opacity="1.00"/><stop offset="0.10" stop-color="#00afff" stop-opacity="1.00"/><stop offset="0.20" stop-color="#00afff" stop-opacity="1.00"/><stop offset="0.30" stop-color="#00afff" stop-opacity="1.00"/><stop offset="0.40" stop-color="#00adff" stop-opacity="1.00"/><stop offset="0.50" stop-color="#00a3ff" stop-opacity="1.00"/><stop offset="0.60" stop-color="#0091ff" stop-opacity="1.00"/><stop offset="0.70" stop-color="#007cff" stop-opacity="1.00"/><stop offset="0.80" stop-color="#0067ff" stop-opacity="0.71"/><stop offset="0.90" stop-color="#0257fe" stop-opacity="0.36"/><stop offset="1.00" stop-color="#084cfb" stop-opacity="0.00"/></radialGradient>
<radialGradient id="g145"><stop offset="0.00" stop-color="#00eecb" stop-opacity="1.00"/><stop offset="0.10" stop-color="#00eecb" stop-opacity="1.00"/><stop offset="0.20" stop-color="#00eecb" stop-opacity="1.00"/><stop offset="0.30" stop-color="#00eecb" stop-opacity="1.00"/><stop offset="0.40" stop-color="#00eecf" stop-opacity="1.00"/><stop offset="0.50" stop-color="#00ecf2" stop-opacity="1.00"/><stop offset="0.60" stop-color="#00cefc" stop-opacity="1.00"/><stop offset="0.70" stop-color="#00a7ff" stop-opacity="1.00"/><stop offset="0.80" stop-color="#0085ff" stop-opacity="0.71"/><stop offset="0.90" stop-color="#0069ff" stop-opacity="0.36"/><stop offset="1.00" stop-color="#0355fe" stop-opacity="0.00"/></radialGradient>
<radialGradient id="g146"><stop offset="0.00" stop-color="#c80000" stop-opacity="1.00"/><stop offset="0.10" stop-color="#c80000" stop-opacity="1.00"/><stop offset="0.20" stop-color="#c80000" stop-opacity="1.00"/><stop offset="0.30" stop-color="#c80000" stop-opacity="1.00"/><stop offset="0.40" stop-color="#fa1700" stop-opacity="1.00"/><stop offset="0.50" stop-color="#fdb100" stop-opacity="1.00"/><stop offset="0.60" stop-color="#9bf00e" stop-opacity="0.99"/><stop offset="0.70" stop-color="#00ecf1" stop-opacity="0.65"/><stop offset="0.80" stop-color="#00a4ff" stop-opacity="0.40"/><stop offset="0.90" stop-color="#0076ff" stop-opacity="0.16"/><stop offset="1.00" stop-color="#005aff" stop-opacity="0.00"/></radialGradient>
<clipPath id="c147"><path d="M217.8 2073.5C223.4 2074.4 225.5 2075.3 231.1 2078.7C236.7 2082.1 236.7 2085.8 241.6 2088.0C246.5 2090.2 247.5 2088.3 252.1 2088.0C256.7 2087.7 258.3 2083.6 261.4 2086.6C264.5 2089.6 262.5 2092.1 265.3 2101.0C268.1 2109.9 268.9 2114.8 273.2 2124.6C277.5 2134.4 278.9 2134.4 283.8 2143.0C288.7 2151.6 289.1 2152.1 294.4 2161.3C299.6 2170.5 300.8 2172.5 306.3 2182.3C311.8 2192.1 314.7 2192.9 318.1 2203.3C321.5 2213.7 318.9 2217.1 320.7 2226.9C322.5 2236.7 323.2 2236.1 326.0 2245.3C328.8 2254.5 330.8 2257.1 332.7 2266.2C334.6 2275.3 332.2 2274.7 334.0 2284.5C335.8 2294.3 339.1 2299.6 340.6 2308.2C342.1 2316.8 342.7 2316.4 340.6 2321.3C338.5 2326.2 336.0 2325.4 331.4 2329.1C326.8 2332.8 325.6 2335.8 320.7 2337.0C315.8 2338.2 316.3 2336.5 310.2 2334.4C304.1 2332.3 301.2 2330.2 294.4 2327.8C287.6 2325.4 286.8 2323.3 281.2 2323.9C275.6 2324.5 273.7 2325.6 270.6 2330.5C267.5 2335.4 271.1 2339.6 268.0 2344.8C264.9 2350.0 262.4 2351.6 257.5 2352.8C252.6 2354.0 251.1 2353.2 246.8 2350.1C242.5 2347.0 243.8 2343.9 238.9 2339.6C234.0 2335.3 231.8 2335.5 225.7 2331.8C219.6 2328.1 219.4 2325.1 212.6 2323.9C205.8 2322.7 203.5 2326.5 196.7 2326.5C189.9 2326.5 190.3 2323.9 183.5 2323.9C176.7 2323.9 174.5 2325.9 167.7 2326.5C160.9 2327.1 160.7 2326.5 154.5 2326.5C148.3 2326.5 146.5 2324.7 141.3 2326.5C136.1 2328.3 136.1 2328.9 132.1 2334.4C128.1 2339.9 128.2 2344.0 124.2 2350.1C120.2 2356.2 119.2 2357.5 114.9 2360.6C110.6 2363.7 109.1 2365.6 105.7 2363.2C102.3 2360.8 101.9 2359.3 100.4 2350.1C98.9 2340.9 99.4 2335.5 99.1 2323.9C98.8 2312.3 98.2 2312.5 99.1 2300.3C100.0 2288.1 100.6 2282.5 103.1 2271.5C105.5 2260.5 106.5 2262.3 109.6 2253.1C112.7 2243.9 113.7 2242.5 116.2 2232.1C118.7 2221.7 118.3 2217.7 120.2 2208.5C122.1 2199.3 120.5 2198.9 124.2 2192.8C127.9 2186.7 130.5 2187.8 136.0 2182.3C141.5 2176.8 142.7 2177.2 147.9 2169.2C153.2 2161.2 153.9 2157.4 158.5 2148.2C163.1 2139.0 163.7 2139.1 167.7 2129.9C171.7 2120.7 172.0 2119.9 175.7 2108.9C179.4 2097.9 178.6 2089.3 183.5 2082.6C188.4 2075.9 191.1 2081.8 196.7 2080.0C202.3 2078.2 202.4 2076.3 207.3 2074.8C212.2 2073.3 212.2 2072.6 217.8 2073.5Z"/></clipPath>
<radialGradient id="g148"><stop offset="0.00" stop-color="#2221c9" stop-opacity="1.00"/><stop offset="0.10" stop-color="#2221c9" stop-opacity="1.00"/><stop offset="0.20" stop-color="#2221c9" stop-opacity="1.00"/><stop offset="0.30" stop-color="#2121cb" stop-opacity="1.00"/><stop offset="0.40" stop-color="#2122cd" stop-opacity="1.00"/><stop offset="0.50" stop-color="#2122d0" stop-opacity="1.00"/><stop offset="0.60" stop-color="#2123d3" stop-opacity="1.00"/><stop offset="0.70" stop-color="#2023d6" stop-opacity="1.00"/><stop offset="0.80" stop-color="#2024d9" stop-opacity="0.71"/><stop offset="0.90" stop-color="#2024db" stop-opacity="0.36"/><stop offset="1.00" stop-color="#2024dd" stop-opacity="0.00"/></radialGradient>
<radialGradient id="g149"><stop offset="0.00" stop-color="#00b7fe" stop-opacity="1.00"/><stop offset="0.10" stop-color="#00b7fe" stop-opacity="1.00"/><stop offset="0.20" stop-color="#00b7fe" stop-opacity="1.00"/><stop offset="0.30" stop-color="#00b7fe" stop-opacity="1.00"/><stop offset="0.40" stop-color="#00b5fe" stop-opacity="1.00"/><stop offset="0.50" stop-color="#00a6ff" stop-opacity="1.00"/><stop offset="0.60" stop-color="#008dff" stop-opacity="1.00"/><stop offset="0.70" stop-color="#006fff" stop-opacity="1.00"/><stop offset="0.80" stop-color="#0453fd" stop-opacity="0.71"/><stop offset="0.90" stop-color="#103ff7" stop-opacity="0.36"/><stop offset="1.00" stop-color="#1930f3" stop-opacity="0.00"/></radialGradient>
<radialGradient id="g150"><stop offset="0.00" stop-color="#00ebfa" stop-opacity="1.00"/><stop offset="0.10" stop-color="#00ebfa" stop-opacity="1.00"/><stop offset="0.20" stop-color="#00ebfa" stop-opacity="1.00"/><stop offset="0.30" stop-color="#00ebfa" stop-opacity="1.00"/><stop offset="0.40" stop-color="#00e8fa" stop-opacity="1.00"/><stop offset="0.50" stop-color="#00d3fc" stop-opacity="1.00"/><stop offset="0.60" stop-color="#00afff" stop-opacity="1.00"/><stop offset="0.70" stop-color="#0089ff" stop-opacity="1.00"/><stop offset="0.80" stop-color="#0064ff" stop-opacity="0.71"/><stop offset="0.90" stop-color="#0a49fa" stop-opacity="0.36"/><stop offset="1.00" stop-color="#1636f4" stop-opacity="0.00"/></radialGradient>
<radialGradient id="g151"><stop offset="0.00" stop-color="#c80000" stop-opacity="1.00"/><stop offset="0.10" stop-color="#c80000" stop-opacity="1.00"/><stop offset="0.20" stop-color="#c80000" stop-opacity="1.00"/><stop offset="0.30" stop-color="#c80000" stop-opacity="1.00"/><stop offset="0.40" stop-color="#fc2b00" stop-opacity="1.00"/><stop offset="0.50" stop-color="#f8c500" stop-opacity="1.00"/><stop offset="0.60" stop-color="#2fee4a" stop-opacity="0.99"/><stop offset="0.70" stop-color="#00cafd" stop-opacity="0.65"/><stop offset="0.80" stop-color="#0080ff" stop-opacity="0.40"/><stop offset="0.90" stop-color="#0552fd" stop-opacity="0.16"/><stop offset="1.00" stop-color="#1439f5" stop-opacity="0.00"/></radialGradient>
<clipPath id="c152"><path d="M809.5 2074.8C815.1 2075.7 817.2 2076.6 822.8 2080.0C828.4 2083.4 828.4 2087.2 833.3 2089.4C838.2 2091.6 839.2 2089.7 843.8 2089.4C848.4 2089.1 850.0 2084.9 853.1 2088.0C856.2 2091.1 854.2 2093.6 857.0 2102.6C859.8 2111.6 860.6 2116.5 864.9 2126.4C869.2 2136.3 870.6 2136.3 875.5 2144.9C880.4 2153.5 880.9 2154.1 886.1 2163.4C891.4 2172.7 892.5 2174.7 898.0 2184.6C903.5 2194.5 906.4 2195.2 909.8 2205.7C913.2 2216.2 910.6 2219.7 912.4 2229.6C914.2 2239.5 914.9 2238.9 917.7 2248.1C920.5 2257.3 922.5 2260.0 924.4 2269.2C926.3 2278.4 923.9 2277.8 925.7 2287.7C927.5 2297.6 930.8 2302.9 932.3 2311.6C933.8 2320.3 934.4 2319.9 932.3 2324.8C930.2 2329.7 927.7 2329.0 923.1 2332.7C918.5 2336.4 917.3 2339.4 912.4 2340.6C907.5 2341.8 908.0 2340.1 901.9 2338.0C895.8 2335.9 892.9 2333.8 886.1 2331.4C879.3 2329.0 878.5 2326.9 872.9 2327.5C867.3 2328.1 865.4 2329.2 862.3 2334.1C859.2 2339.0 862.8 2343.3 859.7 2348.6C856.6 2353.8 854.1 2355.4 849.2 2356.6C844.3 2357.8 842.8 2357.0 838.5 2353.9C834.2 2350.8 835.5 2347.6 830.6 2343.3C825.7 2339.0 823.5 2339.1 817.4 2335.4C811.3 2331.7 811.1 2328.7 804.3 2327.5C797.5 2326.3 795.2 2330.1 788.4 2330.1C781.6 2330.1 782.0 2327.5 775.2 2327.5C768.4 2327.5 766.2 2329.5 759.4 2330.1C752.6 2330.7 752.4 2330.1 746.2 2330.1C740.0 2330.1 738.2 2328.3 733.0 2330.1C727.8 2331.9 727.8 2332.4 723.8 2338.0C719.8 2343.6 719.9 2347.7 715.9 2353.9C711.9 2360.1 710.9 2361.4 706.6 2364.5C702.3 2367.6 700.8 2369.6 697.4 2367.1C694.0 2364.6 693.6 2363.1 692.1 2353.9C690.6 2344.7 691.1 2339.2 690.8 2327.5C690.5 2315.8 689.9 2315.9 690.8 2303.6C691.7 2291.3 692.3 2285.7 694.8 2274.6C697.2 2263.5 698.2 2265.3 701.3 2256.0C704.4 2246.7 705.4 2245.3 707.9 2234.8C710.4 2224.3 710.0 2220.2 711.9 2211.0C713.8 2201.8 712.2 2201.4 715.9 2195.2C719.6 2189.0 722.2 2190.2 727.7 2184.6C733.2 2179.0 734.4 2179.4 739.6 2171.4C744.9 2163.4 745.6 2159.5 750.2 2150.2C754.8 2140.9 755.4 2140.9 759.4 2131.6C763.4 2122.3 763.7 2121.6 767.4 2110.5C771.1 2099.4 770.3 2090.8 775.2 2084.0C780.1 2077.2 782.8 2083.2 788.4 2081.4C794.0 2079.6 794.1 2077.6 799.0 2076.1C803.9 2074.6 803.9 2073.9 809.5 2074.8Z"/></clipPath>
<radialGradient id="g153"><stop offset="0.00" stop-color="#231fbd" stop-opacity="1.00"/><stop offset="0.10" stop-color="#231fbd" stop-opacity="1.00"/><stop offset="0.20" stop-color="#231fbe" stop-opacity="1.00"/><stop offset="0.30" stop-color="#221fc1" stop-opacity="1.00"/><stop offset="0.40" stop-color="#2220c4" stop-opacity="1.00"/><stop offset="0.50" stop-color="#2221c9" stop-opacity="1.00"/><stop offset="0.60" stop-color="#2122ce" stop-opacity="1.00"/><stop offset="0.70" stop-color="#2123d3" stop-opacity="1.00"/><stop offset="0.80" stop-color="#2024d8" stop-opacity="0.71"/><stop offset="0.90" stop-color="#2024db" stop-opacity="0.36"/><stop offset="1.00" stop-color="#2025de" stop-opacity="0.00"/></radialGradient>
<radialGradient id="g154"><stop offset="0.00" stop-color="#006cff" stop-opacity="1.00"/><stop offset="0.10" stop-color="#006cff" stop-opacity="1.00"/><stop offset="0.20" stop-color="#006cff" stop-opacity="1.00"/><stop offset="0.30" stop-color="#006cff" stop-opacity="1.00"/><stop offset="0.40" stop-color="#006bff" stop-opacity="1.00"/><stop offset="0.50" stop-color="#0063ff" stop-opacity="1.00"/><stop offset="0.60" stop-color="#0257fe" stop-opacity="1.00"/><stop offset="0.70" stop-color="#0a49fa" stop-opacity="1.00"/><stop offset="0.80" stop-color="#123cf6" stop-opacity="0.71"/><stop offset="0.90" stop-color="#1832f3" stop-opacity="0.36"/><stop offset="1.00" stop-color="#1d2af1" stop-opacity="0.00"/></radialGradient>
<radialGradient id="g155"><stop offset="0.00" stop-color="#0082ff" stop-opacity="1.00"/><stop offset="0.10" stop-color="#0082ff" stop-opacity="1.00"/><stop offset="0.20" stop-color="#0082ff" stop-opacity="1.00"/><stop offset="0.30" stop-color="#0082ff" stop-opacity="1.00"/><stop offset="0.40" stop-color="#0081ff" stop-opacity="1.00"/><stop offset="0.50" stop-color="#0077ff" stop-opacity="1.00"/><stop offset="0.60" stop-color="#0067ff" stop-opacity="1.00"/><stop offset="0.70" stop-color="#0454fd" stop-opacity="1.00"/><stop offset="0.80" stop-color="#0d44f8" stop-opacity="0.71"/><stop offset="0.90" stop-color="#1536f4" stop-opacity="0.36"/><stop offset="1.00" stop-color="#1b2df1" stop-opacity="0.00"/></radialGradient>
<radialGradient id="g156"><stop offset="0.00" stop-color="#00d1fc" stop-opacity="1.00"/><stop offset="0.10" stop-color="#00d1fc" stop-opacity="1.00"/><stop offset="0.20" stop-color="#00d1fc" stop-opacity="1.00"/><stop offset="0.30" stop-color="#00d1fc" stop-opacity="1.00"/><stop offset="0.40" stop-color="#00cffc" stop-opacity="1.00"/><stop offset="0.50" stop-color="#00bdfe" stop-opacity="1.00"/><stop offset="0.60" stop-color="#009eff" stop-opacity="1.00"/><stop offset="0.70" stop-color="#007dff" stop-opacity="1.00"/><stop offset="0.80" stop-color="#005dff" stop-opacity="0.71"/><stop offset="0.90" stop-color="#0c46f9" stop-opacity="0.36"/><stop offset="1.00" stop-color="#1636f4" stop-opacity="0.00"/></radialGradient>
<clipPath id="c157"><path d="M494.9 1660.9C498.6 1660.1 499.6 1662.5 502.7 1663.5C505.8 1664.5 508.1 1662.4 510.5 1666.1C512.9 1669.8 513.4 1673.4 514.5 1681.8C515.6 1690.2 515.4 1695.4 515.8 1707.9C516.2 1720.4 516.3 1728.7 516.3 1744.4C516.3 1760.1 516.2 1770.5 515.8 1786.2C515.4 1801.9 515.8 1808.1 514.5 1822.7C513.2 1837.3 511.3 1846.1 509.2 1859.2C507.1 1872.3 505.8 1877.0 504.0 1888.0C502.2 1899.0 501.7 1904.2 500.1 1914.1C498.5 1924.0 497.5 1930.0 496.2 1937.6C494.9 1945.2 494.6 1948.5 493.6 1951.9C492.6 1955.3 492.0 1955.3 491.0 1954.5C490.0 1953.7 489.2 1952.4 488.4 1948.0C487.6 1943.6 488.1 1939.6 487.0 1932.3C485.9 1925.0 484.9 1920.9 483.1 1911.5C481.3 1902.1 480.0 1896.9 477.9 1885.4C475.8 1873.9 474.5 1867.6 472.7 1854.0C470.9 1840.4 470.0 1833.2 468.8 1817.5C467.6 1801.8 467.3 1793.5 466.7 1775.7C466.1 1757.9 464.7 1742.3 465.6 1728.7C466.5 1715.1 468.9 1717.3 471.4 1707.9C473.9 1698.5 475.3 1689.9 477.9 1681.8C480.5 1673.7 481.0 1671.6 484.4 1667.4C487.8 1663.2 491.2 1661.7 494.9 1660.9Z"/></clipPath>
<radialGradient id="g158"><stop offset="0.00" stop-color="#2023d4" stop-opacity="1.00"/><stop offset="0.10" stop-color="#2023d4" stop-opacity="1.00"/><stop offset="0.20" stop-color="#2023d4" stop-opacity="1.00"/><stop offset="0.30" stop-color="#2023d4" stop-opacity="1.00"/><stop offset="0.40" stop-color="#2023d4" stop-opacity="1.00"/><stop offset="0.50" stop-color="#2023d4" stop-opacity="1.00"/><stop offset="0.60" stop-color="#2023d4" stop-opacity="1.00"/><stop offset="0.70" stop-color="#2023d4" stop-opacity="1.00"/><stop offset="0.80" stop-color="#2023d4" stop-opacity="0.71"/><stop offset="0.90" stop-color="#2023d4" stop-opacity="0.36"/><stop offset="1.00" stop-color="#2023d4" stop-opacity="0.00"/></radialGradient>
<radialGradient id="g159"><stop offset="0.00" stop-color="#00efa6" stop-opacity="1.00"/><stop offset="0.10" stop-color="#00efa6" stop-opacity="1.00"/><stop offset="0.20" stop-color="#00efa6" stop-opacity="1.00"/><stop offset="0.30" stop-color="#00efa6" stop-opacity="1.00"/><stop offset="0.40" stop-color="#00f0b0" stop-opacity="1.00"/><stop offset="0.50" stop-color="#00ede0" stop-opacity="1.00"/><stop offset="0.60" stop-color="#00ccfc" stop-opacity="1.00"/><stop offset="0.70" stop-color="#0099ff" stop-opacity="1.00"/><stop offset="0.80" stop-color="#006cff" stop-opacity="0.71"/><stop offset="0.90" stop-color="#0a4afa" stop-opacity="0.36"/><stop offset="1.00" stop-color="#1833f3" stop-opacity="0.00"/></radialGradient>
<radialGradient id="g160"><stop offset="0.00" stop-color="#c80000" stop-opacity="1.00"/><stop offset="0.10" stop-color="#c80000" stop-opacity="1.00"/><stop offset="0.20" stop-color="#c80000" stop-opacity="1.00"/><stop offset="0.30" stop-color="#c80000" stop-opacity="1.00"/><stop offset="0.40" stop-color="#fe4d00" stop-opacity="1.00"/><stop offset="0.50" stop-color="#f3db00" stop-opacity="1.00"/><stop offset="0.60" stop-color="#00ed84" stop-opacity="0.99"/><stop offset="0.70" stop-color="#00b7fe" stop-opacity="0.65"/><stop offset="0.80" stop-color="#0072ff" stop-opacity="0.40"/><stop offset="0.90" stop-color="#0b47f9" stop-opacity="0.16"/><stop offset="1.00" stop-color="#1a2ff2" stop-opacity="0.00"/></radialGradient>
<radialGradient id="g161"><stop offset="0.00" stop-color="#030828" stop-opacity="1.00"/><stop offset="0.20" stop-color="#030828" stop-opacity="0.89"/><stop offset="0.40" stop-color="#030828" stop-opacity="0.62"/><stop offset="0.60" stop-color="#030828" stop-opacity="0.34"/><stop offset="0.80" stop-color="#030828" stop-opacity="0.10"/><stop offset="1.00" stop-color="#030828" stop-opacity="0.00"/></radialGradient>
<radialGradient id="g162"><stop offset="0.00" stop-color="#030828" stop-opacity="0.50"/><stop offset="0.20" stop-color="#030828" stop-opacity="0.44"/><stop offset="0.40" stop-color="#030828" stop-opacity="0.31"/><stop offset="0.60" stop-color="#030828" stop-opacity="0.17"/><stop offset="0.80" stop-color="#030828" stop-opacity="0.05"/><stop offset="1.00" stop-color="#030828" stop-opacity="0.00"/></radialGradient>
<clipPath id="c163"><path d="M1110.9 1664.8C1114.6 1664.0 1115.6 1666.4 1118.7 1667.4C1121.8 1668.4 1124.1 1666.3 1126.5 1670.0C1128.9 1673.7 1129.4 1677.3 1130.5 1685.7C1131.6 1694.1 1131.4 1699.3 1131.8 1711.8C1132.2 1724.3 1132.3 1732.6 1132.3 1748.3C1132.3 1764.0 1132.2 1774.4 1131.8 1790.1C1131.4 1805.8 1131.8 1812.0 1130.5 1826.6C1129.2 1841.2 1127.3 1850.0 1125.2 1863.1C1123.1 1876.2 1121.8 1880.9 1120.0 1891.9C1118.2 1902.9 1117.7 1908.1 1116.1 1918.0C1114.5 1927.9 1113.5 1933.9 1112.2 1941.5C1110.9 1949.1 1110.6 1952.4 1109.6 1955.8C1108.6 1959.2 1108.0 1959.2 1107.0 1958.4C1106.0 1957.6 1105.2 1956.3 1104.4 1951.9C1103.6 1947.5 1104.1 1943.5 1103.0 1936.2C1101.9 1928.9 1100.9 1924.8 1099.1 1915.4C1097.3 1906.0 1096.0 1900.8 1093.9 1889.3C1091.8 1877.8 1090.5 1871.5 1088.7 1857.9C1086.9 1844.3 1086.0 1837.1 1084.8 1821.4C1083.6 1805.7 1083.3 1797.4 1082.7 1779.6C1082.1 1761.8 1080.7 1746.2 1081.6 1732.6C1082.5 1719.0 1084.9 1721.2 1087.4 1711.8C1089.9 1702.4 1091.3 1693.8 1093.9 1685.7C1096.5 1677.6 1097.0 1675.5 1100.4 1671.3C1103.8 1667.1 1107.2 1665.6 1110.9 1664.8Z"/></clipPath>
<radialGradient id="g164"><stop offset="0.00" stop-color="#0650fc" stop-opacity="1.00"/><stop offset="0.10" stop-color="#0650fc" stop-opacity="1.00"/><stop offset="0.20" stop-color="#0650fc" stop-opacity="1.00"/><stop offset="0.30" stop-color="#0650fc" stop-opacity="1.00"/><stop offset="0.40" stop-color="#064ffc" stop-opacity="1.00"/><stop offset="0.50" stop-color="#0a4afa" stop-opacity="1.00"/><stop offset="0.60" stop-color="#0f41f7" stop-opacity="1.00"/><stop offset="0.70" stop-color="#1636f4" stop-opacity="1.00"/><stop offset="0.80" stop-color="#1c2bf1" stop-opacity="0.71"/><stop offset="0.90" stop-color="#1f27e9" stop-opacity="0.36"/><stop offset="1.00" stop-color="#1f25e0" stop-opacity="0.00"/></radialGradient>
<radialGradient id="g165"><stop offset="0.00" stop-color="#00dafb" stop-opacity="1.00"/><stop offset="0.10" stop-color="#00dafb" stop-opacity="1.00"/><stop offset="0.20" stop-color="#00dafb" stop-opacity="1.00"/><stop offset="0.30" stop-color="#00dafb" stop-opacity="1.00"/><stop offset="0.40" stop-color="#00d7fc" stop-opacity="1.00"/><stop offset="0.50" stop-color="#00c3fd" stop-opacity="1.00"/><stop offset="0.60" stop-color="#00a0ff" stop-opacity="1.00"/><stop offset="0.70" stop-color="#007bff" stop-opacity="1.00"/><stop offset="0.80" stop-color="#0158fe" stop-opacity="0.71"/><stop offset="0.90" stop-color="#103ff7" stop-opacity="0.36"/><stop offset="1.00" stop-color="#1c2cf1" stop-opacity="0.00"/></radialGradient>
<radialGradient id="g166"><stop offset="0.00" stop-color="#00eddb" stop-opacity="1.00"/><stop offset="0.10" stop-color="#00eddb" stop-opacity="1.00"/><stop offset="0.20" stop-color="#00eddb" stop-opacity="1.00"/><stop offset="0.30" stop-color="#00eddb" stop-opacity="1.00"/><stop offset="0.40" stop-color="#00ede0" stop-opacity="1.00"/><stop offset="0.50" stop-color="#00e2fb" stop-opacity="1.00"/><stop offset="0.60" stop-color="#00b9fe" stop-opacity="1.00"/><stop offset="0.70" stop-color="#008dff" stop-opacity="1.00"/><stop offset="0.80" stop-color="#0063ff" stop-opacity="0.71"/><stop offset="0.90" stop-color="#0d45f9" stop-opacity="0.36"/><stop offset="1.00" stop-color="#1930f2" stop-opacity="0.00"/></radialGradient>
<radialGradient id="g167"><stop offset="0.00" stop-color="#c80000" stop-opacity="1.00"/><stop offset="0.10" stop-color="#c80000" stop-opacity="1.00"/><stop offset="0.20" stop-color="#c80000" stop-opacity="1.00"/><stop offset="0.30" stop-color="#c80000" stop-opacity="1.00"/><stop offset="0.40" stop-color="#fc3100" stop-opacity="1.00"/><stop offset="0.50" stop-color="#f7cb00" stop-opacity="1.00"/><stop offset="0.60" stop-color="#13ec5f" stop-opacity="0.99"/><stop offset="0.70" stop-color="#00c0fd" stop-opacity="0.65"/><stop offset="0.80" stop-color="#0077ff" stop-opacity="0.40"/><stop offset="0.90" stop-color="#0a4afa" stop-opacity="0.16"/><stop offset="1.00" stop-color="#1930f3" stop-opacity="0.00"/></radialGradient>
<clipPath id="c168"><path d="M487.6 2076.1C491.3 2075.3 492.3 2077.7 495.4 2078.8C498.5 2079.9 500.8 2077.7 503.2 2081.4C505.6 2085.1 506.1 2089.0 507.2 2097.5C508.3 2106.0 508.1 2111.3 508.5 2124.1C508.9 2136.9 509.0 2145.4 509.0 2161.4C509.0 2177.4 508.9 2188.2 508.5 2204.2C508.1 2220.2 508.5 2226.6 507.2 2241.5C505.9 2256.4 504.0 2265.5 501.9 2278.8C499.8 2292.1 498.5 2297.0 496.7 2308.2C494.9 2319.4 494.4 2324.8 492.8 2334.9C491.2 2345.0 490.2 2351.2 488.9 2358.9C487.6 2366.6 487.3 2370.0 486.3 2373.5C485.3 2377.0 484.7 2377.0 483.7 2376.2C482.7 2375.4 481.9 2374.0 481.1 2369.5C480.3 2365.0 480.8 2361.0 479.7 2353.5C478.6 2346.0 477.6 2341.8 475.8 2332.2C474.0 2322.6 472.7 2317.3 470.6 2305.5C468.5 2293.7 467.2 2287.3 465.4 2273.4C463.6 2259.5 462.7 2252.1 461.5 2236.1C460.3 2220.1 460.0 2211.5 459.4 2193.4C458.8 2175.3 457.4 2159.3 458.3 2145.4C459.2 2131.5 461.6 2133.7 464.1 2124.1C466.6 2114.5 468.0 2105.8 470.6 2097.5C473.2 2089.2 473.7 2087.0 477.1 2082.7C480.5 2078.4 483.9 2076.9 487.6 2076.1Z"/></clipPath>
<radialGradient id="g169"><stop offset="0.00" stop-color="#113df6" stop-opacity="1.00"/><stop offset="0.10" stop-color="#113df6" stop-opacity="1.00"/><stop offset="0.20" stop-color="#113df6" stop-opacity="1.00"/><stop offset="0.30" stop-color="#113df6" stop-opacity="1.00"/><stop offset="0.40" stop-color="#113df6" stop-opacity="1.00"/><stop offset="0.50" stop-color="#1439f5" stop-opacity="1.00"/><stop offset="0.60" stop-color="#1832f3" stop-opacity="1.00"/><stop offset="0.70" stop-color="#1d2af1" stop-opacity="1.00"/><stop offset="0.80" stop-color="#1f27e8" stop-opacity="0.71"/><stop offset="0.90" stop-color="#1f25e0" stop-opacity="0.36"/><stop offset="1.00" stop-color="#2024d9" stop-opacity="0.00"/></radialGradient>
<radialGradient id="g170"><stop offset="0.00" stop-color="#0098ff" stop-opacity="1.00"/><stop offset="0.10" stop-color="#0098ff" stop-opacity="1.00"/><stop offset="0.20" stop-color="#0098ff" stop-opacity="1.00"/><stop offset="0.30" stop-color="#0098ff" stop-opacity="1.00"/><stop offset="0.40" stop-color="#0096ff" stop-opacity="1.00"/><stop offset="0.50" stop-color="#0089ff" stop-opacity="1.00"/><stop offset="0.60" stop-color="#0073ff" stop-opacity="1.00"/><stop offset="0.70" stop-color="#0158fe" stop-opacity="1.00"/><stop offset="0.80" stop-color="#0e42f8" stop-opacity="0.71"/><stop offset="0.90" stop-color="#1930f2" stop-opacity="0.36"/><stop offset="1.00" stop-color="#1f27e9" stop-opacity="0.00"/></radialGradient>
<radialGradient id="g171"><stop offset="0.00" stop-color="#00ebfa" stop-opacity="1.00"/><stop offset="0.10" stop-color="#00ebfa" stop-opacity="1.00"/><stop offset="0.20" stop-color="#00ebfa" stop-opacity="1.00"/><stop offset="0.30" stop-color="#00ebfa" stop-opacity="1.00"/><stop offset="0.40" stop-color="#00e8fa" stop-opacity="1.00"/><stop offset="0.50" stop-color="#00d2fc" stop-opacity="1.00"/><stop offset="0.60" stop-color="#00abff" stop-opacity="1.00"/><stop offset="0.70" stop-color="#0082ff" stop-opacity="1.00"/><stop offset="0.80" stop-color="#005bff" stop-opacity="0.71"/><stop offset="0.90" stop-color="#1040f7" stop-opacity="0.36"/><stop offset="1.00" stop-color="#1c2bf1" stop-opacity="0.00"/></radialGradient>
<radialGradient id="g172"><stop offset="0.00" stop-color="#030828" stop-opacity="0.95"/><stop offset="0.20" stop-color="#030828" stop-opacity="0.84"/><stop offset="0.40" stop-color="#030828" stop-opacity="0.59"/><stop offset="0.60" stop-color="#030828" stop-opacity="0.32"/><stop offset="0.80" stop-color="#030828" stop-opacity="0.09"/><stop offset="1.00" stop-color="#030828" stop-opacity="0.00"/></radialGradient>
<radialGradient id="g173"><stop offset="0.00" stop-color="#030828" stop-opacity="0.80"/><stop offset="0.20" stop-color="#030828" stop-opacity="0.71"/><stop offset="0.40" stop-color="#030828" stop-opacity="0.50"/><stop offset="0.60" stop-color="#030828" stop-opacity="0.27"/><stop offset="0.80" stop-color="#030828" stop-opacity="0.08"/><stop offset="1.00" stop-color="#030828" stop-opacity="0.00"/></radialGradient>
<clipPath id="c174"><path d="M1109.6 2076.1C1113.3 2075.3 1114.3 2077.7 1117.4 2078.7C1120.5 2079.7 1122.8 2077.6 1125.2 2081.3C1127.6 2085.0 1128.1 2088.8 1129.2 2097.2C1130.3 2105.6 1130.1 2110.9 1130.5 2123.5C1130.9 2136.1 1131.0 2144.6 1131.0 2160.4C1131.0 2176.2 1130.9 2186.7 1130.5 2202.5C1130.1 2218.3 1130.5 2224.7 1129.2 2239.4C1127.9 2254.1 1126.0 2263.0 1123.9 2276.2C1121.8 2289.4 1120.5 2294.1 1118.7 2305.2C1116.9 2316.3 1116.4 2321.6 1114.8 2331.6C1113.2 2341.6 1112.2 2347.7 1110.9 2355.3C1109.6 2362.9 1109.3 2366.3 1108.3 2369.7C1107.3 2373.1 1106.7 2373.1 1105.7 2372.3C1104.7 2371.5 1103.9 2370.3 1103.1 2365.8C1102.3 2361.3 1102.8 2357.3 1101.7 2349.9C1100.6 2342.5 1099.6 2338.5 1097.8 2329.0C1096.0 2319.5 1094.7 2314.2 1092.6 2302.6C1090.5 2291.0 1089.2 2284.6 1087.4 2270.9C1085.6 2257.2 1084.7 2249.9 1083.5 2234.1C1082.3 2218.3 1082.0 2209.8 1081.4 2191.9C1080.8 2174.0 1079.4 2158.2 1080.3 2144.5C1081.2 2130.8 1083.6 2133.0 1086.1 2123.5C1088.6 2114.0 1090.0 2105.4 1092.6 2097.2C1095.2 2089.0 1095.7 2086.9 1099.1 2082.7C1102.5 2078.5 1105.9 2076.9 1109.6 2076.1Z"/></clipPath>
<radialGradient id="g175"><stop offset="0.00" stop-color="#1537f5" stop-opacity="1.00"/><stop offset="0.10" stop-color="#1537f5" stop-opacity="1.00"/><stop offset="0.20" stop-color="#1537f5" stop-opacity="1.00"/><stop offset="0.30" stop-color="#1537f5" stop-opacity="1.00"/><stop offset="0.40" stop-color="#1537f4" stop-opacity="1.00"/><stop offset="0.50" stop-color="#1733f3" stop-opacity="1.00"/><stop offset="0.60" stop-color="#1b2ef2" stop-opacity="1.00"/><stop offset="0.70" stop-color="#1e28ee" stop-opacity="1.00"/><stop offset="0.80" stop-color="#1f26e5" stop-opacity="0.71"/><stop offset="0.90" stop-color="#2025de" stop-opacity="0.36"/><stop offset="1.00" stop-color="#2024d8" stop-opacity="0.00"/></radialGradient>
<radialGradient id="g176"><stop offset="0.00" stop-color="#00c9fd" stop-opacity="1.00"/><stop offset="0.10" stop-color="#00c9fd" stop-opacity="1.00"/><stop offset="0.20" stop-color="#00c9fd" stop-opacity="1.00"/><stop offset="0.30" stop-color="#00c9fd" stop-opacity="1.00"/><stop offset="0.40" stop-color="#00c6fd" stop-opacity="1.00"/><stop offset="0.50" stop-color="#00b3fe" stop-opacity="1.00"/><stop offset="0.60" stop-color="#0094ff" stop-opacity="1.00"/><stop offset="0.70" stop-color="#0071ff" stop-opacity="1.00"/><stop offset="0.80" stop-color="#0551fc" stop-opacity="0.71"/><stop offset="0.90" stop-color="#1439f5" stop-opacity="0.36"/><stop offset="1.00" stop-color="#1e28f0" stop-opacity="0.00"/></radialGradient>
</defs>
<rect width="1226" height="2448" fill="#fff"/>
<text x="181" y="64" font-size="54" text-anchor="start" class="ls" fill="#111" stroke="#111" stroke-width="0.22">a</text>
<line x1="261.2" y1="27.8" x2="396.5" y2="27.8" stroke="#777777" stroke-width="3.2"/>
<line x1="253.3" y1="35" x2="253.3" y2="274.5" stroke="#7d7d7d" stroke-width="2.2"/>
<line x1="261.7" y1="39.6" x2="394.8" y2="39.6" stroke="#8c8c8c" stroke-width="1.3"/>
<line x1="261.7" y1="96.4" x2="394.8" y2="96.4" stroke="#8c8c8c" stroke-width="1.3"/>
<line x1="261.7" y1="153.5" x2="394.8" y2="153.5" stroke="#8c8c8c" stroke-width="1.3"/>
<line x1="261.7" y1="209.9" x2="394.8" y2="209.9" stroke="#8c8c8c" stroke-width="1.3"/>
<line x1="261.7" y1="267" x2="394.8" y2="267" stroke="#8c8c8c" stroke-width="1.3"/>
<line x1="271.5" y1="38.6" x2="271.5" y2="272.5" stroke="#8c8c8c" stroke-width="1.3"/>
<line x1="375.2" y1="38.6" x2="375.2" y2="272.5" stroke="#8c8c8c" stroke-width="1.3"/>
<g clip-path="url(#c1)"><rect x="252.7" y="28.1" width="150.6" height="254" fill="#007aff"/><g filter="url(#bl)"><ellipse cx="372.3" cy="106.1" rx="37.2" ry="43.1" fill="url(#g2)"/><ellipse cx="278.3" cy="84.6" rx="23.5" ry="33.3" transform="rotate(-20 278.3 84.6)" fill="url(#g2)"/><ellipse cx="354.7" cy="196.2" rx="47" ry="33.3" transform="rotate(-20 354.7 196.2)" fill="url(#g2)"/><ellipse cx="264.6" cy="213.8" rx="19.6" ry="23.5" fill="url(#g2)"/><ellipse cx="309.6" cy="141.4" rx="64.6" ry="27.4" transform="rotate(-10 309.6 141.4)" fill="url(#g3)"/><ellipse cx="384" cy="145.3" rx="19.6" ry="23.5" fill="url(#g4)"/><ellipse cx="297.9" cy="233.4" rx="35.2" ry="19.6" fill="url(#g5)"/><ellipse cx="321.4" cy="76.8" rx="78.3" ry="31.3" transform="rotate(10 321.4 76.8)" fill="url(#g6)"/><ellipse cx="264.6" cy="164.9" rx="37.2" ry="54.8" fill="url(#g7)"/><ellipse cx="264.6" cy="260.8" rx="67" ry="49.1" transform="rotate(20 264.6 260.8)" fill="url(#g8)"/><ellipse cx="325.3" cy="29.8" rx="116.1" ry="73.7" transform="rotate(15 325.3 29.8)" fill="url(#g9)"/><ellipse cx="312.6" cy="282.3" rx="98.2" ry="67" transform="rotate(-10 312.6 282.3)" fill="url(#g10)"/></g><g filter="url(#wf)" opacity="0.75"><rect x="242.7" y="18.1" width="170.6" height="274" fill="url(#m1)"/></g></g><path d="M317.5 34.1C322.1 34.4 330.5 36.7 337.0 38.6C343.5 40.5 350.7 42.1 356.6 45.5C362.5 48.9 368.1 54.3 372.3 59.2C376.6 64.1 379.2 69.3 382.1 74.8C385.0 80.3 387.8 86.9 389.9 92.4C392.0 98.0 393.6 101.9 394.8 108.1C396.0 114.3 397.6 123.4 397.3 129.6C397.0 135.8 394.9 140.1 392.8 145.3C390.8 150.5 386.6 155.1 385.0 161.0C383.4 166.9 383.3 174.6 383.0 180.5C382.7 186.4 384.1 191.6 383.0 196.2C381.9 200.8 379.6 204.3 376.2 207.9C372.8 211.5 366.8 214.4 362.5 217.7C358.2 221.0 353.8 223.6 350.7 227.5C347.6 231.4 345.5 236.3 343.9 241.2C342.3 246.1 342.8 252.6 341.0 256.9C339.2 261.1 336.4 264.1 333.1 266.7C329.8 269.3 324.8 270.9 321.4 272.5C318.0 274.1 315.5 276.4 312.6 276.1C309.7 275.8 308.2 272.5 303.8 270.6C299.4 268.7 292.0 266.8 286.1 264.7C280.2 262.6 273.1 260.5 268.5 257.9C263.9 255.3 260.2 253.2 258.7 249.1C257.2 245.0 259.2 238.6 259.7 233.4C260.2 228.2 261.5 223.2 261.7 217.7C261.9 212.1 260.6 206.9 260.7 200.1C260.8 193.2 261.8 182.5 262.3 176.6C262.8 170.7 261.9 168.8 263.6 164.9C265.3 161.0 269.9 157.7 272.4 153.1C274.8 148.5 277.6 143.1 278.3 137.5C279.0 131.9 275.4 125.3 276.4 119.8C277.4 114.2 283.9 109.7 284.2 104.2C284.5 98.7 280.3 92.1 278.3 86.6C276.3 81.0 271.1 76.5 272.4 70.9C273.7 65.4 281.5 58.2 286.1 53.3C290.7 48.4 295.9 44.3 299.8 41.5C303.7 38.7 306.7 37.8 309.6 36.6C312.6 35.4 312.9 33.8 317.5 34.1Z" fill="none" stroke="#0a1430" stroke-width="0.8" stroke-opacity="0.7"/>
<line x1="775.7" y1="27.3" x2="911" y2="27.3" stroke="#777777" stroke-width="3.2"/>
<line x1="767.8" y1="34.5" x2="767.8" y2="274" stroke="#7d7d7d" stroke-width="2.2"/>
<line x1="776.2" y1="39.1" x2="909.3" y2="39.1" stroke="#8c8c8c" stroke-width="1.3"/>
<line x1="776.2" y1="95.9" x2="909.3" y2="95.9" stroke="#8c8c8c" stroke-width="1.3"/>
<line x1="776.2" y1="153" x2="909.3" y2="153" stroke="#8c8c8c" stroke-width="1.3"/>
<line x1="776.2" y1="209.4" x2="909.3" y2="209.4" stroke="#8c8c8c" stroke-width="1.3"/>
<line x1="776.2" y1="266.5" x2="909.3" y2="266.5" stroke="#8c8c8c" stroke-width="1.3"/>
<line x1="786" y1="38.1" x2="786" y2="272" stroke="#8c8c8c" stroke-width="1.3"/>
<line x1="889.7" y1="38.1" x2="889.7" y2="272" stroke="#8c8c8c" stroke-width="1.3"/>
<g clip-path="url(#c11)"><rect x="767.2" y="27.6" width="150.6" height="254" fill="#006cff"/><g filter="url(#bl)"><ellipse cx="825.3" cy="147" rx="74.4" ry="33.3" transform="rotate(-5 825.3 147)" fill="url(#g12)"/><ellipse cx="827.3" cy="270.4" rx="29.4" ry="15.7" fill="url(#g13)"/><ellipse cx="848.8" cy="92.2" rx="21.5" ry="23.5" fill="url(#g14)"/><ellipse cx="821.4" cy="235.1" rx="39.2" ry="31.3" fill="url(#g15)"/><ellipse cx="901.6" cy="131.4" rx="21.5" ry="23.5" fill="url(#g16)"/><ellipse cx="784.2" cy="186.2" rx="25.5" ry="50.9" fill="url(#g17)"/><ellipse cx="876.2" cy="186.2" rx="33.3" ry="45" fill="url(#g17)"/><ellipse cx="817.5" cy="62.9" rx="58.7" ry="45" fill="url(#g18)"/><ellipse cx="792" cy="68.7" rx="23.5" ry="39.2" transform="rotate(20 792 68.7)" fill="url(#g19)"/><ellipse cx="792" cy="266.5" rx="33.5" ry="20.1" transform="rotate(20 792 266.5)" fill="url(#g20)"/><ellipse cx="768.5" cy="256.7" rx="51.3" ry="89.3" transform="rotate(12 768.5 256.7)" fill="url(#g21)"/><ellipse cx="901.6" cy="74.6" rx="51.3" ry="98.2" transform="rotate(-22 901.6 74.6)" fill="url(#g22)"/></g><g filter="url(#wf)" opacity="0.75"><rect x="757.2" y="17.6" width="170.6" height="274" fill="url(#m1)"/></g></g><path d="M832.0 33.6C836.6 33.9 845.0 36.2 851.5 38.1C858.0 40.0 865.2 41.6 871.1 45.0C877.0 48.4 882.5 53.8 886.8 58.7C891.0 63.6 893.7 68.8 896.6 74.3C899.5 79.8 902.3 86.4 904.4 91.9C906.5 97.5 908.1 101.4 909.3 107.6C910.5 113.8 912.1 122.9 911.8 129.1C911.5 135.3 909.3 139.6 907.3 144.8C905.2 150.0 901.1 154.6 899.5 160.5C897.9 166.4 897.8 174.1 897.5 180.0C897.2 185.9 898.6 191.1 897.5 195.7C896.4 200.3 894.1 203.8 890.7 207.4C887.3 211.0 881.2 213.9 877.0 217.2C872.8 220.5 868.3 223.1 865.2 227.0C862.1 230.9 860.0 235.8 858.4 240.7C856.8 245.6 857.3 252.1 855.5 256.4C853.7 260.6 850.9 263.6 847.6 266.2C844.3 268.8 839.3 270.4 835.9 272.0C832.5 273.6 830.0 275.9 827.1 275.6C824.2 275.3 822.7 272.0 818.3 270.1C813.9 268.2 806.5 266.3 800.6 264.2C794.7 262.1 787.6 260.0 783.0 257.4C778.4 254.8 774.7 252.7 773.2 248.6C771.7 244.5 773.7 238.1 774.2 232.9C774.7 227.7 776.0 222.8 776.2 217.2C776.4 211.6 775.1 206.4 775.2 199.6C775.3 192.8 776.3 182.0 776.8 176.1C777.3 170.2 776.4 168.3 778.1 164.4C779.8 160.5 784.5 157.2 786.9 152.6C789.3 148.0 792.1 142.6 792.8 137.0C793.5 131.4 789.9 124.8 790.9 119.3C791.9 113.8 798.4 109.2 798.7 103.7C799.0 98.2 794.8 91.6 792.8 86.1C790.8 80.5 785.6 76.0 786.9 70.4C788.2 64.9 796.0 57.7 800.6 52.8C805.2 47.9 810.4 43.8 814.3 41.0C818.2 38.2 821.1 37.3 824.1 36.1C827.1 34.9 827.4 33.3 832.0 33.6Z" fill="none" stroke="#0a1430" stroke-width="0.8" stroke-opacity="0.7"/>
<line x1="259.7" y1="303.8" x2="395" y2="303.8" stroke="#777777" stroke-width="3.2"/>
<line x1="251.8" y1="311" x2="251.8" y2="550.5" stroke="#7d7d7d" stroke-width="2.2"/>
<line x1="260.2" y1="315.6" x2="393.3" y2="315.6" stroke="#8c8c8c" stroke-width="1.3"/>
<line x1="260.2" y1="372.4" x2="393.3" y2="372.4" stroke="#8c8c8c" stroke-width="1.3"/>
<line x1="260.2" y1="429.5" x2="393.3" y2="429.5" stroke="#8c8c8c" stroke-width="1.3"/>
<line x1="260.2" y1="485.9" x2="393.3" y2="485.9" stroke="#8c8c8c" stroke-width="1.3"/>
<line x1="260.2" y1="543" x2="393.3" y2="543" stroke="#8c8c8c" stroke-width="1.3"/>
<line x1="270" y1="314.6" x2="270" y2="548.5" stroke="#8c8c8c" stroke-width="1.3"/>
<line x1="373.7" y1="314.6" x2="373.7" y2="548.5" stroke="#8c8c8c" stroke-width="1.3"/>
<g clip-path="url(#c23)"><rect x="251.2" y="304.1" width="150.6" height="254" fill="#133af6"/><g filter="url(#bl)"><ellipse cx="309.6" cy="505.3" rx="49" ry="29.4" transform="rotate(-30 309.6 505.3)" fill="url(#g24)"/><ellipse cx="337" cy="360.5" rx="39.2" ry="23.5" fill="url(#g25)"/><ellipse cx="282.2" cy="348.7" rx="29.4" ry="39.2" fill="url(#g26)"/><ellipse cx="264.6" cy="530.8" rx="35.2" ry="25.5" fill="url(#g27)"/><ellipse cx="384" cy="391.8" rx="33.3" ry="50.9" fill="url(#g28)"/><ellipse cx="262.6" cy="485.8" rx="31.3" ry="64.6" fill="url(#g29)"/><ellipse cx="315.5" cy="307.6" rx="67" ry="51.3" transform="rotate(10 315.5 307.6)" fill="url(#g30)"/><ellipse cx="317.5" cy="554.3" rx="67" ry="53.6" transform="rotate(-10 317.5 554.3)" fill="url(#g31)"/></g><g filter="url(#wf)" opacity="0.75"><rect x="241.2" y="294.1" width="170.6" height="274" fill="url(#m1)"/></g></g><path d="M316.0 310.1C320.6 310.4 329.0 312.7 335.5 314.6C342.0 316.5 349.2 318.1 355.1 321.5C361.0 324.9 366.6 330.3 370.8 335.2C375.1 340.1 377.7 345.3 380.6 350.8C383.5 356.3 386.3 362.8 388.4 368.4C390.5 373.9 392.1 377.9 393.3 384.1C394.5 390.3 396.1 399.4 395.8 405.6C395.5 411.8 393.4 416.1 391.3 421.3C389.2 426.5 385.1 431.1 383.5 437.0C381.9 442.9 381.8 450.6 381.5 456.5C381.2 462.4 382.6 467.6 381.5 472.2C380.4 476.8 378.1 480.3 374.7 483.9C371.3 487.5 365.2 490.4 361.0 493.7C356.8 497.0 352.3 499.6 349.2 503.5C346.1 507.4 344.0 512.3 342.4 517.2C340.8 522.1 341.3 528.6 339.5 532.9C337.7 537.1 334.9 540.1 331.6 542.7C328.3 545.3 323.3 546.9 319.9 548.5C316.5 550.1 314.0 552.4 311.1 552.1C308.2 551.8 306.7 548.5 302.3 546.6C297.9 544.7 290.5 542.8 284.6 540.7C278.7 538.6 271.6 536.5 267.0 533.9C262.4 531.3 258.7 529.2 257.2 525.1C255.7 521.0 257.7 514.6 258.2 509.4C258.7 504.2 260.0 499.2 260.2 493.7C260.4 488.1 259.1 483.0 259.2 476.1C259.3 469.2 260.3 458.5 260.8 452.6C261.3 446.7 260.4 444.8 262.1 440.9C263.8 437.0 268.4 433.7 270.9 429.1C273.3 424.5 276.1 419.1 276.8 413.5C277.5 407.9 273.9 401.4 274.9 395.8C275.9 390.2 282.4 385.7 282.7 380.2C283.0 374.7 278.8 368.2 276.8 362.6C274.8 357.1 269.6 352.4 270.9 346.9C272.2 341.3 280.0 334.2 284.6 329.3C289.2 324.4 294.4 320.3 298.3 317.5C302.2 314.7 305.2 313.8 308.1 312.6C311.1 311.4 311.4 309.8 316.0 310.1Z" fill="none" stroke="#0a1430" stroke-width="0.8" stroke-opacity="0.7"/>
<line x1="775.7" y1="304.3" x2="911" y2="304.3" stroke="#777777" stroke-width="3.2"/>
<line x1="767.8" y1="311.5" x2="767.8" y2="551" stroke="#7d7d7d" stroke-width="2.2"/>
<line x1="776.2" y1="316.1" x2="909.3" y2="316.1" stroke="#8c8c8c" stroke-width="1.3"/>
<line x1="776.2" y1="372.9" x2="909.3" y2="372.9" stroke="#8c8c8c" stroke-width="1.3"/>
<line x1="776.2" y1="430" x2="909.3" y2="430" stroke="#8c8c8c" stroke-width="1.3"/>
<line x1="776.2" y1="486.4" x2="909.3" y2="486.4" stroke="#8c8c8c" stroke-width="1.3"/>
<line x1="776.2" y1="543.5" x2="909.3" y2="543.5" stroke="#8c8c8c" stroke-width="1.3"/>
<line x1="786" y1="315.1" x2="786" y2="549" stroke="#8c8c8c" stroke-width="1.3"/>
<line x1="889.7" y1="315.1" x2="889.7" y2="549" stroke="#8c8c8c" stroke-width="1.3"/>
<g clip-path="url(#c32)"><rect x="767.2" y="304.6" width="150.6" height="254" fill="#1734f4"/><g filter="url(#bl)"><ellipse cx="827.3" cy="387.9" rx="39.2" ry="29.4" fill="url(#g33)"/><ellipse cx="817.5" cy="476" rx="49" ry="39.2" fill="url(#g34)"/><ellipse cx="837" cy="544.5" rx="39.2" ry="23.5" fill="url(#g34)"/><ellipse cx="794" cy="515.1" rx="39.2" ry="39.2" fill="url(#g35)"/><ellipse cx="886" cy="452.5" rx="25.5" ry="39.2" fill="url(#g36)"/><ellipse cx="794" cy="338.9" rx="29.4" ry="25.5" fill="url(#g37)"/><ellipse cx="876.2" cy="327.2" rx="73.7" ry="49.1" transform="rotate(28 876.2 327.2)" fill="url(#g38)"/><ellipse cx="772.4" cy="530.8" rx="58" ry="51.3" transform="rotate(25 772.4 530.8)" fill="url(#g39)"/><ellipse cx="911.4" cy="405.5" rx="62.5" ry="73.7" fill="url(#g40)"/></g><g filter="url(#wf)" opacity="0.75"><rect x="757.2" y="294.6" width="170.6" height="274" fill="url(#m1)"/></g></g><path d="M832.0 310.6C836.6 310.9 845.0 313.2 851.5 315.1C858.0 317.0 865.2 318.6 871.1 322.0C877.0 325.4 882.5 330.8 886.8 335.7C891.0 340.6 893.7 345.8 896.6 351.3C899.5 356.8 902.3 363.3 904.4 368.9C906.5 374.4 908.1 378.4 909.3 384.6C910.5 390.8 912.1 399.9 911.8 406.1C911.5 412.3 909.3 416.6 907.3 421.8C905.2 427.0 901.1 431.6 899.5 437.5C897.9 443.4 897.8 451.1 897.5 457.0C897.2 462.9 898.6 468.1 897.5 472.7C896.4 477.3 894.1 480.8 890.7 484.4C887.3 488.0 881.2 490.9 877.0 494.2C872.8 497.5 868.3 500.1 865.2 504.0C862.1 507.9 860.0 512.8 858.4 517.7C856.8 522.6 857.3 529.1 855.5 533.4C853.7 537.6 850.9 540.6 847.6 543.2C844.3 545.8 839.3 547.4 835.9 549.0C832.5 550.6 830.0 552.9 827.1 552.6C824.2 552.3 822.7 549.0 818.3 547.1C813.9 545.2 806.5 543.3 800.6 541.2C794.7 539.1 787.6 537.0 783.0 534.4C778.4 531.8 774.7 529.7 773.2 525.6C771.7 521.5 773.7 515.1 774.2 509.9C774.7 504.7 776.0 499.8 776.2 494.2C776.4 488.6 775.1 483.5 775.2 476.6C775.3 469.8 776.3 459.0 776.8 453.1C777.3 447.2 776.4 445.3 778.1 441.4C779.8 437.5 784.5 434.2 786.9 429.6C789.3 425.0 792.1 419.6 792.8 414.0C793.5 408.4 789.9 401.9 790.9 396.3C791.9 390.8 798.4 386.2 798.7 380.7C799.0 375.2 794.8 368.7 792.8 363.1C790.8 357.6 785.6 352.9 786.9 347.4C788.2 341.8 796.0 334.7 800.6 329.8C805.2 324.9 810.4 320.8 814.3 318.0C818.2 315.2 821.1 314.3 824.1 313.1C827.1 311.9 827.4 310.3 832.0 310.6Z" fill="none" stroke="#0a1430" stroke-width="0.8" stroke-opacity="0.7"/>
<line x1="602.4" y1="36.4" x2="602.4" y2="286" stroke="#7d7d7d" stroke-width="2.2"/>
<line x1="608.3" y1="29" x2="670.6" y2="29" stroke="#8c8c8c" stroke-width="1.1"/>
<line x1="608.3" y1="34.5" x2="670.6" y2="34.5" stroke="#8c8c8c" stroke-width="1.1"/>
<line x1="608.3" y1="39.4" x2="670.6" y2="39.4" stroke="#8c8c8c" stroke-width="1.1"/>
<line x1="621" y1="27.6" x2="620.2" y2="39.4" stroke="#8c8c8c" stroke-width="1"/>
<line x1="634.7" y1="27.6" x2="633.9" y2="39.4" stroke="#8c8c8c" stroke-width="1"/>
<line x1="648.4" y1="27.6" x2="647.6" y2="39.4" stroke="#8c8c8c" stroke-width="1"/>
<line x1="663.1" y1="27.6" x2="662.3" y2="39.4" stroke="#8c8c8c" stroke-width="1"/>
<line x1="611.2" y1="49.2" x2="668" y2="49.2" stroke="#8c8c8c" stroke-width="1.2"/>
<line x1="611.2" y1="105.9" x2="668" y2="105.9" stroke="#8c8c8c" stroke-width="1.2"/>
<line x1="611.2" y1="161.7" x2="668" y2="161.7" stroke="#8c8c8c" stroke-width="1.2"/>
<line x1="611.2" y1="218.5" x2="668" y2="218.5" stroke="#8c8c8c" stroke-width="1.2"/>
<line x1="611.2" y1="274.7" x2="668" y2="274.7" stroke="#8c8c8c" stroke-width="1.2"/>
<line x1="647.5" y1="49.2" x2="647.5" y2="284.1" stroke="#8c8c8c" stroke-width="1.2"/>
<line x1="662.1" y1="49.2" x2="662.1" y2="284.1" stroke="#8c8c8c" stroke-width="1.2"/>
<g clip-path="url(#c41)"><rect x="603.9" y="35.3" width="70.1" height="254.8" fill="#0650fc"/><g filter="url(#bl)"><ellipse cx="639.6" cy="111.8" rx="45" ry="33.3" transform="rotate(-20 639.6 111.8)" fill="url(#g42)"/><ellipse cx="631.8" cy="215.6" rx="29.4" ry="29.4" fill="url(#g43)"/><ellipse cx="625.9" cy="158.8" rx="13.7" ry="50.9" transform="rotate(5 625.9 158.8)" fill="url(#g44)"/><ellipse cx="659.2" cy="74.6" rx="17.6" ry="23.5" fill="url(#g45)"/><ellipse cx="627.9" cy="43.3" rx="73.7" ry="73.7" transform="rotate(10 627.9 43.3)" fill="url(#g46)"/><ellipse cx="624" cy="284.1" rx="58" ry="67" fill="url(#g47)"/><ellipse cx="617.1" cy="176.4" rx="11.7" ry="88.1" fill="url(#g48)"/><ellipse cx="647.5" cy="166.6" rx="10.8" ry="45" transform="rotate(8 647.5 166.6)" fill="url(#g49)"/><ellipse cx="613.2" cy="254.7" rx="8.8" ry="39.2" fill="url(#g50)"/></g><g filter="url(#wf)" opacity="0.7"><rect x="593.9" y="25.3" width="90.1" height="274.8" fill="url(#m2)"/></g></g><path d="M636.7 41.3C637.7 41.6 637.2 43.9 639.6 46.2C642.0 48.5 647.8 51.6 651.4 55.0C655.0 58.4 658.4 62.2 661.2 66.8C664.0 71.4 667.0 76.5 668.0 82.4C669.0 88.3 667.8 95.8 667.0 102.0C666.2 108.2 664.4 114.0 663.1 119.6C661.8 125.1 660.5 130.1 659.2 135.3C657.9 140.5 656.4 145.1 655.3 151.0C654.2 156.9 653.2 164.0 652.4 170.5C651.6 177.0 650.6 183.6 650.4 190.1C650.2 196.6 651.2 203.2 651.0 209.7C650.8 216.2 650.0 223.4 649.4 229.3C648.8 235.2 648.5 239.4 647.5 244.9C646.5 250.4 645.3 256.9 643.5 262.5C641.7 268.1 639.3 274.8 636.7 278.2C634.1 281.6 630.4 282.1 627.9 283.1C625.4 284.1 624.0 284.9 622.0 284.1C620.0 283.3 617.7 281.5 616.1 278.2C614.5 274.9 613.0 269.4 612.2 264.5C611.4 259.6 611.0 254.4 611.2 248.8C611.4 243.2 612.6 237.1 613.2 231.2C613.8 225.3 614.4 219.8 614.6 213.6C614.8 207.4 614.1 200.5 614.2 194.0C614.3 187.5 614.9 180.9 615.2 174.4C615.5 167.9 616.0 161.4 616.1 154.9C616.2 148.4 616.2 141.8 616.1 135.3C616.0 128.8 615.9 122.2 615.2 115.7C614.6 109.2 613.1 102.9 612.2 96.1C611.3 89.2 609.7 80.8 609.9 74.6C610.1 68.4 611.8 63.1 613.2 58.9C614.6 54.7 616.0 51.6 618.1 49.2C620.2 46.9 623.3 45.6 625.9 44.8C628.5 44.0 632.0 44.9 633.8 44.3C635.6 43.7 635.7 41.0 636.7 41.3Z" fill="none" stroke="#0a1430" stroke-width="0.8" stroke-opacity="0.7"/>
<line x1="1125.4" y1="31.9" x2="1125.4" y2="281.5" stroke="#7d7d7d" stroke-width="2.2"/>
<line x1="1131.3" y1="24.5" x2="1193.6" y2="24.5" stroke="#8c8c8c" stroke-width="1.1"/>
<line x1="1131.3" y1="30" x2="1193.6" y2="30" stroke="#8c8c8c" stroke-width="1.1"/>
<line x1="1131.3" y1="34.9" x2="1193.6" y2="34.9" stroke="#8c8c8c" stroke-width="1.1"/>
<line x1="1144" y1="23.1" x2="1143.2" y2="34.9" stroke="#8c8c8c" stroke-width="1"/>
<line x1="1157.7" y1="23.1" x2="1156.9" y2="34.9" stroke="#8c8c8c" stroke-width="1"/>
<line x1="1171.4" y1="23.1" x2="1170.6" y2="34.9" stroke="#8c8c8c" stroke-width="1"/>
<line x1="1186.1" y1="23.1" x2="1185.3" y2="34.9" stroke="#8c8c8c" stroke-width="1"/>
<line x1="1134.2" y1="44.7" x2="1191" y2="44.7" stroke="#8c8c8c" stroke-width="1.2"/>
<line x1="1134.2" y1="101.4" x2="1191" y2="101.4" stroke="#8c8c8c" stroke-width="1.2"/>
<line x1="1134.2" y1="157.2" x2="1191" y2="157.2" stroke="#8c8c8c" stroke-width="1.2"/>
<line x1="1134.2" y1="214" x2="1191" y2="214" stroke="#8c8c8c" stroke-width="1.2"/>
<line x1="1134.2" y1="270.2" x2="1191" y2="270.2" stroke="#8c8c8c" stroke-width="1.2"/>
<line x1="1170.5" y1="44.7" x2="1170.5" y2="279.6" stroke="#8c8c8c" stroke-width="1.2"/>
<line x1="1185.1" y1="44.7" x2="1185.1" y2="279.6" stroke="#8c8c8c" stroke-width="1.2"/>
<g clip-path="url(#c51)"><rect x="1126.9" y="30.8" width="70.1" height="254.8" fill="#113df6"/><g filter="url(#bl)"><ellipse cx="1160.2" cy="151" rx="23.5" ry="17.6" fill="url(#g52)"/><ellipse cx="1162.2" cy="92.2" rx="23.5" ry="48.9" transform="rotate(-20 1162.2 92.2)" fill="url(#g25)"/><ellipse cx="1158.3" cy="182.3" rx="23.5" ry="23.5" fill="url(#g53)"/><ellipse cx="1152.4" cy="254.7" rx="39.2" ry="50.9" fill="url(#g27)"/><ellipse cx="1185.7" cy="68.7" rx="17.6" ry="39.2" fill="url(#g27)"/><ellipse cx="1168.1" cy="209.7" rx="20.1" ry="35.7" transform="rotate(-25 1168.1 209.7)" fill="url(#g30)"/><ellipse cx="1136.7" cy="74.6" rx="24.6" ry="93.7" transform="rotate(-5 1136.7 74.6)" fill="url(#g54)"/><ellipse cx="1141.6" cy="162.7" rx="11.7" ry="64.6" fill="url(#g48)"/><ellipse cx="1178.8" cy="143.1" rx="11.7" ry="48.9" transform="rotate(12 1178.8 143.1)" fill="url(#g55)"/><ellipse cx="1136.7" cy="254.7" rx="7.8" ry="29.4" fill="url(#g50)"/></g><g filter="url(#wf)" opacity="0.7"><rect x="1116.9" y="20.8" width="90.1" height="274.8" fill="url(#m2)"/></g></g><path d="M1159.7 36.8C1160.7 37.1 1160.1 39.4 1162.6 41.7C1165.0 44.0 1170.8 47.1 1174.4 50.5C1178.0 53.9 1181.4 57.7 1184.2 62.3C1187.0 66.9 1190.0 72.0 1191.0 77.9C1192.0 83.8 1190.8 91.3 1190.0 97.5C1189.2 103.7 1187.4 109.5 1186.1 115.1C1184.8 120.6 1183.5 125.6 1182.2 130.8C1180.9 136.0 1179.4 140.6 1178.3 146.5C1177.2 152.4 1176.2 159.5 1175.4 166.0C1174.6 172.5 1173.6 179.1 1173.4 185.6C1173.2 192.1 1174.2 198.7 1174.0 205.2C1173.8 211.7 1173.0 218.9 1172.4 224.8C1171.8 230.7 1171.5 234.9 1170.5 240.4C1169.5 245.9 1168.3 252.4 1166.5 258.0C1164.7 263.6 1162.3 270.3 1159.7 273.7C1157.1 277.1 1153.4 277.6 1150.9 278.6C1148.5 279.6 1147.0 280.4 1145.0 279.6C1143.0 278.8 1140.7 277.0 1139.1 273.7C1137.5 270.4 1136.0 264.9 1135.2 260.0C1134.4 255.1 1134.0 249.9 1134.2 244.3C1134.4 238.8 1135.6 232.6 1136.2 226.7C1136.8 220.8 1137.4 215.3 1137.6 209.1C1137.8 202.9 1137.1 196.0 1137.2 189.5C1137.3 183.0 1137.9 176.4 1138.2 169.9C1138.5 163.4 1138.9 156.9 1139.1 150.4C1139.2 143.9 1139.2 137.3 1139.1 130.8C1138.9 124.3 1138.8 117.7 1138.2 111.2C1137.6 104.7 1136.1 98.4 1135.2 91.6C1134.3 84.8 1132.7 76.3 1132.9 70.1C1133.1 63.9 1134.8 58.6 1136.2 54.4C1137.6 50.2 1139.0 47.1 1141.1 44.7C1143.2 42.4 1146.3 41.1 1148.9 40.3C1151.5 39.5 1155.0 40.4 1156.8 39.8C1158.6 39.2 1158.7 36.5 1159.7 36.8Z" fill="none" stroke="#0a1430" stroke-width="0.8" stroke-opacity="0.7"/>
<line x1="602.4" y1="304.7" x2="602.4" y2="554.3" stroke="#7d7d7d" stroke-width="2.2"/>
<line x1="608.3" y1="297.3" x2="670.6" y2="297.3" stroke="#8c8c8c" stroke-width="1.1"/>
<line x1="608.3" y1="302.8" x2="670.6" y2="302.8" stroke="#8c8c8c" stroke-width="1.1"/>
<line x1="608.3" y1="307.7" x2="670.6" y2="307.7" stroke="#8c8c8c" stroke-width="1.1"/>
<line x1="621" y1="295.9" x2="620.2" y2="307.7" stroke="#8c8c8c" stroke-width="1"/>
<line x1="634.7" y1="295.9" x2="633.9" y2="307.7" stroke="#8c8c8c" stroke-width="1"/>
<line x1="648.4" y1="295.9" x2="647.6" y2="307.7" stroke="#8c8c8c" stroke-width="1"/>
<line x1="663.1" y1="295.9" x2="662.3" y2="307.7" stroke="#8c8c8c" stroke-width="1"/>
<line x1="611.2" y1="317.5" x2="668" y2="317.5" stroke="#8c8c8c" stroke-width="1.2"/>
<line x1="611.2" y1="374.2" x2="668" y2="374.2" stroke="#8c8c8c" stroke-width="1.2"/>
<line x1="611.2" y1="430" x2="668" y2="430" stroke="#8c8c8c" stroke-width="1.2"/>
<line x1="611.2" y1="486.8" x2="668" y2="486.8" stroke="#8c8c8c" stroke-width="1.2"/>
<line x1="611.2" y1="543" x2="668" y2="543" stroke="#8c8c8c" stroke-width="1.2"/>
<line x1="647.5" y1="317.5" x2="647.5" y2="552.4" stroke="#8c8c8c" stroke-width="1.2"/>
<line x1="662.1" y1="317.5" x2="662.1" y2="552.4" stroke="#8c8c8c" stroke-width="1.2"/>
<g clip-path="url(#c56)"><rect x="603.9" y="303.6" width="70.1" height="254.8" fill="#1931f3"/><g filter="url(#bl)"><ellipse cx="651.4" cy="368.3" rx="25.5" ry="39.2" transform="rotate(-15 651.4 368.3)" fill="url(#g33)"/><ellipse cx="624" cy="511.2" rx="23.5" ry="19.6" fill="url(#g36)"/><ellipse cx="616.1" cy="354.6" rx="13.7" ry="45" fill="url(#g57)"/><ellipse cx="641.6" cy="477.9" rx="11.7" ry="25.5" transform="rotate(-20 641.6 477.9)" fill="url(#g57)"/><ellipse cx="627.9" cy="311.5" rx="55.8" ry="49.1" fill="url(#g58)"/><ellipse cx="624" cy="554.3" rx="51.3" ry="51.3" fill="url(#g59)"/><ellipse cx="617.1" cy="446.6" rx="11.7" ry="88.1" fill="url(#g48)"/><ellipse cx="665.1" cy="358.5" rx="9.8" ry="31.3" fill="url(#g60)"/><ellipse cx="649.4" cy="438.8" rx="9.8" ry="50.9" transform="rotate(8 649.4 438.8)" fill="url(#g61)"/></g><g filter="url(#wf)" opacity="0.7"><rect x="593.9" y="293.6" width="90.1" height="274.8" fill="url(#m2)"/></g></g><path d="M636.7 309.6C637.7 309.9 637.2 312.2 639.6 314.5C642.0 316.8 647.8 319.9 651.4 323.3C655.0 326.7 658.4 330.5 661.2 335.1C664.0 339.7 667.0 344.8 668.0 350.7C669.0 356.6 667.8 364.1 667.0 370.3C666.2 376.5 664.4 382.3 663.1 387.9C661.8 393.4 660.5 398.4 659.2 403.6C657.9 408.8 656.4 413.4 655.3 419.3C654.2 425.2 653.2 432.3 652.4 438.8C651.6 445.3 650.6 451.9 650.4 458.4C650.2 464.9 651.2 471.5 651.0 478.0C650.8 484.5 650.0 491.7 649.4 497.6C648.8 503.5 648.5 507.7 647.5 513.2C646.5 518.7 645.3 525.2 643.5 530.8C641.7 536.3 639.3 543.1 636.7 546.5C634.1 549.9 630.4 550.4 627.9 551.4C625.4 552.4 624.0 553.2 622.0 552.4C620.0 551.6 617.7 549.8 616.1 546.5C614.5 543.2 613.0 537.7 612.2 532.8C611.4 527.9 611.0 522.6 611.2 517.1C611.4 511.6 612.6 505.4 613.2 499.5C613.8 493.6 614.4 488.1 614.6 481.9C614.8 475.7 614.1 468.8 614.2 462.3C614.3 455.8 614.9 449.2 615.2 442.7C615.5 436.2 616.0 429.7 616.1 423.2C616.2 416.7 616.2 410.1 616.1 403.6C616.0 397.1 615.9 390.5 615.2 384.0C614.6 377.5 613.1 371.2 612.2 364.4C611.3 357.5 609.7 349.1 609.9 342.9C610.1 336.7 611.8 331.4 613.2 327.2C614.6 323.0 616.0 319.9 618.1 317.5C620.2 315.1 623.3 313.9 625.9 313.1C628.5 312.3 632.0 313.2 633.8 312.6C635.6 312.0 635.7 309.3 636.7 309.6Z" fill="none" stroke="#0a1430" stroke-width="0.8" stroke-opacity="0.7"/>
<line x1="1128.9" y1="317.9" x2="1128.9" y2="567.5" stroke="#7d7d7d" stroke-width="2.2"/>
<line x1="1134.8" y1="310.5" x2="1197.1" y2="310.5" stroke="#8c8c8c" stroke-width="1.1"/>
<line x1="1134.8" y1="316" x2="1197.1" y2="316" stroke="#8c8c8c" stroke-width="1.1"/>
<line x1="1134.8" y1="320.9" x2="1197.1" y2="320.9" stroke="#8c8c8c" stroke-width="1.1"/>
<line x1="1147.5" y1="309.1" x2="1146.7" y2="320.9" stroke="#8c8c8c" stroke-width="1"/>
<line x1="1161.2" y1="309.1" x2="1160.4" y2="320.9" stroke="#8c8c8c" stroke-width="1"/>
<line x1="1174.9" y1="309.1" x2="1174.1" y2="320.9" stroke="#8c8c8c" stroke-width="1"/>
<line x1="1189.6" y1="309.1" x2="1188.8" y2="320.9" stroke="#8c8c8c" stroke-width="1"/>
<line x1="1137.7" y1="330.7" x2="1194.5" y2="330.7" stroke="#8c8c8c" stroke-width="1.2"/>
<line x1="1137.7" y1="387.4" x2="1194.5" y2="387.4" stroke="#8c8c8c" stroke-width="1.2"/>
<line x1="1137.7" y1="443.2" x2="1194.5" y2="443.2" stroke="#8c8c8c" stroke-width="1.2"/>
<line x1="1137.7" y1="500" x2="1194.5" y2="500" stroke="#8c8c8c" stroke-width="1.2"/>
<line x1="1137.7" y1="556.2" x2="1194.5" y2="556.2" stroke="#8c8c8c" stroke-width="1.2"/>
<line x1="1174" y1="330.7" x2="1174" y2="565.6" stroke="#8c8c8c" stroke-width="1.2"/>
<line x1="1188.6" y1="330.7" x2="1188.6" y2="565.6" stroke="#8c8c8c" stroke-width="1.2"/>
<g clip-path="url(#c62)"><rect x="1130.4" y="316.8" width="70.1" height="254.8" fill="#1e27ec"/><g filter="url(#bl)"><ellipse cx="1166.1" cy="387.9" rx="25.5" ry="39.2" transform="rotate(-20 1166.1 387.9)" fill="url(#g63)"/><ellipse cx="1158.3" cy="544.5" rx="31.3" ry="33.3" fill="url(#g64)"/><ellipse cx="1158.3" cy="485.8" rx="15.7" ry="23.5" transform="rotate(-10 1158.3 485.8)" fill="url(#g65)"/><ellipse cx="1189.6" cy="364.4" rx="13.7" ry="23.5" fill="url(#g66)"/><ellipse cx="1144.6" cy="348.7" rx="15.7" ry="48.9" transform="rotate(-10 1144.6 348.7)" fill="url(#g67)"/><ellipse cx="1153.4" cy="446.6" rx="15.6" ry="51.3" transform="rotate(-5 1153.4 446.6)" fill="url(#g68)"/><ellipse cx="1148.9" cy="415.3" rx="12.3" ry="53.6" transform="rotate(-6 1148.9 415.3)" fill="url(#g69)"/><ellipse cx="1141.6" cy="462.3" rx="10.8" ry="82.2" fill="url(#g48)"/><ellipse cx="1179.8" cy="427" rx="11.7" ry="50.9" transform="rotate(12 1179.8 427)" fill="url(#g49)"/></g><g filter="url(#wf)" opacity="0.7"><rect x="1120.4" y="306.8" width="90.1" height="274.8" fill="url(#m2)"/></g></g><path d="M1163.2 322.8C1164.2 323.1 1163.6 325.4 1166.1 327.7C1168.5 330.0 1174.3 333.1 1177.9 336.5C1181.5 339.9 1184.9 343.7 1187.7 348.3C1190.5 352.9 1193.5 358.0 1194.5 363.9C1195.5 369.8 1194.3 377.3 1193.5 383.5C1192.7 389.7 1190.9 395.6 1189.6 401.1C1188.3 406.7 1187.0 411.6 1185.7 416.8C1184.4 422.0 1182.9 426.6 1181.8 432.5C1180.7 438.4 1179.7 445.5 1178.9 452.0C1178.1 458.5 1177.1 465.1 1176.9 471.6C1176.7 478.1 1177.7 484.7 1177.5 491.2C1177.3 497.7 1176.5 504.9 1175.9 510.8C1175.3 516.7 1175.0 520.9 1174.0 526.4C1173.0 531.9 1171.8 538.5 1170.0 544.0C1168.2 549.5 1165.8 556.3 1163.2 559.7C1160.6 563.1 1156.9 563.6 1154.4 564.6C1152.0 565.6 1150.5 566.4 1148.5 565.6C1146.5 564.8 1144.2 563.0 1142.6 559.7C1141.0 556.4 1139.5 550.9 1138.7 546.0C1137.9 541.1 1137.5 535.8 1137.7 530.3C1137.9 524.8 1139.1 518.6 1139.7 512.7C1140.3 506.8 1140.9 501.3 1141.1 495.1C1141.3 488.9 1140.6 482.0 1140.7 475.5C1140.8 469.0 1141.4 462.4 1141.7 455.9C1142.0 449.4 1142.4 442.9 1142.6 436.4C1142.8 429.9 1142.8 423.3 1142.6 416.8C1142.4 410.3 1142.3 403.7 1141.7 397.2C1141.1 390.7 1139.6 384.5 1138.7 377.6C1137.8 370.8 1136.2 362.3 1136.4 356.1C1136.6 349.9 1138.3 344.6 1139.7 340.4C1141.1 336.2 1142.5 333.0 1144.6 330.7C1146.7 328.4 1149.8 327.1 1152.4 326.3C1155.0 325.5 1158.5 326.4 1160.3 325.8C1162.1 325.2 1162.2 322.5 1163.2 322.8Z" fill="none" stroke="#0a1430" stroke-width="0.8" stroke-opacity="0.7"/>
<text x="239.5" y="37.98" font-size="13" text-anchor="end" class="ls" fill="#1a1a1a" stroke="#1a1a1a" stroke-width="0.22">4</text>
<text x="239.5" y="98.68" font-size="13" text-anchor="end" class="ls" fill="#1a1a1a" stroke="#1a1a1a" stroke-width="0.22">2</text>
<text x="239.5" y="158.68" font-size="13" text-anchor="end" class="ls" fill="#1a1a1a" stroke="#1a1a1a" stroke-width="0.22">0</text>
<text x="239.5" y="219.48" font-size="13" text-anchor="end" class="ls" fill="#1a1a1a" stroke="#1a1a1a" stroke-width="0.22">2</text>
<line x1="218.22" y1="215.3" x2="229.22" y2="215.3" stroke="#111" stroke-width="1.3"/>
<text x="239.5" y="279.18" font-size="13" text-anchor="end" class="ls" fill="#1a1a1a" stroke="#1a1a1a" stroke-width="0.22">4</text>
<line x1="218.22" y1="275" x2="229.22" y2="275" stroke="#111" stroke-width="1.3"/>
<text x="246" y="294.68" font-size="13" text-anchor="end" class="ls" fill="#1a1a1a" stroke="#1a1a1a" stroke-width="0.22">0</text>
<text x="207.8" y="158" font-size="12.5" text-anchor="middle" class="ls" fill="#1a1a1a" stroke="#1a1a1a" stroke-width="0.22">mm</text>
<text x="176" y="259" font-size="10.5" text-anchor="middle" class="ls" fill="#222" stroke="#222" stroke-width="0.22">x</text>
<line x1="176" y1="278" x2="176" y2="265" stroke="#e8407a" stroke-width="1.2"/>
<path d="M176 262 l-2 4h4z" fill="#e8407a"/>
<text x="177" y="282.5" font-size="10.5" text-anchor="middle" class="ls" fill="#2a6fd6" stroke="#2a6fd6" stroke-width="0.22">z</text>
<text x="587.5" y="40.08" font-size="13" text-anchor="end" class="ls" fill="#1a1a1a" stroke="#1a1a1a" stroke-width="0.22">4</text>
<text x="587.5" y="104.38" font-size="13" text-anchor="end" class="ls" fill="#1a1a1a" stroke="#1a1a1a" stroke-width="0.22">2</text>
<text x="587.5" y="167.38" font-size="13" text-anchor="end" class="ls" fill="#1a1a1a" stroke="#1a1a1a" stroke-width="0.22">0</text>
<text x="587.5" y="230.08" font-size="13" text-anchor="end" class="ls" fill="#1a1a1a" stroke="#1a1a1a" stroke-width="0.22">2</text>
<line x1="567.72" y1="225.9" x2="578.72" y2="225.9" stroke="#111" stroke-width="1.3"/>
<text x="587.5" y="293.68" font-size="13" text-anchor="end" class="ls" fill="#1a1a1a" stroke="#1a1a1a" stroke-width="0.22">4</text>
<line x1="567.72" y1="289.5" x2="578.72" y2="289.5" stroke="#111" stroke-width="1.3"/>
<text x="550.6" y="167" font-size="12.5" text-anchor="middle" class="ls" fill="#1a1a1a" stroke="#1a1a1a" stroke-width="0.22">mm</text>
<text x="689" y="262" font-size="10.5" text-anchor="middle" class="ls" fill="#222" stroke="#222" stroke-width="0.22">x</text>
<line x1="689" y1="281" x2="689" y2="268" stroke="#e8407a" stroke-width="1.2"/>
<path d="M689 265 l-2 4h4z" fill="#e8407a"/>
<line x1="672" y1="282.5" x2="686" y2="282.5" stroke="#3cb371" stroke-width="1.4"/>
<text x="690" y="285.5" font-size="10.5" text-anchor="middle" class="ls" fill="#2a6fd6" stroke="#2a6fd6" stroke-width="0.22">z</text>
<text x="753.5" y="36.78" font-size="13" text-anchor="end" class="ls" fill="#1a1a1a" stroke="#1a1a1a" stroke-width="0.22">4</text>
<text x="753.5" y="97.88" font-size="13" text-anchor="end" class="ls" fill="#1a1a1a" stroke="#1a1a1a" stroke-width="0.22">2</text>
<text x="753.5" y="157.98" font-size="13" text-anchor="end" class="ls" fill="#1a1a1a" stroke="#1a1a1a" stroke-width="0.22">0</text>
<text x="753.5" y="219.28" font-size="13" text-anchor="end" class="ls" fill="#1a1a1a" stroke="#1a1a1a" stroke-width="0.22">2</text>
<line x1="732.22" y1="215.1" x2="743.22" y2="215.1" stroke="#111" stroke-width="1.3"/>
<text x="753.5" y="279.38" font-size="13" text-anchor="end" class="ls" fill="#1a1a1a" stroke="#1a1a1a" stroke-width="0.22">4</text>
<line x1="732.22" y1="275.2" x2="743.22" y2="275.2" stroke="#111" stroke-width="1.3"/>
<text x="760" y="294.68" font-size="13" text-anchor="end" class="ls" fill="#1a1a1a" stroke="#1a1a1a" stroke-width="0.22">0</text>
<text x="718" y="158.5" font-size="12.5" text-anchor="middle" class="ls" fill="#1a1a1a" stroke="#1a1a1a" stroke-width="0.22">mm</text>
<text x="1111" y="34.28" font-size="13" text-anchor="end" class="ls" fill="#1a1a1a" stroke="#1a1a1a" stroke-width="0.22">4</text>
<text x="1111" y="99.68" font-size="13" text-anchor="end" class="ls" fill="#1a1a1a" stroke="#1a1a1a" stroke-width="0.22">2</text>
<text x="1111" y="163.68" font-size="13" text-anchor="end" class="ls" fill="#1a1a1a" stroke="#1a1a1a" stroke-width="0.22">0</text>
<text x="1111" y="227.28" font-size="13" text-anchor="end" class="ls" fill="#1a1a1a" stroke="#1a1a1a" stroke-width="0.22">2</text>
<line x1="1091.22" y1="223.1" x2="1102.22" y2="223.1" stroke="#111" stroke-width="1.3"/>
<text x="1111" y="291.68" font-size="13" text-anchor="end" class="ls" fill="#1a1a1a" stroke="#1a1a1a" stroke-width="0.22">4</text>
<line x1="1091.22" y1="287.5" x2="1102.22" y2="287.5" stroke="#111" stroke-width="1.3"/>
<text x="1119" y="304.68" font-size="13" text-anchor="end" class="ls" fill="#1a1a1a" stroke="#1a1a1a" stroke-width="0.22">0</text>
<text x="1073" y="163" font-size="12.5" text-anchor="middle" class="ls" fill="#1a1a1a" stroke="#1a1a1a" stroke-width="0.22">mm</text>
<text x="238.5" y="314.28" font-size="13" text-anchor="end" class="ls" fill="#1a1a1a" stroke="#1a1a1a" stroke-width="0.22">4</text>
<text x="238.5" y="375.68" font-size="13" text-anchor="end" class="ls" fill="#1a1a1a" stroke="#1a1a1a" stroke-width="0.22">2</text>
<text x="238.5" y="435.18" font-size="13" text-anchor="end" class="ls" fill="#1a1a1a" stroke="#1a1a1a" stroke-width="0.22">0</text>
<text x="238.5" y="496.18" font-size="13" text-anchor="end" class="ls" fill="#1a1a1a" stroke="#1a1a1a" stroke-width="0.22">2</text>
<line x1="210.22" y1="492" x2="221.22" y2="492" stroke="#111" stroke-width="1.3"/>
<text x="238.5" y="556.18" font-size="13" text-anchor="end" class="ls" fill="#1a1a1a" stroke="#1a1a1a" stroke-width="0.22">4</text>
<line x1="210.22" y1="552" x2="221.22" y2="552" stroke="#111" stroke-width="1.3"/>
<text x="244.5" y="571.18" font-size="13" text-anchor="end" class="ls" fill="#1a1a1a" stroke="#1a1a1a" stroke-width="0.22">0</text>
<text x="206.5" y="434" font-size="12.5" text-anchor="middle" class="ls" fill="#1a1a1a" stroke="#1a1a1a" stroke-width="0.22">mm</text>
<text x="174.5" y="535.5" font-size="10.5" text-anchor="middle" class="ls" fill="#222" stroke="#222" stroke-width="0.22">x</text>
<line x1="174.5" y1="554.5" x2="174.5" y2="541.5" stroke="#e8407a" stroke-width="1.2"/>
<path d="M174.5 538.5 l-2 4h4z" fill="#e8407a"/>
<line x1="157.5" y1="556" x2="171.5" y2="556" stroke="#3cb371" stroke-width="1.4"/>
<text x="175.5" y="559" font-size="10.5" text-anchor="middle" class="ls" fill="#2a6fd6" stroke="#2a6fd6" stroke-width="0.22">z</text>
<text x="151.5" y="558.5" font-size="10.5" text-anchor="middle" class="ls" fill="#222" stroke="#222" stroke-width="0.22">y</text>
<text x="587.5" y="308.38" font-size="13" text-anchor="end" class="ls" fill="#1a1a1a" stroke="#1a1a1a" stroke-width="0.22">4</text>
<text x="587.5" y="372.58" font-size="13" text-anchor="end" class="ls" fill="#1a1a1a" stroke="#1a1a1a" stroke-width="0.22">2</text>
<text x="587.5" y="435.28" font-size="13" text-anchor="end" class="ls" fill="#1a1a1a" stroke="#1a1a1a" stroke-width="0.22">0</text>
<text x="587.5" y="497.28" font-size="13" text-anchor="end" class="ls" fill="#1a1a1a" stroke="#1a1a1a" stroke-width="0.22">2</text>
<line x1="560.22" y1="493.1" x2="571.22" y2="493.1" stroke="#111" stroke-width="1.3"/>
<text x="587.5" y="558.98" font-size="13" text-anchor="end" class="ls" fill="#1a1a1a" stroke="#1a1a1a" stroke-width="0.22">4</text>
<line x1="560.22" y1="554.8" x2="571.22" y2="554.8" stroke="#111" stroke-width="1.3"/>
<text x="594.5" y="572.68" font-size="13" text-anchor="end" class="ls" fill="#1a1a1a" stroke="#1a1a1a" stroke-width="0.22">0</text>
<text x="550.6" y="435" font-size="12.5" text-anchor="middle" class="ls" fill="#1a1a1a" stroke="#1a1a1a" stroke-width="0.22">mm</text>
<text x="689" y="538" font-size="10.5" text-anchor="middle" class="ls" fill="#222" stroke="#222" stroke-width="0.22">x</text>
<line x1="689" y1="557" x2="689" y2="544" stroke="#e8407a" stroke-width="1.2"/>
<path d="M689 541 l-2 4h4z" fill="#e8407a"/>
<line x1="672" y1="558.5" x2="686" y2="558.5" stroke="#3cb371" stroke-width="1.4"/>
<text x="690" y="561.5" font-size="10.5" text-anchor="middle" class="ls" fill="#2a6fd6" stroke="#2a6fd6" stroke-width="0.22">z</text>
<text x="753.5" y="314.28" font-size="13" text-anchor="end" class="ls" fill="#1a1a1a" stroke="#1a1a1a" stroke-width="0.22">4</text>
<text x="753.5" y="374.98" font-size="13" text-anchor="end" class="ls" fill="#1a1a1a" stroke="#1a1a1a" stroke-width="0.22">2</text>
<text x="753.5" y="434.68" font-size="13" text-anchor="end" class="ls" fill="#1a1a1a" stroke="#1a1a1a" stroke-width="0.22">0</text>
<text x="753.5" y="495.38" font-size="13" text-anchor="end" class="ls" fill="#1a1a1a" stroke="#1a1a1a" stroke-width="0.22">2</text>
<line x1="726.22" y1="491.2" x2="737.22" y2="491.2" stroke="#111" stroke-width="1.3"/>
<text x="753.5" y="555.08" font-size="13" text-anchor="end" class="ls" fill="#1a1a1a" stroke="#1a1a1a" stroke-width="0.22">4</text>
<line x1="726.22" y1="550.9" x2="737.22" y2="550.9" stroke="#111" stroke-width="1.3"/>
<text x="760" y="571.08" font-size="13" text-anchor="end" class="ls" fill="#1a1a1a" stroke="#1a1a1a" stroke-width="0.22">0</text>
<text x="718" y="434.5" font-size="12.5" text-anchor="middle" class="ls" fill="#1a1a1a" stroke="#1a1a1a" stroke-width="0.22">mm</text>
<text x="1113.5" y="320.18" font-size="13" text-anchor="end" class="ls" fill="#1a1a1a" stroke="#1a1a1a" stroke-width="0.22">4</text>
<text x="1113.5" y="384.68" font-size="13" text-anchor="end" class="ls" fill="#1a1a1a" stroke="#1a1a1a" stroke-width="0.22">2</text>
<text x="1113.5" y="448.38" font-size="13" text-anchor="end" class="ls" fill="#1a1a1a" stroke="#1a1a1a" stroke-width="0.22">0</text>
<text x="1113.5" y="511.58" font-size="13" text-anchor="end" class="ls" fill="#1a1a1a" stroke="#1a1a1a" stroke-width="0.22">2</text>
<line x1="1087.22" y1="507.4" x2="1098.22" y2="507.4" stroke="#111" stroke-width="1.3"/>
<text x="1113.5" y="574.98" font-size="13" text-anchor="end" class="ls" fill="#1a1a1a" stroke="#1a1a1a" stroke-width="0.22">4</text>
<line x1="1087.22" y1="570.8" x2="1098.22" y2="570.8" stroke="#111" stroke-width="1.3"/>
<text x="1121" y="587.68" font-size="13" text-anchor="end" class="ls" fill="#1a1a1a" stroke="#1a1a1a" stroke-width="0.22">0</text>
<text x="1076" y="448.5" font-size="12.5" text-anchor="middle" class="ls" fill="#1a1a1a" stroke="#1a1a1a" stroke-width="0.22">mm</text>
<rect x="480.7" y="74.4" width="16.6" height="198.6" fill="url(#jet)" stroke="#1a1a40" stroke-opacity="0.45" stroke-width="0.8"/>
<text x="505.9" y="82.1" font-size="12.5" text-anchor="start" class="ls" fill="#222" stroke="#222" stroke-width="0.22">10</text>
<line x1="494.8" y1="77.6" x2="497.3" y2="77.6" stroke="#111" stroke-width="0.8" stroke-opacity="0.6"/>
<line x1="480.7" y1="77.6" x2="483.2" y2="77.6" stroke="#111" stroke-width="0.8" stroke-opacity="0.6"/>
<text x="505.9" y="101.722" font-size="12.5" text-anchor="start" class="ls" fill="#222" stroke="#222" stroke-width="0.22">9</text>
<line x1="494.8" y1="97.2222" x2="497.3" y2="97.2222" stroke="#111" stroke-width="0.8" stroke-opacity="0.6"/>
<line x1="480.7" y1="97.2222" x2="483.2" y2="97.2222" stroke="#111" stroke-width="0.8" stroke-opacity="0.6"/>
<text x="505.9" y="121.344" font-size="12.5" text-anchor="start" class="ls" fill="#222" stroke="#222" stroke-width="0.22">8</text>
<line x1="494.8" y1="116.844" x2="497.3" y2="116.844" stroke="#111" stroke-width="0.8" stroke-opacity="0.6"/>
<line x1="480.7" y1="116.844" x2="483.2" y2="116.844" stroke="#111" stroke-width="0.8" stroke-opacity="0.6"/>
<text x="505.9" y="140.967" font-size="12.5" text-anchor="start" class="ls" fill="#222" stroke="#222" stroke-width="0.22">7</text>
<line x1="494.8" y1="136.467" x2="497.3" y2="136.467" stroke="#111" stroke-width="0.8" stroke-opacity="0.6"/>
<line x1="480.7" y1="136.467" x2="483.2" y2="136.467" stroke="#111" stroke-width="0.8" stroke-opacity="0.6"/>
<text x="505.9" y="160.589" font-size="12.5" text-anchor="start" class="ls" fill="#222" stroke="#222" stroke-width="0.22">6</text>
<line x1="494.8" y1="156.089" x2="497.3" y2="156.089" stroke="#111" stroke-width="0.8" stroke-opacity="0.6"/>
<line x1="480.7" y1="156.089" x2="483.2" y2="156.089" stroke="#111" stroke-width="0.8" stroke-opacity="0.6"/>
<text x="505.9" y="180.211" font-size="12.5" text-anchor="start" class="ls" fill="#222" stroke="#222" stroke-width="0.22">5</text>
<line x1="494.8" y1="175.711" x2="497.3" y2="175.711" stroke="#111" stroke-width="0.8" stroke-opacity="0.6"/>
<line x1="480.7" y1="175.711" x2="483.2" y2="175.711" stroke="#111" stroke-width="0.8" stroke-opacity="0.6"/>
<text x="505.9" y="199.833" font-size="12.5" text-anchor="start" class="ls" fill="#222" stroke="#222" stroke-width="0.22">4</text>
<line x1="494.8" y1="195.333" x2="497.3" y2="195.333" stroke="#111" stroke-width="0.8" stroke-opacity="0.6"/>
<line x1="480.7" y1="195.333" x2="483.2" y2="195.333" stroke="#111" stroke-width="0.8" stroke-opacity="0.6"/>
<text x="505.9" y="219.456" font-size="12.5" text-anchor="start" class="ls" fill="#222" stroke="#222" stroke-width="0.22">3</text>
<line x1="494.8" y1="214.956" x2="497.3" y2="214.956" stroke="#111" stroke-width="0.8" stroke-opacity="0.6"/>
<line x1="480.7" y1="214.956" x2="483.2" y2="214.956" stroke="#111" stroke-width="0.8" stroke-opacity="0.6"/>
<text x="505.9" y="239.078" font-size="12.5" text-anchor="start" class="ls" fill="#222" stroke="#222" stroke-width="0.22">2</text>
<line x1="494.8" y1="234.578" x2="497.3" y2="234.578" stroke="#111" stroke-width="0.8" stroke-opacity="0.6"/>
<line x1="480.7" y1="234.578" x2="483.2" y2="234.578" stroke="#111" stroke-width="0.8" stroke-opacity="0.6"/>
<text x="505.9" y="258.7" font-size="12.5" text-anchor="start" class="ls" fill="#222" stroke="#222" stroke-width="0.22">1</text>
<line x1="494.8" y1="254.2" x2="497.3" y2="254.2" stroke="#111" stroke-width="0.8" stroke-opacity="0.6"/>
<line x1="480.7" y1="254.2" x2="483.2" y2="254.2" stroke="#111" stroke-width="0.8" stroke-opacity="0.6"/>
<text x="499" y="64.5" font-size="12" class="ls" fill="#222">×10<tspan dy="-5.04" font-size="8.16">-6</tspan></text>
<rect x="995.6" y="73.6" width="16.6" height="199.7" fill="url(#jet)" stroke="#1a1a40" stroke-opacity="0.45" stroke-width="0.8"/>
<text x="1021.2" y="88.9" font-size="12.5" text-anchor="start" class="ls" fill="#222" stroke="#222" stroke-width="0.22">10</text>
<line x1="1009.7" y1="84.4" x2="1012.2" y2="84.4" stroke="#111" stroke-width="0.8" stroke-opacity="0.6"/>
<line x1="995.6" y1="84.4" x2="998.1" y2="84.4" stroke="#111" stroke-width="0.8" stroke-opacity="0.6"/>
<text x="1021.2" y="107.822" font-size="12.5" text-anchor="start" class="ls" fill="#222" stroke="#222" stroke-width="0.22">9</text>
<line x1="1009.7" y1="103.322" x2="1012.2" y2="103.322" stroke="#111" stroke-width="0.8" stroke-opacity="0.6"/>
<line x1="995.6" y1="103.322" x2="998.1" y2="103.322" stroke="#111" stroke-width="0.8" stroke-opacity="0.6"/>
<text x="1021.2" y="126.744" font-size="12.5" text-anchor="start" class="ls" fill="#222" stroke="#222" stroke-width="0.22">8</text>
<line x1="1009.7" y1="122.244" x2="1012.2" y2="122.244" stroke="#111" stroke-width="0.8" stroke-opacity="0.6"/>
<line x1="995.6" y1="122.244" x2="998.1" y2="122.244" stroke="#111" stroke-width="0.8" stroke-opacity="0.6"/>
<text x="1021.2" y="145.667" font-size="12.5" text-anchor="start" class="ls" fill="#222" stroke="#222" stroke-width="0.22">7</text>
<line x1="1009.7" y1="141.167" x2="1012.2" y2="141.167" stroke="#111" stroke-width="0.8" stroke-opacity="0.6"/>
<line x1="995.6" y1="141.167" x2="998.1" y2="141.167" stroke="#111" stroke-width="0.8" stroke-opacity="0.6"/>
<text x="1021.2" y="164.589" font-size="12.5" text-anchor="start" class="ls" fill="#222" stroke="#222" stroke-width="0.22">6</text>
<line x1="1009.7" y1="160.089" x2="1012.2" y2="160.089" stroke="#111" stroke-width="0.8" stroke-opacity="0.6"/>
<line x1="995.6" y1="160.089" x2="998.1" y2="160.089" stroke="#111" stroke-width="0.8" stroke-opacity="0.6"/>
<text x="1021.2" y="183.511" font-size="12.5" text-anchor="start" class="ls" fill="#222" stroke="#222" stroke-width="0.22">5</text>
<line x1="1009.7" y1="179.011" x2="1012.2" y2="179.011" stroke="#111" stroke-width="0.8" stroke-opacity="0.6"/>
<line x1="995.6" y1="179.011" x2="998.1" y2="179.011" stroke="#111" stroke-width="0.8" stroke-opacity="0.6"/>
<text x="1021.2" y="202.433" font-size="12.5" text-anchor="start" class="ls" fill="#222" stroke="#222" stroke-width="0.22">4</text>
<line x1="1009.7" y1="197.933" x2="1012.2" y2="197.933" stroke="#111" stroke-width="0.8" stroke-opacity="0.6"/>
<line x1="995.6" y1="197.933" x2="998.1" y2="197.933" stroke="#111" stroke-width="0.8" stroke-opacity="0.6"/>
<text x="1021.2" y="221.356" font-size="12.5" text-anchor="start" class="ls" fill="#222" stroke="#222" stroke-width="0.22">3</text>
<line x1="1009.7" y1="216.856" x2="1012.2" y2="216.856" stroke="#111" stroke-width="0.8" stroke-opacity="0.6"/>
<line x1="995.6" y1="216.856" x2="998.1" y2="216.856" stroke="#111" stroke-width="0.8" stroke-opacity="0.6"/>
<text x="1021.2" y="240.278" font-size="12.5" text-anchor="start" class="ls" fill="#222" stroke="#222" stroke-width="0.22">2</text>
<line x1="1009.7" y1="235.778" x2="1012.2" y2="235.778" stroke="#111" stroke-width="0.8" stroke-opacity="0.6"/>
<line x1="995.6" y1="235.778" x2="998.1" y2="235.778" stroke="#111" stroke-width="0.8" stroke-opacity="0.6"/>
<text x="1021.2" y="259.2" font-size="12.5" text-anchor="start" class="ls" fill="#222" stroke="#222" stroke-width="0.22">1</text>
<line x1="1009.7" y1="254.7" x2="1012.2" y2="254.7" stroke="#111" stroke-width="0.8" stroke-opacity="0.6"/>
<line x1="995.6" y1="254.7" x2="998.1" y2="254.7" stroke="#111" stroke-width="0.8" stroke-opacity="0.6"/>
<text x="1014.4" y="63" font-size="12" class="ls" fill="#222">×10<tspan dy="-5.04" font-size="8.16">-6</tspan></text>
<rect x="995.6" y="350.7" width="16.6" height="199.3" fill="url(#jet)" stroke="#1a1a40" stroke-opacity="0.45" stroke-width="0.8"/>
<text x="1021.2" y="360.1" font-size="12.5" text-anchor="start" class="ls" fill="#222" stroke="#222" stroke-width="0.22">10</text>
<line x1="1009.7" y1="355.6" x2="1012.2" y2="355.6" stroke="#111" stroke-width="0.8" stroke-opacity="0.6"/>
<line x1="995.6" y1="355.6" x2="998.1" y2="355.6" stroke="#111" stroke-width="0.8" stroke-opacity="0.6"/>
<text x="1021.2" y="379.611" font-size="12.5" text-anchor="start" class="ls" fill="#222" stroke="#222" stroke-width="0.22">9</text>
<line x1="1009.7" y1="375.111" x2="1012.2" y2="375.111" stroke="#111" stroke-width="0.8" stroke-opacity="0.6"/>
<line x1="995.6" y1="375.111" x2="998.1" y2="375.111" stroke="#111" stroke-width="0.8" stroke-opacity="0.6"/>
<text x="1021.2" y="399.122" font-size="12.5" text-anchor="start" class="ls" fill="#222" stroke="#222" stroke-width="0.22">8</text>
<line x1="1009.7" y1="394.622" x2="1012.2" y2="394.622" stroke="#111" stroke-width="0.8" stroke-opacity="0.6"/>
<line x1="995.6" y1="394.622" x2="998.1" y2="394.622" stroke="#111" stroke-width="0.8" stroke-opacity="0.6"/>
<text x="1021.2" y="418.633" font-size="12.5" text-anchor="start" class="ls" fill="#222" stroke="#222" stroke-width="0.22">7</text>
<line x1="1009.7" y1="414.133" x2="1012.2" y2="414.133" stroke="#111" stroke-width="0.8" stroke-opacity="0.6"/>
<line x1="995.6" y1="414.133" x2="998.1" y2="414.133" stroke="#111" stroke-width="0.8" stroke-opacity="0.6"/>
<text x="1021.2" y="438.144" font-size="12.5" text-anchor="start" class="ls" fill="#222" stroke="#222" stroke-width="0.22">6</text>
<line x1="1009.7" y1="433.644" x2="1012.2" y2="433.644" stroke="#111" stroke-width="0.8" stroke-opacity="0.6"/>
<line x1="995.6" y1="433.644" x2="998.1" y2="433.644" stroke="#111" stroke-width="0.8" stroke-opacity="0.6"/>
<text x="1021.2" y="457.656" font-size="12.5" text-anchor="start" class="ls" fill="#222" stroke="#222" stroke-width="0.22">5</text>
<line x1="1009.7" y1="453.156" x2="1012.2" y2="453.156" stroke="#111" stroke-width="0.8" stroke-opacity="0.6"/>
<line x1="995.6" y1="453.156" x2="998.1" y2="453.156" stroke="#111" stroke-width="0.8" stroke-opacity="0.6"/>
<text x="1021.2" y="477.167" font-size="12.5" text-anchor="start" class="ls" fill="#222" stroke="#222" stroke-width="0.22">4</text>
<line x1="1009.7" y1="472.667" x2="1012.2" y2="472.667" stroke="#111" stroke-width="0.8" stroke-opacity="0.6"/>
<line x1="995.6" y1="472.667" x2="998.1" y2="472.667" stroke="#111" stroke-width="0.8" stroke-opacity="0.6"/>
<text x="1021.2" y="496.678" font-size="12.5" text-anchor="start" class="ls" fill="#222" stroke="#222" stroke-width="0.22">3</text>
<line x1="1009.7" y1="492.178" x2="1012.2" y2="492.178" stroke="#111" stroke-width="0.8" stroke-opacity="0.6"/>
<line x1="995.6" y1="492.178" x2="998.1" y2="492.178" stroke="#111" stroke-width="0.8" stroke-opacity="0.6"/>
<text x="1021.2" y="516.189" font-size="12.5" text-anchor="start" class="ls" fill="#222" stroke="#222" stroke-width="0.22">2</text>
<line x1="1009.7" y1="511.689" x2="1012.2" y2="511.689" stroke="#111" stroke-width="0.8" stroke-opacity="0.6"/>
<line x1="995.6" y1="511.689" x2="998.1" y2="511.689" stroke="#111" stroke-width="0.8" stroke-opacity="0.6"/>
<text x="1021.2" y="535.7" font-size="12.5" text-anchor="start" class="ls" fill="#222" stroke="#222" stroke-width="0.22">1</text>
<line x1="1009.7" y1="531.2" x2="1012.2" y2="531.2" stroke="#111" stroke-width="0.8" stroke-opacity="0.6"/>
<line x1="995.6" y1="531.2" x2="998.1" y2="531.2" stroke="#111" stroke-width="0.8" stroke-opacity="0.6"/>
<text x="1014.4" y="341" font-size="12" class="ls" fill="#222">×10<tspan dy="-5.04" font-size="8.16">-6</tspan></text>
<rect x="480.7" y="350.5" width="16.6" height="198.5" fill="url(#jet)" stroke="#1a1a40" stroke-opacity="0.45" stroke-width="0.8"/>
<text x="505.9" y="362" font-size="12.5" text-anchor="start" class="ls" fill="#222" stroke="#222" stroke-width="0.22">12</text>
<line x1="494.8" y1="357.5" x2="497.3" y2="357.5" stroke="#111" stroke-width="0.8" stroke-opacity="0.6"/>
<line x1="480.7" y1="357.5" x2="483.2" y2="357.5" stroke="#111" stroke-width="0.8" stroke-opacity="0.6"/>
<text x="505.9" y="394.7" font-size="12.5" text-anchor="start" class="ls" fill="#222" stroke="#222" stroke-width="0.22">10</text>
<line x1="494.8" y1="390.2" x2="497.3" y2="390.2" stroke="#111" stroke-width="0.8" stroke-opacity="0.6"/>
<line x1="480.7" y1="390.2" x2="483.2" y2="390.2" stroke="#111" stroke-width="0.8" stroke-opacity="0.6"/>
<text x="505.9" y="427.4" font-size="12.5" text-anchor="start" class="ls" fill="#222" stroke="#222" stroke-width="0.22">8</text>
<line x1="494.8" y1="422.9" x2="497.3" y2="422.9" stroke="#111" stroke-width="0.8" stroke-opacity="0.6"/>
<line x1="480.7" y1="422.9" x2="483.2" y2="422.9" stroke="#111" stroke-width="0.8" stroke-opacity="0.6"/>
<text x="505.9" y="460.1" font-size="12.5" text-anchor="start" class="ls" fill="#222" stroke="#222" stroke-width="0.22">6</text>
<line x1="494.8" y1="455.6" x2="497.3" y2="455.6" stroke="#111" stroke-width="0.8" stroke-opacity="0.6"/>
<line x1="480.7" y1="455.6" x2="483.2" y2="455.6" stroke="#111" stroke-width="0.8" stroke-opacity="0.6"/>
<text x="505.9" y="492.8" font-size="12.5" text-anchor="start" class="ls" fill="#222" stroke="#222" stroke-width="0.22">4</text>
<line x1="494.8" y1="488.3" x2="497.3" y2="488.3" stroke="#111" stroke-width="0.8" stroke-opacity="0.6"/>
<line x1="480.7" y1="488.3" x2="483.2" y2="488.3" stroke="#111" stroke-width="0.8" stroke-opacity="0.6"/>
<text x="505.9" y="525.5" font-size="12.5" text-anchor="start" class="ls" fill="#222" stroke="#222" stroke-width="0.22">2</text>
<line x1="494.8" y1="521" x2="497.3" y2="521" stroke="#111" stroke-width="0.8" stroke-opacity="0.6"/>
<line x1="480.7" y1="521" x2="483.2" y2="521" stroke="#111" stroke-width="0.8" stroke-opacity="0.6"/>
<text x="499" y="338" font-size="12" class="ls" fill="#222">×10<tspan dy="-5.04" font-size="8.16">-6</tspan></text>
<text x="470" y="170.5" font-size="34" text-anchor="middle" class="dv" fill="#0a0a0a" stroke="#0a0a0a" stroke-width="0.5" transform="rotate(-90 470 170.5)">Mode 1</text>
<text x="960" y="170.5" font-size="34" text-anchor="middle" class="dv" fill="#0a0a0a" stroke="#0a0a0a" stroke-width="0.5" transform="rotate(-90 960 170.5)">Mode 2</text>
<text x="470" y="442.5" font-size="34" text-anchor="middle" class="dv" fill="#0a0a0a" stroke="#0a0a0a" stroke-width="0.5" transform="rotate(-90 470 442.5)">Mode 3</text>
<text x="960.5" y="446" font-size="34" text-anchor="middle" class="dv" fill="#0a0a0a" stroke="#0a0a0a" stroke-width="0.5" transform="rotate(-90 960.5 446)">Mode 4</text>
<rect x="487.4" y="1029.5" width="6" height="92" fill="#eeeeee"/>
<text x="113" y="880.3" font-size="37" text-anchor="start" class="ls" fill="#111" stroke="#111" stroke-width="0.22">b</text>
<line x1="173.8" y1="850.1" x2="278.7" y2="850.1" stroke="#5a5a5a" stroke-width="1.3"/>
<line x1="284.7" y1="858" x2="284.7" y2="1088.1" stroke="#6e6e6e" stroke-width="1.7"/>
<line x1="176.5" y1="859.1" x2="176.5" y2="1087.1" stroke="#8e8e8e" stroke-width="1.1"/>
<line x1="226.8" y1="859.1" x2="226.8" y2="1087.1" stroke="#8e8e8e" stroke-width="1.1"/>
<line x1="277.7" y1="859.1" x2="277.7" y2="1087.1" stroke="#8e8e8e" stroke-width="1.1"/>
<line x1="173.8" y1="908.9" x2="278.7" y2="908.9" stroke="#8e8e8e" stroke-width="1.2"/>
<line x1="173.8" y1="978.3" x2="278.7" y2="978.3" stroke="#8e8e8e" stroke-width="1.2"/>
<line x1="173.8" y1="1048.9" x2="278.7" y2="1048.9" stroke="#8e8e8e" stroke-width="1.2"/>
<g clip-path="url(#c70)"><rect x="166.7" y="852" width="118" height="242.1" fill="#1931f3"/><g filter="url(#bl)"><ellipse cx="268.1" cy="1048.9" rx="17" ry="12.7" fill="url(#g71)"/><ellipse cx="208.8" cy="929.1" rx="27.6" ry="23.3" fill="url(#g34)"/><ellipse cx="196" cy="1052.1" rx="59.4" ry="27.6" fill="url(#g72)"/><ellipse cx="246.9" cy="1052.1" rx="31.8" ry="42.4" fill="url(#g73)"/><ellipse cx="225.7" cy="975.7" rx="50.9" ry="84.8" transform="rotate(-5 225.7 975.7)" fill="url(#g74)"/><ellipse cx="270.3" cy="1083.9" rx="21.2" ry="19.1" fill="url(#g75)"/><ellipse cx="197.1" cy="895.1" rx="33.9" ry="25.5" fill="url(#g57)"/><ellipse cx="236.3" cy="975.7" rx="27.6" ry="57.3" transform="rotate(-5 236.3 975.7)" fill="url(#g76)"/><ellipse cx="200.3" cy="848.5" rx="50.8" ry="72.5" fill="url(#g77)"/></g><g filter="url(#wf)" opacity="0.75"><rect x="156.7" y="842" width="138" height="262.1" fill="url(#m5)"/></g></g><path d="M193.9 858.0C197.4 857.0 201.6 856.3 205.6 858.0C209.6 859.7 208.4 860.7 210.9 865.4C213.4 870.1 214.5 871.3 216.2 878.2C217.9 885.1 217.8 888.7 218.3 895.1C218.8 901.5 216.1 901.7 218.3 905.7C220.5 909.7 224.8 907.6 227.8 912.1C230.8 916.6 229.5 917.9 231.0 924.8C232.5 931.7 232.2 933.9 234.2 941.8C236.2 949.7 237.3 950.4 239.5 958.8C241.7 967.2 242.7 968.9 243.8 977.8C244.9 986.7 244.7 989.0 244.4 996.9C244.1 1004.8 241.1 1005.8 242.7 1011.8C244.3 1017.8 247.2 1017.9 251.2 1022.4C255.2 1026.9 255.2 1027.2 259.7 1030.9C264.2 1034.6 266.1 1034.6 270.3 1038.3C274.5 1042.0 275.7 1042.6 277.7 1046.8C279.7 1051.0 279.1 1051.1 278.7 1056.3C278.3 1061.5 276.4 1063.6 276.2 1069.0C276.0 1074.4 278.6 1075.1 277.7 1079.6C276.8 1084.1 275.6 1086.3 272.4 1088.1C269.2 1089.8 269.8 1088.6 263.9 1087.1C257.9 1085.6 255.8 1083.8 246.9 1081.8C238.0 1079.8 235.6 1079.2 225.7 1078.6C215.8 1078.0 213.4 1078.5 204.5 1079.2C195.6 1079.9 193.5 1080.6 187.6 1081.8C181.7 1083.0 182.1 1086.3 179.1 1084.3C176.1 1082.3 176.2 1083.3 174.8 1073.3C173.4 1063.3 173.6 1056.3 173.1 1041.5C172.6 1026.7 172.7 1024.6 172.7 1009.7C172.7 994.8 172.6 992.7 173.1 977.8C173.6 962.9 173.7 959.3 174.8 946.0C175.9 932.7 176.2 932.0 178.0 920.6C179.8 909.2 180.3 907.7 182.3 897.3C184.3 886.9 184.5 884.3 186.5 876.1C188.5 867.9 189.0 866.5 190.7 862.3C192.4 858.1 190.4 859.0 193.9 858.0Z" fill="none" stroke="#0a1430" stroke-width="0.8" stroke-opacity="0.7"/>
<line x1="622.8" y1="849.998" x2="727.7" y2="849.998" stroke="#5a5a5a" stroke-width="1.3"/>
<line x1="733.7" y1="858" x2="733.7" y2="1091.28" stroke="#6e6e6e" stroke-width="1.7"/>
<line x1="625.5" y1="859.115" x2="625.5" y2="1090.26" stroke="#8e8e8e" stroke-width="1.1"/>
<line x1="675.8" y1="859.115" x2="675.8" y2="1090.26" stroke="#8e8e8e" stroke-width="1.1"/>
<line x1="726.7" y1="859.115" x2="726.7" y2="1090.26" stroke="#8e8e8e" stroke-width="1.1"/>
<line x1="622.8" y1="909.602" x2="727.7" y2="909.602" stroke="#8e8e8e" stroke-width="1.2"/>
<line x1="622.8" y1="979.96" x2="727.7" y2="979.96" stroke="#8e8e8e" stroke-width="1.2"/>
<line x1="622.8" y1="1051.53" x2="727.7" y2="1051.53" stroke="#8e8e8e" stroke-width="1.2"/>
<g clip-path="url(#c78)"><rect x="615.7" y="852" width="118" height="245.3" fill="#113df6"/><g filter="url(#bl)"><ellipse cx="653.5" cy="1039.7" rx="38.2" ry="59.4" fill="url(#g79)"/><ellipse cx="628.1" cy="951.6" rx="29.7" ry="84.8" transform="rotate(3 628.1 951.6)" fill="url(#g27)"/><ellipse cx="638.7" cy="867.7" rx="21.2" ry="27.6" fill="url(#g27)"/><ellipse cx="666.2" cy="925.7" rx="38.2" ry="91.2" transform="rotate(-12 666.2 925.7)" fill="url(#g80)"/><ellipse cx="712.9" cy="1074.1" rx="38.2" ry="42.4" fill="url(#g28)"/><ellipse cx="687.4" cy="977.3" rx="19.1" ry="50.9" transform="rotate(-8 687.4 977.3)" fill="url(#g81)"/><ellipse cx="622.8" cy="951.6" rx="16.9" ry="72.5" transform="rotate(3 622.8 951.6)" fill="url(#g82)"/><ellipse cx="684.3" cy="960.2" rx="12.1" ry="29" transform="rotate(-10 684.3 960.2)" fill="url(#g83)"/><ellipse cx="665.8" cy="896.7" rx="13.3" ry="31.4" transform="rotate(-8 665.8 896.7)" fill="url(#g84)"/><ellipse cx="674.7" cy="925.7" rx="18.1" ry="62.9" transform="rotate(-12 674.7 925.7)" fill="url(#g85)"/><ellipse cx="659.9" cy="867.7" rx="16.9" ry="41.1" transform="rotate(-15 659.9 867.7)" fill="url(#g86)"/><ellipse cx="723.5" cy="1065.5" rx="24.2" ry="38.7" transform="rotate(-5 723.5 1065.5)" fill="url(#g86)"/></g><g filter="url(#wf)" opacity="0.75"><rect x="605.7" y="842" width="138" height="265.3" fill="url(#m5)"/></g></g><path d="M642.9 858.0C646.4 857.0 650.6 856.2 654.6 858.0C658.6 859.8 657.4 860.7 659.9 865.5C662.4 870.3 663.5 871.5 665.2 878.5C666.9 885.5 666.8 889.1 667.3 895.6C667.8 902.1 665.1 902.4 667.3 906.4C669.5 910.4 673.8 908.3 676.8 912.8C679.8 917.3 678.5 918.7 680.0 925.7C681.5 932.7 681.2 935.0 683.2 943.0C685.2 951.0 686.3 951.7 688.5 960.2C690.7 968.7 691.7 970.5 692.8 979.5C693.9 988.5 693.7 990.8 693.4 998.8C693.1 1006.8 690.1 1007.9 691.7 1013.9C693.3 1019.9 696.2 1020.2 700.2 1024.7C704.2 1029.2 704.2 1029.5 708.7 1033.3C713.2 1037.1 715.1 1037.0 719.3 1040.8C723.5 1044.6 724.7 1045.2 726.7 1049.4C728.7 1053.6 728.1 1053.8 727.7 1059.0C727.4 1064.2 725.4 1066.4 725.2 1071.9C725.0 1077.4 727.6 1078.2 726.7 1082.7C725.8 1087.2 724.6 1089.5 721.4 1091.3C718.2 1093.1 718.9 1091.8 712.9 1090.3C706.9 1088.8 704.8 1086.9 695.9 1084.9C687.0 1082.9 684.6 1082.2 674.7 1081.6C664.8 1081.0 662.4 1081.5 653.5 1082.3C644.6 1083.1 642.5 1083.7 636.6 1084.9C630.7 1086.1 631.1 1089.4 628.1 1087.4C625.1 1085.4 625.2 1086.4 623.8 1076.3C622.4 1066.2 622.6 1059.0 622.1 1044.0C621.6 1029.0 621.7 1026.8 621.7 1011.8C621.7 996.8 621.6 994.6 622.1 979.5C622.6 964.4 622.7 960.7 623.8 947.2C624.9 933.7 625.2 933.0 627.0 921.5C628.8 910.0 629.3 908.3 631.3 897.8C633.3 887.3 633.5 884.6 635.5 876.3C637.5 868.0 638.0 866.7 639.7 862.4C641.4 858.1 639.4 859.0 642.9 858.0Z" fill="none" stroke="#0a1430" stroke-width="0.8" stroke-opacity="0.7"/>
<line x1="177.2" y1="1146.77" x2="282.1" y2="1146.77" stroke="#5a5a5a" stroke-width="1.3"/>
<line x1="288.1" y1="1154.8" x2="288.1" y2="1389.04" stroke="#6e6e6e" stroke-width="1.7"/>
<line x1="179.9" y1="1155.92" x2="179.9" y2="1388.02" stroke="#8e8e8e" stroke-width="1.1"/>
<line x1="230.2" y1="1155.92" x2="230.2" y2="1388.02" stroke="#8e8e8e" stroke-width="1.1"/>
<line x1="281.1" y1="1155.92" x2="281.1" y2="1388.02" stroke="#8e8e8e" stroke-width="1.1"/>
<line x1="177.2" y1="1206.62" x2="282.1" y2="1206.62" stroke="#8e8e8e" stroke-width="1.2"/>
<line x1="177.2" y1="1277.27" x2="282.1" y2="1277.27" stroke="#8e8e8e" stroke-width="1.2"/>
<line x1="177.2" y1="1349.14" x2="282.1" y2="1349.14" stroke="#8e8e8e" stroke-width="1.2"/>
<g clip-path="url(#c87)"><rect x="170.1" y="1148.8" width="118" height="246.2" fill="#1e28f0"/><g filter="url(#bl)"><ellipse cx="273.7" cy="1349.1" rx="14.8" ry="12.7" fill="url(#g88)"/><ellipse cx="195.2" cy="1298.4" rx="31.8" ry="84.8" fill="url(#g89)"/><ellipse cx="254.6" cy="1335.1" rx="25.5" ry="25.5" fill="url(#g90)"/><ellipse cx="199.4" cy="1179.6" rx="27.6" ry="21.2" fill="url(#g91)"/><ellipse cx="241.8" cy="1307" rx="25.5" ry="31.8" transform="rotate(-15 241.8 1307)" fill="url(#g91)"/><ellipse cx="269.4" cy="1382.6" rx="21.2" ry="19.1" fill="url(#g92)"/><ellipse cx="218.5" cy="1227.2" rx="46.7" ry="63.6" transform="rotate(-20 218.5 1227.2)" fill="url(#g93)"/><ellipse cx="225.9" cy="1231.5" rx="33.9" ry="48.4" transform="rotate(-15 225.9 1231.5)" fill="url(#g94)"/><ellipse cx="230.2" cy="1216.4" rx="21.8" ry="31.4" transform="rotate(-10 230.2 1216.4)" fill="url(#g95)"/><ellipse cx="201.6" cy="1145.1" rx="43.5" ry="48.4" fill="url(#g96)"/></g><g filter="url(#wf)" opacity="0.75"><rect x="160.1" y="1138.8" width="138" height="266.2" fill="url(#m5)"/></g></g><path d="M197.3 1154.8C200.8 1153.8 205.0 1153.0 209.0 1154.8C213.0 1156.5 211.8 1157.5 214.3 1162.3C216.8 1167.1 217.9 1168.3 219.6 1175.4C221.3 1182.5 221.2 1186.1 221.7 1192.6C222.2 1199.1 219.5 1199.4 221.7 1203.4C223.9 1207.4 228.2 1205.4 231.2 1209.9C234.2 1214.4 232.9 1215.8 234.4 1222.8C235.9 1229.8 235.6 1232.0 237.6 1240.1C239.6 1248.2 240.7 1248.8 242.9 1257.4C245.1 1266.0 246.1 1267.7 247.2 1276.8C248.3 1285.9 248.1 1288.1 247.8 1296.2C247.5 1304.3 244.5 1305.3 246.1 1311.4C247.7 1317.5 250.6 1317.7 254.6 1322.2C258.6 1326.7 258.6 1327.0 263.1 1330.8C267.6 1334.6 269.5 1334.5 273.7 1338.3C277.9 1342.1 279.1 1342.7 281.1 1347.0C283.1 1351.3 282.5 1351.4 282.1 1356.7C281.8 1362.0 279.8 1364.1 279.6 1369.6C279.4 1375.1 282.0 1375.9 281.1 1380.4C280.2 1384.9 279.0 1387.2 275.8 1389.0C272.6 1390.8 273.2 1389.5 267.3 1388.0C261.4 1386.5 259.2 1384.6 250.3 1382.6C241.4 1380.6 239.0 1380.0 229.1 1379.4C219.2 1378.8 216.8 1379.3 207.9 1380.0C199.0 1380.7 196.9 1381.4 191.0 1382.6C185.1 1383.8 185.5 1387.2 182.5 1385.2C179.5 1383.2 179.6 1384.2 178.2 1374.0C176.8 1363.8 177.0 1356.7 176.5 1341.6C176.0 1326.5 176.1 1324.3 176.1 1309.2C176.1 1294.1 176.0 1291.9 176.5 1276.8C177.0 1261.7 177.1 1258.0 178.2 1244.4C179.3 1230.8 179.7 1230.1 181.4 1218.5C183.2 1206.9 183.7 1205.4 185.7 1194.8C187.7 1184.2 187.9 1181.5 189.9 1173.2C191.9 1164.9 192.4 1163.5 194.1 1159.2C195.8 1154.9 193.8 1155.8 197.3 1154.8Z" fill="none" stroke="#0a1430" stroke-width="0.8" stroke-opacity="0.7"/>
<line x1="622.3" y1="1147.83" x2="727.2" y2="1147.83" stroke="#5a5a5a" stroke-width="1.3"/>
<line x1="733.2" y1="1155.9" x2="733.2" y2="1391.29" stroke="#6e6e6e" stroke-width="1.7"/>
<line x1="625" y1="1157.03" x2="625" y2="1390.27" stroke="#8e8e8e" stroke-width="1.1"/>
<line x1="675.3" y1="1157.03" x2="675.3" y2="1390.27" stroke="#8e8e8e" stroke-width="1.1"/>
<line x1="726.2" y1="1157.03" x2="726.2" y2="1390.27" stroke="#8e8e8e" stroke-width="1.1"/>
<line x1="622.3" y1="1207.97" x2="727.2" y2="1207.97" stroke="#8e8e8e" stroke-width="1.2"/>
<line x1="622.3" y1="1278.97" x2="727.2" y2="1278.97" stroke="#8e8e8e" stroke-width="1.2"/>
<line x1="622.3" y1="1351.19" x2="727.2" y2="1351.19" stroke="#8e8e8e" stroke-width="1.2"/>
<g clip-path="url(#c97)"><rect x="615.2" y="1149.9" width="118" height="247.4" fill="#1c2bf1"/><g filter="url(#bl)"><ellipse cx="633.9" cy="1384.8" rx="21.2" ry="8.5" fill="url(#g98)"/><ellipse cx="657.3" cy="1272" rx="42.4" ry="63.6" fill="url(#g99)"/><ellipse cx="674.2" cy="1380.4" rx="33.9" ry="14.8" fill="url(#g100)"/><ellipse cx="624.4" cy="1215.5" rx="12.7" ry="29.7" fill="url(#g101)"/><ellipse cx="714.5" cy="1367.5" rx="25.5" ry="31.8" fill="url(#g101)"/><ellipse cx="648.8" cy="1174.4" rx="29.7" ry="44.5" transform="rotate(-10 648.8 1174.4)" fill="url(#g93)"/><ellipse cx="725.1" cy="1354.5" rx="14.5" ry="21.8" fill="url(#g102)"/><ellipse cx="654.7" cy="1161.3" rx="18.1" ry="41.1" transform="rotate(-15 654.7 1161.3)" fill="url(#g103)"/></g><g filter="url(#wf)" opacity="0.75"><rect x="605.2" y="1139.9" width="138" height="267.4" fill="url(#m5)"/></g></g><path d="M642.4 1155.9C645.9 1154.9 650.1 1154.1 654.1 1155.9C658.1 1157.7 656.9 1158.7 659.4 1163.5C661.9 1168.3 663.0 1169.5 664.7 1176.6C666.4 1183.7 666.3 1187.3 666.8 1193.9C667.3 1200.5 664.6 1200.7 666.8 1204.7C669.0 1208.7 673.3 1206.7 676.3 1211.2C679.3 1215.8 678.0 1217.1 679.5 1224.2C681.0 1231.3 680.7 1233.5 682.7 1241.6C684.7 1249.7 685.8 1250.4 688.0 1259.0C690.2 1267.6 691.2 1269.4 692.3 1278.5C693.4 1287.6 693.2 1289.9 692.9 1298.0C692.6 1306.1 689.6 1307.1 691.2 1313.2C692.8 1319.3 695.7 1319.5 699.7 1324.1C703.7 1328.7 703.7 1329.0 708.2 1332.8C712.7 1336.6 714.6 1336.5 718.8 1340.3C723.0 1344.1 724.2 1344.7 726.2 1349.0C728.2 1353.3 727.6 1353.5 727.2 1358.8C726.9 1364.1 724.9 1366.2 724.7 1371.8C724.5 1377.4 727.1 1378.0 726.2 1382.6C725.3 1387.1 724.1 1389.5 720.9 1391.3C717.7 1393.1 718.4 1391.8 712.4 1390.3C706.4 1388.8 704.3 1386.8 695.4 1384.8C686.5 1382.8 684.1 1382.2 674.2 1381.6C664.3 1381.0 661.9 1381.5 653.0 1382.2C644.1 1382.9 642.0 1383.6 636.1 1384.8C630.2 1386.0 630.6 1389.4 627.6 1387.4C624.6 1385.4 624.7 1386.4 623.3 1376.2C621.9 1366.0 622.1 1358.8 621.6 1343.6C621.1 1328.4 621.2 1326.3 621.2 1311.1C621.2 1295.9 621.1 1293.7 621.6 1278.5C622.1 1263.3 622.2 1259.6 623.3 1245.9C624.4 1232.2 624.8 1231.5 626.5 1219.9C628.2 1208.3 628.8 1206.7 630.8 1196.1C632.8 1185.5 633.0 1182.8 635.0 1174.4C637.0 1166.0 637.5 1164.6 639.2 1160.3C640.9 1156.0 638.9 1156.9 642.4 1155.9Z" fill="none" stroke="#0a1430" stroke-width="0.8" stroke-opacity="0.7"/>
<line x1="445.6" y1="846.8" x2="471.7" y2="846.8" stroke="#7a7a7a" stroke-width="1"/>
<line x1="478.4" y1="846.4" x2="478.4" y2="1103" stroke="#6e6e6e" stroke-width="1.5"/>
<line x1="448.8" y1="854.8" x2="448.8" y2="910" stroke="#a0a0a0" stroke-width="0.9"/>
<line x1="448.8" y1="1083.9" x2="448.8" y2="1092.4" stroke="#a0a0a0" stroke-width="0.9"/>
<line x1="470" y1="854.8" x2="470" y2="910" stroke="#a0a0a0" stroke-width="0.9"/>
<line x1="470" y1="1083.9" x2="470" y2="1092.4" stroke="#a0a0a0" stroke-width="0.9"/>
<line x1="445.6" y1="906.4" x2="472.5" y2="906.4" stroke="#a0a0a0" stroke-width="1"/>
<line x1="445.6" y1="977.4" x2="472.5" y2="977.4" stroke="#a0a0a0" stroke-width="1"/>
<g clip-path="url(#c104)"><rect x="439.6" y="844.6" width="38.9" height="262.2" fill="#2221c9"/><g filter="url(#bl)"><ellipse cx="465.7" cy="988.4" rx="8.5" ry="106.1" fill="url(#g105)"/><ellipse cx="465.7" cy="1013.9" rx="6.4" ry="36.1" fill="url(#g106)"/><ellipse cx="466.1" cy="958.8" rx="5.9" ry="42.4" fill="url(#g107)"/><ellipse cx="458.3" cy="1095.5" rx="10.6" ry="9.5" fill="url(#g107)"/><ellipse cx="459.8" cy="895.1" rx="9.5" ry="27.6" fill="url(#g108)"/><ellipse cx="459.8" cy="852.7" rx="12.1" ry="41.1" fill="url(#g109)"/><ellipse cx="451.9" cy="988.4" rx="9.5" ry="110.3" fill="url(#g110)"/><ellipse cx="465.7" cy="1069" rx="9.5" ry="23.3" transform="rotate(-15 465.7 1069)" fill="url(#g111)"/><ellipse cx="459.8" cy="852.7" rx="8.5" ry="17" fill="url(#g112)"/></g><g filter="url(#wf2)" opacity="0.55"><rect x="429.6" y="834.6" width="58.9" height="282.2" fill="url(#m4)"/></g></g><path d="M459.4 850.6C460.3 850.8 461.0 850.6 461.9 854.8C462.8 859.0 463.2 864.2 464.0 871.8C464.8 879.4 464.9 885.4 465.7 893.0C466.5 900.6 467.2 901.5 467.8 910.0C468.4 918.5 468.5 924.0 468.9 935.4C469.3 946.8 469.7 954.5 470.0 967.2C470.3 979.9 470.2 986.4 470.4 999.1C470.6 1011.8 470.7 1020.3 471.0 1030.9C471.3 1041.5 471.5 1044.5 471.7 1052.1C471.9 1059.7 471.9 1063.1 472.1 1069.0C472.3 1074.9 473.1 1078.0 472.5 1081.8C471.9 1085.6 470.7 1085.4 468.9 1088.1C467.1 1090.8 465.9 1093.0 463.6 1095.5C461.3 1098.0 459.1 1099.3 457.2 1100.4C455.3 1101.5 454.9 1102.0 454.1 1100.8C453.3 1099.6 453.4 1097.5 453.0 1094.5C452.6 1091.5 453.3 1089.0 451.9 1086.0C450.5 1083.0 447.5 1083.0 446.2 1079.6C444.9 1076.2 445.5 1074.5 445.6 1069.0C445.7 1063.5 446.3 1061.8 446.6 1052.1C446.9 1042.4 446.9 1033.0 447.1 1020.3C447.3 1007.6 447.5 1001.1 447.7 988.4C447.9 975.7 447.9 969.3 448.1 956.6C448.3 943.9 448.3 935.4 448.8 924.8C449.3 914.2 449.7 912.1 450.5 903.6C451.3 895.1 452.0 890.5 453.0 882.4C454.0 874.3 454.7 869.0 455.5 863.3C456.3 857.6 456.4 856.3 457.2 853.8C458.0 851.3 458.5 850.4 459.4 850.6Z" fill="none" stroke="#0a1430" stroke-width="0.8" stroke-opacity="0.7"/>
<line x1="896.6" y1="842.52" x2="922.7" y2="842.52" stroke="#7a7a7a" stroke-width="1"/>
<line x1="929.4" y1="842.112" x2="929.4" y2="1104.1" stroke="#6e6e6e" stroke-width="1.5"/>
<line x1="899.8" y1="850.688" x2="899.8" y2="907.047" stroke="#a0a0a0" stroke-width="0.9"/>
<line x1="899.8" y1="1084.6" x2="899.8" y2="1093.28" stroke="#a0a0a0" stroke-width="0.9"/>
<line x1="921" y1="850.688" x2="921" y2="907.047" stroke="#a0a0a0" stroke-width="0.9"/>
<line x1="921" y1="1084.6" x2="921" y2="1093.28" stroke="#a0a0a0" stroke-width="0.9"/>
<line x1="896.6" y1="903.372" x2="923.5" y2="903.372" stroke="#a0a0a0" stroke-width="1"/>
<line x1="896.6" y1="975.863" x2="923.5" y2="975.863" stroke="#a0a0a0" stroke-width="1"/>
<g clip-path="url(#c113)"><rect x="890.6" y="840.4" width="38.9" height="267.5" fill="#2122cd"/><g filter="url(#bl)"><ellipse cx="916.7" cy="1002.3" rx="7.4" ry="27.6" fill="url(#g114)"/><ellipse cx="905.1" cy="922.2" rx="5.9" ry="63.6" fill="url(#g115)"/><ellipse cx="919.3" cy="948.2" rx="4.8" ry="53.2" fill="url(#g116)"/><ellipse cx="910.4" cy="1098.7" rx="12.1" ry="9.7" fill="url(#g117)"/><ellipse cx="915" cy="889.7" rx="6.3" ry="79.8" transform="rotate(-2 915 889.7)" fill="url(#g118)"/><ellipse cx="919.3" cy="1071.6" rx="10.2" ry="36.3" transform="rotate(-15 919.3 1071.6)" fill="url(#g109)"/><ellipse cx="906.5" cy="1026.1" rx="9.5" ry="70" transform="rotate(2 906.5 1026.1)" fill="url(#g110)"/><ellipse cx="909.7" cy="907" rx="3" ry="59.4" transform="rotate(-2 909.7 907)" fill="url(#g119)"/><ellipse cx="899.8" cy="1073.8" rx="6.4" ry="21.2" fill="url(#g119)"/></g><g filter="url(#wf2)" opacity="0.55"><rect x="880.6" y="830.4" width="58.9" height="287.5" fill="url(#m4)"/></g></g><path d="M910.4 846.4C911.3 846.6 912.0 846.4 912.9 850.7C913.8 855.0 914.2 860.2 915.0 868.0C915.8 875.8 915.9 881.9 916.7 889.7C917.5 897.5 918.2 898.3 918.8 907.0C919.4 915.7 919.5 921.3 919.9 933.0C920.3 944.7 920.7 952.4 921.0 965.4C921.3 978.4 921.2 985.0 921.4 998.0C921.6 1011.0 921.7 1019.7 922.0 1030.5C922.3 1041.3 922.5 1044.3 922.7 1052.1C922.9 1059.9 922.9 1063.3 923.1 1069.4C923.3 1075.5 924.1 1078.6 923.5 1082.5C922.9 1086.4 921.7 1086.1 919.9 1088.9C918.1 1091.7 916.9 1093.9 914.6 1096.4C912.3 1098.9 910.1 1100.3 908.2 1101.4C906.3 1102.5 905.9 1103.1 905.1 1101.9C904.3 1100.7 904.4 1098.4 904.0 1095.4C903.6 1092.4 904.3 1089.7 902.9 1086.7C901.5 1083.7 898.5 1083.7 897.2 1080.2C895.9 1076.7 896.5 1075.0 896.6 1069.4C896.7 1063.8 897.3 1062.0 897.6 1052.1C897.9 1042.2 897.9 1032.7 898.1 1019.7C898.3 1006.7 898.5 1000.1 898.7 987.1C898.9 974.1 898.9 967.6 899.1 954.6C899.3 941.6 899.3 933.0 899.8 922.2C900.3 911.4 900.7 909.2 901.5 900.5C902.3 891.8 903.0 887.1 904.0 878.9C905.0 870.7 905.7 865.2 906.5 859.4C907.3 853.6 907.4 852.3 908.2 849.7C909.0 847.1 909.5 846.2 910.4 846.4Z" fill="none" stroke="#0a1430" stroke-width="0.8" stroke-opacity="0.7"/>
<line x1="443.5" y1="1149.33" x2="469.6" y2="1149.33" stroke="#7a7a7a" stroke-width="1"/>
<line x1="476.3" y1="1148.94" x2="476.3" y2="1403.35" stroke="#6e6e6e" stroke-width="1.5"/>
<line x1="446.7" y1="1157.26" x2="446.7" y2="1212" stroke="#a0a0a0" stroke-width="0.9"/>
<line x1="446.7" y1="1384.42" x2="446.7" y2="1392.84" stroke="#a0a0a0" stroke-width="0.9"/>
<line x1="467.9" y1="1157.26" x2="467.9" y2="1212" stroke="#a0a0a0" stroke-width="0.9"/>
<line x1="467.9" y1="1384.42" x2="467.9" y2="1392.84" stroke="#a0a0a0" stroke-width="0.9"/>
<line x1="443.5" y1="1208.43" x2="470.4" y2="1208.43" stroke="#a0a0a0" stroke-width="1"/>
<line x1="443.5" y1="1278.82" x2="470.4" y2="1278.82" stroke="#a0a0a0" stroke-width="1"/>
<g clip-path="url(#c120)"><rect x="437.5" y="1147.1" width="38.9" height="260.1" fill="#2221c9"/><g filter="url(#bl)"><ellipse cx="463.6" cy="1279.2" rx="8.1" ry="95.4" fill="url(#g121)"/><ellipse cx="464" cy="1310.8" rx="5.9" ry="27.6" fill="url(#g107)"/><ellipse cx="460.9" cy="1205.6" rx="8.1" ry="42.4" fill="url(#g108)"/><ellipse cx="457.7" cy="1392.8" rx="11.7" ry="11.7" fill="url(#g108)"/><ellipse cx="464" cy="1226.7" rx="5.8" ry="31.4" transform="rotate(-3 464 1226.7)" fill="url(#g122)"/><ellipse cx="457.7" cy="1155.2" rx="9.7" ry="26.6" fill="url(#g118)"/><ellipse cx="450.9" cy="1300.3" rx="9.5" ry="106.1" fill="url(#g110)"/><ellipse cx="463.6" cy="1363.4" rx="8.5" ry="23.3" transform="rotate(-10 463.6 1363.4)" fill="url(#g119)"/></g><g filter="url(#wf2)" opacity="0.55"><rect x="427.5" y="1137.1" width="58.9" height="280.1" fill="url(#m4)"/></g></g><path d="M457.3 1153.1C458.2 1153.3 458.9 1153.1 459.8 1157.3C460.7 1161.5 461.1 1166.5 461.9 1174.1C462.7 1181.7 462.8 1187.5 463.6 1195.1C464.4 1202.7 465.1 1203.6 465.7 1212.0C466.3 1220.4 466.4 1225.9 466.8 1237.2C467.2 1248.5 467.6 1256.1 467.9 1268.7C468.2 1281.3 468.1 1287.7 468.3 1300.3C468.5 1312.9 468.6 1321.4 468.9 1331.9C469.2 1342.4 469.4 1345.4 469.6 1352.9C469.8 1360.4 469.8 1363.7 470.0 1369.6C470.2 1375.5 471.0 1378.5 470.4 1382.3C469.8 1386.1 468.6 1385.9 466.8 1388.6C465.0 1391.3 463.8 1393.5 461.5 1395.9C459.2 1398.3 457.0 1399.7 455.1 1400.8C453.2 1401.9 452.8 1402.4 452.0 1401.2C451.2 1400.0 451.3 1397.8 450.9 1394.9C450.5 1392.0 451.2 1389.4 449.8 1386.5C448.4 1383.6 445.4 1383.6 444.1 1380.2C442.8 1376.8 443.4 1375.1 443.5 1369.6C443.6 1364.1 444.2 1362.5 444.5 1352.9C444.8 1343.3 444.8 1334.0 445.0 1321.4C445.2 1308.8 445.4 1302.3 445.6 1289.7C445.8 1277.1 445.8 1270.8 446.0 1258.2C446.2 1245.6 446.2 1237.2 446.7 1226.7C447.2 1216.2 447.6 1214.0 448.4 1205.6C449.2 1197.2 449.9 1192.6 450.9 1184.6C451.9 1176.6 452.6 1171.4 453.4 1165.7C454.2 1160.0 454.3 1158.8 455.1 1156.3C455.9 1153.8 456.4 1152.9 457.3 1153.1Z" fill="none" stroke="#0a1430" stroke-width="0.8" stroke-opacity="0.7"/>
<line x1="897.1" y1="1150.63" x2="923.2" y2="1150.63" stroke="#7a7a7a" stroke-width="1"/>
<line x1="929.9" y1="1150.23" x2="929.9" y2="1405.03" stroke="#6e6e6e" stroke-width="1.5"/>
<line x1="900.3" y1="1158.57" x2="900.3" y2="1213.38" stroke="#a0a0a0" stroke-width="0.9"/>
<line x1="900.3" y1="1386.07" x2="900.3" y2="1394.51" stroke="#a0a0a0" stroke-width="0.9"/>
<line x1="921.5" y1="1158.57" x2="921.5" y2="1213.38" stroke="#a0a0a0" stroke-width="0.9"/>
<line x1="921.5" y1="1386.07" x2="921.5" y2="1394.51" stroke="#a0a0a0" stroke-width="0.9"/>
<line x1="897.1" y1="1209.81" x2="924" y2="1209.81" stroke="#a0a0a0" stroke-width="1"/>
<line x1="897.1" y1="1280.31" x2="924" y2="1280.31" stroke="#a0a0a0" stroke-width="1"/>
<g clip-path="url(#c123)"><rect x="891.1" y="1148.4" width="38.9" height="260.4" fill="#2221c9"/><g filter="url(#bl)"><ellipse cx="918.3" cy="1280.7" rx="7.4" ry="95.4" fill="url(#g121)"/><ellipse cx="912.1" cy="1186" rx="7.2" ry="31.8" fill="url(#g108)"/><ellipse cx="910.9" cy="1398.7" rx="10.6" ry="9.5" fill="url(#g115)"/><ellipse cx="919.8" cy="1369.2" rx="9.2" ry="31.4" transform="rotate(-15 919.8 1369.2)" fill="url(#g124)"/><ellipse cx="914.3" cy="1167" rx="5.8" ry="21.8" transform="rotate(-3 914.3 1167)" fill="url(#g125)"/><ellipse cx="906.2" cy="1291.2" rx="10.6" ry="110.3" fill="url(#g126)"/></g><g filter="url(#wf2)" opacity="0.55"><rect x="881.1" y="1138.4" width="58.9" height="280.4" fill="url(#m4)"/></g></g><path d="M910.9 1154.4C911.8 1154.6 912.5 1154.4 913.4 1158.6C914.3 1162.8 914.7 1167.9 915.5 1175.5C916.3 1183.1 916.4 1188.9 917.2 1196.5C918.0 1204.1 918.7 1205.0 919.3 1213.4C919.9 1221.8 920.0 1227.2 920.4 1238.6C920.8 1250.0 921.2 1257.5 921.5 1270.2C921.8 1282.9 921.7 1289.3 921.9 1301.9C922.1 1314.5 922.2 1322.9 922.5 1333.4C922.8 1343.9 923.0 1346.9 923.2 1354.5C923.4 1362.1 923.4 1365.4 923.6 1371.3C923.8 1377.2 924.6 1380.2 924.0 1384.0C923.4 1387.8 922.2 1387.5 920.4 1390.2C918.6 1392.9 917.4 1395.1 915.1 1397.6C912.8 1400.1 910.6 1401.5 908.7 1402.5C906.8 1403.5 906.4 1404.0 905.6 1402.8C904.8 1401.6 904.9 1399.5 904.5 1396.6C904.1 1393.7 904.8 1391.2 903.4 1388.2C902.0 1385.2 899.0 1385.2 897.7 1381.8C896.4 1378.4 897.0 1376.8 897.1 1371.3C897.2 1365.8 897.8 1364.2 898.1 1354.5C898.4 1344.8 898.4 1335.6 898.6 1322.9C898.8 1310.2 899.0 1303.8 899.2 1291.2C899.4 1278.6 899.4 1272.3 899.6 1259.7C899.8 1247.1 899.8 1238.6 900.3 1228.1C900.8 1217.6 901.2 1215.4 902.0 1207.0C902.8 1198.6 903.5 1194.0 904.5 1186.0C905.5 1178.0 906.2 1172.7 907.0 1167.0C907.8 1161.3 907.9 1160.1 908.7 1157.6C909.5 1155.1 910.0 1154.2 910.9 1154.4Z" fill="none" stroke="#0a1430" stroke-width="0.8" stroke-opacity="0.7"/>
<text transform="translate(296 911.6) rotate(0) scale(0.78 1)" font-size="13.5" text-anchor="start" class="ls" fill="#1a1a1a" stroke="#1a1a1a" stroke-width="0.22">5</text>
<text transform="translate(296 983.7) rotate(0) scale(0.78 1)" font-size="13.5" text-anchor="start" class="ls" fill="#1a1a1a" stroke="#1a1a1a" stroke-width="0.22">0</text>
<text transform="translate(299.2 1055.8) rotate(0) scale(0.78 1)" font-size="13.5" text-anchor="start" class="ls" fill="#1a1a1a" stroke="#1a1a1a" stroke-width="0.22">5</text>
<line x1="287.2" y1="1050.7" x2="298.2" y2="1050.7" stroke="#111" stroke-width="1.2"/>
<text transform="translate(323.3 975.8) rotate(0) scale(0.85 1)" font-size="10" text-anchor="middle" class="ls" fill="#1a1a1a" stroke="#1a1a1a" stroke-width="0.22">mm</text>
<text transform="translate(490.8 903.1) rotate(0) scale(0.78 1)" font-size="13.5" text-anchor="start" class="ls" fill="#1a1a1a" stroke="#1a1a1a" stroke-width="0.22">5</text>
<text transform="translate(490.8 983.7) rotate(0) scale(0.78 1)" font-size="13.5" text-anchor="start" class="ls" fill="#1a1a1a" stroke="#1a1a1a" stroke-width="0.22">0</text>
<text transform="translate(494 1063.2) rotate(0) scale(0.78 1)" font-size="13.5" text-anchor="start" class="ls" fill="#1a1a1a" stroke="#1a1a1a" stroke-width="0.22">5</text>
<line x1="482" y1="1058.1" x2="493" y2="1058.1" stroke="#111" stroke-width="1.2"/>
<text transform="translate(521.3 974.5) rotate(0) scale(0.85 1)" font-size="10" text-anchor="middle" class="ls" fill="#1a1a1a" stroke="#1a1a1a" stroke-width="0.22">mm</text>
<text transform="translate(746 912.7) rotate(0) scale(0.78 1)" font-size="13.5" text-anchor="start" class="ls" fill="#1a1a1a" stroke="#1a1a1a" stroke-width="0.22">5</text>
<text transform="translate(746 985.2) rotate(0) scale(0.78 1)" font-size="13.5" text-anchor="start" class="ls" fill="#1a1a1a" stroke="#1a1a1a" stroke-width="0.22">0</text>
<text transform="translate(749.2 1059) rotate(0) scale(0.78 1)" font-size="13.5" text-anchor="start" class="ls" fill="#1a1a1a" stroke="#1a1a1a" stroke-width="0.22">5</text>
<line x1="737.2" y1="1053.9" x2="748.2" y2="1053.9" stroke="#111" stroke-width="1.2"/>
<text transform="translate(773.3 976.8) rotate(0) scale(0.85 1)" font-size="10" text-anchor="middle" class="ls" fill="#1a1a1a" stroke="#1a1a1a" stroke-width="0.22">mm</text>
<text transform="translate(942.5 899.5) rotate(0) scale(0.78 1)" font-size="13.5" text-anchor="start" class="ls" fill="#1a1a1a" stroke="#1a1a1a" stroke-width="0.22">5</text>
<text transform="translate(942.5 981.6) rotate(0) scale(0.78 1)" font-size="13.5" text-anchor="start" class="ls" fill="#1a1a1a" stroke="#1a1a1a" stroke-width="0.22">0</text>
<text transform="translate(945.7 1063.2) rotate(0) scale(0.78 1)" font-size="13.5" text-anchor="start" class="ls" fill="#1a1a1a" stroke="#1a1a1a" stroke-width="0.22">5</text>
<line x1="933.7" y1="1058.1" x2="944.7" y2="1058.1" stroke="#111" stroke-width="1.2"/>
<text transform="translate(973.4 972.4) rotate(0) scale(0.85 1)" font-size="10" text-anchor="middle" class="ls" fill="#1a1a1a" stroke="#1a1a1a" stroke-width="0.22">mm</text>
<text transform="translate(299.2 1209.5) rotate(0) scale(0.78 1)" font-size="13.5" text-anchor="start" class="ls" fill="#1a1a1a" stroke="#1a1a1a" stroke-width="0.22">5</text>
<text transform="translate(299.2 1282.6) rotate(0) scale(0.78 1)" font-size="13.5" text-anchor="start" class="ls" fill="#1a1a1a" stroke="#1a1a1a" stroke-width="0.22">0</text>
<text transform="translate(302.4 1355.8) rotate(0) scale(0.78 1)" font-size="13.5" text-anchor="start" class="ls" fill="#1a1a1a" stroke="#1a1a1a" stroke-width="0.22">5</text>
<line x1="290.4" y1="1350.7" x2="301.4" y2="1350.7" stroke="#111" stroke-width="1.2"/>
<text transform="translate(327.1 1274.5) rotate(0) scale(0.85 1)" font-size="10" text-anchor="middle" class="ls" fill="#1a1a1a" stroke="#1a1a1a" stroke-width="0.22">mm</text>
<text transform="translate(488.3 1205.2) rotate(0) scale(0.78 1)" font-size="13.5" text-anchor="start" class="ls" fill="#1a1a1a" stroke="#1a1a1a" stroke-width="0.22">5</text>
<text transform="translate(488.3 1284.3) rotate(0) scale(0.78 1)" font-size="13.5" text-anchor="start" class="ls" fill="#1a1a1a" stroke="#1a1a1a" stroke-width="0.22">0</text>
<text transform="translate(491.5 1363.2) rotate(0) scale(0.78 1)" font-size="13.5" text-anchor="start" class="ls" fill="#1a1a1a" stroke="#1a1a1a" stroke-width="0.22">5</text>
<line x1="479.5" y1="1358.1" x2="490.5" y2="1358.1" stroke="#111" stroke-width="1.2"/>
<text transform="translate(518.7 1275.1) rotate(0) scale(0.85 1)" font-size="10" text-anchor="middle" class="ls" fill="#1a1a1a" stroke="#1a1a1a" stroke-width="0.22">mm</text>
<text transform="translate(746 1211.6) rotate(0) scale(0.78 1)" font-size="13.5" text-anchor="start" class="ls" fill="#1a1a1a" stroke="#1a1a1a" stroke-width="0.22">5</text>
<text transform="translate(746 1284.3) rotate(0) scale(0.78 1)" font-size="13.5" text-anchor="start" class="ls" fill="#1a1a1a" stroke="#1a1a1a" stroke-width="0.22">0</text>
<text transform="translate(749.2 1357.5) rotate(0) scale(0.78 1)" font-size="13.5" text-anchor="start" class="ls" fill="#1a1a1a" stroke="#1a1a1a" stroke-width="0.22">5</text>
<line x1="737.2" y1="1352.4" x2="748.2" y2="1352.4" stroke="#111" stroke-width="1.2"/>
<text transform="translate(773.3 1276.2) rotate(0) scale(0.85 1)" font-size="10" text-anchor="middle" class="ls" fill="#1a1a1a" stroke="#1a1a1a" stroke-width="0.22">mm</text>
<text transform="translate(941.5 1206.3) rotate(0) scale(0.78 1)" font-size="13.5" text-anchor="start" class="ls" fill="#1a1a1a" stroke="#1a1a1a" stroke-width="0.22">5</text>
<text transform="translate(941.5 1285.8) rotate(0) scale(0.78 1)" font-size="13.5" text-anchor="start" class="ls" fill="#1a1a1a" stroke="#1a1a1a" stroke-width="0.22">0</text>
<text transform="translate(946 1364.8) rotate(0) scale(0.78 1)" font-size="13.5" text-anchor="start" class="ls" fill="#1a1a1a" stroke="#1a1a1a" stroke-width="0.22">5</text>
<line x1="934" y1="1359.7" x2="945" y2="1359.7" stroke="#111" stroke-width="1.2"/>
<text transform="translate(972 1276.6) rotate(0) scale(0.85 1)" font-size="10" text-anchor="middle" class="ls" fill="#1a1a1a" stroke="#1a1a1a" stroke-width="0.22">mm</text>
<text transform="translate(106.3 1072.9) rotate(0) scale(0.9 1)" font-size="10.5" text-anchor="middle" class="ls" fill="#1a1a1a" stroke="#1a1a1a" stroke-width="0.22">z</text>
<line x1="106.6" y1="1076.4" x2="106.6" y2="1090.4" stroke="#5b8fd0" stroke-width="1.1"/>
<text transform="translate(105.6 1096.4) rotate(0) scale(0.9 1)" font-size="10.5" text-anchor="middle" class="ls" fill="#1a1a1a" stroke="#1a1a1a" stroke-width="0.22">y</text>
<line x1="108.3" y1="1095.1" x2="117.3" y2="1095.1" stroke="#e8407a" stroke-width="1.2"/>
<path d="M119.3 1095.1 l-3.5 -1.8v3.6z" fill="#e8407a"/>
<text transform="translate(123.8 1097.9) rotate(0) scale(0.9 1)" font-size="10.5" text-anchor="middle" class="ls" fill="#1a1a1a" stroke="#1a1a1a" stroke-width="0.22">x</text>
<text transform="translate(553.5 1075.8) rotate(0) scale(0.9 1)" font-size="10.5" text-anchor="middle" class="ls" fill="#1a1a1a" stroke="#1a1a1a" stroke-width="0.22">z</text>
<line x1="553.8" y1="1079.3" x2="553.8" y2="1093.3" stroke="#5b8fd0" stroke-width="1.1"/>
<text transform="translate(552.8 1099.3) rotate(0) scale(0.9 1)" font-size="10.5" text-anchor="middle" class="ls" fill="#1a1a1a" stroke="#1a1a1a" stroke-width="0.22">y</text>
<line x1="555.5" y1="1098" x2="564.5" y2="1098" stroke="#e8407a" stroke-width="1.2"/>
<path d="M566.5 1098 l-3.5 -1.8v3.6z" fill="#e8407a"/>
<text transform="translate(571 1100.8) rotate(0) scale(0.9 1)" font-size="10.5" text-anchor="middle" class="ls" fill="#1a1a1a" stroke="#1a1a1a" stroke-width="0.22">x</text>
<text transform="translate(107.3 1372.9) rotate(0) scale(0.9 1)" font-size="10.5" text-anchor="middle" class="ls" fill="#1a1a1a" stroke="#1a1a1a" stroke-width="0.22">z</text>
<line x1="107.6" y1="1376.4" x2="107.6" y2="1390.4" stroke="#5b8fd0" stroke-width="1.1"/>
<text transform="translate(106.6 1396.4) rotate(0) scale(0.9 1)" font-size="10.5" text-anchor="middle" class="ls" fill="#1a1a1a" stroke="#1a1a1a" stroke-width="0.22">y</text>
<line x1="109.3" y1="1395.1" x2="118.3" y2="1395.1" stroke="#e8407a" stroke-width="1.2"/>
<path d="M120.3 1395.1 l-3.5 -1.8v3.6z" fill="#e8407a"/>
<text transform="translate(124.8 1397.9) rotate(0) scale(0.9 1)" font-size="10.5" text-anchor="middle" class="ls" fill="#1a1a1a" stroke="#1a1a1a" stroke-width="0.22">x</text>
<text transform="translate(553.3 1375.8) rotate(0) scale(0.9 1)" font-size="10.5" text-anchor="middle" class="ls" fill="#1a1a1a" stroke="#1a1a1a" stroke-width="0.22">z</text>
<line x1="553.6" y1="1379.3" x2="553.6" y2="1393.3" stroke="#5b8fd0" stroke-width="1.1"/>
<text transform="translate(552.6 1399.3) rotate(0) scale(0.9 1)" font-size="10.5" text-anchor="middle" class="ls" fill="#1a1a1a" stroke="#1a1a1a" stroke-width="0.22">y</text>
<line x1="555.3" y1="1398" x2="564.3" y2="1398" stroke="#e8407a" stroke-width="1.2"/>
<path d="M566.3 1398 l-3.5 -1.8v3.6z" fill="#e8407a"/>
<text transform="translate(570.8 1400.8) rotate(0) scale(0.9 1)" font-size="10.5" text-anchor="middle" class="ls" fill="#1a1a1a" stroke="#1a1a1a" stroke-width="0.22">x</text>
<rect x="345.9" y="895.1" width="13.2" height="192" fill="url(#jet)" stroke="#1a1a40" stroke-opacity="0.45" stroke-width="0.8"/>
<text transform="translate(366 901.8) rotate(0) scale(0.8 1)" font-size="12.5" text-anchor="start" class="ls" fill="#1a1a1a" stroke="#1a1a1a" stroke-width="0.22">2</text>
<line x1="345.9" y1="916.378" x2="348.1" y2="916.378" stroke="#111" stroke-width="0.8" stroke-opacity="0.6"/>
<line x1="356.9" y1="916.378" x2="359.1" y2="916.378" stroke="#111" stroke-width="0.8" stroke-opacity="0.6"/>
<text transform="translate(366 920.878) rotate(0) scale(0.8 1)" font-size="12.5" text-anchor="start" class="ls" fill="#1a1a1a" stroke="#1a1a1a" stroke-width="0.22">1.8</text>
<line x1="345.9" y1="935.456" x2="348.1" y2="935.456" stroke="#111" stroke-width="0.8" stroke-opacity="0.6"/>
<line x1="356.9" y1="935.456" x2="359.1" y2="935.456" stroke="#111" stroke-width="0.8" stroke-opacity="0.6"/>
<text transform="translate(366 939.956) rotate(0) scale(0.8 1)" font-size="12.5" text-anchor="start" class="ls" fill="#1a1a1a" stroke="#1a1a1a" stroke-width="0.22">1.6</text>
<line x1="345.9" y1="954.533" x2="348.1" y2="954.533" stroke="#111" stroke-width="0.8" stroke-opacity="0.6"/>
<line x1="356.9" y1="954.533" x2="359.1" y2="954.533" stroke="#111" stroke-width="0.8" stroke-opacity="0.6"/>
<text transform="translate(366 959.033) rotate(0) scale(0.8 1)" font-size="12.5" text-anchor="start" class="ls" fill="#1a1a1a" stroke="#1a1a1a" stroke-width="0.22">1.4</text>
<line x1="345.9" y1="973.611" x2="348.1" y2="973.611" stroke="#111" stroke-width="0.8" stroke-opacity="0.6"/>
<line x1="356.9" y1="973.611" x2="359.1" y2="973.611" stroke="#111" stroke-width="0.8" stroke-opacity="0.6"/>
<text transform="translate(366 978.111) rotate(0) scale(0.8 1)" font-size="12.5" text-anchor="start" class="ls" fill="#1a1a1a" stroke="#1a1a1a" stroke-width="0.22">1.2</text>
<line x1="345.9" y1="992.689" x2="348.1" y2="992.689" stroke="#111" stroke-width="0.8" stroke-opacity="0.6"/>
<line x1="356.9" y1="992.689" x2="359.1" y2="992.689" stroke="#111" stroke-width="0.8" stroke-opacity="0.6"/>
<text transform="translate(366 997.189) rotate(0) scale(0.8 1)" font-size="12.5" text-anchor="start" class="ls" fill="#1a1a1a" stroke="#1a1a1a" stroke-width="0.22">1</text>
<line x1="345.9" y1="1011.77" x2="348.1" y2="1011.77" stroke="#111" stroke-width="0.8" stroke-opacity="0.6"/>
<line x1="356.9" y1="1011.77" x2="359.1" y2="1011.77" stroke="#111" stroke-width="0.8" stroke-opacity="0.6"/>
<text transform="translate(366 1016.27) rotate(0) scale(0.8 1)" font-size="12.5" text-anchor="start" class="ls" fill="#1a1a1a" stroke="#1a1a1a" stroke-width="0.22">0.8</text>
<line x1="345.9" y1="1030.84" x2="348.1" y2="1030.84" stroke="#111" stroke-width="0.8" stroke-opacity="0.6"/>
<line x1="356.9" y1="1030.84" x2="359.1" y2="1030.84" stroke="#111" stroke-width="0.8" stroke-opacity="0.6"/>
<text transform="translate(366 1035.34) rotate(0) scale(0.8 1)" font-size="12.5" text-anchor="start" class="ls" fill="#1a1a1a" stroke="#1a1a1a" stroke-width="0.22">0.6</text>
<line x1="345.9" y1="1049.92" x2="348.1" y2="1049.92" stroke="#111" stroke-width="0.8" stroke-opacity="0.6"/>
<line x1="356.9" y1="1049.92" x2="359.1" y2="1049.92" stroke="#111" stroke-width="0.8" stroke-opacity="0.6"/>
<text transform="translate(366 1054.42) rotate(0) scale(0.8 1)" font-size="12.5" text-anchor="start" class="ls" fill="#1a1a1a" stroke="#1a1a1a" stroke-width="0.22">0.4</text>
<line x1="345.9" y1="1069" x2="348.1" y2="1069" stroke="#111" stroke-width="0.8" stroke-opacity="0.6"/>
<line x1="356.9" y1="1069" x2="359.1" y2="1069" stroke="#111" stroke-width="0.8" stroke-opacity="0.6"/>
<text transform="translate(366 1073.5) rotate(0) scale(0.8 1)" font-size="12.5" text-anchor="start" class="ls" fill="#1a1a1a" stroke="#1a1a1a" stroke-width="0.22">0.2</text>
<text transform="translate(360.7 886.4) scale(0.8 1)" font-size="11.5" class="ls" fill="#222">×10<tspan dy="-4.5" font-size="8">-5</tspan></text>
<rect x="796.5" y="895.6" width="13.2" height="195.1" fill="url(#jet)" stroke="#1a1a40" stroke-opacity="0.45" stroke-width="0.8"/>
<line x1="796.5" y1="914.622" x2="798.7" y2="914.622" stroke="#111" stroke-width="0.8" stroke-opacity="0.6"/>
<line x1="807.5" y1="914.622" x2="809.7" y2="914.622" stroke="#111" stroke-width="0.8" stroke-opacity="0.6"/>
<text transform="translate(816 919.122) rotate(0) scale(0.8 1)" font-size="12.5" text-anchor="start" class="ls" fill="#1a1a1a" stroke="#1a1a1a" stroke-width="0.22">1.8</text>
<line x1="796.5" y1="934.244" x2="798.7" y2="934.244" stroke="#111" stroke-width="0.8" stroke-opacity="0.6"/>
<line x1="807.5" y1="934.244" x2="809.7" y2="934.244" stroke="#111" stroke-width="0.8" stroke-opacity="0.6"/>
<text transform="translate(816 938.744) rotate(0) scale(0.8 1)" font-size="12.5" text-anchor="start" class="ls" fill="#1a1a1a" stroke="#1a1a1a" stroke-width="0.22">1.6</text>
<line x1="796.5" y1="953.867" x2="798.7" y2="953.867" stroke="#111" stroke-width="0.8" stroke-opacity="0.6"/>
<line x1="807.5" y1="953.867" x2="809.7" y2="953.867" stroke="#111" stroke-width="0.8" stroke-opacity="0.6"/>
<text transform="translate(816 958.367) rotate(0) scale(0.8 1)" font-size="12.5" text-anchor="start" class="ls" fill="#1a1a1a" stroke="#1a1a1a" stroke-width="0.22">1.4</text>
<line x1="796.5" y1="973.489" x2="798.7" y2="973.489" stroke="#111" stroke-width="0.8" stroke-opacity="0.6"/>
<line x1="807.5" y1="973.489" x2="809.7" y2="973.489" stroke="#111" stroke-width="0.8" stroke-opacity="0.6"/>
<text transform="translate(816 977.989) rotate(0) scale(0.8 1)" font-size="12.5" text-anchor="start" class="ls" fill="#1a1a1a" stroke="#1a1a1a" stroke-width="0.22">1.2</text>
<line x1="796.5" y1="993.111" x2="798.7" y2="993.111" stroke="#111" stroke-width="0.8" stroke-opacity="0.6"/>
<line x1="807.5" y1="993.111" x2="809.7" y2="993.111" stroke="#111" stroke-width="0.8" stroke-opacity="0.6"/>
<text transform="translate(816 997.611) rotate(0) scale(0.8 1)" font-size="12.5" text-anchor="start" class="ls" fill="#1a1a1a" stroke="#1a1a1a" stroke-width="0.22">1</text>
<line x1="796.5" y1="1012.73" x2="798.7" y2="1012.73" stroke="#111" stroke-width="0.8" stroke-opacity="0.6"/>
<line x1="807.5" y1="1012.73" x2="809.7" y2="1012.73" stroke="#111" stroke-width="0.8" stroke-opacity="0.6"/>
<text transform="translate(816 1017.23) rotate(0) scale(0.8 1)" font-size="12.5" text-anchor="start" class="ls" fill="#1a1a1a" stroke="#1a1a1a" stroke-width="0.22">0.8</text>
<line x1="796.5" y1="1032.36" x2="798.7" y2="1032.36" stroke="#111" stroke-width="0.8" stroke-opacity="0.6"/>
<line x1="807.5" y1="1032.36" x2="809.7" y2="1032.36" stroke="#111" stroke-width="0.8" stroke-opacity="0.6"/>
<text transform="translate(816 1036.86) rotate(0) scale(0.8 1)" font-size="12.5" text-anchor="start" class="ls" fill="#1a1a1a" stroke="#1a1a1a" stroke-width="0.22">0.6</text>
<line x1="796.5" y1="1051.98" x2="798.7" y2="1051.98" stroke="#111" stroke-width="0.8" stroke-opacity="0.6"/>
<line x1="807.5" y1="1051.98" x2="809.7" y2="1051.98" stroke="#111" stroke-width="0.8" stroke-opacity="0.6"/>
<text transform="translate(816 1056.48) rotate(0) scale(0.8 1)" font-size="12.5" text-anchor="start" class="ls" fill="#1a1a1a" stroke="#1a1a1a" stroke-width="0.22">0.4</text>
<line x1="796.5" y1="1071.6" x2="798.7" y2="1071.6" stroke="#111" stroke-width="0.8" stroke-opacity="0.6"/>
<line x1="807.5" y1="1071.6" x2="809.7" y2="1071.6" stroke="#111" stroke-width="0.8" stroke-opacity="0.6"/>
<text transform="translate(816 1076.1) rotate(0) scale(0.8 1)" font-size="12.5" text-anchor="start" class="ls" fill="#1a1a1a" stroke="#1a1a1a" stroke-width="0.22">0.2</text>
<text transform="translate(810.8 886.4) scale(0.8 1)" font-size="11.5" class="ls" fill="#222">×10<tspan dy="-4.5" font-size="8">-5</tspan></text>
<rect x="350.1" y="1192.6" width="13.2" height="195.1" fill="url(#jet)" stroke="#1a1a40" stroke-opacity="0.45" stroke-width="0.8"/>
<text transform="translate(370.3 1199.2) rotate(0) scale(0.8 1)" font-size="12.5" text-anchor="start" class="ls" fill="#1a1a1a" stroke="#1a1a1a" stroke-width="0.22">2</text>
<line x1="350.1" y1="1214.07" x2="352.3" y2="1214.07" stroke="#111" stroke-width="0.8" stroke-opacity="0.6"/>
<line x1="361.1" y1="1214.07" x2="363.3" y2="1214.07" stroke="#111" stroke-width="0.8" stroke-opacity="0.6"/>
<text transform="translate(370.3 1218.57) rotate(0) scale(0.8 1)" font-size="12.5" text-anchor="start" class="ls" fill="#1a1a1a" stroke="#1a1a1a" stroke-width="0.22">1.8</text>
<line x1="350.1" y1="1233.43" x2="352.3" y2="1233.43" stroke="#111" stroke-width="0.8" stroke-opacity="0.6"/>
<line x1="361.1" y1="1233.43" x2="363.3" y2="1233.43" stroke="#111" stroke-width="0.8" stroke-opacity="0.6"/>
<text transform="translate(370.3 1237.93) rotate(0) scale(0.8 1)" font-size="12.5" text-anchor="start" class="ls" fill="#1a1a1a" stroke="#1a1a1a" stroke-width="0.22">1.6</text>
<line x1="350.1" y1="1252.8" x2="352.3" y2="1252.8" stroke="#111" stroke-width="0.8" stroke-opacity="0.6"/>
<line x1="361.1" y1="1252.8" x2="363.3" y2="1252.8" stroke="#111" stroke-width="0.8" stroke-opacity="0.6"/>
<text transform="translate(370.3 1257.3) rotate(0) scale(0.8 1)" font-size="12.5" text-anchor="start" class="ls" fill="#1a1a1a" stroke="#1a1a1a" stroke-width="0.22">1.4</text>
<line x1="350.1" y1="1272.17" x2="352.3" y2="1272.17" stroke="#111" stroke-width="0.8" stroke-opacity="0.6"/>
<line x1="361.1" y1="1272.17" x2="363.3" y2="1272.17" stroke="#111" stroke-width="0.8" stroke-opacity="0.6"/>
<text transform="translate(370.3 1276.67) rotate(0) scale(0.8 1)" font-size="12.5" text-anchor="start" class="ls" fill="#1a1a1a" stroke="#1a1a1a" stroke-width="0.22">1.2</text>
<line x1="350.1" y1="1291.53" x2="352.3" y2="1291.53" stroke="#111" stroke-width="0.8" stroke-opacity="0.6"/>
<line x1="361.1" y1="1291.53" x2="363.3" y2="1291.53" stroke="#111" stroke-width="0.8" stroke-opacity="0.6"/>
<text transform="translate(370.3 1296.03) rotate(0) scale(0.8 1)" font-size="12.5" text-anchor="start" class="ls" fill="#1a1a1a" stroke="#1a1a1a" stroke-width="0.22">1</text>
<line x1="350.1" y1="1310.9" x2="352.3" y2="1310.9" stroke="#111" stroke-width="0.8" stroke-opacity="0.6"/>
<line x1="361.1" y1="1310.9" x2="363.3" y2="1310.9" stroke="#111" stroke-width="0.8" stroke-opacity="0.6"/>
<text transform="translate(370.3 1315.4) rotate(0) scale(0.8 1)" font-size="12.5" text-anchor="start" class="ls" fill="#1a1a1a" stroke="#1a1a1a" stroke-width="0.22">0.8</text>
<line x1="350.1" y1="1330.27" x2="352.3" y2="1330.27" stroke="#111" stroke-width="0.8" stroke-opacity="0.6"/>
<line x1="361.1" y1="1330.27" x2="363.3" y2="1330.27" stroke="#111" stroke-width="0.8" stroke-opacity="0.6"/>
<text transform="translate(370.3 1334.77) rotate(0) scale(0.8 1)" font-size="12.5" text-anchor="start" class="ls" fill="#1a1a1a" stroke="#1a1a1a" stroke-width="0.22">0.6</text>
<line x1="350.1" y1="1349.63" x2="352.3" y2="1349.63" stroke="#111" stroke-width="0.8" stroke-opacity="0.6"/>
<line x1="361.1" y1="1349.63" x2="363.3" y2="1349.63" stroke="#111" stroke-width="0.8" stroke-opacity="0.6"/>
<text transform="translate(370.3 1354.13) rotate(0) scale(0.8 1)" font-size="12.5" text-anchor="start" class="ls" fill="#1a1a1a" stroke="#1a1a1a" stroke-width="0.22">0.4</text>
<line x1="350.1" y1="1369" x2="352.3" y2="1369" stroke="#111" stroke-width="0.8" stroke-opacity="0.6"/>
<line x1="361.1" y1="1369" x2="363.3" y2="1369" stroke="#111" stroke-width="0.8" stroke-opacity="0.6"/>
<text transform="translate(370.3 1373.5) rotate(0) scale(0.8 1)" font-size="12.5" text-anchor="start" class="ls" fill="#1a1a1a" stroke="#1a1a1a" stroke-width="0.22">0.2</text>
<text transform="translate(365 1183.2) scale(0.8 1)" font-size="11.5" class="ls" fill="#222">×10<tspan dy="-4.5" font-size="8">-5</tspan></text>
<rect x="797" y="1194.7" width="13.2" height="196" fill="url(#jet)" stroke="#1a1a40" stroke-opacity="0.45" stroke-width="0.8"/>
<text transform="translate(816.5 1201.3) rotate(0) scale(0.8 1)" font-size="12.5" text-anchor="start" class="ls" fill="#1a1a1a" stroke="#1a1a1a" stroke-width="0.22">2</text>
<line x1="797" y1="1216.22" x2="799.2" y2="1216.22" stroke="#111" stroke-width="0.8" stroke-opacity="0.6"/>
<line x1="808" y1="1216.22" x2="810.2" y2="1216.22" stroke="#111" stroke-width="0.8" stroke-opacity="0.6"/>
<text transform="translate(816.5 1220.72) rotate(0) scale(0.8 1)" font-size="12.5" text-anchor="start" class="ls" fill="#1a1a1a" stroke="#1a1a1a" stroke-width="0.22">1.8</text>
<line x1="797" y1="1235.64" x2="799.2" y2="1235.64" stroke="#111" stroke-width="0.8" stroke-opacity="0.6"/>
<line x1="808" y1="1235.64" x2="810.2" y2="1235.64" stroke="#111" stroke-width="0.8" stroke-opacity="0.6"/>
<text transform="translate(816.5 1240.14) rotate(0) scale(0.8 1)" font-size="12.5" text-anchor="start" class="ls" fill="#1a1a1a" stroke="#1a1a1a" stroke-width="0.22">1.6</text>
<line x1="797" y1="1255.07" x2="799.2" y2="1255.07" stroke="#111" stroke-width="0.8" stroke-opacity="0.6"/>
<line x1="808" y1="1255.07" x2="810.2" y2="1255.07" stroke="#111" stroke-width="0.8" stroke-opacity="0.6"/>
<text transform="translate(816.5 1259.57) rotate(0) scale(0.8 1)" font-size="12.5" text-anchor="start" class="ls" fill="#1a1a1a" stroke="#1a1a1a" stroke-width="0.22">1.4</text>
<line x1="797" y1="1274.49" x2="799.2" y2="1274.49" stroke="#111" stroke-width="0.8" stroke-opacity="0.6"/>
<line x1="808" y1="1274.49" x2="810.2" y2="1274.49" stroke="#111" stroke-width="0.8" stroke-opacity="0.6"/>
<text transform="translate(816.5 1278.99) rotate(0) scale(0.8 1)" font-size="12.5" text-anchor="start" class="ls" fill="#1a1a1a" stroke="#1a1a1a" stroke-width="0.22">1.2</text>
<line x1="797" y1="1293.91" x2="799.2" y2="1293.91" stroke="#111" stroke-width="0.8" stroke-opacity="0.6"/>
<line x1="808" y1="1293.91" x2="810.2" y2="1293.91" stroke="#111" stroke-width="0.8" stroke-opacity="0.6"/>
<text transform="translate(816.5 1298.41) rotate(0) scale(0.8 1)" font-size="12.5" text-anchor="start" class="ls" fill="#1a1a1a" stroke="#1a1a1a" stroke-width="0.22">1</text>
<line x1="797" y1="1313.33" x2="799.2" y2="1313.33" stroke="#111" stroke-width="0.8" stroke-opacity="0.6"/>
<line x1="808" y1="1313.33" x2="810.2" y2="1313.33" stroke="#111" stroke-width="0.8" stroke-opacity="0.6"/>
<text transform="translate(816.5 1317.83) rotate(0) scale(0.8 1)" font-size="12.5" text-anchor="start" class="ls" fill="#1a1a1a" stroke="#1a1a1a" stroke-width="0.22">0.8</text>
<line x1="797" y1="1332.76" x2="799.2" y2="1332.76" stroke="#111" stroke-width="0.8" stroke-opacity="0.6"/>
<line x1="808" y1="1332.76" x2="810.2" y2="1332.76" stroke="#111" stroke-width="0.8" stroke-opacity="0.6"/>
<text transform="translate(816.5 1337.26) rotate(0) scale(0.8 1)" font-size="12.5" text-anchor="start" class="ls" fill="#1a1a1a" stroke="#1a1a1a" stroke-width="0.22">0.6</text>
<line x1="797" y1="1352.18" x2="799.2" y2="1352.18" stroke="#111" stroke-width="0.8" stroke-opacity="0.6"/>
<line x1="808" y1="1352.18" x2="810.2" y2="1352.18" stroke="#111" stroke-width="0.8" stroke-opacity="0.6"/>
<text transform="translate(816.5 1356.68) rotate(0) scale(0.8 1)" font-size="12.5" text-anchor="start" class="ls" fill="#1a1a1a" stroke="#1a1a1a" stroke-width="0.22">0.4</text>
<line x1="797" y1="1371.6" x2="799.2" y2="1371.6" stroke="#111" stroke-width="0.8" stroke-opacity="0.6"/>
<line x1="808" y1="1371.6" x2="810.2" y2="1371.6" stroke="#111" stroke-width="0.8" stroke-opacity="0.6"/>
<text transform="translate(816.5 1376.1) rotate(0) scale(0.8 1)" font-size="12.5" text-anchor="start" class="ls" fill="#1a1a1a" stroke="#1a1a1a" stroke-width="0.22">0.2</text>
<text transform="translate(810.8 1185.4) scale(0.8 1)" font-size="11.5" class="ls" fill="#222">×10<tspan dy="-4.5" font-size="8">-5</tspan></text>
<text transform="translate(411.6 987.3) rotate(-90) scale(1.46 1)" font-size="25.5" text-anchor="middle" class="dv" fill="#050505" stroke="#050505" stroke-width="0.2">Mode 1</text>
<text transform="translate(864.8 987.3) rotate(-90) scale(1.46 1)" font-size="25.5" text-anchor="middle" class="dv" fill="#050505" stroke="#050505" stroke-width="0.2">Mode 2</text>
<text transform="translate(416.9 1282) rotate(-90) scale(1.46 1)" font-size="25.5" text-anchor="middle" class="dv" fill="#050505" stroke="#050505" stroke-width="0.2">Mode 3</text>
<text transform="translate(864.8 1271.5) rotate(-90) scale(1.46 1)" font-size="25.5" text-anchor="middle" class="dv" fill="#050505" stroke="#050505" stroke-width="0.2">Mode 4</text>
<text transform="translate(22 1697) rotate(0) scale(0.85 1)" font-size="51" text-anchor="start" class="ls" fill="#111" stroke="#111" stroke-width="0.22">c</text>
<line x1="103.1" y1="1713.1" x2="338" y2="1713.1" stroke="#9a9a9a" stroke-width="1.6"/>
<line x1="103.1" y1="1821.4" x2="338" y2="1821.4" stroke="#9a9a9a" stroke-width="1.6"/>
<line x1="103.1" y1="1929.2" x2="338" y2="1929.2" stroke="#9a9a9a" stroke-width="1.6"/>
<line x1="122.6" y1="1668.7" x2="122.6" y2="1949.3" stroke="#9a9a9a" stroke-width="1.4"/>
<line x1="199.6" y1="1676.5" x2="199.6" y2="1949.3" stroke="#9a9a9a" stroke-width="1.4"/>
<line x1="277.2" y1="1676.5" x2="277.2" y2="1949.3" stroke="#9a9a9a" stroke-width="1.4"/>
<line x1="93.4" y1="1664.8" x2="93.4" y2="1953.2" stroke="#8a8a8a" stroke-width="2.8"/>
<path d="M100.8 1966.8L104.8 1963.2L337.6 1963.2L341.6 1966.8Z" fill="#858585"/>
<g clip-path="url(#c127)"><rect x="95.8" y="1658.8" width="250.8" height="300.4" fill="#0a4afa"/><g filter="url(#bl)"><ellipse cx="268.8" cy="1801.8" rx="28.7" ry="39.1" fill="url(#g128)"/><ellipse cx="216.6" cy="1713.1" rx="99.2" ry="78.3" fill="url(#g129)"/><ellipse cx="167" cy="1859.2" rx="15.7" ry="60" transform="rotate(5 167 1859.2)" fill="url(#g130)"/><ellipse cx="294.9" cy="1895.8" rx="14.4" ry="39.1" fill="url(#g131)"/><ellipse cx="214" cy="1838.4" rx="86.1" ry="39.1" transform="rotate(-10 214 1838.4)" fill="url(#g132)"/><ellipse cx="138.3" cy="1882.7" rx="52.2" ry="62.6" fill="url(#g133)"/><ellipse cx="321" cy="1833.1" rx="31.3" ry="39.1" fill="url(#g133)"/><ellipse cx="143.5" cy="1812.3" rx="67.9" ry="57.4" transform="rotate(-20 143.5 1812.3)" fill="url(#g134)"/><ellipse cx="326.2" cy="1874.9" rx="41.8" ry="94" transform="rotate(-5 326.2 1874.9)" fill="url(#g134)"/><ellipse cx="258.4" cy="1929.7" rx="36.5" ry="31.3" fill="url(#g135)"/><ellipse cx="310.6" cy="1796.6" rx="41.8" ry="44.4" transform="rotate(30 310.6 1796.6)" fill="url(#g135)"/><ellipse cx="221.8" cy="1903.6" rx="99.2" ry="67.9" fill="url(#g136)"/><ellipse cx="112.2" cy="1848.8" rx="44.4" ry="99.2" transform="rotate(-12 112.2 1848.8)" fill="url(#g137)"/><ellipse cx="109.6" cy="1864.5" rx="28.7" ry="78.3" transform="rotate(-10 109.6 1864.5)" fill="url(#g138)"/><ellipse cx="104.4" cy="1945.4" rx="36.5" ry="112.2" transform="rotate(-6 104.4 1945.4)" fill="url(#g139)"/></g><g filter="url(#wf)" opacity="0.8"><rect x="85.8" y="1648.8" width="270.8" height="320.4" fill="url(#m3)"/></g></g><path d="M219.2 1664.8C224.7 1665.7 226.8 1666.6 232.3 1670.0C237.8 1673.4 237.8 1677.1 242.7 1679.2C247.6 1681.3 248.5 1679.5 253.1 1679.2C257.7 1678.9 259.2 1674.8 262.3 1677.8C265.4 1680.8 263.5 1683.4 266.2 1692.2C268.9 1701.0 269.7 1705.9 274.0 1715.7C278.3 1725.5 279.6 1725.5 284.5 1734.0C289.4 1742.5 289.7 1743.1 294.9 1752.2C300.1 1761.3 301.2 1763.3 306.7 1773.1C312.2 1782.9 315.1 1783.6 318.4 1794.0C321.7 1804.4 319.2 1807.7 321.0 1817.5C322.8 1827.3 323.4 1826.7 326.2 1835.8C329.0 1844.9 331.0 1847.5 332.8 1856.6C334.6 1865.7 332.3 1865.1 334.1 1874.9C335.9 1884.7 339.1 1889.9 340.6 1898.4C342.1 1906.9 342.7 1906.6 340.6 1911.5C338.5 1916.4 336.1 1915.7 331.5 1919.3C326.9 1922.9 325.9 1925.9 321.0 1927.1C316.1 1928.3 316.7 1926.6 310.6 1924.5C304.5 1922.4 301.6 1920.4 294.9 1918.0C288.2 1915.6 287.4 1913.5 281.9 1914.1C276.4 1914.7 274.5 1915.7 271.4 1920.6C268.3 1925.5 271.8 1929.7 268.8 1934.9C265.8 1940.1 263.3 1941.6 258.4 1942.8C253.5 1944.0 252.2 1943.3 247.9 1940.2C243.6 1937.1 245.0 1934.0 240.1 1929.7C235.2 1925.4 233.1 1925.5 227.0 1921.9C220.9 1918.3 220.7 1915.3 214.0 1914.1C207.3 1912.9 205.0 1916.7 198.3 1916.7C191.6 1916.7 192.0 1914.1 185.3 1914.1C178.6 1914.1 176.3 1916.1 169.6 1916.7C162.9 1917.3 162.7 1916.7 156.6 1916.7C150.5 1916.7 148.7 1914.9 143.5 1916.7C138.3 1918.5 138.3 1919.0 134.4 1924.5C130.5 1930.0 130.6 1934.1 126.6 1940.2C122.6 1946.3 121.7 1947.6 117.4 1950.6C113.1 1953.6 111.6 1955.6 108.3 1953.2C105.0 1950.8 104.6 1949.3 103.1 1940.2C101.6 1931.1 102.1 1925.7 101.8 1914.1C101.5 1902.5 100.9 1902.8 101.8 1890.6C102.7 1878.4 103.3 1872.9 105.7 1861.9C108.1 1850.9 109.2 1852.7 112.2 1843.6C115.2 1834.5 116.3 1833.1 118.7 1822.7C121.1 1812.3 120.8 1808.3 122.6 1799.2C124.4 1790.1 122.9 1789.7 126.6 1783.6C130.3 1777.5 132.8 1778.6 138.3 1773.1C143.8 1767.6 144.8 1768.0 150.0 1760.1C155.2 1752.2 155.9 1748.3 160.5 1739.2C165.1 1730.1 165.6 1730.0 169.6 1720.9C173.6 1711.8 173.8 1711.0 177.5 1700.0C181.2 1689.0 180.4 1680.6 185.3 1673.9C190.2 1667.2 192.8 1673.1 198.3 1671.3C203.8 1669.5 203.9 1667.6 208.8 1666.1C213.7 1664.6 213.7 1663.9 219.2 1664.8Z" fill="none" stroke="#0a1430" stroke-width="0.8" stroke-opacity="0.7"/>
<line x1="689.512" y1="1708.53" x2="928.405" y2="1708.53" stroke="#9a9a9a" stroke-width="1.6"/>
<line x1="689.512" y1="1818.31" x2="928.405" y2="1818.31" stroke="#9a9a9a" stroke-width="1.6"/>
<line x1="689.512" y1="1927.57" x2="928.405" y2="1927.57" stroke="#9a9a9a" stroke-width="1.6"/>
<line x1="709.343" y1="1663.53" x2="709.343" y2="1947.95" stroke="#9a9a9a" stroke-width="1.4"/>
<line x1="787.652" y1="1671.44" x2="787.652" y2="1947.95" stroke="#9a9a9a" stroke-width="1.4"/>
<line x1="866.571" y1="1671.44" x2="866.571" y2="1947.95" stroke="#9a9a9a" stroke-width="1.4"/>
<line x1="679.647" y1="1659.58" x2="679.647" y2="1951.9" stroke="#8a8a8a" stroke-width="2.8"/>
<path d="M687.189 1965.66L691.189 1962.06L928.049 1962.06L932.049 1965.66Z" fill="#858585"/>
<g clip-path="url(#c140)"><rect x="682.2" y="1653.6" width="254.8" height="304.3" fill="#113df6"/><g filter="url(#bl)"><ellipse cx="815.5" cy="1684.7" rx="20.9" ry="33.9" fill="url(#g24)"/><ellipse cx="709.3" cy="1854" rx="31.3" ry="26.1" fill="url(#g24)"/><ellipse cx="831.5" cy="1835.5" rx="78.3" ry="73.1" fill="url(#g79)"/><ellipse cx="836.8" cy="1925.4" rx="31.3" ry="20.9" fill="url(#g141)"/><ellipse cx="884.6" cy="1740.3" rx="26.1" ry="62.6" transform="rotate(-25 884.6 1740.3)" fill="url(#g142)"/><ellipse cx="911.1" cy="1846.1" rx="26.1" ry="52.2" fill="url(#g143)"/><ellipse cx="770.5" cy="1896.4" rx="67.9" ry="31.3" fill="url(#g144)"/><ellipse cx="783.7" cy="1671.4" rx="26.1" ry="26.1" fill="url(#g53)"/><ellipse cx="858" cy="1679.4" rx="28.7" ry="39.1" fill="url(#g53)"/><ellipse cx="733.2" cy="1782.6" rx="57.4" ry="57.4" transform="rotate(40 733.2 1782.6)" fill="url(#g27)"/><ellipse cx="770.5" cy="1713.8" rx="52.2" ry="78.3" transform="rotate(25 770.5 1713.8)" fill="url(#g27)"/><ellipse cx="916.4" cy="1904.3" rx="57.4" ry="47" fill="url(#g28)"/><ellipse cx="702.7" cy="1909.6" rx="60" ry="49.6" fill="url(#g145)"/><ellipse cx="692.2" cy="1950.6" rx="33.9" ry="60" transform="rotate(-10 692.2 1950.6)" fill="url(#g146)"/></g><g filter="url(#wf)" opacity="0.8"><rect x="672.2" y="1643.6" width="274.8" height="324.3" fill="url(#m3)"/></g></g><path d="M807.6 1659.6C813.2 1660.5 815.3 1661.4 820.9 1664.8C826.5 1668.2 826.6 1672.0 831.5 1674.2C836.4 1676.4 837.5 1674.5 842.1 1674.2C846.7 1673.9 848.3 1669.7 851.4 1672.8C854.5 1675.9 852.6 1678.4 855.4 1687.4C858.2 1696.4 859.0 1701.3 863.3 1711.2C867.6 1721.1 869.0 1721.1 874.0 1729.7C879.0 1738.3 879.3 1738.9 884.6 1748.2C889.9 1757.5 891.0 1759.5 896.6 1769.4C902.2 1779.3 905.1 1780.0 908.5 1790.5C911.9 1801.0 909.3 1804.5 911.1 1814.4C912.9 1824.3 913.6 1823.7 916.4 1832.9C919.2 1842.1 921.2 1844.8 923.1 1854.0C925.0 1863.2 922.6 1862.6 924.4 1872.5C926.2 1882.4 929.5 1887.7 931.0 1896.4C932.5 1905.1 933.1 1904.7 931.0 1909.6C928.9 1914.5 926.4 1913.8 921.8 1917.5C917.2 1921.2 916.1 1924.2 911.1 1925.4C906.1 1926.6 906.7 1924.9 900.5 1922.8C894.3 1920.7 891.4 1918.7 884.6 1916.2C877.8 1913.8 877.0 1911.7 871.4 1912.3C865.8 1912.9 863.8 1914.0 860.7 1918.9C857.6 1923.8 861.1 1928.2 858.0 1933.4C854.9 1938.7 852.4 1940.2 847.5 1941.4C842.6 1942.6 841.2 1941.8 836.8 1938.7C832.4 1935.6 833.8 1932.4 828.8 1928.1C823.8 1923.8 821.7 1923.9 815.5 1920.2C809.3 1916.5 809.1 1913.5 802.3 1912.3C795.5 1911.1 793.1 1914.9 786.3 1914.9C779.5 1914.9 779.9 1912.3 773.1 1912.3C766.3 1912.3 763.9 1914.3 757.1 1914.9C750.3 1915.5 750.1 1914.9 743.9 1914.9C737.7 1914.9 735.9 1913.1 730.6 1914.9C725.3 1916.7 725.3 1917.2 721.3 1922.8C717.3 1928.4 717.4 1932.5 713.4 1938.7C709.4 1944.9 708.4 1946.2 704.1 1949.3C699.8 1952.4 698.2 1954.4 694.8 1951.9C691.4 1949.4 691.0 1947.9 689.5 1938.7C688.0 1929.5 688.5 1924.0 688.2 1912.3C687.9 1900.6 687.3 1900.7 688.2 1888.4C689.1 1876.1 689.7 1870.5 692.2 1859.4C694.7 1848.3 695.7 1850.1 698.8 1840.8C701.9 1831.5 702.9 1830.1 705.4 1819.6C707.9 1809.1 707.4 1805.0 709.3 1795.8C711.2 1786.6 709.7 1786.2 713.4 1780.0C717.1 1773.8 719.7 1775.0 725.3 1769.4C730.9 1763.8 731.9 1764.2 737.2 1756.2C742.5 1748.2 743.3 1744.3 747.9 1735.0C752.5 1725.7 753.1 1725.7 757.1 1716.4C761.1 1707.1 761.5 1706.4 765.2 1695.3C768.9 1684.2 768.2 1675.6 773.1 1668.8C778.0 1662.0 780.7 1668.0 786.3 1666.2C791.9 1664.4 792.0 1662.4 797.0 1660.9C802.0 1659.4 802.0 1658.7 807.6 1659.6Z" fill="none" stroke="#0a1430" stroke-width="0.8" stroke-opacity="0.7"/>
<line x1="100.443" y1="2122.02" x2="337.927" y2="2122.02" stroke="#9a9a9a" stroke-width="1.6"/>
<line x1="100.443" y1="2230.81" x2="337.927" y2="2230.81" stroke="#9a9a9a" stroke-width="1.6"/>
<line x1="100.443" y1="2339.09" x2="337.927" y2="2339.09" stroke="#9a9a9a" stroke-width="1.6"/>
<line x1="120.157" y1="2077.42" x2="120.157" y2="2359.28" stroke="#9a9a9a" stroke-width="1.4"/>
<line x1="198.004" y1="2085.25" x2="198.004" y2="2359.28" stroke="#9a9a9a" stroke-width="1.4"/>
<line x1="276.458" y1="2085.25" x2="276.458" y2="2359.28" stroke="#9a9a9a" stroke-width="1.4"/>
<line x1="90.6361" y1="2073.5" x2="90.6361" y2="2363.2" stroke="#8a8a8a" stroke-width="2.8"/>
<path d="M98.1285 2376.85L102.129 2373.25L337.555 2373.25L341.555 2376.85Z" fill="#858585"/>
<g clip-path="url(#c147)"><rect x="93.1" y="2067.5" width="253.5" height="301.7" fill="#1f25e0"/><g filter="url(#bl)"><ellipse cx="228.4" cy="2232.1" rx="86.1" ry="86.1" fill="url(#g148)"/><ellipse cx="199.3" cy="2081.3" rx="28.7" ry="20.9" fill="url(#g149)"/><ellipse cx="111" cy="2321.3" rx="39.1" ry="44.4" fill="url(#g150)"/><ellipse cx="101.8" cy="2364.5" rx="33.9" ry="65.2" transform="rotate(-10 101.8 2364.5)" fill="url(#g151)"/></g><g filter="url(#wf)" opacity="0.8"><rect x="83.1" y="2057.5" width="273.5" height="321.7" fill="url(#m3)"/></g></g><path d="M217.8 2073.5C223.4 2074.4 225.5 2075.3 231.1 2078.7C236.7 2082.1 236.7 2085.8 241.6 2088.0C246.5 2090.2 247.5 2088.3 252.1 2088.0C256.7 2087.7 258.3 2083.6 261.4 2086.6C264.5 2089.6 262.5 2092.1 265.3 2101.0C268.1 2109.9 268.9 2114.8 273.2 2124.6C277.5 2134.4 278.9 2134.4 283.8 2143.0C288.7 2151.6 289.1 2152.1 294.4 2161.3C299.6 2170.5 300.8 2172.5 306.3 2182.3C311.8 2192.1 314.7 2192.9 318.1 2203.3C321.5 2213.7 318.9 2217.1 320.7 2226.9C322.5 2236.7 323.2 2236.1 326.0 2245.3C328.8 2254.5 330.8 2257.1 332.7 2266.2C334.6 2275.3 332.2 2274.7 334.0 2284.5C335.8 2294.3 339.1 2299.6 340.6 2308.2C342.1 2316.8 342.7 2316.4 340.6 2321.3C338.5 2326.2 336.0 2325.4 331.4 2329.1C326.8 2332.8 325.6 2335.8 320.7 2337.0C315.8 2338.2 316.3 2336.5 310.2 2334.4C304.1 2332.3 301.2 2330.2 294.4 2327.8C287.6 2325.4 286.8 2323.3 281.2 2323.9C275.6 2324.5 273.7 2325.6 270.6 2330.5C267.5 2335.4 271.1 2339.6 268.0 2344.8C264.9 2350.0 262.4 2351.6 257.5 2352.8C252.6 2354.0 251.1 2353.2 246.8 2350.1C242.5 2347.0 243.8 2343.9 238.9 2339.6C234.0 2335.3 231.8 2335.5 225.7 2331.8C219.6 2328.1 219.4 2325.1 212.6 2323.9C205.8 2322.7 203.5 2326.5 196.7 2326.5C189.9 2326.5 190.3 2323.9 183.5 2323.9C176.7 2323.9 174.5 2325.9 167.7 2326.5C160.9 2327.1 160.7 2326.5 154.5 2326.5C148.3 2326.5 146.5 2324.7 141.3 2326.5C136.1 2328.3 136.1 2328.9 132.1 2334.4C128.1 2339.9 128.2 2344.0 124.2 2350.1C120.2 2356.2 119.2 2357.5 114.9 2360.6C110.6 2363.7 109.1 2365.6 105.7 2363.2C102.3 2360.8 101.9 2359.3 100.4 2350.1C98.9 2340.9 99.4 2335.5 99.1 2323.9C98.8 2312.3 98.2 2312.5 99.1 2300.3C100.0 2288.1 100.6 2282.5 103.1 2271.5C105.5 2260.5 106.5 2262.3 109.6 2253.1C112.7 2243.9 113.7 2242.5 116.2 2232.1C118.7 2221.7 118.3 2217.7 120.2 2208.5C122.1 2199.3 120.5 2198.9 124.2 2192.8C127.9 2186.7 130.5 2187.8 136.0 2182.3C141.5 2176.8 142.7 2177.2 147.9 2169.2C153.2 2161.2 153.9 2157.4 158.5 2148.2C163.1 2139.0 163.7 2139.1 167.7 2129.9C171.7 2120.7 172.0 2119.9 175.7 2108.9C179.4 2097.9 178.6 2089.3 183.5 2082.6C188.4 2075.9 191.1 2081.8 196.7 2080.0C202.3 2078.2 202.4 2076.3 207.3 2074.8C212.2 2073.3 212.2 2072.6 217.8 2073.5Z" fill="none" stroke="#0a1430" stroke-width="0.8" stroke-opacity="0.7"/>
<line x1="692.143" y1="2123.73" x2="929.627" y2="2123.73" stroke="#9a9a9a" stroke-width="1.6"/>
<line x1="692.143" y1="2233.51" x2="929.627" y2="2233.51" stroke="#9a9a9a" stroke-width="1.6"/>
<line x1="692.143" y1="2342.77" x2="929.627" y2="2342.77" stroke="#9a9a9a" stroke-width="1.6"/>
<line x1="711.857" y1="2078.73" x2="711.857" y2="2363.15" stroke="#9a9a9a" stroke-width="1.4"/>
<line x1="789.704" y1="2086.64" x2="789.704" y2="2363.15" stroke="#9a9a9a" stroke-width="1.4"/>
<line x1="868.158" y1="2086.64" x2="868.158" y2="2363.15" stroke="#9a9a9a" stroke-width="1.4"/>
<line x1="682.336" y1="2074.78" x2="682.336" y2="2367.1" stroke="#8a8a8a" stroke-width="2.8"/>
<path d="M689.829 2380.86L693.829 2377.26L929.255 2377.26L933.255 2380.86Z" fill="#858585"/>
<g clip-path="url(#c152)"><rect x="684.8" y="2068.8" width="253.5" height="304.3" fill="#1f26e4"/><g filter="url(#bl)"><ellipse cx="838.5" cy="2277.2" rx="60" ry="65.2" fill="url(#g153)"/><ellipse cx="934.9" cy="2316.8" rx="15.7" ry="20.9" fill="url(#g154)"/><ellipse cx="754.1" cy="2319.5" rx="44.4" ry="28.7" fill="url(#g155)"/><ellipse cx="812.1" cy="2081.4" rx="44.4" ry="28.7" fill="url(#g156)"/><ellipse cx="705.3" cy="2335.4" rx="33.9" ry="36.5" fill="url(#g150)"/><ellipse cx="696.1" cy="2371.1" rx="31.3" ry="54.8" transform="rotate(-10 696.1 2371.1)" fill="url(#g151)"/></g><g filter="url(#wf)" opacity="0.8"><rect x="674.8" y="2058.8" width="273.5" height="324.3" fill="url(#m3)"/></g></g><path d="M809.5 2074.8C815.1 2075.7 817.2 2076.6 822.8 2080.0C828.4 2083.4 828.4 2087.2 833.3 2089.4C838.2 2091.6 839.2 2089.7 843.8 2089.4C848.4 2089.1 850.0 2084.9 853.1 2088.0C856.2 2091.1 854.2 2093.6 857.0 2102.6C859.8 2111.6 860.6 2116.5 864.9 2126.4C869.2 2136.3 870.6 2136.3 875.5 2144.9C880.4 2153.5 880.9 2154.1 886.1 2163.4C891.4 2172.7 892.5 2174.7 898.0 2184.6C903.5 2194.5 906.4 2195.2 909.8 2205.7C913.2 2216.2 910.6 2219.7 912.4 2229.6C914.2 2239.5 914.9 2238.9 917.7 2248.1C920.5 2257.3 922.5 2260.0 924.4 2269.2C926.3 2278.4 923.9 2277.8 925.7 2287.7C927.5 2297.6 930.8 2302.9 932.3 2311.6C933.8 2320.3 934.4 2319.9 932.3 2324.8C930.2 2329.7 927.7 2329.0 923.1 2332.7C918.5 2336.4 917.3 2339.4 912.4 2340.6C907.5 2341.8 908.0 2340.1 901.9 2338.0C895.8 2335.9 892.9 2333.8 886.1 2331.4C879.3 2329.0 878.5 2326.9 872.9 2327.5C867.3 2328.1 865.4 2329.2 862.3 2334.1C859.2 2339.0 862.8 2343.3 859.7 2348.6C856.6 2353.8 854.1 2355.4 849.2 2356.6C844.3 2357.8 842.8 2357.0 838.5 2353.9C834.2 2350.8 835.5 2347.6 830.6 2343.3C825.7 2339.0 823.5 2339.1 817.4 2335.4C811.3 2331.7 811.1 2328.7 804.3 2327.5C797.5 2326.3 795.2 2330.1 788.4 2330.1C781.6 2330.1 782.0 2327.5 775.2 2327.5C768.4 2327.5 766.2 2329.5 759.4 2330.1C752.6 2330.7 752.4 2330.1 746.2 2330.1C740.0 2330.1 738.2 2328.3 733.0 2330.1C727.8 2331.9 727.8 2332.4 723.8 2338.0C719.8 2343.6 719.9 2347.7 715.9 2353.9C711.9 2360.1 710.9 2361.4 706.6 2364.5C702.3 2367.6 700.8 2369.6 697.4 2367.1C694.0 2364.6 693.6 2363.1 692.1 2353.9C690.6 2344.7 691.1 2339.2 690.8 2327.5C690.5 2315.8 689.9 2315.9 690.8 2303.6C691.7 2291.3 692.3 2285.7 694.8 2274.6C697.2 2263.5 698.2 2265.3 701.3 2256.0C704.4 2246.7 705.4 2245.3 707.9 2234.8C710.4 2224.3 710.0 2220.2 711.9 2211.0C713.8 2201.8 712.2 2201.4 715.9 2195.2C719.6 2189.0 722.2 2190.2 727.7 2184.6C733.2 2179.0 734.4 2179.4 739.6 2171.4C744.9 2163.4 745.6 2159.5 750.2 2150.2C754.8 2140.9 755.4 2140.9 759.4 2131.6C763.4 2122.3 763.7 2121.6 767.4 2110.5C771.1 2099.4 770.3 2090.8 775.2 2084.0C780.1 2077.2 782.8 2083.2 788.4 2081.4C794.0 2079.6 794.1 2077.6 799.0 2076.1C803.9 2074.6 803.9 2073.9 809.5 2074.8Z" fill="none" stroke="#0a1430" stroke-width="0.8" stroke-opacity="0.7"/>
<line x1="524.9" y1="1660.9" x2="524.9" y2="1950.6" stroke="#a8a8a8" stroke-width="2.4"/>
<line x1="470.1" y1="1671.3" x2="470.1" y2="1966.3" stroke="#b0b0b0" stroke-width="0.9"/>
<line x1="514.5" y1="1901" x2="514.5" y2="1966.3" stroke="#b0b0b0" stroke-width="0.9"/>
<line x1="464.9" y1="1914.6" x2="516.3" y2="1914.6" stroke="#a0a0a0" stroke-width="1"/>
<line x1="464.9" y1="1950.6" x2="516.3" y2="1950.6" stroke="#a0a0a0" stroke-width="1"/>
<line x1="464.9" y1="1958.4" x2="516.3" y2="1958.4" stroke="#a0a0a0" stroke-width="1"/>
<line x1="464.9" y1="1966.3" x2="516.3" y2="1966.3" stroke="#a0a0a0" stroke-width="1"/>
<line x1="483.9" y1="1914.6" x2="483.9" y2="1966.3" stroke="#a8a8a8" stroke-width="0.9"/>
<line x1="500.1" y1="1914.6" x2="500.1" y2="1966.3" stroke="#a8a8a8" stroke-width="0.9"/>
<g clip-path="url(#c157)"><rect x="459.6" y="1654.9" width="62.7" height="305.6" fill="#2023d4"/><g filter="url(#bl)"><ellipse cx="489.7" cy="1718.3" rx="31.3" ry="67.9" fill="url(#g158)"/><ellipse cx="504" cy="1838.4" rx="19.6" ry="94" transform="rotate(-6 504 1838.4)" fill="url(#g159)"/><ellipse cx="493.6" cy="1940.2" rx="13.1" ry="94" transform="rotate(-8 493.6 1940.2)" fill="url(#g160)"/><ellipse cx="477.9" cy="1838.4" rx="15.7" ry="122.7" transform="rotate(-6 477.9 1838.4)" fill="url(#g161)"/><ellipse cx="514.5" cy="1848.8" rx="5.7" ry="99.2" transform="rotate(-4 514.5 1848.8)" fill="url(#g126)"/><ellipse cx="502.7" cy="1692.2" rx="15.7" ry="31.3" fill="url(#g162)"/></g><g filter="url(#wf2)" opacity="0.5"><rect x="449.6" y="1644.9" width="82.7" height="325.6" fill="url(#m4)"/></g></g><path d="M494.9 1660.9C498.6 1660.1 499.6 1662.5 502.7 1663.5C505.8 1664.5 508.1 1662.4 510.5 1666.1C512.9 1669.8 513.4 1673.4 514.5 1681.8C515.6 1690.2 515.4 1695.4 515.8 1707.9C516.2 1720.4 516.3 1728.7 516.3 1744.4C516.3 1760.1 516.2 1770.5 515.8 1786.2C515.4 1801.9 515.8 1808.1 514.5 1822.7C513.2 1837.3 511.3 1846.1 509.2 1859.2C507.1 1872.3 505.8 1877.0 504.0 1888.0C502.2 1899.0 501.7 1904.2 500.1 1914.1C498.5 1924.0 497.5 1930.0 496.2 1937.6C494.9 1945.2 494.6 1948.5 493.6 1951.9C492.6 1955.3 492.0 1955.3 491.0 1954.5C490.0 1953.7 489.2 1952.4 488.4 1948.0C487.6 1943.6 488.1 1939.6 487.0 1932.3C485.9 1925.0 484.9 1920.9 483.1 1911.5C481.3 1902.1 480.0 1896.9 477.9 1885.4C475.8 1873.9 474.5 1867.6 472.7 1854.0C470.9 1840.4 470.0 1833.2 468.8 1817.5C467.6 1801.8 467.3 1793.5 466.7 1775.7C466.1 1757.9 464.7 1742.3 465.6 1728.7C466.5 1715.1 468.9 1717.3 471.4 1707.9C473.9 1698.5 475.3 1689.9 477.9 1681.8C480.5 1673.7 481.0 1671.6 484.4 1667.4C487.8 1663.2 491.2 1661.7 494.9 1660.9Z" fill="none" stroke="#0a1430" stroke-width="0.8" stroke-opacity="0.7"/>
<line x1="1140.9" y1="1664.8" x2="1140.9" y2="1954.5" stroke="#a8a8a8" stroke-width="2.4"/>
<line x1="1086.1" y1="1675.2" x2="1086.1" y2="1970.2" stroke="#b0b0b0" stroke-width="0.9"/>
<line x1="1130.5" y1="1904.9" x2="1130.5" y2="1970.2" stroke="#b0b0b0" stroke-width="0.9"/>
<line x1="1080.9" y1="1918.5" x2="1132.3" y2="1918.5" stroke="#a0a0a0" stroke-width="1"/>
<line x1="1080.9" y1="1954.5" x2="1132.3" y2="1954.5" stroke="#a0a0a0" stroke-width="1"/>
<line x1="1080.9" y1="1962.3" x2="1132.3" y2="1962.3" stroke="#a0a0a0" stroke-width="1"/>
<line x1="1080.9" y1="1970.2" x2="1132.3" y2="1970.2" stroke="#a0a0a0" stroke-width="1"/>
<line x1="1099.9" y1="1918.5" x2="1099.9" y2="1970.2" stroke="#a8a8a8" stroke-width="0.9"/>
<line x1="1116.1" y1="1918.5" x2="1116.1" y2="1970.2" stroke="#a8a8a8" stroke-width="0.9"/>
<g clip-path="url(#c163)"><rect x="1075.6" y="1658.8" width="62.7" height="305.6" fill="#2023d4"/><g filter="url(#bl)"><ellipse cx="1103" cy="1722.2" rx="13.1" ry="52.2" transform="rotate(-10 1103 1722.2)" fill="url(#g164)"/><ellipse cx="1116.1" cy="1904.9" rx="10.4" ry="31.3" transform="rotate(-8 1116.1 1904.9)" fill="url(#g165)"/><ellipse cx="1123.9" cy="1743.1" rx="14.4" ry="99.2" fill="url(#g166)"/><ellipse cx="1108.8" cy="1949.3" rx="11.7" ry="49.6" transform="rotate(-5 1108.8 1949.3)" fill="url(#g167)"/><ellipse cx="1099.1" cy="1842.3" rx="19.6" ry="122.7" transform="rotate(-6 1099.1 1842.3)" fill="url(#g161)"/><ellipse cx="1130.5" cy="1878.8" rx="5.7" ry="73.1" transform="rotate(-8 1130.5 1878.8)" fill="url(#g126)"/><ellipse cx="1116.1" cy="1813.6" rx="10.4" ry="65.2" transform="rotate(-5 1116.1 1813.6)" fill="url(#g162)"/></g><g filter="url(#wf2)" opacity="0.5"><rect x="1065.6" y="1648.8" width="82.7" height="325.6" fill="url(#m4)"/></g></g><path d="M1110.9 1664.8C1114.6 1664.0 1115.6 1666.4 1118.7 1667.4C1121.8 1668.4 1124.1 1666.3 1126.5 1670.0C1128.9 1673.7 1129.4 1677.3 1130.5 1685.7C1131.6 1694.1 1131.4 1699.3 1131.8 1711.8C1132.2 1724.3 1132.3 1732.6 1132.3 1748.3C1132.3 1764.0 1132.2 1774.4 1131.8 1790.1C1131.4 1805.8 1131.8 1812.0 1130.5 1826.6C1129.2 1841.2 1127.3 1850.0 1125.2 1863.1C1123.1 1876.2 1121.8 1880.9 1120.0 1891.9C1118.2 1902.9 1117.7 1908.1 1116.1 1918.0C1114.5 1927.9 1113.5 1933.9 1112.2 1941.5C1110.9 1949.1 1110.6 1952.4 1109.6 1955.8C1108.6 1959.2 1108.0 1959.2 1107.0 1958.4C1106.0 1957.6 1105.2 1956.3 1104.4 1951.9C1103.6 1947.5 1104.1 1943.5 1103.0 1936.2C1101.9 1928.9 1100.9 1924.8 1099.1 1915.4C1097.3 1906.0 1096.0 1900.8 1093.9 1889.3C1091.8 1877.8 1090.5 1871.5 1088.7 1857.9C1086.9 1844.3 1086.0 1837.1 1084.8 1821.4C1083.6 1805.7 1083.3 1797.4 1082.7 1779.6C1082.1 1761.8 1080.7 1746.2 1081.6 1732.6C1082.5 1719.0 1084.9 1721.2 1087.4 1711.8C1089.9 1702.4 1091.3 1693.8 1093.9 1685.7C1096.5 1677.6 1097.0 1675.5 1100.4 1671.3C1103.8 1667.1 1107.2 1665.6 1110.9 1664.8Z" fill="none" stroke="#0a1430" stroke-width="0.8" stroke-opacity="0.7"/>
<line x1="517.6" y1="2076.1" x2="517.6" y2="2372.17" stroke="#a8a8a8" stroke-width="2.4"/>
<line x1="462.8" y1="2086.73" x2="462.8" y2="2388.22" stroke="#b0b0b0" stroke-width="0.9"/>
<line x1="507.2" y1="2321.48" x2="507.2" y2="2388.22" stroke="#b0b0b0" stroke-width="0.9"/>
<line x1="457.6" y1="2335.38" x2="509" y2="2335.38" stroke="#a0a0a0" stroke-width="1"/>
<line x1="457.6" y1="2372.17" x2="509" y2="2372.17" stroke="#a0a0a0" stroke-width="1"/>
<line x1="457.6" y1="2380.14" x2="509" y2="2380.14" stroke="#a0a0a0" stroke-width="1"/>
<line x1="457.6" y1="2388.22" x2="509" y2="2388.22" stroke="#a0a0a0" stroke-width="1"/>
<line x1="476.6" y1="2335.38" x2="476.6" y2="2388.22" stroke="#a8a8a8" stroke-width="0.9"/>
<line x1="492.8" y1="2335.38" x2="492.8" y2="2388.22" stroke="#a8a8a8" stroke-width="0.9"/>
<g clip-path="url(#c168)"><rect x="452.3" y="2070.1" width="62.7" height="312.1" fill="#2122d1"/><g filter="url(#bl)"><ellipse cx="490.2" cy="2214.8" rx="13.1" ry="78.3" transform="rotate(-5 490.2 2214.8)" fill="url(#g169)"/><ellipse cx="492.8" cy="2089.4" rx="18.3" ry="18.3" fill="url(#g170)"/><ellipse cx="488.9" cy="2332.2" rx="9.1" ry="23.5" transform="rotate(-8 488.9 2332.2)" fill="url(#g171)"/><ellipse cx="485" cy="2369.5" rx="11" ry="44.4" transform="rotate(-5 485 2369.5)" fill="url(#g167)"/><ellipse cx="471.9" cy="2246.8" rx="18.3" ry="135.7" transform="rotate(-5 471.9 2246.8)" fill="url(#g172)"/><ellipse cx="506.4" cy="2268.1" rx="6.5" ry="99.2" transform="rotate(-6 506.4 2268.1)" fill="url(#g173)"/></g><g filter="url(#wf2)" opacity="0.5"><rect x="442.3" y="2060.1" width="82.7" height="332.1" fill="url(#m4)"/></g></g><path d="M487.6 2076.1C491.3 2075.3 492.3 2077.7 495.4 2078.8C498.5 2079.9 500.8 2077.7 503.2 2081.4C505.6 2085.1 506.1 2089.0 507.2 2097.5C508.3 2106.0 508.1 2111.3 508.5 2124.1C508.9 2136.9 509.0 2145.4 509.0 2161.4C509.0 2177.4 508.9 2188.2 508.5 2204.2C508.1 2220.2 508.5 2226.6 507.2 2241.5C505.9 2256.4 504.0 2265.5 501.9 2278.8C499.8 2292.1 498.5 2297.0 496.7 2308.2C494.9 2319.4 494.4 2324.8 492.8 2334.9C491.2 2345.0 490.2 2351.2 488.9 2358.9C487.6 2366.6 487.3 2370.0 486.3 2373.5C485.3 2377.0 484.7 2377.0 483.7 2376.2C482.7 2375.4 481.9 2374.0 481.1 2369.5C480.3 2365.0 480.8 2361.0 479.7 2353.5C478.6 2346.0 477.6 2341.8 475.8 2332.2C474.0 2322.6 472.7 2317.3 470.6 2305.5C468.5 2293.7 467.2 2287.3 465.4 2273.4C463.6 2259.5 462.7 2252.1 461.5 2236.1C460.3 2220.1 460.0 2211.5 459.4 2193.4C458.8 2175.3 457.4 2159.3 458.3 2145.4C459.2 2131.5 461.6 2133.7 464.1 2124.1C466.6 2114.5 468.0 2105.8 470.6 2097.5C473.2 2089.2 473.7 2087.0 477.1 2082.7C480.5 2078.4 483.9 2076.9 487.6 2076.1Z" fill="none" stroke="#0a1430" stroke-width="0.8" stroke-opacity="0.7"/>
<line x1="1139.6" y1="2076.1" x2="1139.6" y2="2368.41" stroke="#a8a8a8" stroke-width="2.4"/>
<line x1="1084.8" y1="2086.59" x2="1084.8" y2="2384.25" stroke="#b0b0b0" stroke-width="0.9"/>
<line x1="1129.2" y1="2318.36" x2="1129.2" y2="2384.25" stroke="#b0b0b0" stroke-width="0.9"/>
<line x1="1079.6" y1="2332.08" x2="1131" y2="2332.08" stroke="#a0a0a0" stroke-width="1"/>
<line x1="1079.6" y1="2368.41" x2="1131" y2="2368.41" stroke="#a0a0a0" stroke-width="1"/>
<line x1="1079.6" y1="2376.28" x2="1131" y2="2376.28" stroke="#a0a0a0" stroke-width="1"/>
<line x1="1079.6" y1="2384.25" x2="1131" y2="2384.25" stroke="#a0a0a0" stroke-width="1"/>
<line x1="1098.6" y1="2332.08" x2="1098.6" y2="2384.25" stroke="#a8a8a8" stroke-width="0.9"/>
<line x1="1114.8" y1="2332.08" x2="1114.8" y2="2384.25" stroke="#a8a8a8" stroke-width="0.9"/>
<g clip-path="url(#c174)"><rect x="1074.3" y="2070.1" width="62.7" height="308.2" fill="#2122d1"/><g filter="url(#bl)"><ellipse cx="1114.8" cy="2213" rx="13.1" ry="78.3" transform="rotate(-5 1114.8 2213)" fill="url(#g175)"/><ellipse cx="1107" cy="2089.2" rx="15.7" ry="20.9" fill="url(#g176)"/><ellipse cx="1109.6" cy="2339.4" rx="7.8" ry="18.3" transform="rotate(-8 1109.6 2339.4)" fill="url(#g171)"/><ellipse cx="1107" cy="2367.1" rx="10.4" ry="39.1" transform="rotate(-5 1107 2367.1)" fill="url(#g167)"/><ellipse cx="1093.9" cy="2244.6" rx="18.3" ry="135.7" transform="rotate(-5 1093.9 2244.6)" fill="url(#g172)"/><ellipse cx="1128.4" cy="2265.7" rx="6.5" ry="99.2" transform="rotate(-6 1128.4 2265.7)" fill="url(#g173)"/></g><g filter="url(#wf2)" opacity="0.5"><rect x="1064.3" y="2060.1" width="82.7" height="328.2" fill="url(#m4)"/></g></g><path d="M1109.6 2076.1C1113.3 2075.3 1114.3 2077.7 1117.4 2078.7C1120.5 2079.7 1122.8 2077.6 1125.2 2081.3C1127.6 2085.0 1128.1 2088.8 1129.2 2097.2C1130.3 2105.6 1130.1 2110.9 1130.5 2123.5C1130.9 2136.1 1131.0 2144.6 1131.0 2160.4C1131.0 2176.2 1130.9 2186.7 1130.5 2202.5C1130.1 2218.3 1130.5 2224.7 1129.2 2239.4C1127.9 2254.1 1126.0 2263.0 1123.9 2276.2C1121.8 2289.4 1120.5 2294.1 1118.7 2305.2C1116.9 2316.3 1116.4 2321.6 1114.8 2331.6C1113.2 2341.6 1112.2 2347.7 1110.9 2355.3C1109.6 2362.9 1109.3 2366.3 1108.3 2369.7C1107.3 2373.1 1106.7 2373.1 1105.7 2372.3C1104.7 2371.5 1103.9 2370.3 1103.1 2365.8C1102.3 2361.3 1102.8 2357.3 1101.7 2349.9C1100.6 2342.5 1099.6 2338.5 1097.8 2329.0C1096.0 2319.5 1094.7 2314.2 1092.6 2302.6C1090.5 2291.0 1089.2 2284.6 1087.4 2270.9C1085.6 2257.2 1084.7 2249.9 1083.5 2234.1C1082.3 2218.3 1082.0 2209.8 1081.4 2191.9C1080.8 2174.0 1079.4 2158.2 1080.3 2144.5C1081.2 2130.8 1083.6 2133.0 1086.1 2123.5C1088.6 2114.0 1090.0 2105.4 1092.6 2097.2C1095.2 2089.0 1095.7 2086.9 1099.1 2082.7C1102.5 2078.5 1105.9 2076.9 1109.6 2076.1Z" fill="none" stroke="#0a1430" stroke-width="0.8" stroke-opacity="0.7"/>
<text transform="translate(76.2 1715.32) rotate(0) scale(0.78 1)" font-size="17" text-anchor="middle" class="ls" fill="#1a1a1a" stroke="#1a1a1a" stroke-width="0.22">5</text>
<text transform="translate(76.2 1828.82) rotate(0) scale(0.78 1)" font-size="17" text-anchor="middle" class="ls" fill="#1a1a1a" stroke="#1a1a1a" stroke-width="0.22">0</text>
<text transform="translate(76.2 1941.82) rotate(0) scale(0.78 1)" font-size="17" text-anchor="middle" class="ls" fill="#1a1a1a" stroke="#1a1a1a" stroke-width="0.22">5</text>
<line x1="53" y1="1709.2" x2="65" y2="1709.2" stroke="#111" stroke-width="1.4"/>
<text transform="translate(118.7 1997.12) rotate(0) scale(0.78 1)" font-size="17" text-anchor="middle" class="ls" fill="#1a1a1a" stroke="#1a1a1a" stroke-width="0.22">5</text>
<text transform="translate(199.6 1997.12) rotate(0) scale(0.78 1)" font-size="17" text-anchor="middle" class="ls" fill="#1a1a1a" stroke="#1a1a1a" stroke-width="0.22">0</text>
<text transform="translate(280.6 1997.12) rotate(0) scale(0.78 1)" font-size="17" text-anchor="middle" class="ls" fill="#1a1a1a" stroke="#1a1a1a" stroke-width="0.22">-5</text>
<text transform="translate(352.3 1988.12) rotate(0) scale(0.78 1)" font-size="17" text-anchor="middle" class="ls" fill="#1a1a1a" stroke="#1a1a1a" stroke-width="0.22">0</text>
<text transform="translate(42 1811) rotate(0) scale(0.88 1)" font-size="13" text-anchor="middle" class="ls" fill="#444" stroke="#444" stroke-width="0.22">mm</text>
<text transform="translate(372 2002) rotate(0) scale(0.88 1)" font-size="13" text-anchor="middle" class="ls" fill="#444" stroke="#444" stroke-width="0.22">mm</text>
<text transform="translate(663 1708.72) rotate(0) scale(0.78 1)" font-size="17" text-anchor="middle" class="ls" fill="#1a1a1a" stroke="#1a1a1a" stroke-width="0.22">5</text>
<text transform="translate(663 1824.92) rotate(0) scale(0.78 1)" font-size="17" text-anchor="middle" class="ls" fill="#1a1a1a" stroke="#1a1a1a" stroke-width="0.22">0</text>
<text transform="translate(663 1940.52) rotate(0) scale(0.78 1)" font-size="17" text-anchor="middle" class="ls" fill="#1a1a1a" stroke="#1a1a1a" stroke-width="0.22">5</text>
<line x1="640" y1="1702.6" x2="654.5" y2="1702.6" stroke="#111" stroke-width="1.4"/>
<text transform="translate(705.3 1997.12) rotate(0) scale(0.78 1)" font-size="17" text-anchor="middle" class="ls" fill="#1a1a1a" stroke="#1a1a1a" stroke-width="0.22">5</text>
<text transform="translate(787.5 1997.12) rotate(0) scale(0.78 1)" font-size="17" text-anchor="middle" class="ls" fill="#1a1a1a" stroke="#1a1a1a" stroke-width="0.22">0</text>
<text transform="translate(869.7 1997.12) rotate(0) scale(0.78 1)" font-size="17" text-anchor="middle" class="ls" fill="#1a1a1a" stroke="#1a1a1a" stroke-width="0.22">-5</text>
<text transform="translate(942.8 1988.12) rotate(0) scale(0.78 1)" font-size="17" text-anchor="middle" class="ls" fill="#1a1a1a" stroke="#1a1a1a" stroke-width="0.22">0</text>
<text transform="translate(628 1809) rotate(0) scale(0.88 1)" font-size="13" text-anchor="middle" class="ls" fill="#444" stroke="#444" stroke-width="0.22">mm</text>
<text transform="translate(964.7 2002) rotate(0) scale(0.88 1)" font-size="13" text-anchor="middle" class="ls" fill="#444" stroke="#444" stroke-width="0.22">mm</text>
<text transform="translate(74.4 2124.52) rotate(0) scale(0.78 1)" font-size="17" text-anchor="middle" class="ls" fill="#1a1a1a" stroke="#1a1a1a" stroke-width="0.22">5</text>
<text transform="translate(74.4 2238.02) rotate(0) scale(0.78 1)" font-size="17" text-anchor="middle" class="ls" fill="#1a1a1a" stroke="#1a1a1a" stroke-width="0.22">0</text>
<text transform="translate(74.4 2352.32) rotate(0) scale(0.78 1)" font-size="17" text-anchor="middle" class="ls" fill="#1a1a1a" stroke="#1a1a1a" stroke-width="0.22">5</text>
<line x1="53" y1="2118.4" x2="69" y2="2118.4" stroke="#111" stroke-width="1.4"/>
<text transform="translate(116.6 2407.12) rotate(0) scale(0.78 1)" font-size="17" text-anchor="middle" class="ls" fill="#1a1a1a" stroke="#1a1a1a" stroke-width="0.22">5</text>
<text transform="translate(197.8 2407.12) rotate(0) scale(0.78 1)" font-size="17" text-anchor="middle" class="ls" fill="#1a1a1a" stroke="#1a1a1a" stroke-width="0.22">0</text>
<text transform="translate(279.3 2407.12) rotate(0) scale(0.78 1)" font-size="17" text-anchor="middle" class="ls" fill="#1a1a1a" stroke="#1a1a1a" stroke-width="0.22">-5</text>
<text transform="translate(352.3 2399.32) rotate(0) scale(0.78 1)" font-size="17" text-anchor="middle" class="ls" fill="#1a1a1a" stroke="#1a1a1a" stroke-width="0.22">0</text>
<text transform="translate(42 2221) rotate(0) scale(0.88 1)" font-size="13" text-anchor="middle" class="ls" fill="#444" stroke="#444" stroke-width="0.22">mm</text>
<text transform="translate(372 2414) rotate(0) scale(0.88 1)" font-size="13" text-anchor="middle" class="ls" fill="#444" stroke="#444" stroke-width="0.22">mm</text>
<text transform="translate(665.3 2125.32) rotate(0) scale(0.78 1)" font-size="17" text-anchor="middle" class="ls" fill="#1a1a1a" stroke="#1a1a1a" stroke-width="0.22">5</text>
<text transform="translate(665.3 2240.92) rotate(0) scale(0.78 1)" font-size="17" text-anchor="middle" class="ls" fill="#1a1a1a" stroke="#1a1a1a" stroke-width="0.22">0</text>
<text transform="translate(665.3 2355.72) rotate(0) scale(0.78 1)" font-size="17" text-anchor="middle" class="ls" fill="#1a1a1a" stroke="#1a1a1a" stroke-width="0.22">5</text>
<line x1="641" y1="2119.2" x2="657" y2="2119.2" stroke="#111" stroke-width="1.4"/>
<text transform="translate(707.3 2411.12) rotate(0) scale(0.78 1)" font-size="17" text-anchor="middle" class="ls" fill="#1a1a1a" stroke="#1a1a1a" stroke-width="0.22">5</text>
<text transform="translate(789.3 2411.12) rotate(0) scale(0.78 1)" font-size="17" text-anchor="middle" class="ls" fill="#1a1a1a" stroke="#1a1a1a" stroke-width="0.22">0</text>
<text transform="translate(871.8 2411.12) rotate(0) scale(0.78 1)" font-size="17" text-anchor="middle" class="ls" fill="#1a1a1a" stroke="#1a1a1a" stroke-width="0.22">-5</text>
<text transform="translate(944.1 2403.22) rotate(0) scale(0.78 1)" font-size="17" text-anchor="middle" class="ls" fill="#1a1a1a" stroke="#1a1a1a" stroke-width="0.22">0</text>
<text transform="translate(628 2223) rotate(0) scale(0.88 1)" font-size="13" text-anchor="middle" class="ls" fill="#444" stroke="#444" stroke-width="0.22">mm</text>
<text transform="translate(964.7 2418) rotate(0) scale(0.88 1)" font-size="13" text-anchor="middle" class="ls" fill="#444" stroke="#444" stroke-width="0.22">mm</text>
<text transform="translate(547.6 1704.12) rotate(0) scale(0.78 1)" font-size="17" text-anchor="middle" class="ls" fill="#1a1a1a" stroke="#1a1a1a" stroke-width="0.22">5</text>
<line x1="526.2" y1="1698" x2="540.5" y2="1698" stroke="#111" stroke-width="1.4"/>
<text transform="translate(543.2 1822.32) rotate(0) scale(0.78 1)" font-size="17" text-anchor="middle" class="ls" fill="#1a1a1a" stroke="#1a1a1a" stroke-width="0.22">0</text>
<text transform="translate(543.2 1941.12) rotate(0) scale(0.78 1)" font-size="17" text-anchor="middle" class="ls" fill="#1a1a1a" stroke="#1a1a1a" stroke-width="0.22">5</text>
<text transform="translate(575.8 1806) rotate(0) scale(0.88 1)" font-size="13" text-anchor="middle" class="ls" fill="#444" stroke="#444" stroke-width="0.22">mm</text>
<text transform="translate(467.5 1999.46) rotate(0) scale(0.78 1)" font-size="16" text-anchor="middle" class="ls" fill="#1a1a1a" stroke="#1a1a1a" stroke-width="0.22">-2</text>
<text transform="translate(484.4 1999.46) rotate(0) scale(0.78 1)" font-size="16" text-anchor="middle" class="ls" fill="#1a1a1a" stroke="#1a1a1a" stroke-width="0.22">-1</text>
<text transform="translate(500.6 1999.46) rotate(0) scale(0.78 1)" font-size="16" text-anchor="middle" class="ls" fill="#1a1a1a" stroke="#1a1a1a" stroke-width="0.22">0</text>
<text transform="translate(517.8 1999.46) rotate(0) scale(0.78 1)" font-size="16" text-anchor="middle" class="ls" fill="#1a1a1a" stroke="#1a1a1a" stroke-width="0.22">1</text>
<text transform="translate(1163.9 1708.22) rotate(0) scale(0.78 1)" font-size="17" text-anchor="middle" class="ls" fill="#1a1a1a" stroke="#1a1a1a" stroke-width="0.22">5</text>
<line x1="1141" y1="1702.1" x2="1158" y2="1702.1" stroke="#111" stroke-width="1.4"/>
<text transform="translate(1159.2 1826.22) rotate(0) scale(0.78 1)" font-size="17" text-anchor="middle" class="ls" fill="#1a1a1a" stroke="#1a1a1a" stroke-width="0.22">0</text>
<text transform="translate(1159.2 1943.72) rotate(0) scale(0.78 1)" font-size="17" text-anchor="middle" class="ls" fill="#1a1a1a" stroke="#1a1a1a" stroke-width="0.22">5</text>
<text transform="translate(1191.8 1809.5) rotate(0) scale(0.88 1)" font-size="13" text-anchor="middle" class="ls" fill="#444" stroke="#444" stroke-width="0.22">mm</text>
<text transform="translate(1083.5 2000.76) rotate(0) scale(0.78 1)" font-size="16" text-anchor="middle" class="ls" fill="#1a1a1a" stroke="#1a1a1a" stroke-width="0.22">-2</text>
<text transform="translate(1100.4 2000.76) rotate(0) scale(0.78 1)" font-size="16" text-anchor="middle" class="ls" fill="#1a1a1a" stroke="#1a1a1a" stroke-width="0.22">-1</text>
<text transform="translate(1116.6 2000.76) rotate(0) scale(0.78 1)" font-size="16" text-anchor="middle" class="ls" fill="#1a1a1a" stroke="#1a1a1a" stroke-width="0.22">0</text>
<text transform="translate(1133.8 2000.76) rotate(0) scale(0.78 1)" font-size="16" text-anchor="middle" class="ls" fill="#1a1a1a" stroke="#1a1a1a" stroke-width="0.22">1</text>
<text transform="translate(541.9 2119.52) rotate(0) scale(0.78 1)" font-size="17" text-anchor="middle" class="ls" fill="#1a1a1a" stroke="#1a1a1a" stroke-width="0.22">5</text>
<line x1="521" y1="2113.4" x2="538" y2="2113.4" stroke="#111" stroke-width="1.4"/>
<text transform="translate(537.2 2240.92) rotate(0) scale(0.78 1)" font-size="17" text-anchor="middle" class="ls" fill="#1a1a1a" stroke="#1a1a1a" stroke-width="0.22">0</text>
<text transform="translate(537.2 2362.02) rotate(0) scale(0.78 1)" font-size="17" text-anchor="middle" class="ls" fill="#1a1a1a" stroke="#1a1a1a" stroke-width="0.22">5</text>
<text transform="translate(570.6 2224) rotate(0) scale(0.88 1)" font-size="13" text-anchor="middle" class="ls" fill="#444" stroke="#444" stroke-width="0.22">mm</text>
<text transform="translate(460.5 2417.76) rotate(0) scale(0.78 1)" font-size="16" text-anchor="middle" class="ls" fill="#1a1a1a" stroke="#1a1a1a" stroke-width="0.22">-2</text>
<text transform="translate(477.4 2417.76) rotate(0) scale(0.78 1)" font-size="16" text-anchor="middle" class="ls" fill="#1a1a1a" stroke="#1a1a1a" stroke-width="0.22">-1</text>
<text transform="translate(493.6 2417.76) rotate(0) scale(0.78 1)" font-size="16" text-anchor="middle" class="ls" fill="#1a1a1a" stroke="#1a1a1a" stroke-width="0.22">0</text>
<text transform="translate(510.8 2417.76) rotate(0) scale(0.78 1)" font-size="16" text-anchor="middle" class="ls" fill="#1a1a1a" stroke="#1a1a1a" stroke-width="0.22">1</text>
<text transform="translate(1164.4 2119.52) rotate(0) scale(0.78 1)" font-size="17" text-anchor="middle" class="ls" fill="#1a1a1a" stroke="#1a1a1a" stroke-width="0.22">5</text>
<line x1="1139.6" y1="2113.4" x2="1156.6" y2="2113.4" stroke="#111" stroke-width="1.4"/>
<text transform="translate(1159.7 2238.82) rotate(0) scale(0.78 1)" font-size="17" text-anchor="middle" class="ls" fill="#1a1a1a" stroke="#1a1a1a" stroke-width="0.22">0</text>
<text transform="translate(1159.7 2358.92) rotate(0) scale(0.78 1)" font-size="17" text-anchor="middle" class="ls" fill="#1a1a1a" stroke="#1a1a1a" stroke-width="0.22">5</text>
<text transform="translate(1191.8 2222.7) rotate(0) scale(0.88 1)" font-size="13" text-anchor="middle" class="ls" fill="#444" stroke="#444" stroke-width="0.22">mm</text>
<text transform="translate(1083 2417.76) rotate(0) scale(0.78 1)" font-size="16" text-anchor="middle" class="ls" fill="#1a1a1a" stroke="#1a1a1a" stroke-width="0.22">-2</text>
<text transform="translate(1100 2417.76) rotate(0) scale(0.78 1)" font-size="16" text-anchor="middle" class="ls" fill="#1a1a1a" stroke="#1a1a1a" stroke-width="0.22">-1</text>
<text transform="translate(1116 2417.76) rotate(0) scale(0.78 1)" font-size="16" text-anchor="middle" class="ls" fill="#1a1a1a" stroke="#1a1a1a" stroke-width="0.22">0</text>
<text transform="translate(1133.5 2417.76) rotate(0) scale(0.78 1)" font-size="16" text-anchor="middle" class="ls" fill="#1a1a1a" stroke="#1a1a1a" stroke-width="0.22">1</text>
<text transform="translate(31.8 1976.1) rotate(0) scale(0.9 1)" font-size="12" text-anchor="middle" class="ls" fill="#1a1a1a" stroke="#1a1a1a" stroke-width="0.22">x</text>
<line x1="39.5" y1="1973" x2="50.5" y2="1973" stroke="#e8407a" stroke-width="1.2"/>
<path d="M37.5 1973 l3.5 -1.8v3.6z" fill="#e8407a"/>
<text transform="translate(53.5 1976.1) rotate(0) scale(0.9 1)" font-size="12" text-anchor="middle" class="ls" fill="#557" stroke="#557" stroke-width="0.22">z</text>
<line x1="53" y1="1977.1" x2="53" y2="1991.6" stroke="#5fba7d" stroke-width="1.2"/>
<text transform="translate(53 2003.6) rotate(0) scale(0.9 1)" font-size="12" text-anchor="middle" class="ls" fill="#1a1a1a" stroke="#1a1a1a" stroke-width="0.22">y</text>
<text transform="translate(619.3 1976.1) rotate(0) scale(0.9 1)" font-size="12" text-anchor="middle" class="ls" fill="#1a1a1a" stroke="#1a1a1a" stroke-width="0.22">x</text>
<line x1="627" y1="1973" x2="638" y2="1973" stroke="#e8407a" stroke-width="1.2"/>
<path d="M625 1973 l3.5 -1.8v3.6z" fill="#e8407a"/>
<text transform="translate(641 1976.1) rotate(0) scale(0.9 1)" font-size="12" text-anchor="middle" class="ls" fill="#557" stroke="#557" stroke-width="0.22">z</text>
<line x1="640.5" y1="1977.1" x2="640.5" y2="1991.6" stroke="#5fba7d" stroke-width="1.2"/>
<text transform="translate(640.5 2003.6) rotate(0) scale(0.9 1)" font-size="12" text-anchor="middle" class="ls" fill="#1a1a1a" stroke="#1a1a1a" stroke-width="0.22">y</text>
<text transform="translate(31.8 2387.5) rotate(0) scale(0.9 1)" font-size="12" text-anchor="middle" class="ls" fill="#1a1a1a" stroke="#1a1a1a" stroke-width="0.22">x</text>
<line x1="39.5" y1="2384.4" x2="50.5" y2="2384.4" stroke="#e8407a" stroke-width="1.2"/>
<path d="M37.5 2384.4 l3.5 -1.8v3.6z" fill="#e8407a"/>
<text transform="translate(53.5 2387.5) rotate(0) scale(0.9 1)" font-size="12" text-anchor="middle" class="ls" fill="#557" stroke="#557" stroke-width="0.22">z</text>
<line x1="53" y1="2388.5" x2="53" y2="2403" stroke="#5fba7d" stroke-width="1.2"/>
<text transform="translate(53 2415) rotate(0) scale(0.9 1)" font-size="12" text-anchor="middle" class="ls" fill="#1a1a1a" stroke="#1a1a1a" stroke-width="0.22">y</text>
<text transform="translate(619.3 2391.5) rotate(0) scale(0.9 1)" font-size="12" text-anchor="middle" class="ls" fill="#1a1a1a" stroke="#1a1a1a" stroke-width="0.22">x</text>
<line x1="627" y1="2388.4" x2="638" y2="2388.4" stroke="#e8407a" stroke-width="1.2"/>
<path d="M625 2388.4 l3.5 -1.8v3.6z" fill="#e8407a"/>
<text transform="translate(641 2391.5) rotate(0) scale(0.9 1)" font-size="12" text-anchor="middle" class="ls" fill="#557" stroke="#557" stroke-width="0.22">z</text>
<line x1="640.5" y1="2392.5" x2="640.5" y2="2407" stroke="#5fba7d" stroke-width="1.2"/>
<text transform="translate(640.5 2419) rotate(0) scale(0.9 1)" font-size="12" text-anchor="middle" class="ls" fill="#1a1a1a" stroke="#1a1a1a" stroke-width="0.22">y</text>
<rect x="347.4" y="1721.4" width="16" height="242.3" fill="url(#jet)" stroke="#1a1a40" stroke-opacity="0.45" stroke-width="0.8"/>
<text transform="translate(370.9 1732.3) rotate(0) scale(0.78 1)" font-size="17" text-anchor="start" class="ls" fill="#1a1a1a" stroke="#1a1a1a" stroke-width="0.22">2</text>
<line x1="347.4" y1="1749.89" x2="349.9" y2="1749.89" stroke="#111" stroke-width="0.9" stroke-opacity="0.6"/>
<line x1="360.9" y1="1749.89" x2="363.4" y2="1749.89" stroke="#111" stroke-width="0.9" stroke-opacity="0.6"/>
<text transform="translate(370.9 1756.09) rotate(0) scale(0.78 1)" font-size="17" text-anchor="start" class="ls" fill="#1a1a1a" stroke="#1a1a1a" stroke-width="0.22">1.8</text>
<line x1="347.4" y1="1773.68" x2="349.9" y2="1773.68" stroke="#111" stroke-width="0.9" stroke-opacity="0.6"/>
<line x1="360.9" y1="1773.68" x2="363.4" y2="1773.68" stroke="#111" stroke-width="0.9" stroke-opacity="0.6"/>
<text transform="translate(370.9 1779.88) rotate(0) scale(0.78 1)" font-size="17" text-anchor="start" class="ls" fill="#1a1a1a" stroke="#1a1a1a" stroke-width="0.22">1.6</text>
<line x1="347.4" y1="1797.47" x2="349.9" y2="1797.47" stroke="#111" stroke-width="0.9" stroke-opacity="0.6"/>
<line x1="360.9" y1="1797.47" x2="363.4" y2="1797.47" stroke="#111" stroke-width="0.9" stroke-opacity="0.6"/>
<text transform="translate(370.9 1803.67) rotate(0) scale(0.78 1)" font-size="17" text-anchor="start" class="ls" fill="#1a1a1a" stroke="#1a1a1a" stroke-width="0.22">1.4</text>
<line x1="347.4" y1="1821.26" x2="349.9" y2="1821.26" stroke="#111" stroke-width="0.9" stroke-opacity="0.6"/>
<line x1="360.9" y1="1821.26" x2="363.4" y2="1821.26" stroke="#111" stroke-width="0.9" stroke-opacity="0.6"/>
<text transform="translate(370.9 1827.46) rotate(0) scale(0.78 1)" font-size="17" text-anchor="start" class="ls" fill="#1a1a1a" stroke="#1a1a1a" stroke-width="0.22">1.2</text>
<line x1="347.4" y1="1845.04" x2="349.9" y2="1845.04" stroke="#111" stroke-width="0.9" stroke-opacity="0.6"/>
<line x1="360.9" y1="1845.04" x2="363.4" y2="1845.04" stroke="#111" stroke-width="0.9" stroke-opacity="0.6"/>
<text transform="translate(370.9 1851.24) rotate(0) scale(0.78 1)" font-size="17" text-anchor="start" class="ls" fill="#1a1a1a" stroke="#1a1a1a" stroke-width="0.22">1</text>
<line x1="347.4" y1="1868.83" x2="349.9" y2="1868.83" stroke="#111" stroke-width="0.9" stroke-opacity="0.6"/>
<line x1="360.9" y1="1868.83" x2="363.4" y2="1868.83" stroke="#111" stroke-width="0.9" stroke-opacity="0.6"/>
<text transform="translate(370.9 1875.03) rotate(0) scale(0.78 1)" font-size="17" text-anchor="start" class="ls" fill="#1a1a1a" stroke="#1a1a1a" stroke-width="0.22">0.8</text>
<line x1="347.4" y1="1892.62" x2="349.9" y2="1892.62" stroke="#111" stroke-width="0.9" stroke-opacity="0.6"/>
<line x1="360.9" y1="1892.62" x2="363.4" y2="1892.62" stroke="#111" stroke-width="0.9" stroke-opacity="0.6"/>
<text transform="translate(370.9 1898.82) rotate(0) scale(0.78 1)" font-size="17" text-anchor="start" class="ls" fill="#1a1a1a" stroke="#1a1a1a" stroke-width="0.22">0.6</text>
<line x1="347.4" y1="1916.41" x2="349.9" y2="1916.41" stroke="#111" stroke-width="0.9" stroke-opacity="0.6"/>
<line x1="360.9" y1="1916.41" x2="363.4" y2="1916.41" stroke="#111" stroke-width="0.9" stroke-opacity="0.6"/>
<text transform="translate(370.9 1922.61) rotate(0) scale(0.78 1)" font-size="17" text-anchor="start" class="ls" fill="#1a1a1a" stroke="#1a1a1a" stroke-width="0.22">0.4</text>
<line x1="347.4" y1="1940.2" x2="349.9" y2="1940.2" stroke="#111" stroke-width="0.9" stroke-opacity="0.6"/>
<line x1="360.9" y1="1940.2" x2="363.4" y2="1940.2" stroke="#111" stroke-width="0.9" stroke-opacity="0.6"/>
<text transform="translate(370.9 1946.4) rotate(0) scale(0.78 1)" font-size="17" text-anchor="start" class="ls" fill="#1a1a1a" stroke="#1a1a1a" stroke-width="0.22">0.2</text>
<text transform="translate(364.4 1709.5) scale(0.8 1)" font-size="16" class="ls" fill="#222">×10<tspan dy="-6" font-size="10">-5</tspan></text>
<rect x="938.4" y="1715.4" width="16" height="246.2" fill="url(#jet)" stroke="#1a1a40" stroke-opacity="0.45" stroke-width="0.8"/>
<text transform="translate(962.9 1730.2) rotate(0) scale(0.78 1)" font-size="17" text-anchor="start" class="ls" fill="#1a1a1a" stroke="#1a1a1a" stroke-width="0.22">2</text>
<line x1="938.4" y1="1747.88" x2="940.9" y2="1747.88" stroke="#111" stroke-width="0.9" stroke-opacity="0.6"/>
<line x1="951.9" y1="1747.88" x2="954.4" y2="1747.88" stroke="#111" stroke-width="0.9" stroke-opacity="0.6"/>
<text transform="translate(962.9 1754.08) rotate(0) scale(0.78 1)" font-size="17" text-anchor="start" class="ls" fill="#1a1a1a" stroke="#1a1a1a" stroke-width="0.22">1.8</text>
<line x1="938.4" y1="1771.76" x2="940.9" y2="1771.76" stroke="#111" stroke-width="0.9" stroke-opacity="0.6"/>
<line x1="951.9" y1="1771.76" x2="954.4" y2="1771.76" stroke="#111" stroke-width="0.9" stroke-opacity="0.6"/>
<text transform="translate(962.9 1777.96) rotate(0) scale(0.78 1)" font-size="17" text-anchor="start" class="ls" fill="#1a1a1a" stroke="#1a1a1a" stroke-width="0.22">1.6</text>
<line x1="938.4" y1="1795.63" x2="940.9" y2="1795.63" stroke="#111" stroke-width="0.9" stroke-opacity="0.6"/>
<line x1="951.9" y1="1795.63" x2="954.4" y2="1795.63" stroke="#111" stroke-width="0.9" stroke-opacity="0.6"/>
<text transform="translate(962.9 1801.83) rotate(0) scale(0.78 1)" font-size="17" text-anchor="start" class="ls" fill="#1a1a1a" stroke="#1a1a1a" stroke-width="0.22">1.4</text>
<line x1="938.4" y1="1819.51" x2="940.9" y2="1819.51" stroke="#111" stroke-width="0.9" stroke-opacity="0.6"/>
<line x1="951.9" y1="1819.51" x2="954.4" y2="1819.51" stroke="#111" stroke-width="0.9" stroke-opacity="0.6"/>
<text transform="translate(962.9 1825.71) rotate(0) scale(0.78 1)" font-size="17" text-anchor="start" class="ls" fill="#1a1a1a" stroke="#1a1a1a" stroke-width="0.22">1.2</text>
<line x1="938.4" y1="1843.39" x2="940.9" y2="1843.39" stroke="#111" stroke-width="0.9" stroke-opacity="0.6"/>
<line x1="951.9" y1="1843.39" x2="954.4" y2="1843.39" stroke="#111" stroke-width="0.9" stroke-opacity="0.6"/>
<text transform="translate(962.9 1849.59) rotate(0) scale(0.78 1)" font-size="17" text-anchor="start" class="ls" fill="#1a1a1a" stroke="#1a1a1a" stroke-width="0.22">1</text>
<line x1="938.4" y1="1867.27" x2="940.9" y2="1867.27" stroke="#111" stroke-width="0.9" stroke-opacity="0.6"/>
<line x1="951.9" y1="1867.27" x2="954.4" y2="1867.27" stroke="#111" stroke-width="0.9" stroke-opacity="0.6"/>
<text transform="translate(962.9 1873.47) rotate(0) scale(0.78 1)" font-size="17" text-anchor="start" class="ls" fill="#1a1a1a" stroke="#1a1a1a" stroke-width="0.22">0.8</text>
<line x1="938.4" y1="1891.14" x2="940.9" y2="1891.14" stroke="#111" stroke-width="0.9" stroke-opacity="0.6"/>
<line x1="951.9" y1="1891.14" x2="954.4" y2="1891.14" stroke="#111" stroke-width="0.9" stroke-opacity="0.6"/>
<text transform="translate(962.9 1897.34) rotate(0) scale(0.78 1)" font-size="17" text-anchor="start" class="ls" fill="#1a1a1a" stroke="#1a1a1a" stroke-width="0.22">0.6</text>
<line x1="938.4" y1="1915.02" x2="940.9" y2="1915.02" stroke="#111" stroke-width="0.9" stroke-opacity="0.6"/>
<line x1="951.9" y1="1915.02" x2="954.4" y2="1915.02" stroke="#111" stroke-width="0.9" stroke-opacity="0.6"/>
<text transform="translate(962.9 1921.22) rotate(0) scale(0.78 1)" font-size="17" text-anchor="start" class="ls" fill="#1a1a1a" stroke="#1a1a1a" stroke-width="0.22">0.4</text>
<line x1="938.4" y1="1938.9" x2="940.9" y2="1938.9" stroke="#111" stroke-width="0.9" stroke-opacity="0.6"/>
<line x1="951.9" y1="1938.9" x2="954.4" y2="1938.9" stroke="#111" stroke-width="0.9" stroke-opacity="0.6"/>
<text transform="translate(962.9 1945.1) rotate(0) scale(0.78 1)" font-size="17" text-anchor="start" class="ls" fill="#1a1a1a" stroke="#1a1a1a" stroke-width="0.22">0.2</text>
<text transform="translate(956.1 1703.5) scale(0.8 1)" font-size="16" class="ls" fill="#222">×10<tspan dy="-6" font-size="10">-5</tspan></text>
<rect x="347" y="2129.1" width="16" height="244.6" fill="url(#jet)" stroke="#1a1a40" stroke-opacity="0.45" stroke-width="0.8"/>
<text transform="translate(370.9 2141.8) rotate(0) scale(0.78 1)" font-size="17" text-anchor="start" class="ls" fill="#1a1a1a" stroke="#1a1a1a" stroke-width="0.22">2</text>
<line x1="347" y1="2159.44" x2="349.5" y2="2159.44" stroke="#111" stroke-width="0.9" stroke-opacity="0.6"/>
<line x1="360.5" y1="2159.44" x2="363" y2="2159.44" stroke="#111" stroke-width="0.9" stroke-opacity="0.6"/>
<text transform="translate(370.9 2165.64) rotate(0) scale(0.78 1)" font-size="17" text-anchor="start" class="ls" fill="#1a1a1a" stroke="#1a1a1a" stroke-width="0.22">1.8</text>
<line x1="347" y1="2183.29" x2="349.5" y2="2183.29" stroke="#111" stroke-width="0.9" stroke-opacity="0.6"/>
<line x1="360.5" y1="2183.29" x2="363" y2="2183.29" stroke="#111" stroke-width="0.9" stroke-opacity="0.6"/>
<text transform="translate(370.9 2189.49) rotate(0) scale(0.78 1)" font-size="17" text-anchor="start" class="ls" fill="#1a1a1a" stroke="#1a1a1a" stroke-width="0.22">1.6</text>
<line x1="347" y1="2207.13" x2="349.5" y2="2207.13" stroke="#111" stroke-width="0.9" stroke-opacity="0.6"/>
<line x1="360.5" y1="2207.13" x2="363" y2="2207.13" stroke="#111" stroke-width="0.9" stroke-opacity="0.6"/>
<text transform="translate(370.9 2213.33) rotate(0) scale(0.78 1)" font-size="17" text-anchor="start" class="ls" fill="#1a1a1a" stroke="#1a1a1a" stroke-width="0.22">1.4</text>
<line x1="347" y1="2230.98" x2="349.5" y2="2230.98" stroke="#111" stroke-width="0.9" stroke-opacity="0.6"/>
<line x1="360.5" y1="2230.98" x2="363" y2="2230.98" stroke="#111" stroke-width="0.9" stroke-opacity="0.6"/>
<text transform="translate(370.9 2237.18) rotate(0) scale(0.78 1)" font-size="17" text-anchor="start" class="ls" fill="#1a1a1a" stroke="#1a1a1a" stroke-width="0.22">1.2</text>
<line x1="347" y1="2254.82" x2="349.5" y2="2254.82" stroke="#111" stroke-width="0.9" stroke-opacity="0.6"/>
<line x1="360.5" y1="2254.82" x2="363" y2="2254.82" stroke="#111" stroke-width="0.9" stroke-opacity="0.6"/>
<text transform="translate(370.9 2261.02) rotate(0) scale(0.78 1)" font-size="17" text-anchor="start" class="ls" fill="#1a1a1a" stroke="#1a1a1a" stroke-width="0.22">1</text>
<line x1="347" y1="2278.67" x2="349.5" y2="2278.67" stroke="#111" stroke-width="0.9" stroke-opacity="0.6"/>
<line x1="360.5" y1="2278.67" x2="363" y2="2278.67" stroke="#111" stroke-width="0.9" stroke-opacity="0.6"/>
<text transform="translate(370.9 2284.87) rotate(0) scale(0.78 1)" font-size="17" text-anchor="start" class="ls" fill="#1a1a1a" stroke="#1a1a1a" stroke-width="0.22">0.8</text>
<line x1="347" y1="2302.51" x2="349.5" y2="2302.51" stroke="#111" stroke-width="0.9" stroke-opacity="0.6"/>
<line x1="360.5" y1="2302.51" x2="363" y2="2302.51" stroke="#111" stroke-width="0.9" stroke-opacity="0.6"/>
<text transform="translate(370.9 2308.71) rotate(0) scale(0.78 1)" font-size="17" text-anchor="start" class="ls" fill="#1a1a1a" stroke="#1a1a1a" stroke-width="0.22">0.6</text>
<line x1="347" y1="2326.36" x2="349.5" y2="2326.36" stroke="#111" stroke-width="0.9" stroke-opacity="0.6"/>
<line x1="360.5" y1="2326.36" x2="363" y2="2326.36" stroke="#111" stroke-width="0.9" stroke-opacity="0.6"/>
<text transform="translate(370.9 2332.56) rotate(0) scale(0.78 1)" font-size="17" text-anchor="start" class="ls" fill="#1a1a1a" stroke="#1a1a1a" stroke-width="0.22">0.4</text>
<line x1="347" y1="2350.2" x2="349.5" y2="2350.2" stroke="#111" stroke-width="0.9" stroke-opacity="0.6"/>
<line x1="360.5" y1="2350.2" x2="363" y2="2350.2" stroke="#111" stroke-width="0.9" stroke-opacity="0.6"/>
<text transform="translate(370.9 2356.4) rotate(0) scale(0.78 1)" font-size="17" text-anchor="start" class="ls" fill="#1a1a1a" stroke="#1a1a1a" stroke-width="0.22">0.2</text>
<text transform="translate(364.4 2118.1) scale(0.8 1)" font-size="16" class="ls" fill="#222">×10<tspan dy="-6" font-size="10">-5</tspan></text>
<rect x="939.2" y="2131.4" width="16" height="244.9" fill="url(#jet)" stroke="#1a1a40" stroke-opacity="0.45" stroke-width="0.8"/>
<text transform="translate(963.4 2144.9) rotate(0) scale(0.78 1)" font-size="17" text-anchor="start" class="ls" fill="#1a1a1a" stroke="#1a1a1a" stroke-width="0.22">2</text>
<line x1="939.2" y1="2162.54" x2="941.7" y2="2162.54" stroke="#111" stroke-width="0.9" stroke-opacity="0.6"/>
<line x1="952.7" y1="2162.54" x2="955.2" y2="2162.54" stroke="#111" stroke-width="0.9" stroke-opacity="0.6"/>
<text transform="translate(963.4 2168.74) rotate(0) scale(0.78 1)" font-size="17" text-anchor="start" class="ls" fill="#1a1a1a" stroke="#1a1a1a" stroke-width="0.22">1.8</text>
<line x1="939.2" y1="2186.39" x2="941.7" y2="2186.39" stroke="#111" stroke-width="0.9" stroke-opacity="0.6"/>
<line x1="952.7" y1="2186.39" x2="955.2" y2="2186.39" stroke="#111" stroke-width="0.9" stroke-opacity="0.6"/>
<text transform="translate(963.4 2192.59) rotate(0) scale(0.78 1)" font-size="17" text-anchor="start" class="ls" fill="#1a1a1a" stroke="#1a1a1a" stroke-width="0.22">1.6</text>
<line x1="939.2" y1="2210.23" x2="941.7" y2="2210.23" stroke="#111" stroke-width="0.9" stroke-opacity="0.6"/>
<line x1="952.7" y1="2210.23" x2="955.2" y2="2210.23" stroke="#111" stroke-width="0.9" stroke-opacity="0.6"/>
<text transform="translate(963.4 2216.43) rotate(0) scale(0.78 1)" font-size="17" text-anchor="start" class="ls" fill="#1a1a1a" stroke="#1a1a1a" stroke-width="0.22">1.4</text>
<line x1="939.2" y1="2234.08" x2="941.7" y2="2234.08" stroke="#111" stroke-width="0.9" stroke-opacity="0.6"/>
<line x1="952.7" y1="2234.08" x2="955.2" y2="2234.08" stroke="#111" stroke-width="0.9" stroke-opacity="0.6"/>
<text transform="translate(963.4 2240.28) rotate(0) scale(0.78 1)" font-size="17" text-anchor="start" class="ls" fill="#1a1a1a" stroke="#1a1a1a" stroke-width="0.22">1.2</text>
<line x1="939.2" y1="2257.92" x2="941.7" y2="2257.92" stroke="#111" stroke-width="0.9" stroke-opacity="0.6"/>
<line x1="952.7" y1="2257.92" x2="955.2" y2="2257.92" stroke="#111" stroke-width="0.9" stroke-opacity="0.6"/>
<text transform="translate(963.4 2264.12) rotate(0) scale(0.78 1)" font-size="17" text-anchor="start" class="ls" fill="#1a1a1a" stroke="#1a1a1a" stroke-width="0.22">1</text>
<line x1="939.2" y1="2281.77" x2="941.7" y2="2281.77" stroke="#111" stroke-width="0.9" stroke-opacity="0.6"/>
<line x1="952.7" y1="2281.77" x2="955.2" y2="2281.77" stroke="#111" stroke-width="0.9" stroke-opacity="0.6"/>
<text transform="translate(963.4 2287.97) rotate(0) scale(0.78 1)" font-size="17" text-anchor="start" class="ls" fill="#1a1a1a" stroke="#1a1a1a" stroke-width="0.22">0.8</text>
<line x1="939.2" y1="2305.61" x2="941.7" y2="2305.61" stroke="#111" stroke-width="0.9" stroke-opacity="0.6"/>
<line x1="952.7" y1="2305.61" x2="955.2" y2="2305.61" stroke="#111" stroke-width="0.9" stroke-opacity="0.6"/>
<text transform="translate(963.4 2311.81) rotate(0) scale(0.78 1)" font-size="17" text-anchor="start" class="ls" fill="#1a1a1a" stroke="#1a1a1a" stroke-width="0.22">0.6</text>
<line x1="939.2" y1="2329.46" x2="941.7" y2="2329.46" stroke="#111" stroke-width="0.9" stroke-opacity="0.6"/>
<line x1="952.7" y1="2329.46" x2="955.2" y2="2329.46" stroke="#111" stroke-width="0.9" stroke-opacity="0.6"/>
<text transform="translate(963.4 2335.66) rotate(0) scale(0.78 1)" font-size="17" text-anchor="start" class="ls" fill="#1a1a1a" stroke="#1a1a1a" stroke-width="0.22">0.4</text>
<line x1="939.2" y1="2353.3" x2="941.7" y2="2353.3" stroke="#111" stroke-width="0.9" stroke-opacity="0.6"/>
<line x1="952.7" y1="2353.3" x2="955.2" y2="2353.3" stroke="#111" stroke-width="0.9" stroke-opacity="0.6"/>
<text transform="translate(963.4 2359.5) rotate(0) scale(0.78 1)" font-size="17" text-anchor="start" class="ls" fill="#1a1a1a" stroke="#1a1a1a" stroke-width="0.22">0.2</text>
<text transform="translate(956.9 2119.5) scale(0.8 1)" font-size="16" class="ls" fill="#222">×10<tspan dy="-6" font-size="10">-5</tspan></text>
<text transform="translate(438 1857.2) rotate(-90) scale(1.33 1)" font-size="37.7" text-anchor="middle" class="dv" fill="#050505" stroke="#050505" stroke-width="0.2">Mode 1</text>
<text transform="translate(1035.8 1857.2) rotate(-90) scale(1.33 1)" font-size="37.7" text-anchor="middle" class="dv" fill="#050505" stroke="#050505" stroke-width="0.2">Mode 2</text>
<text transform="translate(444.6 2254.9) rotate(-90) scale(1.33 1)" font-size="37.7" text-anchor="middle" class="dv" fill="#050505" stroke="#050505" stroke-width="0.2">Mode 3</text>
<text transform="translate(1035.8 2243) rotate(-90) scale(1.33 1)" font-size="37.7" text-anchor="middle" class="dv" fill="#050505" stroke="#050505" stroke-width="0.2">Mode 4</text>
</svg></body></html>
